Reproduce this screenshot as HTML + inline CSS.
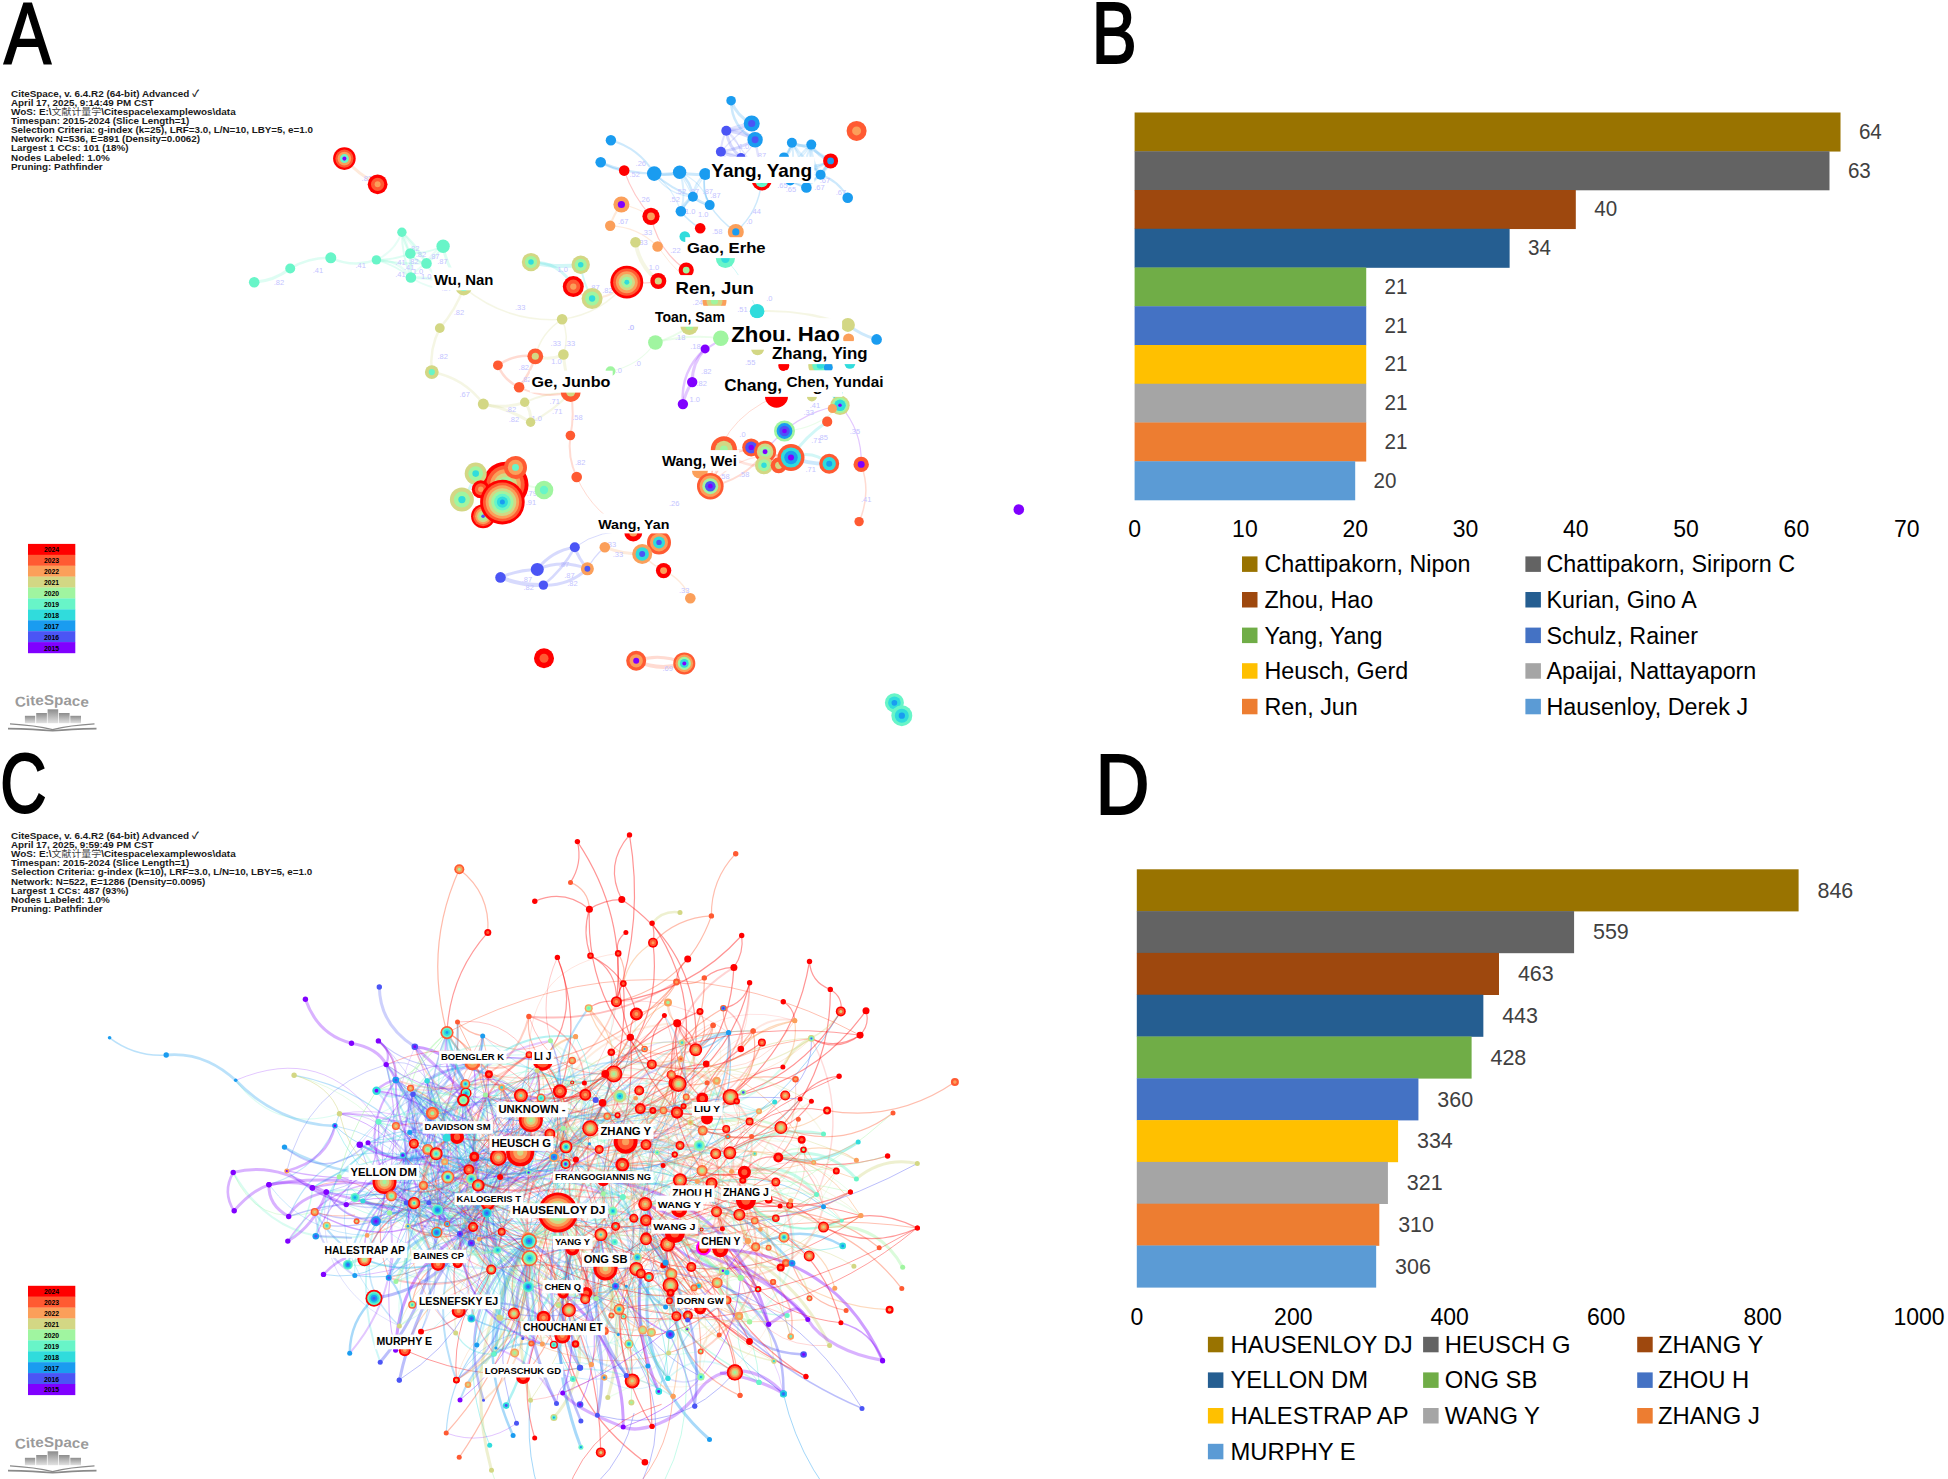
<!DOCTYPE html><html><head><meta charset="utf-8"><title>CiteSpace author networks</title><style>html,body{margin:0;padding:0;background:#fff;width:1948px;height:1479px;overflow:hidden}svg{display:block}</style></head><body><svg width="1948" height="1479" viewBox="0 0 1948 1479"><path d="M654.2,173.6 Q667.1,176.6 679.6,172.2" stroke="#1a9cf0" stroke-opacity="0.16" stroke-width="2.5" fill="none"/><path d="M654.2,173.6 Q667.7,195.0 692.9,196.8" stroke="#1a9cf0" stroke-opacity="0.16" stroke-width="1.2" fill="none"/><path d="M654.2,173.6 Q673.2,188.4 680.9,211.3" stroke="#1a9cf0" stroke-opacity="0.16" stroke-width="1.2" fill="none"/><path d="M679.6,172.2 Q686.7,184.3 692.9,196.8" stroke="#1a9cf0" stroke-opacity="0.16" stroke-width="1.2" fill="none"/><path d="M679.6,172.2 Q702.5,181.5 709.7,205.1" stroke="#1a9cf0" stroke-opacity="0.16" stroke-width="1.2" fill="none"/><path d="M679.6,172.2 Q686.9,191.5 680.9,211.3" stroke="#1a9cf0" stroke-opacity="0.16" stroke-width="2" fill="none"/><path d="M705.2,174.0 Q694.0,182.7 692.9,196.8" stroke="#1a9cf0" stroke-opacity="0.16" stroke-width="2" fill="none"/><path d="M705.2,174.0 Q701.9,190.4 709.7,205.1" stroke="#1a9cf0" stroke-opacity="0.16" stroke-width="1.2" fill="none"/><path d="M705.2,174.0 Q694.3,193.5 680.9,211.3" stroke="#1a9cf0" stroke-opacity="0.16" stroke-width="1.2" fill="none"/><path d="M692.9,196.8 Q699.5,204.7 709.7,205.1" stroke="#1a9cf0" stroke-opacity="0.16" stroke-width="1.2" fill="none"/><path d="M692.9,196.8 Q682.9,200.7 680.9,211.3" stroke="#1a9cf0" stroke-opacity="0.16" stroke-width="1.2" fill="none"/><path d="M784.0,157.4 Q792.0,152.3 791.9,142.8" stroke="#1a9cf0" stroke-opacity="0.16" stroke-width="2.5" fill="none"/><path d="M784.0,157.4 Q797.4,176.4 820.6,174.8" stroke="#1a9cf0" stroke-opacity="0.16" stroke-width="1.2" fill="none"/><path d="M784.0,157.4 Q774.8,170.8 761.7,180.5" stroke="#1a9cf0" stroke-opacity="0.16" stroke-width="1.2" fill="none"/><path d="M791.9,142.8 Q813.1,147.9 830.6,160.9" stroke="#1a9cf0" stroke-opacity="0.16" stroke-width="2.5" fill="none"/><path d="M791.9,142.8 Q804.4,160.5 820.6,174.8" stroke="#1a9cf0" stroke-opacity="0.16" stroke-width="2.5" fill="none"/><path d="M791.9,142.8 Q804.2,163.4 806.4,187.4" stroke="#1a9cf0" stroke-opacity="0.16" stroke-width="2" fill="none"/><path d="M791.9,142.8 Q795.2,161.8 790.2,180.5" stroke="#1a9cf0" stroke-opacity="0.16" stroke-width="2" fill="none"/><path d="M791.9,142.8 Q784.1,167.5 761.7,180.5" stroke="#1a9cf0" stroke-opacity="0.16" stroke-width="2" fill="none"/><path d="M811.3,144.6 Q811.4,161.1 820.6,174.8" stroke="#1a9cf0" stroke-opacity="0.16" stroke-width="2" fill="none"/><path d="M811.3,144.6 Q801.5,165.2 806.4,187.4" stroke="#1a9cf0" stroke-opacity="0.16" stroke-width="2" fill="none"/><path d="M811.3,144.6 Q793.4,158.2 790.2,180.5" stroke="#1a9cf0" stroke-opacity="0.16" stroke-width="2" fill="none"/><path d="M811.3,144.6 Q793.4,172.0 761.7,180.5" stroke="#1a9cf0" stroke-opacity="0.16" stroke-width="1.2" fill="none"/><path d="M830.6,160.9 Q827.7,169.4 820.6,174.8" stroke="#1a9cf0" stroke-opacity="0.16" stroke-width="2" fill="none"/><path d="M830.6,160.9 Q820.8,176.3 806.4,187.4" stroke="#1a9cf0" stroke-opacity="0.16" stroke-width="2.5" fill="none"/><path d="M830.6,160.9 Q810.8,171.6 790.2,180.5" stroke="#1a9cf0" stroke-opacity="0.16" stroke-width="2.5" fill="none"/><path d="M820.6,174.8 Q789.6,161.9 761.7,180.5" stroke="#1a9cf0" stroke-opacity="0.16" stroke-width="1.2" fill="none"/><path d="M806.4,187.4 Q798.4,183.8 790.2,180.5" stroke="#1a9cf0" stroke-opacity="0.16" stroke-width="2" fill="none"/><path d="M790.2,180.5 Q776.0,173.2 761.7,180.5" stroke="#1a9cf0" stroke-opacity="0.16" stroke-width="2.5" fill="none"/><path d="M726.3,130.7 Q721.3,140.6 720.9,151.7" stroke="#4b55f5" stroke-opacity="0.16" stroke-width="2" fill="none"/><path d="M726.3,130.7 Q740.4,140.3 741.0,157.4" stroke="#4b55f5" stroke-opacity="0.16" stroke-width="1.2" fill="none"/><path d="M726.3,130.7 Q738.2,124.2 751.7,123.5" stroke="#4b55f5" stroke-opacity="0.16" stroke-width="2" fill="none"/><path d="M726.3,130.7 Q743.1,127.4 755.1,139.7" stroke="#4b55f5" stroke-opacity="0.16" stroke-width="2.5" fill="none"/><path d="M726.3,130.7 Q746.8,153.6 761.7,180.5" stroke="#4b55f5" stroke-opacity="0.16" stroke-width="1.2" fill="none"/><path d="M720.9,151.7 Q731.5,152.7 741.0,157.4" stroke="#4b55f5" stroke-opacity="0.16" stroke-width="2" fill="none"/><path d="M720.9,151.7 Q735.0,136.2 751.7,123.5" stroke="#4b55f5" stroke-opacity="0.16" stroke-width="1.2" fill="none"/><path d="M720.9,151.7 Q736.1,173.5 761.7,180.5" stroke="#4b55f5" stroke-opacity="0.16" stroke-width="2" fill="none"/><path d="M741.0,157.4 Q750.5,150.5 755.1,139.7" stroke="#4b55f5" stroke-opacity="0.16" stroke-width="1.2" fill="none"/><path d="M741.0,157.4 Q747.4,172.5 761.7,180.5" stroke="#4b55f5" stroke-opacity="0.16" stroke-width="1.2" fill="none"/><path d="M751.7,123.5 Q754.6,131.3 755.1,139.7" stroke="#4b55f5" stroke-opacity="0.16" stroke-width="1.2" fill="none"/><path d="M755.1,139.7 Q759.5,159.9 761.7,180.5" stroke="#4b55f5" stroke-opacity="0.16" stroke-width="2.5" fill="none"/><path d="M401.9,232.2 Q414.4,247.6 426.5,263.4" stroke="#68f5c8" stroke-opacity="0.16" stroke-width="2.5" fill="none"/><path d="M401.9,232.2 Q412.5,253.6 410.9,277.5" stroke="#68f5c8" stroke-opacity="0.16" stroke-width="2" fill="none"/><path d="M401.9,232.2 Q395.0,251.5 376.4,259.9" stroke="#68f5c8" stroke-opacity="0.16" stroke-width="2" fill="none"/><path d="M410.3,253.5 Q415.8,262.7 426.5,263.4" stroke="#68f5c8" stroke-opacity="0.16" stroke-width="2" fill="none"/><path d="M410.3,253.5 Q410.7,265.5 410.9,277.5" stroke="#68f5c8" stroke-opacity="0.16" stroke-width="2.5" fill="none"/><path d="M443.1,246.3 Q431.9,252.0 426.5,263.4" stroke="#68f5c8" stroke-opacity="0.16" stroke-width="2" fill="none"/><path d="M426.5,263.4 Q417.0,268.5 410.9,277.5" stroke="#68f5c8" stroke-opacity="0.16" stroke-width="2" fill="none"/><path d="M426.5,263.4 Q438.2,286.1 463.7,287.4" stroke="#68f5c8" stroke-opacity="0.16" stroke-width="2.5" fill="none"/><path d="M410.9,277.5 Q398.4,259.5 376.4,259.9" stroke="#68f5c8" stroke-opacity="0.16" stroke-width="2.5" fill="none"/><path d="M410.9,277.5 Q435.2,293.6 463.7,287.4" stroke="#68f5c8" stroke-opacity="0.16" stroke-width="2" fill="none"/><path d="M751.2,447.4 Q757.7,451.0 765.1,451.7" stroke="#ff5a32" stroke-opacity="0.16" stroke-width="2" fill="none"/><path d="M751.2,447.4 Q757.6,456.4 764.0,465.3" stroke="#ff5a32" stroke-opacity="0.16" stroke-width="2.5" fill="none"/><path d="M751.2,447.4 Q770.2,455.9 791.0,457.5" stroke="#ff5a32" stroke-opacity="0.16" stroke-width="2.5" fill="none"/><path d="M751.2,447.4 Q720.9,456.4 710.3,486.2" stroke="#ff5a32" stroke-opacity="0.16" stroke-width="1.2" fill="none"/><path d="M764.0,465.3 Q779.1,466.9 791.0,457.5" stroke="#ff5a32" stroke-opacity="0.16" stroke-width="2" fill="none"/><path d="M764.0,465.3 Q739.9,467.4 723.9,449.3" stroke="#ff5a32" stroke-opacity="0.16" stroke-width="2.5" fill="none"/><path d="M778.7,465.3 Q786.2,463.5 791.0,457.5" stroke="#ff5a32" stroke-opacity="0.16" stroke-width="2.5" fill="none"/><path d="M791.0,457.5 Q757.7,451.3 723.9,449.3" stroke="#ff5a32" stroke-opacity="0.16" stroke-width="2.5" fill="none"/><path d="M791.0,457.5 Q742.1,447.8 710.3,486.2" stroke="#ff5a32" stroke-opacity="0.16" stroke-width="1.2" fill="none"/><path d="M723.9,449.3 Q718.4,468.2 710.3,486.2" stroke="#ff5a32" stroke-opacity="0.16" stroke-width="2.5" fill="none"/><path d="M344.4,158.6 Q358.4,174.8 377.6,184.3" stroke="#fb9f5a" stroke-opacity="0.22" stroke-width="3" fill="none"/><path d="M254.2,282.3 Q274.3,280.8 290.2,268.5" stroke="#68f5c8" stroke-opacity="0.22" stroke-width="3" fill="none"/><path d="M290.2,268.5 Q308.9,257.1 330.8,257.8" stroke="#68f5c8" stroke-opacity="0.22" stroke-width="2.5" fill="none"/><path d="M330.8,257.8 Q353.2,268.0 376.4,259.9" stroke="#68f5c8" stroke-opacity="0.22" stroke-width="2.5" fill="none"/><path d="M376.4,259.9 Q394.0,260.1 410.3,253.5" stroke="#68f5c8" stroke-opacity="0.22" stroke-width="2" fill="none"/><path d="M376.4,259.9 Q401.3,264.2 426.5,263.4" stroke="#68f5c8" stroke-opacity="0.22" stroke-width="2" fill="none"/><path d="M376.4,259.9 Q395.4,265.2 410.9,277.5" stroke="#68f5c8" stroke-opacity="0.22" stroke-width="2" fill="none"/><path d="M401.9,232.2 Q404.0,243.7 410.3,253.5" stroke="#68f5c8" stroke-opacity="0.22" stroke-width="2" fill="none"/><path d="M401.9,232.2 Q417.3,245.3 426.5,263.4" stroke="#68f5c8" stroke-opacity="0.22" stroke-width="2" fill="none"/><path d="M410.3,253.5 Q427.4,253.2 443.1,246.3" stroke="#68f5c8" stroke-opacity="0.22" stroke-width="2" fill="none"/><path d="M426.5,263.4 Q436.5,256.5 443.1,246.3" stroke="#68f5c8" stroke-opacity="0.22" stroke-width="2" fill="none"/><path d="M410.9,277.5 Q438.3,277.2 463.7,287.4" stroke="#68f5c8" stroke-opacity="0.22" stroke-width="3" fill="none"/><path d="M443.1,246.3 Q447.2,269.9 463.7,287.4" stroke="#68f5c8" stroke-opacity="0.22" stroke-width="3" fill="none"/><path d="M410.3,253.5 Q416.4,261.7 426.5,263.4" stroke="#68f5c8" stroke-opacity="0.22" stroke-width="2" fill="none"/><path d="M401.9,232.2 Q401.9,255.8 410.9,277.5" stroke="#68f5c8" stroke-opacity="0.22" stroke-width="2" fill="none"/><path d="M463.7,287.4 Q455.8,310.1 439.8,328.1" stroke="#d3d784" stroke-opacity="0.22" stroke-width="2.5" fill="none"/><path d="M463.7,287.4 Q506.5,323.0 562.1,319.3" stroke="#d3d784" stroke-opacity="0.22" stroke-width="1.5" fill="none"/><path d="M439.8,328.1 Q429.2,348.9 431.8,372.1" stroke="#d3d784" stroke-opacity="0.22" stroke-width="2.5" fill="none"/><path d="M431.8,372.1 Q463.9,377.8 483.3,404.1" stroke="#d3d784" stroke-opacity="0.22" stroke-width="2.5" fill="none"/><path d="M483.3,404.1 Q504.3,409.4 524.7,402.3" stroke="#d3d784" stroke-opacity="0.22" stroke-width="3" fill="none"/><path d="M483.3,404.1 Q508.8,408.5 530.6,422.3" stroke="#d3d784" stroke-opacity="0.22" stroke-width="3" fill="none"/><path d="M524.7,402.3 Q531.7,411.1 530.6,422.3" stroke="#d3d784" stroke-opacity="0.22" stroke-width="3" fill="none"/><path d="M530.6,422.3 Q553.7,411.2 570.7,392.0" stroke="#d3d784" stroke-opacity="0.22" stroke-width="2" fill="none"/><path d="M524.7,402.3 Q546.7,392.5 570.7,392.0" stroke="#d3d784" stroke-opacity="0.22" stroke-width="2" fill="none"/><path d="M562.1,319.3 Q541.3,332.4 535.3,356.3" stroke="#d3d784" stroke-opacity="0.22" stroke-width="1.5" fill="none"/><path d="M562.1,319.3 Q569.8,336.6 563.4,354.5" stroke="#d3d784" stroke-opacity="0.22" stroke-width="1.5" fill="none"/><path d="M535.3,356.3 Q549.7,361.0 563.4,354.5" stroke="#d3d784" stroke-opacity="0.22" stroke-width="3" fill="none"/><path d="M563.4,354.5 Q565.2,373.6 570.7,392.0" stroke="#d3d784" stroke-opacity="0.22" stroke-width="3" fill="none"/><path d="M535.3,356.3 Q514.8,353.3 497.9,365.3" stroke="#ff5a32" stroke-opacity="0.22" stroke-width="2.5" fill="none"/><path d="M497.9,365.3 Q504.1,380.5 519.1,387.2" stroke="#ff5a32" stroke-opacity="0.22" stroke-width="2.5" fill="none"/><path d="M535.3,356.3 Q530.3,373.4 519.1,387.2" stroke="#ff5a32" stroke-opacity="0.22" stroke-width="2.5" fill="none"/><path d="M519.1,387.2 Q543.9,399.9 570.7,392.0" stroke="#ff5a32" stroke-opacity="0.22" stroke-width="2" fill="none"/><path d="M570.7,392.0 Q574.9,413.8 570.4,435.5" stroke="#ff5a32" stroke-opacity="0.22" stroke-width="2" fill="none"/><path d="M570.4,435.5 Q567.3,457.2 576.7,477.0" stroke="#ff5a32" stroke-opacity="0.22" stroke-width="2" fill="none"/><path d="M562.1,319.3 Q601.9,313.7 626.8,282.2" stroke="#d3d784" stroke-opacity="0.22" stroke-width="1.5" fill="none"/><path d="M531.0,262.1 Q555.6,268.4 580.7,264.8" stroke="#30dcdc" stroke-opacity="0.22" stroke-width="4" fill="none"/><path d="M531.0,262.1 Q559.5,261.7 573.3,286.6" stroke="#30dcdc" stroke-opacity="0.22" stroke-width="3" fill="none"/><path d="M580.7,264.8 Q583.0,282.8 592.1,298.5" stroke="#30dcdc" stroke-opacity="0.22" stroke-width="2" fill="none"/><path d="M573.3,286.6 Q580.3,296.3 592.1,298.5" stroke="#fb9f5a" stroke-opacity="0.22" stroke-width="2" fill="none"/><path d="M592.1,298.5 Q612.7,297.3 626.8,282.2" stroke="#fb9f5a" stroke-opacity="0.22" stroke-width="2" fill="none"/><path d="M626.8,282.2 Q642.7,284.8 658.3,281.0" stroke="#ff0000" stroke-opacity="0.22" stroke-width="1.2" fill="none"/><path d="M610.5,371.2 Q638.7,365.8 655.4,342.5" stroke="#a0f5a0" stroke-opacity="0.22" stroke-width="1.2" fill="none"/><path d="M655.4,342.5 Q687.7,333.9 720.8,338.3" stroke="#a0f5a0" stroke-opacity="0.22" stroke-width="2" fill="none"/><path d="M655.4,342.5 Q674.0,337.6 689.4,326.0" stroke="#a0f5a0" stroke-opacity="0.22" stroke-width="2" fill="none"/><path d="M705.1,348.9 Q692.0,362.9 692.2,382.1" stroke="#8000ff" stroke-opacity="0.22" stroke-width="3" fill="none"/><path d="M692.2,382.1 Q685.3,392.2 682.9,404.1" stroke="#8000ff" stroke-opacity="0.22" stroke-width="3" fill="none"/><path d="M705.1,348.9 Q680.2,370.9 682.9,404.1" stroke="#8000ff" stroke-opacity="0.22" stroke-width="2.5" fill="none"/><path d="M705.1,348.9 Q714.0,345.2 720.8,338.3" stroke="#8000ff" stroke-opacity="0.22" stroke-width="2" fill="none"/><path d="M610.9,140.3 Q639.2,148.3 654.2,173.6" stroke="#1a9cf0" stroke-opacity="0.22" stroke-width="2" fill="none"/><path d="M600.7,162.3 Q626.3,173.3 654.2,173.6" stroke="#1a9cf0" stroke-opacity="0.22" stroke-width="2.5" fill="none"/><path d="M654.2,173.6 Q667.0,175.4 679.6,172.2" stroke="#1a9cf0" stroke-opacity="0.22" stroke-width="3" fill="none"/><path d="M679.6,172.2 Q692.2,175.7 705.2,174.0" stroke="#1a9cf0" stroke-opacity="0.22" stroke-width="3" fill="none"/><path d="M654.2,173.6 Q671.2,189.1 692.9,196.8" stroke="#1a9cf0" stroke-opacity="0.22" stroke-width="2" fill="none"/><path d="M679.6,172.2 Q691.2,181.8 692.9,196.8" stroke="#1a9cf0" stroke-opacity="0.22" stroke-width="2.5" fill="none"/><path d="M692.9,196.8 Q700.5,202.6 709.7,205.1" stroke="#1a9cf0" stroke-opacity="0.22" stroke-width="2.5" fill="none"/><path d="M692.9,196.8 Q685.4,202.9 680.9,211.3" stroke="#1a9cf0" stroke-opacity="0.22" stroke-width="2.5" fill="none"/><path d="M705.2,174.0 Q701.2,190.5 709.7,205.1" stroke="#1a9cf0" stroke-opacity="0.22" stroke-width="2" fill="none"/><path d="M680.9,211.3 Q688.8,221.7 700.2,228.3" stroke="#1a9cf0" stroke-opacity="0.22" stroke-width="1.5" fill="none"/><path d="M709.7,205.1 Q720.1,221.1 735.8,231.9" stroke="#1a9cf0" stroke-opacity="0.22" stroke-width="1.5" fill="none"/><path d="M761.7,180.5 Q759.0,211.4 735.8,231.9" stroke="#1a9cf0" stroke-opacity="0.22" stroke-width="1.5" fill="none"/><path d="M731.1,100.7 Q736.8,116.2 751.7,123.5" stroke="#1a9cf0" stroke-opacity="0.22" stroke-width="3" fill="none"/><path d="M731.1,100.7 Q731.4,127.4 755.1,139.7" stroke="#1a9cf0" stroke-opacity="0.22" stroke-width="2.5" fill="none"/><path d="M726.3,130.7 Q728.3,147.0 741.0,157.4" stroke="#4b55f5" stroke-opacity="0.22" stroke-width="3" fill="none"/><path d="M720.9,151.7 Q739.2,149.1 755.1,139.7" stroke="#4b55f5" stroke-opacity="0.22" stroke-width="3" fill="none"/><path d="M726.3,130.7 Q741.6,132.3 755.1,139.7" stroke="#4b55f5" stroke-opacity="0.22" stroke-width="3" fill="none"/><path d="M726.3,130.7 Q739.7,129.6 751.7,123.5" stroke="#4b55f5" stroke-opacity="0.22" stroke-width="3" fill="none"/><path d="M741.0,157.4 Q749.0,171.0 761.7,180.5" stroke="#4b55f5" stroke-opacity="0.22" stroke-width="2.5" fill="none"/><path d="M720.9,151.7 Q730.4,156.6 741.0,157.4" stroke="#4b55f5" stroke-opacity="0.22" stroke-width="3" fill="none"/><path d="M784.0,157.4 Q789.4,150.9 791.9,142.8" stroke="#1a9cf0" stroke-opacity="0.22" stroke-width="2" fill="none"/><path d="M791.9,142.8 Q801.2,147.6 811.3,144.6" stroke="#1a9cf0" stroke-opacity="0.22" stroke-width="3" fill="none"/><path d="M811.3,144.6 Q817.7,156.6 830.6,160.9" stroke="#1a9cf0" stroke-opacity="0.22" stroke-width="3" fill="none"/><path d="M784.0,157.4 Q806.2,173.1 830.6,160.9" stroke="#1a9cf0" stroke-opacity="0.22" stroke-width="2.5" fill="none"/><path d="M830.6,160.9 Q824.2,166.9 820.6,174.8" stroke="#1a9cf0" stroke-opacity="0.22" stroke-width="2" fill="none"/><path d="M820.6,174.8 Q812.2,179.7 806.4,187.4" stroke="#1a9cf0" stroke-opacity="0.22" stroke-width="2" fill="none"/><path d="M790.2,180.5 Q797.6,185.6 806.4,187.4" stroke="#1a9cf0" stroke-opacity="0.22" stroke-width="2" fill="none"/><path d="M820.6,174.8 Q838.7,180.8 847.7,197.7" stroke="#1a9cf0" stroke-opacity="0.22" stroke-width="2" fill="none"/><path d="M811.3,144.6 Q806.9,162.5 820.6,174.8" stroke="#1a9cf0" stroke-opacity="0.22" stroke-width="2" fill="none"/><path d="M600.7,162.3 Q611.6,168.8 624.2,170.6" stroke="#1a9cf0" stroke-opacity="0.22" stroke-width="2" fill="none"/><path d="M624.2,170.6 Q633.0,196.1 651.0,216.3" stroke="#ff0000" stroke-opacity="0.22" stroke-width="1.2" fill="none"/><path d="M621.4,204.5 Q613.7,214.0 610.2,225.8" stroke="#fb9f5a" stroke-opacity="0.22" stroke-width="2" fill="none"/><path d="M610.2,225.8 Q638.0,226.7 657.6,246.5" stroke="#fb9f5a" stroke-opacity="0.22" stroke-width="1.2" fill="none"/><path d="M621.4,204.5 Q637.4,207.4 651.0,216.3" stroke="#fb9f5a" stroke-opacity="0.22" stroke-width="1.2" fill="none"/><path d="M651.0,216.3 Q657.8,250.2 686.2,270.1" stroke="#ff0000" stroke-opacity="0.22" stroke-width="1.2" fill="none"/><path d="M635.5,242.2 Q639.1,266.2 658.3,281.0" stroke="#d3d784" stroke-opacity="0.22" stroke-width="4" fill="none"/><path d="M657.6,246.5 Q680.6,279.4 714.5,301.0" stroke="#fb9f5a" stroke-opacity="0.22" stroke-width="1" fill="none"/><path d="M725.4,258.6 Q746.5,281.7 757.1,311.2" stroke="#30dcdc" stroke-opacity="0.22" stroke-width="1" fill="none"/><path d="M757.1,311.2 Q803.9,309.0 847.9,324.9" stroke="#d3d784" stroke-opacity="0.22" stroke-width="2" fill="none"/><path d="M847.9,324.9 Q860.8,335.0 876.6,339.4" stroke="#1a9cf0" stroke-opacity="0.22" stroke-width="3" fill="none"/><path d="M784.5,431.0 Q817.4,429.2 840.0,405.3" stroke="#a0f5a0" stroke-opacity="0.22" stroke-width="1.2" fill="none"/><path d="M840.0,405.3 Q862.4,430.6 861.2,464.4" stroke="#8000ff" stroke-opacity="0.22" stroke-width="1.2" fill="none"/><path d="M791.0,457.5 Q809.5,464.4 829.2,463.7" stroke="#1a9cf0" stroke-opacity="0.22" stroke-width="4" fill="none"/><path d="M791.0,457.5 Q812.0,449.1 829.2,463.7" stroke="#30dcdc" stroke-opacity="0.22" stroke-width="3" fill="none"/><path d="M827.2,421.7 Q805.5,436.0 791.0,457.5" stroke="#30dcdc" stroke-opacity="0.22" stroke-width="3" fill="none"/><path d="M840.0,405.3 Q793.3,413.5 765.1,451.7" stroke="#8000ff" stroke-opacity="0.22" stroke-width="1.2" fill="none"/><path d="M861.2,464.4 Q871.6,493.4 859.1,521.6" stroke="#ff5a32" stroke-opacity="0.22" stroke-width="1.5" fill="none"/><path d="M776.5,396.2 Q716.4,421.3 710.3,486.2" stroke="#ff5a32" stroke-opacity="0.22" stroke-width="1" fill="none"/><path d="M723.9,449.3 Q709.7,465.0 710.3,486.2" stroke="#ff5a32" stroke-opacity="0.22" stroke-width="1.5" fill="none"/><path d="M710.3,486.2 Q744.6,479.9 765.1,451.7" stroke="#ff5a32" stroke-opacity="0.22" stroke-width="2" fill="none"/><path d="M576.7,477.0 Q593.9,516.0 633.3,532.4" stroke="#ff5a32" stroke-opacity="0.22" stroke-width="1" fill="none"/><path d="M690.3,598.2 Q682.5,579.1 663.6,570.6" stroke="#fb9f5a" stroke-opacity="0.22" stroke-width="1.5" fill="none"/><path d="M659.0,542.4 Q649.4,546.5 642.2,554.0" stroke="#fb9f5a" stroke-opacity="0.22" stroke-width="2" fill="none"/><path d="M604.8,547.2 Q622.8,554.3 642.2,554.0" stroke="#fb9f5a" stroke-opacity="0.22" stroke-width="3" fill="none"/><path d="M642.2,554.0 Q651.2,564.4 663.6,570.6" stroke="#fb9f5a" stroke-opacity="0.22" stroke-width="1.5" fill="none"/><path d="M574.8,547.3 Q551.6,550.8 537.3,569.4" stroke="#4b55f5" stroke-opacity="0.22" stroke-width="3" fill="none"/><path d="M537.3,569.4 Q518.1,569.7 500.5,577.4" stroke="#4b55f5" stroke-opacity="0.22" stroke-width="3" fill="none"/><path d="M500.5,577.4 Q521.2,585.5 543.4,585.1" stroke="#4b55f5" stroke-opacity="0.22" stroke-width="4" fill="none"/><path d="M537.3,569.4 Q562.2,559.1 587.4,568.8" stroke="#4b55f5" stroke-opacity="0.22" stroke-width="3" fill="none"/><path d="M543.4,585.1 Q568.7,585.8 587.4,568.8" stroke="#4b55f5" stroke-opacity="0.22" stroke-width="3" fill="none"/><path d="M574.8,547.3 Q578.9,559.3 587.4,568.8" stroke="#4b55f5" stroke-opacity="0.22" stroke-width="3" fill="none"/><path d="M543.4,585.1 Q562.9,569.3 574.8,547.3" stroke="#4b55f5" stroke-opacity="0.22" stroke-width="2.5" fill="none"/><path d="M587.4,568.8 Q593.9,556.3 604.8,547.2" stroke="#4b55f5" stroke-opacity="0.22" stroke-width="1.2" fill="none"/><path d="M574.8,547.3 Q601.1,528.1 633.3,532.4" stroke="#4b55f5" stroke-opacity="0.22" stroke-width="1" fill="none"/><path d="M461.9,499.6 Q471.4,488.0 475.7,473.6" stroke="#30dcdc" stroke-opacity="0.22" stroke-width="3" fill="none"/><path d="M544.0,490.0 Q525.3,483.5 505.5,484.7" stroke="#a0f5a0" stroke-opacity="0.22" stroke-width="2" fill="none"/><path d="M636.2,660.8 Q659.7,671.7 684.3,663.4" stroke="#ff5a32" stroke-opacity="0.22" stroke-width="4" fill="none"/><path d="M636.2,660.8 Q660.8,652.5 684.3,663.4" stroke="#ff5a32" stroke-opacity="0.22" stroke-width="3" fill="none"/><path d="M894.4,702.8 Q898.1,709.2 901.8,715.7" stroke="#68f5c8" stroke-opacity="0.22" stroke-width="2" fill="none"/><text x="366.8" y="181.1" font-family="Liberation Sans" font-size="7.5" fill="#c4c4ff" text-anchor="middle">.82</text><text x="278.9" y="284.8" font-family="Liberation Sans" font-size="7.5" fill="#c4c4ff" text-anchor="middle">.82</text><text x="317.9" y="272.5" font-family="Liberation Sans" font-size="7.5" fill="#c4c4ff" text-anchor="middle">.41</text><text x="360.6" y="267.9" font-family="Liberation Sans" font-size="7.5" fill="#c4c4ff" text-anchor="middle">.41</text><text x="414.2" y="250.9" font-family="Liberation Sans" font-size="7.5" fill="#c4c4ff" text-anchor="middle">.82</text><text x="421.0" y="256.6" font-family="Liberation Sans" font-size="7.5" fill="#c4c4ff" text-anchor="middle">.82</text><text x="434.3" y="258.7" font-family="Liberation Sans" font-size="7.5" fill="#c4c4ff" text-anchor="middle">.87</text><text x="442.5" y="263.8" font-family="Liberation Sans" font-size="7.5" fill="#c4c4ff" text-anchor="middle">.87</text><text x="400.4" y="264.8" font-family="Liberation Sans" font-size="7.5" fill="#c4c4ff" text-anchor="middle">.41</text><text x="413.4" y="263.8" font-family="Liberation Sans" font-size="7.5" fill="#c4c4ff" text-anchor="middle">.82</text><text x="409.1" y="270.0" font-family="Liberation Sans" font-size="7.5" fill="#c4c4ff" text-anchor="middle">.41</text><text x="417.9" y="274.1" font-family="Liberation Sans" font-size="7.5" fill="#c4c4ff" text-anchor="middle">1.0</text><text x="400.4" y="277.2" font-family="Liberation Sans" font-size="7.5" fill="#c4c4ff" text-anchor="middle">.41</text><text x="426.1" y="279.2" font-family="Liberation Sans" font-size="7.5" fill="#c4c4ff" text-anchor="middle">1.0</text><text x="446.6" y="290.5" font-family="Liberation Sans" font-size="7.5" fill="#c4c4ff" text-anchor="middle">.87</text><text x="562.6" y="271.8" font-family="Liberation Sans" font-size="7.5" fill="#c4c4ff" text-anchor="middle">1.0</text><text x="594.5" y="289.5" font-family="Liberation Sans" font-size="7.5" fill="#c4c4ff" text-anchor="middle">.87</text><text x="607.4" y="293.4" font-family="Liberation Sans" font-size="7.5" fill="#c4c4ff" text-anchor="middle">.82</text><text x="520.1" y="310.0" font-family="Liberation Sans" font-size="7.5" fill="#c4c4ff" text-anchor="middle">.33</text><text x="459.0" y="315.1" font-family="Liberation Sans" font-size="7.5" fill="#c4c4ff" text-anchor="middle">.82</text><text x="442.7" y="358.8" font-family="Liberation Sans" font-size="7.5" fill="#c4c4ff" text-anchor="middle">.82</text><text x="555.8" y="346.2" font-family="Liberation Sans" font-size="7.5" fill="#c4c4ff" text-anchor="middle">.33</text><text x="570.0" y="345.6" font-family="Liberation Sans" font-size="7.5" fill="#c4c4ff" text-anchor="middle">.33</text><text x="556.5" y="364.1" font-family="Liberation Sans" font-size="7.5" fill="#c4c4ff" text-anchor="middle">1.0</text><text x="523.8" y="369.6" font-family="Liberation Sans" font-size="7.5" fill="#c4c4ff" text-anchor="middle">.82</text><text x="526.3" y="382.0" font-family="Liberation Sans" font-size="7.5" fill="#c4c4ff" text-anchor="middle">.82</text><text x="464.7" y="396.7" font-family="Liberation Sans" font-size="7.5" fill="#c4c4ff" text-anchor="middle">.67</text><text x="510.9" y="411.5" font-family="Liberation Sans" font-size="7.5" fill="#c4c4ff" text-anchor="middle">.82</text><text x="554.6" y="403.5" font-family="Liberation Sans" font-size="7.5" fill="#c4c4ff" text-anchor="middle">.71</text><text x="557.1" y="414.0" font-family="Liberation Sans" font-size="7.5" fill="#c4c4ff" text-anchor="middle">.71</text><text x="514.0" y="421.8" font-family="Liberation Sans" font-size="7.5" fill="#c4c4ff" text-anchor="middle">.82</text><text x="536.7" y="421.4" font-family="Liberation Sans" font-size="7.5" fill="#c4c4ff" text-anchor="middle">1.0</text><text x="577.4" y="420.2" font-family="Liberation Sans" font-size="7.5" fill="#c4c4ff" text-anchor="middle">.58</text><text x="631.0" y="329.6" font-family="Liberation Sans" font-size="7.5" fill="#c4c4ff" text-anchor="middle">.0</text><text x="618.7" y="373.3" font-family="Liberation Sans" font-size="7.5" fill="#c4c4ff" text-anchor="middle">.0</text><text x="640.8" y="166.0" font-family="Liberation Sans" font-size="7.5" fill="#c4c4ff" text-anchor="middle">.26</text><text x="634.7" y="176.5" font-family="Liberation Sans" font-size="7.5" fill="#c4c4ff" text-anchor="middle">.52</text><text x="644.7" y="202.2" font-family="Liberation Sans" font-size="7.5" fill="#c4c4ff" text-anchor="middle">.26</text><text x="623.1" y="223.8" font-family="Liberation Sans" font-size="7.5" fill="#c4c4ff" text-anchor="middle">.67</text><text x="647.0" y="234.6" font-family="Liberation Sans" font-size="7.5" fill="#c4c4ff" text-anchor="middle">.33</text><text x="642.4" y="244.6" font-family="Liberation Sans" font-size="7.5" fill="#c4c4ff" text-anchor="middle">.33</text><text x="675.5" y="253.1" font-family="Liberation Sans" font-size="7.5" fill="#c4c4ff" text-anchor="middle">.22</text><text x="653.9" y="270.3" font-family="Liberation Sans" font-size="7.5" fill="#c4c4ff" text-anchor="middle">1.0</text><text x="680.9" y="193.8" font-family="Liberation Sans" font-size="7.5" fill="#c4c4ff" text-anchor="middle">.52</text><text x="694.0" y="193.8" font-family="Liberation Sans" font-size="7.5" fill="#c4c4ff" text-anchor="middle">.87</text><text x="707.8" y="193.8" font-family="Liberation Sans" font-size="7.5" fill="#c4c4ff" text-anchor="middle">.87</text><text x="674.7" y="201.5" font-family="Liberation Sans" font-size="7.5" fill="#c4c4ff" text-anchor="middle">.52</text><text x="715.5" y="198.4" font-family="Liberation Sans" font-size="7.5" fill="#c4c4ff" text-anchor="middle">.87</text><text x="690.1" y="213.8" font-family="Liberation Sans" font-size="7.5" fill="#c4c4ff" text-anchor="middle">1.0</text><text x="703.2" y="216.9" font-family="Liberation Sans" font-size="7.5" fill="#c4c4ff" text-anchor="middle">1.0</text><text x="717.1" y="233.8" font-family="Liberation Sans" font-size="7.5" fill="#c4c4ff" text-anchor="middle">.58</text><text x="755.6" y="213.8" font-family="Liberation Sans" font-size="7.5" fill="#c4c4ff" text-anchor="middle">.44</text><text x="749.4" y="223.8" font-family="Liberation Sans" font-size="7.5" fill="#c4c4ff" text-anchor="middle">.0</text><text x="782.5" y="187.6" font-family="Liberation Sans" font-size="7.5" fill="#c4c4ff" text-anchor="middle">.65</text><text x="791.0" y="191.5" font-family="Liberation Sans" font-size="7.5" fill="#c4c4ff" text-anchor="middle">.65</text><text x="824.9" y="183.0" font-family="Liberation Sans" font-size="7.5" fill="#c4c4ff" text-anchor="middle">.67</text><text x="819.5" y="189.9" font-family="Liberation Sans" font-size="7.5" fill="#c4c4ff" text-anchor="middle">.67</text><text x="841.0" y="194.5" font-family="Liberation Sans" font-size="7.5" fill="#c4c4ff" text-anchor="middle">.67</text><text x="744.0" y="149.1" font-family="Liberation Sans" font-size="7.5" fill="#c4c4ff" text-anchor="middle">1.0</text><text x="761.0" y="158.3" font-family="Liberation Sans" font-size="7.5" fill="#c4c4ff" text-anchor="middle">.87</text><text x="697.8" y="304.8" font-family="Liberation Sans" font-size="7.5" fill="#c4c4ff" text-anchor="middle">.24</text><text x="742.5" y="311.8" font-family="Liberation Sans" font-size="7.5" fill="#c4c4ff" text-anchor="middle">.51</text><text x="769.4" y="301.0" font-family="Liberation Sans" font-size="7.5" fill="#c4c4ff" text-anchor="middle">.0</text><text x="630.8" y="329.5" font-family="Liberation Sans" font-size="7.5" fill="#c4c4ff" text-anchor="middle">.0</text><text x="680.1" y="340.3" font-family="Liberation Sans" font-size="7.5" fill="#c4c4ff" text-anchor="middle">.18</text><text x="695.5" y="348.7" font-family="Liberation Sans" font-size="7.5" fill="#c4c4ff" text-anchor="middle">.18</text><text x="637.7" y="365.7" font-family="Liberation Sans" font-size="7.5" fill="#c4c4ff" text-anchor="middle">.0</text><text x="706.3" y="374.1" font-family="Liberation Sans" font-size="7.5" fill="#c4c4ff" text-anchor="middle">.82</text><text x="701.7" y="385.7" font-family="Liberation Sans" font-size="7.5" fill="#c4c4ff" text-anchor="middle">.82</text><text x="694.7" y="401.9" font-family="Liberation Sans" font-size="7.5" fill="#c4c4ff" text-anchor="middle">1.0</text><text x="750.2" y="364.9" font-family="Liberation Sans" font-size="7.5" fill="#c4c4ff" text-anchor="middle">.55</text><text x="814.9" y="408.0" font-family="Liberation Sans" font-size="7.5" fill="#c4c4ff" text-anchor="middle">.41</text><text x="808.7" y="415.0" font-family="Liberation Sans" font-size="7.5" fill="#c4c4ff" text-anchor="middle">.33</text><text x="742.5" y="436.5" font-family="Liberation Sans" font-size="7.5" fill="#c4c4ff" text-anchor="middle">.0</text><text x="854.9" y="434.2" font-family="Liberation Sans" font-size="7.5" fill="#c4c4ff" text-anchor="middle">.35</text><text x="822.6" y="439.6" font-family="Liberation Sans" font-size="7.5" fill="#c4c4ff" text-anchor="middle">.85</text><text x="816.4" y="442.7" font-family="Liberation Sans" font-size="7.5" fill="#c4c4ff" text-anchor="middle">.71</text><text x="866.2" y="501.7" font-family="Liberation Sans" font-size="7.5" fill="#c4c4ff" text-anchor="middle">.41</text><text x="724.5" y="478.9" font-family="Liberation Sans" font-size="7.5" fill="#c4c4ff" text-anchor="middle">.58</text><text x="744.2" y="477.0" font-family="Liberation Sans" font-size="7.5" fill="#c4c4ff" text-anchor="middle">.58</text><text x="810.7" y="472.1" font-family="Liberation Sans" font-size="7.5" fill="#c4c4ff" text-anchor="middle">.71</text><text x="580.2" y="465.3" font-family="Liberation Sans" font-size="7.5" fill="#c4c4ff" text-anchor="middle">.82</text><text x="674.1" y="506.0" font-family="Liberation Sans" font-size="7.5" fill="#c4c4ff" text-anchor="middle">.26</text><text x="617.9" y="557.2" font-family="Liberation Sans" font-size="7.5" fill="#c4c4ff" text-anchor="middle">.33</text><text x="611.0" y="547.2" font-family="Liberation Sans" font-size="7.5" fill="#c4c4ff" text-anchor="middle">.33</text><text x="564.0" y="566.5" font-family="Liberation Sans" font-size="7.5" fill="#c4c4ff" text-anchor="middle">.87</text><text x="527.0" y="581.9" font-family="Liberation Sans" font-size="7.5" fill="#c4c4ff" text-anchor="middle">.87</text><text x="528.6" y="590.0" font-family="Liberation Sans" font-size="7.5" fill="#c4c4ff" text-anchor="middle">.82</text><text x="569.4" y="577.7" font-family="Liberation Sans" font-size="7.5" fill="#c4c4ff" text-anchor="middle">.87</text><text x="572.5" y="586.0" font-family="Liberation Sans" font-size="7.5" fill="#c4c4ff" text-anchor="middle">.82</text><text x="684.1" y="592.7" font-family="Liberation Sans" font-size="7.5" fill="#c4c4ff" text-anchor="middle">.33</text><text x="530.9" y="504.9" font-family="Liberation Sans" font-size="7.5" fill="#c4c4ff" text-anchor="middle">.91</text><text x="531.6" y="496.4" font-family="Liberation Sans" font-size="7.5" fill="#c4c4ff" text-anchor="middle">.79</text><text x="667.6" y="670.8" font-family="Liberation Sans" font-size="7.5" fill="#c4c4ff" text-anchor="middle">.69</text><circle cx="344.4" cy="158.6" r="11.30" fill="#ff0000"/><circle cx="344.4" cy="158.6" r="9.04" fill="#ff5a32"/><circle cx="344.4" cy="158.6" r="6.78" fill="#fb9f5a"/><circle cx="344.4" cy="158.6" r="4.52" fill="#68f5c8"/><circle cx="344.4" cy="158.6" r="2.03" fill="#8000ff"/><circle cx="377.6" cy="184.3" r="9.90" fill="#ff0000"/><circle cx="377.6" cy="184.3" r="6.60" fill="#ff5a32"/><circle cx="377.6" cy="184.3" r="2.97" fill="#fb9f5a"/><circle cx="254.2" cy="282.3" r="5.30" fill="#68f5c8"/><circle cx="290.2" cy="268.5" r="5.00" fill="#68f5c8"/><circle cx="330.8" cy="257.8" r="5.50" fill="#68f5c8"/><circle cx="376.4" cy="259.9" r="4.70" fill="#68f5c8"/><circle cx="401.9" cy="232.2" r="4.70" fill="#68f5c8"/><circle cx="410.3" cy="253.5" r="5.30" fill="#68f5c8"/><circle cx="443.1" cy="246.3" r="6.70" fill="#68f5c8"/><circle cx="426.5" cy="263.4" r="5.30" fill="#68f5c8"/><circle cx="410.9" cy="277.5" r="5.30" fill="#68f5c8"/><circle cx="463.7" cy="287.4" r="8.00" fill="#d3d784"/><circle cx="463.7" cy="287.4" r="3.60" fill="#68f5c8"/><circle cx="531.0" cy="262.1" r="9.20" fill="#d3d784"/><circle cx="531.0" cy="262.1" r="6.13" fill="#a0f5a0"/><circle cx="531.0" cy="262.1" r="2.76" fill="#30dcdc"/><circle cx="580.7" cy="264.8" r="9.20" fill="#d3d784"/><circle cx="580.7" cy="264.8" r="6.13" fill="#a0f5a0"/><circle cx="580.7" cy="264.8" r="2.76" fill="#30dcdc"/><circle cx="592.1" cy="298.5" r="10.50" fill="#d3d784"/><circle cx="592.1" cy="298.5" r="7.00" fill="#a0f5a0"/><circle cx="592.1" cy="298.5" r="3.15" fill="#30dcdc"/><circle cx="573.3" cy="286.6" r="10.50" fill="#ff0000"/><circle cx="573.3" cy="286.6" r="7.00" fill="#ff5a32"/><circle cx="573.3" cy="286.6" r="3.15" fill="#fb9f5a"/><circle cx="626.8" cy="282.2" r="16.40" fill="#ff0000"/><circle cx="626.8" cy="282.2" r="13.67" fill="#ff5a32"/><circle cx="626.8" cy="282.2" r="10.93" fill="#fb9f5a"/><circle cx="626.8" cy="282.2" r="8.20" fill="#d3d784"/><circle cx="626.8" cy="282.2" r="5.47" fill="#a0f5a0"/><circle cx="626.8" cy="282.2" r="2.46" fill="#30dcdc"/><circle cx="658.3" cy="281.0" r="8.00" fill="#ff0000"/><circle cx="658.3" cy="281.0" r="3.60" fill="#d3d784"/><circle cx="439.8" cy="328.1" r="4.90" fill="#d3d784"/><circle cx="562.1" cy="319.3" r="5.30" fill="#d3d784"/><circle cx="431.8" cy="372.1" r="6.90" fill="#d3d784"/><circle cx="431.8" cy="372.1" r="3.11" fill="#68f5c8"/><circle cx="563.4" cy="354.5" r="5.30" fill="#d3d784"/><circle cx="535.3" cy="356.3" r="7.90" fill="#ff5a32"/><circle cx="535.3" cy="356.3" r="3.56" fill="#d3d784"/><circle cx="497.9" cy="365.3" r="4.90" fill="#ff5a32"/><circle cx="519.1" cy="387.2" r="5.30" fill="#ff5a32"/><circle cx="570.4" cy="435.5" r="4.80" fill="#ff5a32"/><circle cx="576.7" cy="477.0" r="5.30" fill="#ff5a32"/><circle cx="570.7" cy="392.0" r="10.00" fill="#ff5a32"/><circle cx="570.7" cy="392.0" r="4.50" fill="#d3d784"/><circle cx="483.3" cy="404.1" r="5.50" fill="#d3d784"/><circle cx="524.7" cy="402.3" r="4.70" fill="#d3d784"/><circle cx="530.6" cy="422.3" r="4.70" fill="#d3d784"/><circle cx="610.5" cy="371.2" r="5.00" fill="#a0f5a0"/><circle cx="655.4" cy="342.5" r="7.30" fill="#a0f5a0"/><circle cx="720.8" cy="338.3" r="7.80" fill="#a0f5a0"/><circle cx="705.1" cy="348.9" r="4.50" fill="#8000ff"/><circle cx="692.2" cy="382.1" r="5.20" fill="#8000ff"/><circle cx="682.9" cy="404.1" r="5.20" fill="#8000ff"/><circle cx="610.9" cy="140.3" r="5.20" fill="#1a9cf0"/><circle cx="600.7" cy="162.3" r="5.30" fill="#1a9cf0"/><circle cx="624.2" cy="170.6" r="5.30" fill="#ff0000"/><circle cx="621.4" cy="204.5" r="8.00" fill="#fb9f5a"/><circle cx="621.4" cy="204.5" r="3.60" fill="#8000ff"/><circle cx="610.2" cy="225.8" r="5.20" fill="#fb9f5a"/><circle cx="651.0" cy="216.3" r="8.60" fill="#ff0000"/><circle cx="651.0" cy="216.3" r="3.87" fill="#fb9f5a"/><circle cx="731.1" cy="100.7" r="4.80" fill="#1a9cf0"/><circle cx="751.7" cy="123.5" r="8.00" fill="#1a9cf0"/><circle cx="751.7" cy="123.5" r="3.60" fill="#4b55f5"/><circle cx="755.1" cy="139.7" r="7.70" fill="#1a9cf0"/><circle cx="755.1" cy="139.7" r="3.47" fill="#4b55f5"/><circle cx="726.3" cy="130.7" r="5.00" fill="#4b55f5"/><circle cx="720.9" cy="151.7" r="5.00" fill="#4b55f5"/><circle cx="741.0" cy="157.4" r="4.50" fill="#4b55f5"/><circle cx="856.6" cy="130.9" r="10.00" fill="#ff5a32"/><circle cx="856.6" cy="130.9" r="4.50" fill="#fb9f5a"/><circle cx="654.2" cy="173.6" r="7.30" fill="#1a9cf0"/><circle cx="679.6" cy="172.2" r="6.70" fill="#1a9cf0"/><circle cx="705.2" cy="174.0" r="6.00" fill="#1a9cf0"/><circle cx="761.7" cy="180.5" r="10.00" fill="#ff0000"/><circle cx="761.7" cy="180.5" r="6.67" fill="#68f5c8"/><circle cx="761.7" cy="180.5" r="3.00" fill="#30dcdc"/><circle cx="791.9" cy="142.8" r="5.00" fill="#1a9cf0"/><circle cx="811.3" cy="144.6" r="5.00" fill="#1a9cf0"/><circle cx="784.0" cy="157.4" r="5.00" fill="#1a9cf0"/><circle cx="820.6" cy="174.8" r="5.00" fill="#1a9cf0"/><circle cx="806.4" cy="187.4" r="5.30" fill="#1a9cf0"/><circle cx="847.7" cy="197.7" r="5.30" fill="#1a9cf0"/><circle cx="790.2" cy="180.5" r="5.00" fill="#1a9cf0"/><circle cx="830.6" cy="160.9" r="7.50" fill="#ff0000"/><circle cx="830.6" cy="160.9" r="3.38" fill="#1a9cf0"/><circle cx="692.9" cy="196.8" r="5.00" fill="#1a9cf0"/><circle cx="709.7" cy="205.1" r="5.00" fill="#1a9cf0"/><circle cx="680.9" cy="211.3" r="5.30" fill="#1a9cf0"/><circle cx="700.2" cy="228.3" r="5.30" fill="#ff0000"/><circle cx="735.8" cy="231.9" r="8.00" fill="#fb9f5a"/><circle cx="735.8" cy="231.9" r="3.60" fill="#1a9cf0"/><circle cx="684.8" cy="236.6" r="5.30" fill="#30dcdc"/><circle cx="635.5" cy="242.2" r="5.30" fill="#d3d784"/><circle cx="657.6" cy="246.5" r="5.30" fill="#fb9f5a"/><circle cx="725.4" cy="258.6" r="9.50" fill="#68f5c8"/><circle cx="725.4" cy="258.6" r="4.28" fill="#30dcdc"/><circle cx="686.2" cy="270.1" r="7.60" fill="#ff0000"/><circle cx="686.2" cy="270.1" r="3.42" fill="#a0f5a0"/><circle cx="714.5" cy="301.0" r="12.00" fill="#fb9f5a"/><circle cx="714.5" cy="301.0" r="8.00" fill="#d3d784"/><circle cx="714.5" cy="301.0" r="3.60" fill="#a0f5a0"/><circle cx="757.1" cy="311.2" r="7.30" fill="#30dcdc"/><circle cx="689.4" cy="326.0" r="9.00" fill="#d3d784"/><circle cx="689.4" cy="326.0" r="4.05" fill="#a0f5a0"/><circle cx="847.9" cy="324.9" r="7.00" fill="#d3d784"/><circle cx="876.6" cy="339.4" r="5.30" fill="#1a9cf0"/><circle cx="848.6" cy="339.0" r="5.50" fill="#fb9f5a"/><circle cx="757.6" cy="348.7" r="6.50" fill="#d3d784"/><circle cx="783.8" cy="365.5" r="5.50" fill="#ff0000"/><circle cx="820.3" cy="365.2" r="12.00" fill="#d3d784"/><circle cx="820.3" cy="365.2" r="8.00" fill="#68f5c8"/><circle cx="820.3" cy="365.2" r="3.60" fill="#30dcdc"/><circle cx="828.3" cy="367.5" r="4.50" fill="#1a9cf0"/><circle cx="849.9" cy="363.3" r="5.50" fill="#30dcdc"/><circle cx="776.5" cy="396.2" r="11.50" fill="#ff0000"/><circle cx="811.9" cy="396.5" r="5.00" fill="#d3d784"/><circle cx="836.5" cy="392.5" r="6.00" fill="#30dcdc"/><circle cx="840.0" cy="405.3" r="9.70" fill="#d3d784"/><circle cx="840.0" cy="405.3" r="7.76" fill="#a0f5a0"/><circle cx="840.0" cy="405.3" r="5.82" fill="#30dcdc"/><circle cx="840.0" cy="405.3" r="3.88" fill="#30dcdc"/><circle cx="840.0" cy="405.3" r="1.75" fill="#8000ff"/><circle cx="832.4" cy="408.5" r="4.60" fill="#fb9f5a"/><circle cx="827.2" cy="421.7" r="5.10" fill="#ff5a32"/><circle cx="784.5" cy="431.0" r="10.50" fill="#a0f5a0"/><circle cx="784.5" cy="431.0" r="7.88" fill="#1a9cf0"/><circle cx="784.5" cy="431.0" r="5.25" fill="#4b55f5"/><circle cx="784.5" cy="431.0" r="2.36" fill="#8000ff"/><circle cx="723.9" cy="449.3" r="13.00" fill="#ff5a32"/><circle cx="723.9" cy="449.3" r="8.67" fill="#d3d784"/><circle cx="723.9" cy="449.3" r="3.90" fill="#a0f5a0"/><circle cx="751.2" cy="447.4" r="9.00" fill="#ff5a32"/><circle cx="751.2" cy="447.4" r="6.00" fill="#4b55f5"/><circle cx="751.2" cy="447.4" r="2.70" fill="#8000ff"/><circle cx="765.1" cy="451.7" r="11.00" fill="#ff5a32"/><circle cx="765.1" cy="451.7" r="8.25" fill="#d3d784"/><circle cx="765.1" cy="451.7" r="5.50" fill="#a0f5a0"/><circle cx="765.1" cy="451.7" r="2.48" fill="#8000ff"/><circle cx="764.0" cy="465.3" r="9.00" fill="#d3d784"/><circle cx="764.0" cy="465.3" r="6.00" fill="#a0f5a0"/><circle cx="764.0" cy="465.3" r="2.70" fill="#30dcdc"/><circle cx="778.7" cy="465.3" r="8.00" fill="#ff5a32"/><circle cx="778.7" cy="465.3" r="3.60" fill="#d3d784"/><circle cx="791.0" cy="457.5" r="13.50" fill="#ff5a32"/><circle cx="791.0" cy="457.5" r="10.12" fill="#30dcdc"/><circle cx="791.0" cy="457.5" r="6.75" fill="#1a9cf0"/><circle cx="791.0" cy="457.5" r="3.04" fill="#8000ff"/><circle cx="829.2" cy="463.7" r="10.00" fill="#ff5a32"/><circle cx="829.2" cy="463.7" r="6.67" fill="#30dcdc"/><circle cx="829.2" cy="463.7" r="3.00" fill="#1a9cf0"/><circle cx="861.2" cy="464.4" r="7.70" fill="#ff5a32"/><circle cx="861.2" cy="464.4" r="3.47" fill="#8000ff"/><circle cx="859.1" cy="521.6" r="4.70" fill="#ff5a32"/><circle cx="699.9" cy="470.5" r="8.00" fill="#fb9f5a"/><circle cx="710.3" cy="486.2" r="13.30" fill="#ff5a32"/><circle cx="710.3" cy="486.2" r="10.64" fill="#fb9f5a"/><circle cx="710.3" cy="486.2" r="7.98" fill="#a0f5a0"/><circle cx="710.3" cy="486.2" r="5.32" fill="#4b55f5"/><circle cx="710.3" cy="486.2" r="2.39" fill="#8000ff"/><circle cx="505.5" cy="484.7" r="23.00" fill="#ff0000"/><circle cx="505.5" cy="484.7" r="19.17" fill="#ff5a32"/><circle cx="505.5" cy="484.7" r="15.33" fill="#fb9f5a"/><circle cx="505.5" cy="484.7" r="11.50" fill="#d3d784"/><circle cx="505.5" cy="484.7" r="7.67" fill="#a0f5a0"/><circle cx="505.5" cy="484.7" r="3.45" fill="#68f5c8"/><circle cx="475.7" cy="473.6" r="11.00" fill="#d3d784"/><circle cx="475.7" cy="473.6" r="7.33" fill="#a0f5a0"/><circle cx="475.7" cy="473.6" r="3.30" fill="#30dcdc"/><circle cx="515.5" cy="467.4" r="11.50" fill="#ff5a32"/><circle cx="515.5" cy="467.4" r="7.67" fill="#fb9f5a"/><circle cx="515.5" cy="467.4" r="3.45" fill="#68f5c8"/><circle cx="480.8" cy="489.3" r="9.00" fill="#ff0000"/><circle cx="480.8" cy="489.3" r="6.00" fill="#ff5a32"/><circle cx="480.8" cy="489.3" r="2.70" fill="#fb9f5a"/><circle cx="461.9" cy="499.6" r="12.00" fill="#d3d784"/><circle cx="461.9" cy="499.6" r="8.00" fill="#a0f5a0"/><circle cx="461.9" cy="499.6" r="3.60" fill="#30dcdc"/><circle cx="483.1" cy="516.2" r="12.00" fill="#ff0000"/><circle cx="483.1" cy="516.2" r="10.00" fill="#ff5a32"/><circle cx="483.1" cy="516.2" r="8.00" fill="#fb9f5a"/><circle cx="483.1" cy="516.2" r="6.00" fill="#d3d784"/><circle cx="483.1" cy="516.2" r="4.00" fill="#a0f5a0"/><circle cx="483.1" cy="516.2" r="1.80" fill="#4b55f5"/><circle cx="502.4" cy="502.1" r="22.30" fill="#ff0000"/><circle cx="502.4" cy="502.1" r="19.51" fill="#ff5a32"/><circle cx="502.4" cy="502.1" r="16.73" fill="#fb9f5a"/><circle cx="502.4" cy="502.1" r="13.94" fill="#d3d784"/><circle cx="502.4" cy="502.1" r="11.15" fill="#a0f5a0"/><circle cx="502.4" cy="502.1" r="8.36" fill="#68f5c8"/><circle cx="502.4" cy="502.1" r="5.58" fill="#30dcdc"/><circle cx="502.4" cy="502.1" r="2.51" fill="#1a9cf0"/><circle cx="544.0" cy="490.0" r="9.30" fill="#a0f5a0"/><circle cx="544.0" cy="490.0" r="4.19" fill="#68f5c8"/><circle cx="633.3" cy="532.4" r="9.00" fill="#ff0000"/><circle cx="633.3" cy="532.4" r="4.05" fill="#fb9f5a"/><circle cx="659.0" cy="542.4" r="12.00" fill="#ff5a32"/><circle cx="659.0" cy="542.4" r="9.00" fill="#fb9f5a"/><circle cx="659.0" cy="542.4" r="6.00" fill="#30dcdc"/><circle cx="659.0" cy="542.4" r="2.70" fill="#4b55f5"/><circle cx="642.2" cy="554.0" r="10.00" fill="#fb9f5a"/><circle cx="642.2" cy="554.0" r="6.67" fill="#30dcdc"/><circle cx="642.2" cy="554.0" r="3.00" fill="#4b55f5"/><circle cx="604.8" cy="547.2" r="5.30" fill="#fb9f5a"/><circle cx="663.6" cy="570.6" r="7.70" fill="#ff0000"/><circle cx="663.6" cy="570.6" r="3.47" fill="#fb9f5a"/><circle cx="690.3" cy="598.2" r="5.30" fill="#fb9f5a"/><circle cx="574.8" cy="547.3" r="5.00" fill="#4b55f5"/><circle cx="537.3" cy="569.4" r="6.50" fill="#4b55f5"/><circle cx="500.5" cy="577.4" r="5.30" fill="#4b55f5"/><circle cx="543.4" cy="585.1" r="4.70" fill="#4b55f5"/><circle cx="587.4" cy="568.8" r="6.50" fill="#fb9f5a"/><circle cx="587.4" cy="568.8" r="2.93" fill="#4b55f5"/><circle cx="544.0" cy="658.2" r="10.00" fill="#ff0000"/><circle cx="544.0" cy="658.2" r="4.50" fill="#ff5a32"/><circle cx="636.2" cy="660.8" r="10.00" fill="#ff5a32"/><circle cx="636.2" cy="660.8" r="6.67" fill="#fb9f5a"/><circle cx="636.2" cy="660.8" r="3.00" fill="#8000ff"/><circle cx="684.3" cy="663.4" r="11.00" fill="#ff5a32"/><circle cx="684.3" cy="663.4" r="8.80" fill="#fb9f5a"/><circle cx="684.3" cy="663.4" r="6.60" fill="#a0f5a0"/><circle cx="684.3" cy="663.4" r="4.40" fill="#30dcdc"/><circle cx="684.3" cy="663.4" r="1.98" fill="#8000ff"/><circle cx="1018.8" cy="509.6" r="5.30" fill="#8000ff"/><circle cx="894.4" cy="702.8" r="9.50" fill="#68f5c8"/><circle cx="894.4" cy="702.8" r="6.33" fill="#30dcdc"/><circle cx="894.4" cy="702.8" r="2.85" fill="#1a9cf0"/><circle cx="901.8" cy="715.7" r="10.50" fill="#68f5c8"/><circle cx="901.8" cy="715.7" r="7.00" fill="#30dcdc"/><circle cx="901.8" cy="715.7" r="3.15" fill="#1a9cf0"/><rect x="432.4" y="267.5" width="63.3" height="22.8" fill="#fff"/><text x="434.0" y="284.7" font-family="Liberation Sans" font-size="15.5" font-weight="bold" fill="#000" textLength="59.4" lengthAdjust="spacingAndGlyphs">Wu, Nan</text><rect x="709.9" y="156.8" width="104.4" height="26.2" fill="#fff"/><text x="711.3" y="176.6" font-family="Liberation Sans" font-size="17.8" font-weight="bold" fill="#000" textLength="100.7" lengthAdjust="spacingAndGlyphs">Yang, Yang</text><rect x="685.3" y="237.2" width="82.7" height="20.9" fill="#fff"/><text x="686.9" y="253.0" font-family="Liberation Sans" font-size="14.2" font-weight="bold" fill="#000" textLength="78.7" lengthAdjust="spacingAndGlyphs">Gao, Erhe</text><rect x="674.0" y="275.1" width="82.2" height="24.9" fill="#fff"/><text x="675.5" y="293.9" font-family="Liberation Sans" font-size="17.0" font-weight="bold" fill="#000" textLength="78.4" lengthAdjust="spacingAndGlyphs">Ren, Jun</text><rect x="653.3" y="305.8" width="74.0" height="20.9" fill="#fff"/><text x="654.9" y="321.6" font-family="Liberation Sans" font-size="14.2" font-weight="bold" fill="#000" textLength="70.0" lengthAdjust="spacingAndGlyphs">Toan, Sam</text><rect x="730.1" y="318.2" width="112.0" height="31.5" fill="#fff"/><text x="731.3" y="342.0" font-family="Liberation Sans" font-size="21.4" font-weight="bold" fill="#000" textLength="108.5" lengthAdjust="spacingAndGlyphs">Zhou, Hao</text><rect x="770.4" y="341.1" width="99.5" height="23.0" fill="#fff"/><text x="772.0" y="358.5" font-family="Liberation Sans" font-size="15.7" font-weight="bold" fill="#000" textLength="95.6" lengthAdjust="spacingAndGlyphs">Zhang, Ying</text><rect x="529.9" y="370.7" width="82.8" height="21.9" fill="#fff"/><text x="531.5" y="387.3" font-family="Liberation Sans" font-size="14.9" font-weight="bold" fill="#000" textLength="78.9" lengthAdjust="spacingAndGlyphs">Ge, Junbo</text><rect x="722.7" y="371.8" width="119.8" height="25.1" fill="#fff"/><text x="724.2" y="390.8" font-family="Liberation Sans" font-size="17.1" font-weight="bold" fill="#000">Chang, Ying</text><rect x="784.8" y="370.3" width="101.0" height="21.7" fill="#fff"/><text x="786.4" y="386.7" font-family="Liberation Sans" font-size="14.8" font-weight="bold" fill="#000" textLength="97.1" lengthAdjust="spacingAndGlyphs">Chen, Yundai</text><rect x="660.2" y="450.1" width="78.9" height="20.7" fill="#fff"/><text x="661.9" y="465.7" font-family="Liberation Sans" font-size="14.1" font-weight="bold" fill="#000" textLength="74.9" lengthAdjust="spacingAndGlyphs">Wang, Wei</text><rect x="596.5" y="513.6" width="75.2" height="19.8" fill="#fff"/><text x="598.2" y="528.6" font-family="Liberation Sans" font-size="13.5" font-weight="bold" fill="#000" textLength="71.2" lengthAdjust="spacingAndGlyphs">Wang, Yan</text><path d="M459.3,869.3 Q490.4,893.2 487.8,932.4" stroke="#ff5a32" stroke-opacity="0.40" stroke-width="1.2" fill="none"/><path d="M459.3,869.3 Q423.6,948.7 447.0,1032.6" stroke="#ff5a32" stroke-opacity="0.42" stroke-width="1.2" fill="none"/><path d="M487.8,932.4 Q449.7,975.3 447.0,1032.6" stroke="#ff0000" stroke-opacity="0.40" stroke-width="1.2" fill="none"/><path d="M534.8,901.2 Q564.6,888.6 589.4,909.3" stroke="#ff0000" stroke-opacity="0.40" stroke-width="1.2" fill="none"/><path d="M577.4,841.6 Q582.7,863.5 570.5,882.4" stroke="#ff0000" stroke-opacity="0.40" stroke-width="1.2" fill="none"/><path d="M577.4,841.6 Q626.4,914.5 616.4,1001.7" stroke="#ff0000" stroke-opacity="0.42" stroke-width="1.2" fill="none"/><path d="M629.5,834.9 Q603.8,864.7 621.8,899.6" stroke="#ff0000" stroke-opacity="0.40" stroke-width="1.2" fill="none"/><path d="M629.5,834.9 Q644.1,920.0 616.4,1001.7" stroke="#ff0000" stroke-opacity="0.42" stroke-width="1.2" fill="none"/><path d="M570.5,882.4 Q588.6,889.8 589.4,909.3" stroke="#ff5a32" stroke-opacity="0.40" stroke-width="1.2" fill="none"/><path d="M621.8,899.6 Q604.1,899.5 589.4,909.3" stroke="#ff0000" stroke-opacity="0.40" stroke-width="1.2" fill="none"/><path d="M621.8,899.6 Q701.0,953.8 695.7,1049.7" stroke="#ff0000" stroke-opacity="0.42" stroke-width="1.2" fill="none"/><path d="M589.4,909.3 Q582.1,932.7 590.5,955.8" stroke="#ff0000" stroke-opacity="0.40" stroke-width="1.2" fill="none"/><path d="M589.4,909.3 Q585.7,1000.9 651.8,1064.4" stroke="#ff0000" stroke-opacity="0.42" stroke-width="1.2" fill="none"/><path d="M557.4,957.4 Q581.4,1013.5 542.8,1060.8" stroke="#ff0000" stroke-opacity="0.40" stroke-width="1.2" fill="none"/><path d="M557.4,957.4 Q583.1,1023.8 559.9,1091.2" stroke="#ff0000" stroke-opacity="0.42" stroke-width="1.2" fill="none"/><path d="M590.5,955.8 Q617.9,970.6 616.4,1001.7" stroke="#ff0000" stroke-opacity="0.40" stroke-width="1.2" fill="none"/><path d="M590.5,955.8 Q627.2,974.0 636.4,1014.0" stroke="#ff0000" stroke-opacity="0.42" stroke-width="1.2" fill="none"/><path d="M618.2,953.4 Q626.8,967.5 623.3,983.6" stroke="#ff5a32" stroke-opacity="0.40" stroke-width="1.2" fill="none"/><path d="M618.2,953.4 Q614.4,1045.3 677.2,1112.4" stroke="#ff0000" stroke-opacity="0.42" stroke-width="1.2" fill="none"/><path d="M652.1,923.2 Q655.2,932.8 653.0,942.7" stroke="#ff0000" stroke-opacity="0.40" stroke-width="1.2" fill="none"/><path d="M652.1,923.2 Q703.0,997.4 678.5,1083.9" stroke="#ff0000" stroke-opacity="0.42" stroke-width="1.2" fill="none"/><path d="M625.9,932.4 Q614.8,940.3 618.2,953.4" stroke="#ff0000" stroke-opacity="0.40" stroke-width="1.2" fill="none"/><path d="M653.0,942.7 Q629.1,956.6 623.3,983.6" stroke="#fb9f5a" stroke-opacity="0.40" stroke-width="1.2" fill="none"/><path d="M653.0,942.7 Q664.3,1038.8 585.3,1094.7" stroke="#ff0000" stroke-opacity="0.42" stroke-width="1.2" fill="none"/><path d="M680.0,912.4 Q662.9,909.6 652.1,923.2" stroke="#d3d784" stroke-opacity="0.38" stroke-width="2.5" fill="none"/><path d="M687.7,959.1 Q676.6,967.9 676.5,982.0" stroke="#ff0000" stroke-opacity="0.40" stroke-width="1.2" fill="none"/><path d="M623.3,983.6 Q617.5,991.7 616.4,1001.7" stroke="#ff0000" stroke-opacity="0.40" stroke-width="1.2" fill="none"/><path d="M623.3,983.6 Q629.6,1061.2 590.2,1128.3" stroke="#ff0000" stroke-opacity="0.42" stroke-width="1.2" fill="none"/><path d="M676.5,982.0 Q664.2,1007.7 636.4,1014.0" stroke="#ff5a32" stroke-opacity="0.40" stroke-width="1.2" fill="none"/><path d="M676.5,982.0 Q623.6,1045.1 542.8,1060.8" stroke="#ff5a32" stroke-opacity="0.42" stroke-width="1.2" fill="none"/><path d="M676.5,982.0 Q585.6,1089.1 615.6,1226.4" stroke="#ff5a32" stroke-opacity="0.40" stroke-width="1.0" fill="none"/><path d="M616.4,1001.7 Q601.3,999.4 588.7,1008.2" stroke="#ff0000" stroke-opacity="0.40" stroke-width="1.2" fill="none"/><path d="M636.4,1014.0 Q628.9,1024.6 630.6,1037.4" stroke="#ff0000" stroke-opacity="0.40" stroke-width="1.2" fill="none"/><path d="M668.0,1002.5 Q666.2,1015.7 677.2,1023.3" stroke="#fb9f5a" stroke-opacity="0.40" stroke-width="1.2" fill="none"/><path d="M668.0,1002.5 Q625.3,1026.4 613.8,1073.9" stroke="#fb9f5a" stroke-opacity="0.42" stroke-width="1.2" fill="none"/><path d="M664.4,1015.6 Q646.5,1037.0 651.8,1064.4" stroke="#ff0000" stroke-opacity="0.40" stroke-width="1.2" fill="none"/><path d="M664.4,1015.6 Q610.5,1084.3 530.9,1120.1" stroke="#ff0000" stroke-opacity="0.42" stroke-width="1.2" fill="none"/><path d="M677.2,1023.3 Q682.4,1039.4 695.7,1049.7" stroke="#ff0000" stroke-opacity="0.40" stroke-width="1.2" fill="none"/><path d="M677.2,1023.3 Q669.0,1067.8 702.3,1098.5" stroke="#ff0000" stroke-opacity="0.42" stroke-width="1.2" fill="none"/><path d="M588.7,1008.2 Q616.9,1035.1 613.8,1073.9" stroke="#fb9f5a" stroke-opacity="0.40" stroke-width="1.2" fill="none"/><path d="M588.7,1008.2 Q603.6,1055.0 651.8,1064.4" stroke="#fb9f5a" stroke-opacity="0.42" stroke-width="1.2" fill="none"/><path d="M528.9,1016.4 Q525.7,1041.8 542.8,1060.8" stroke="#ff5a32" stroke-opacity="0.40" stroke-width="1.2" fill="none"/><path d="M457.5,1022.0 Q467.7,1033.3 482.7,1035.9" stroke="#ff5a32" stroke-opacity="0.40" stroke-width="1.2" fill="none"/><path d="M457.5,1022.0 Q461.3,1090.1 427.7,1149.4" stroke="#ff5a32" stroke-opacity="0.42" stroke-width="1.2" fill="none"/><path d="M457.5,1022.0 Q511.6,1121.1 472.9,1227.1" stroke="#ff5a32" stroke-opacity="0.40" stroke-width="1.0" fill="none"/><path d="M447.0,1032.6 Q466.3,1041.9 472.4,1062.4" stroke="#ff5a32" stroke-opacity="0.40" stroke-width="1.2" fill="none"/><path d="M482.7,1035.9 Q483.4,1051.4 472.4,1062.4" stroke="#1a9cf0" stroke-opacity="0.38" stroke-width="3.0" fill="none"/><path d="M630.2,1037.2 Q618.6,1042.0 611.3,1052.3" stroke="#ff0000" stroke-opacity="0.40" stroke-width="1.2" fill="none"/><path d="M575.6,1036.8 Q554.2,1042.0 542.8,1060.8" stroke="#fb9f5a" stroke-opacity="0.40" stroke-width="1.2" fill="none"/><path d="M735.7,853.7 Q710.9,879.9 711.4,915.9" stroke="#ff5a32" stroke-opacity="0.40" stroke-width="1.2" fill="none"/><path d="M711.4,915.9 Q676.9,917.7 653.0,942.7" stroke="#ff5a32" stroke-opacity="0.40" stroke-width="1.2" fill="none"/><path d="M711.4,915.9 Q687.3,984.7 616.4,1001.7" stroke="#ff5a32" stroke-opacity="0.42" stroke-width="1.2" fill="none"/><path d="M741.7,935.5 Q744.1,953.0 733.9,967.4" stroke="#ff0000" stroke-opacity="0.40" stroke-width="1.2" fill="none"/><path d="M741.7,935.5 Q691.2,991.7 616.4,1001.7" stroke="#ff0000" stroke-opacity="0.42" stroke-width="1.2" fill="none"/><path d="M733.9,967.4 Q717.4,967.9 704.3,977.9" stroke="#ff0000" stroke-opacity="0.40" stroke-width="1.2" fill="none"/><path d="M733.9,967.4 Q729.0,1065.8 640.3,1108.6" stroke="#ff0000" stroke-opacity="0.42" stroke-width="1.2" fill="none"/><path d="M704.3,977.9 Q691.4,986.7 676.5,982.0" stroke="#ff5a32" stroke-opacity="0.40" stroke-width="1.2" fill="none"/><path d="M704.3,977.9 Q705.5,1053.7 639.2,1090.5" stroke="#ff5a32" stroke-opacity="0.42" stroke-width="1.2" fill="none"/><path d="M749.6,982.8 Q744.5,1003.7 723.4,1008.2" stroke="#ff0000" stroke-opacity="0.40" stroke-width="1.2" fill="none"/><path d="M749.6,982.8 Q727.5,1074.0 640.3,1108.6" stroke="#ff0000" stroke-opacity="0.42" stroke-width="1.2" fill="none"/><path d="M809.5,961.4 Q810.8,982.2 830.3,989.4" stroke="#ff0000" stroke-opacity="0.40" stroke-width="1.2" fill="none"/><path d="M809.5,961.4 Q796.0,1044.4 730.5,1097.0" stroke="#ff0000" stroke-opacity="0.42" stroke-width="1.2" fill="none"/><path d="M830.3,989.4 Q843.2,996.8 840.8,1011.4" stroke="#ff0000" stroke-opacity="0.40" stroke-width="1.2" fill="none"/><path d="M830.3,989.4 Q831.2,1067.6 780.9,1127.5" stroke="#ff0000" stroke-opacity="0.42" stroke-width="1.2" fill="none"/><path d="M783.3,1001.7 Q794.0,1008.1 794.7,1020.5" stroke="#ff0000" stroke-opacity="0.40" stroke-width="1.2" fill="none"/><path d="M723.4,1008.2 Q722.7,1021.1 728.5,1032.6" stroke="#ff5a32" stroke-opacity="0.40" stroke-width="1.2" fill="none"/><path d="M723.4,1008.2 Q662.5,1042.4 640.3,1108.6" stroke="#ff5a32" stroke-opacity="0.42" stroke-width="1.2" fill="none"/><path d="M700.0,1011.4 Q711.0,1032.0 695.7,1049.7" stroke="#ff5a32" stroke-opacity="0.40" stroke-width="1.2" fill="none"/><path d="M700.0,1011.4 Q632.4,1039.0 585.3,1094.7" stroke="#ff0000" stroke-opacity="0.42" stroke-width="1.2" fill="none"/><path d="M840.8,1011.4 Q829.7,1028.9 811.2,1038.0" stroke="#d3d784" stroke-opacity="0.38" stroke-width="1.5" fill="none"/><path d="M840.8,1011.4 Q801.9,1075.2 730.5,1097.0" stroke="#ff0000" stroke-opacity="0.42" stroke-width="1.2" fill="none"/><path d="M866.0,1010.7 Q870.2,1024.8 859.9,1035.2" stroke="#ff0000" stroke-opacity="0.40" stroke-width="1.2" fill="none"/><path d="M866.0,1010.7 Q815.7,1081.2 730.5,1097.0" stroke="#ff0000" stroke-opacity="0.42" stroke-width="1.2" fill="none"/><path d="M794.7,1020.5 Q798.4,1046.2 782.9,1067.0" stroke="#fb9f5a" stroke-opacity="0.40" stroke-width="1.2" fill="none"/><path d="M794.7,1020.5 Q716.1,1041.2 676.9,1112.4" stroke="#fb9f5a" stroke-opacity="0.42" stroke-width="1.2" fill="none"/><path d="M713.1,1025.3 Q712.2,1043.1 695.7,1049.7" stroke="#ff5a32" stroke-opacity="0.40" stroke-width="1.2" fill="none"/><path d="M753.1,1031.0 Q744.4,1038.2 740.8,1049.0" stroke="#ff5a32" stroke-opacity="0.40" stroke-width="1.2" fill="none"/><path d="M753.1,1031.0 Q761.3,1070.7 730.5,1097.0" stroke="#ff5a32" stroke-opacity="0.42" stroke-width="1.2" fill="none"/><path d="M728.8,1032.7 Q709.0,1035.0 695.7,1049.7" stroke="#1a9cf0" stroke-opacity="0.38" stroke-width="2.5" fill="none"/><path d="M728.8,1032.7 Q739.6,1118.1 680.0,1180.2" stroke="#1a9cf0" stroke-opacity="0.42" stroke-width="1.2" fill="none"/><path d="M859.9,1035.2 Q836.5,1050.0 811.4,1038.5" stroke="#ff0000" stroke-opacity="0.40" stroke-width="1.2" fill="none"/><path d="M811.2,1038.0 Q791.8,1047.3 782.9,1067.0" stroke="#d3d784" stroke-opacity="0.38" stroke-width="2.5" fill="none"/><path d="M811.2,1038.0 Q725.5,1041.6 677.2,1112.4" stroke="#d3d784" stroke-opacity="0.42" stroke-width="1.2" fill="none"/><path d="M376.5,1090.7 Q426.3,1097.2 457.0,1137.0" stroke="#8000ff" stroke-opacity="0.38" stroke-width="1.5" fill="none"/><path d="M378.5,1121.7 Q386.7,1125.9 395.9,1126.0" stroke="#68f5c8" stroke-opacity="0.38" stroke-width="1.5" fill="none"/><path d="M359.8,1144.8 Q395.9,1166.9 436.2,1153.7" stroke="#8000ff" stroke-opacity="0.38" stroke-width="1.5" fill="none"/><path d="M368.0,1142.8 Q398.5,1170.7 436.2,1153.7" stroke="#8000ff" stroke-opacity="0.38" stroke-width="3.0" fill="none"/><path d="M368.0,1142.8 Q441.4,1251.4 572.4,1248.5" stroke="#68f5c8" stroke-opacity="0.40" stroke-width="1.0" fill="none"/><path d="M354.9,1197.5 Q383.4,1210.6 413.9,1203.3" stroke="#68f5c8" stroke-opacity="0.38" stroke-width="2.5" fill="none"/><path d="M414.8,1046.8 Q451.2,1050.4 465.3,1084.2" stroke="#8000ff" stroke-opacity="0.38" stroke-width="3.0" fill="none"/><path d="M414.8,1046.8 Q452.5,1106.6 447.8,1177.1" stroke="#4b55f5" stroke-opacity="0.42" stroke-width="1.2" fill="none"/><path d="M395.7,1080.1 Q418.4,1091.8 432.4,1113.2" stroke="#8000ff" stroke-opacity="0.38" stroke-width="1.0" fill="none"/><path d="M427.1,1081.0 Q440.3,1125.4 474.3,1156.8" stroke="#30dcdc" stroke-opacity="0.38" stroke-width="2.5" fill="none"/><path d="M410.6,1088.1 Q445.1,1101.0 446.7,1137.8" stroke="#ff5a32" stroke-opacity="0.40" stroke-width="1.2" fill="none"/><path d="M413.2,1094.0 Q419.8,1106.6 432.4,1113.2" stroke="#4b55f5" stroke-opacity="0.38" stroke-width="1.0" fill="none"/><path d="M465.3,1084.2 Q513.2,1101.9 520.2,1152.5" stroke="#1a9cf0" stroke-opacity="0.34" stroke-width="1.0" fill="none"/><path d="M466.0,1093.2 Q491.0,1124.5 530.9,1120.1" stroke="#4b55f5" stroke-opacity="0.34" stroke-width="1.0" fill="none"/><path d="M463.3,1100.1 Q470.8,1120.4 457.0,1137.0" stroke="#4b55f5" stroke-opacity="0.34" stroke-width="1.0" fill="none"/><path d="M472.4,1062.4 Q532.0,1090.4 566.0,1146.8" stroke="#d3d784" stroke-opacity="0.38" stroke-width="1.0" fill="none"/><path d="M529.1,1054.7 Q569.2,1099.2 554.0,1157.1" stroke="#ff0000" stroke-opacity="0.34" stroke-width="1.0" fill="none"/><path d="M529.1,1054.7 Q568.8,1099.3 554.0,1157.1" stroke="#ff0000" stroke-opacity="0.42" stroke-width="1.2" fill="none"/><path d="M542.8,1060.8 Q523.0,1072.6 520.9,1095.5" stroke="#4b55f5" stroke-opacity="0.34" stroke-width="1.0" fill="none"/><path d="M488.9,1074.2 Q508.0,1135.5 565.6,1164.0" stroke="#68f5c8" stroke-opacity="0.34" stroke-width="1.0" fill="none"/><path d="M488.9,1074.2 Q482.7,1122.1 520.2,1152.5" stroke="#8000ff" stroke-opacity="0.40" stroke-width="1.0" fill="none"/><path d="M550.5,1040.8 Q593.1,1088.7 566.0,1146.8" stroke="#a0f5a0" stroke-opacity="0.38" stroke-width="1.0" fill="none"/><path d="M575.6,1036.6 Q553.1,1040.4 542.8,1060.8" stroke="#fb9f5a" stroke-opacity="0.40" stroke-width="1.2" fill="none"/><path d="M630.6,1037.4 Q639.9,1040.5 644.6,1049.0" stroke="#ff0000" stroke-opacity="0.40" stroke-width="1.2" fill="none"/><path d="M630.6,1037.4 Q636.3,1112.5 603.3,1180.2" stroke="#ff0000" stroke-opacity="0.42" stroke-width="1.2" fill="none"/><path d="M644.6,1049.0 Q591.9,1071.2 590.2,1128.3" stroke="#ff5a32" stroke-opacity="0.40" stroke-width="1.2" fill="none"/><path d="M644.6,1049.0 Q603.7,1057.2 585.3,1094.7" stroke="#ff5a32" stroke-opacity="0.42" stroke-width="1.2" fill="none"/><path d="M611.3,1052.3 Q615.9,1112.6 566.0,1146.8" stroke="#ff5a32" stroke-opacity="0.40" stroke-width="1.2" fill="none"/><path d="M572.2,1060.5 Q553.0,1111.2 565.6,1164.0" stroke="#68f5c8" stroke-opacity="0.34" stroke-width="1.0" fill="none"/><path d="M572.2,1060.5 Q458.4,1089.2 428.8,1202.8" stroke="#ff5a32" stroke-opacity="0.40" stroke-width="1.0" fill="none"/><path d="M651.8,1064.4 Q609.6,1085.4 590.2,1128.3" stroke="#ff0000" stroke-opacity="0.40" stroke-width="1.2" fill="none"/><path d="M537.1,1070.4 Q544.2,1096.5 530.9,1120.1" stroke="#4b55f5" stroke-opacity="0.34" stroke-width="1.0" fill="none"/><path d="M613.8,1073.9 Q563.0,1100.5 554.0,1157.1" stroke="#1a9cf0" stroke-opacity="0.34" stroke-width="1.0" fill="none"/><path d="M613.8,1073.9 Q543.7,1141.7 527.8,1238.0" stroke="#1a9cf0" stroke-opacity="0.40" stroke-width="1.0" fill="none"/><path d="M605.3,1073.9 Q565.5,1099.5 566.0,1146.8" stroke="#ff5a32" stroke-opacity="0.34" stroke-width="1.0" fill="none"/><path d="M671.1,1074.7 Q661.3,1137.2 599.2,1149.4" stroke="#ff0000" stroke-opacity="0.40" stroke-width="1.2" fill="none"/><path d="M676.5,1083.1 Q607.4,1107.2 603.3,1180.2" stroke="#ff0000" stroke-opacity="0.40" stroke-width="1.2" fill="none"/><path d="M572.2,1082.4 Q573.8,1106.5 563.3,1128.3" stroke="#30dcdc" stroke-opacity="0.34" stroke-width="1.0" fill="none"/><path d="M584.4,1083.1 Q596.1,1104.6 590.2,1128.3" stroke="#a0f5a0" stroke-opacity="0.34" stroke-width="1.0" fill="none"/><path d="M559.9,1091.2 Q556.0,1119.8 566.0,1146.8" stroke="#fb9f5a" stroke-opacity="0.34" stroke-width="1.0" fill="none"/><path d="M585.3,1094.7 Q554.1,1123.3 565.6,1164.0" stroke="#4b55f5" stroke-opacity="0.34" stroke-width="1.0" fill="none"/><path d="M595.6,1100.1 Q584.2,1112.5 590.2,1128.3" stroke="#30dcdc" stroke-opacity="0.34" stroke-width="1.0" fill="none"/><path d="M602.6,1102.9 Q593.4,1125.6 599.2,1149.4" stroke="#68f5c8" stroke-opacity="0.34" stroke-width="1.0" fill="none"/><path d="M619.8,1096.2 Q614.7,1121.2 590.2,1128.3" stroke="#ff0000" stroke-opacity="0.34" stroke-width="1.0" fill="none"/><path d="M639.2,1090.5 Q615.1,1134.9 566.0,1146.8" stroke="#ff5a32" stroke-opacity="0.34" stroke-width="1.0" fill="none"/><path d="M635.7,1098.2 Q614.1,1145.5 565.6,1164.0" stroke="#68f5c8" stroke-opacity="0.34" stroke-width="1.0" fill="none"/><path d="M640.3,1108.6 Q621.5,1120.1 625.6,1141.7" stroke="#d3d784" stroke-opacity="0.34" stroke-width="1.0" fill="none"/><path d="M652.9,1110.4 Q624.4,1130.2 622.3,1164.8" stroke="#68f5c8" stroke-opacity="0.34" stroke-width="1.0" fill="none"/><path d="M663.4,1110.4 Q652.2,1105.3 640.3,1108.6" stroke="#1a9cf0" stroke-opacity="0.34" stroke-width="1.0" fill="none"/><path d="M677.2,1112.4 Q656.9,1136.8 625.6,1141.7" stroke="#fb9f5a" stroke-opacity="0.34" stroke-width="1.0" fill="none"/><path d="M607.2,1116.3 Q593.7,1141.2 566.0,1146.8" stroke="#68f5c8" stroke-opacity="0.34" stroke-width="1.0" fill="none"/><path d="M617.6,1115.2 Q582.1,1115.1 566.0,1146.8" stroke="#ff0000" stroke-opacity="0.34" stroke-width="1.0" fill="none"/><path d="M590.2,1128.3 Q577.0,1141.1 575.9,1159.4" stroke="#30dcdc" stroke-opacity="0.34" stroke-width="1.0" fill="none"/><path d="M625.6,1141.7 Q626.8,1153.7 622.3,1164.8" stroke="#a0f5a0" stroke-opacity="0.34" stroke-width="1.0" fill="none"/><path d="M646.0,1144.7 Q621.8,1139.4 599.2,1149.4" stroke="#1a9cf0" stroke-opacity="0.34" stroke-width="1.0" fill="none"/><path d="M657.2,1152.5 Q644.3,1138.7 625.6,1141.7" stroke="#4b55f5" stroke-opacity="0.34" stroke-width="1.0" fill="none"/><path d="M674.5,1154.5 Q645.7,1145.7 622.3,1164.8" stroke="#1a9cf0" stroke-opacity="0.34" stroke-width="1.0" fill="none"/><path d="M663.1,1165.5 Q618.7,1174.4 575.9,1159.4" stroke="#68f5c8" stroke-opacity="0.34" stroke-width="1.0" fill="none"/><path d="M622.3,1164.8 Q608.2,1166.9 603.3,1180.2" stroke="#ff5a32" stroke-opacity="0.34" stroke-width="1.0" fill="none"/><path d="M599.2,1149.4 Q585.8,1150.2 575.9,1159.4" stroke="#68f5c8" stroke-opacity="0.34" stroke-width="1.0" fill="none"/><path d="M589.5,1143.7 Q580.1,1149.3 575.9,1159.4" stroke="#30dcdc" stroke-opacity="0.34" stroke-width="1.0" fill="none"/><path d="M566.0,1146.8 Q556.5,1147.8 554.0,1157.1" stroke="#30dcdc" stroke-opacity="0.34" stroke-width="1.0" fill="none"/><path d="M554.0,1157.1 Q557.5,1164.5 565.6,1164.0" stroke="#1a9cf0" stroke-opacity="0.34" stroke-width="1.0" fill="none"/><path d="M575.9,1159.4 Q572.3,1165.1 565.6,1164.0" stroke="#68f5c8" stroke-opacity="0.34" stroke-width="1.0" fill="none"/><path d="M563.3,1128.3 Q559.5,1138.3 566.0,1146.8" stroke="#fb9f5a" stroke-opacity="0.34" stroke-width="1.0" fill="none"/><path d="M549.9,1134.0 Q559.3,1144.2 554.0,1157.1" stroke="#30dcdc" stroke-opacity="0.34" stroke-width="1.0" fill="none"/><path d="M520.9,1095.5 Q553.0,1123.4 565.6,1164.0" stroke="#1a9cf0" stroke-opacity="0.34" stroke-width="1.0" fill="none"/><path d="M541.0,1098.1 Q560.8,1118.7 566.0,1146.8" stroke="#a0f5a0" stroke-opacity="0.34" stroke-width="1.0" fill="none"/><path d="M530.9,1120.1 Q516.2,1133.2 520.2,1152.5" stroke="#8000ff" stroke-opacity="0.34" stroke-width="1.0" fill="none"/><path d="M520.2,1152.5 Q519.8,1164.4 528.6,1172.5" stroke="#68f5c8" stroke-opacity="0.34" stroke-width="1.0" fill="none"/><path d="M498.3,1157.5 Q507.6,1147.9 520.2,1152.5" stroke="#4b55f5" stroke-opacity="0.34" stroke-width="1.0" fill="none"/><path d="M474.3,1156.8 Q486.5,1149.1 498.3,1157.5" stroke="#ff0000" stroke-opacity="0.34" stroke-width="1.0" fill="none"/><path d="M501.7,1087.5 Q506.7,1112.4 530.9,1120.1" stroke="#1a9cf0" stroke-opacity="0.34" stroke-width="1.0" fill="none"/><path d="M485.5,1095.0 Q504.9,1153.5 565.6,1164.0" stroke="#30dcdc" stroke-opacity="0.34" stroke-width="1.0" fill="none"/><path d="M465.5,1083.9 Q488.5,1119.6 530.9,1120.1" stroke="#68f5c8" stroke-opacity="0.34" stroke-width="1.0" fill="none"/><path d="M432.4,1113.2 Q480.6,1112.6 498.3,1157.5" stroke="#4b55f5" stroke-opacity="0.34" stroke-width="1.0" fill="none"/><path d="M457.0,1137.0 Q514.6,1137.1 565.6,1164.0" stroke="#68f5c8" stroke-opacity="0.34" stroke-width="1.0" fill="none"/><path d="M410.5,1088.2 Q446.3,1100.6 457.0,1137.0" stroke="#d3d784" stroke-opacity="0.38" stroke-width="1.5" fill="none"/><path d="M395.9,1080.1 Q418.5,1117.0 457.0,1137.0" stroke="#4b55f5" stroke-opacity="0.38" stroke-width="3.0" fill="none"/><path d="M412.8,1094.4 Q424.6,1126.4 457.0,1137.0" stroke="#4b55f5" stroke-opacity="0.38" stroke-width="1.5" fill="none"/><path d="M427.0,1080.8 Q429.4,1115.6 457.0,1137.0" stroke="#30dcdc" stroke-opacity="0.38" stroke-width="1.0" fill="none"/><path d="M427.0,1080.8 Q444.8,1114.9 427.7,1149.4" stroke="#1a9cf0" stroke-opacity="0.40" stroke-width="1.0" fill="none"/><path d="M395.9,1126.0 Q455.9,1113.1 498.3,1157.5" stroke="#ff5a32" stroke-opacity="0.40" stroke-width="1.2" fill="none"/><path d="M395.9,1126.0 Q441.7,1155.6 437.5,1210.0" stroke="#ff0000" stroke-opacity="0.40" stroke-width="1.0" fill="none"/><path d="M409.7,1132.4 Q413.8,1137.3 413.9,1143.7" stroke="#4b55f5" stroke-opacity="0.34" stroke-width="1.0" fill="none"/><path d="M446.7,1137.8 Q451.7,1135.7 457.0,1137.0" stroke="#30dcdc" stroke-opacity="0.34" stroke-width="1.0" fill="none"/><path d="M413.9,1143.7 Q458.3,1137.0 498.3,1157.5" stroke="#30dcdc" stroke-opacity="0.34" stroke-width="1.0" fill="none"/><path d="M427.7,1149.4 Q461.5,1166.5 498.3,1157.5" stroke="#ff0000" stroke-opacity="0.34" stroke-width="1.0" fill="none"/><path d="M436.2,1153.7 Q448.4,1170.1 468.9,1169.7" stroke="#ff0000" stroke-opacity="0.34" stroke-width="1.0" fill="none"/><path d="M402.8,1155.2 Q420.9,1175.2 447.8,1177.1" stroke="#68f5c8" stroke-opacity="0.34" stroke-width="1.0" fill="none"/><path d="M444.7,1161.7 Q472.9,1176.9 498.3,1157.5" stroke="#1a9cf0" stroke-opacity="0.34" stroke-width="1.0" fill="none"/><path d="M468.9,1169.7 Q478.5,1174.6 478.0,1185.4" stroke="#68f5c8" stroke-opacity="0.34" stroke-width="1.0" fill="none"/><path d="M447.8,1177.1 Q464.0,1177.2 478.0,1185.4" stroke="#ff5a32" stroke-opacity="0.34" stroke-width="1.0" fill="none"/><path d="M500.1,1177.1 Q536.0,1186.1 565.6,1164.0" stroke="#68f5c8" stroke-opacity="0.34" stroke-width="1.0" fill="none"/><path d="M528.6,1172.5 Q545.6,1161.9 565.6,1164.0" stroke="#ff5a32" stroke-opacity="0.34" stroke-width="1.0" fill="none"/><path d="M471.3,1179.1 Q504.8,1182.5 520.2,1152.5" stroke="#4b55f5" stroke-opacity="0.34" stroke-width="1.0" fill="none"/><path d="M478.6,1185.3 Q524.4,1192.8 554.0,1157.1" stroke="#ff0000" stroke-opacity="0.34" stroke-width="1.0" fill="none"/><path d="M423.6,1185.6 Q449.9,1188.0 468.9,1169.7" stroke="#1a9cf0" stroke-opacity="0.34" stroke-width="1.0" fill="none"/><path d="M384.5,1182.0 Q395.9,1197.4 414.1,1203.1" stroke="#ff0000" stroke-opacity="0.40" stroke-width="1.2" fill="none"/><path d="M391.4,1195.9 Q401.2,1204.0 413.9,1203.3" stroke="#68f5c8" stroke-opacity="0.38" stroke-width="3.0" fill="none"/><path d="M391.4,1195.9 Q424.7,1201.0 436.7,1232.4" stroke="#8000ff" stroke-opacity="0.40" stroke-width="1.0" fill="none"/><path d="M413.9,1203.3 Q450.9,1181.2 487.8,1203.3" stroke="#1a9cf0" stroke-opacity="0.34" stroke-width="1.0" fill="none"/><path d="M406.2,1202.8 Q424.0,1197.1 437.5,1210.0" stroke="#1a9cf0" stroke-opacity="0.34" stroke-width="1.0" fill="none"/><path d="M428.8,1202.8 Q458.2,1217.0 487.8,1203.3" stroke="#1a9cf0" stroke-opacity="0.34" stroke-width="1.0" fill="none"/><path d="M437.5,1210.0 Q452.2,1188.6 478.0,1185.4" stroke="#8000ff" stroke-opacity="0.34" stroke-width="1.0" fill="none"/><path d="M487.8,1203.3 Q510.5,1165.3 554.0,1157.1" stroke="#a0f5a0" stroke-opacity="0.34" stroke-width="1.0" fill="none"/><path d="M487.0,1213.0 Q484.8,1172.4 520.2,1152.5" stroke="#4b55f5" stroke-opacity="0.34" stroke-width="1.0" fill="none"/><path d="M389.7,1213.0 Q404.9,1215.5 414.1,1203.1" stroke="#a0f5a0" stroke-opacity="0.38" stroke-width="1.0" fill="none"/><path d="M557.9,1212.5 Q574.9,1190.3 565.6,1164.0" stroke="#68f5c8" stroke-opacity="0.34" stroke-width="1.0" fill="none"/><path d="M612.9,1211.0 Q617.7,1192.6 603.3,1180.2" stroke="#30dcdc" stroke-opacity="0.34" stroke-width="1.0" fill="none"/><path d="M603.3,1193.7 Q598.1,1169.7 575.9,1159.4" stroke="#d3d784" stroke-opacity="0.34" stroke-width="1.0" fill="none"/><path d="M622.9,1197.1 Q613.5,1193.0 603.3,1193.7" stroke="#30dcdc" stroke-opacity="0.34" stroke-width="1.0" fill="none"/><path d="M645.2,1204.0 Q628.0,1185.5 603.3,1180.2" stroke="#1a9cf0" stroke-opacity="0.34" stroke-width="1.0" fill="none"/><path d="M633.8,1218.2 Q625.0,1209.8 612.9,1211.0" stroke="#ff0000" stroke-opacity="0.34" stroke-width="1.0" fill="none"/><path d="M646.0,1220.2 Q649.4,1211.9 645.2,1204.0" stroke="#4b55f5" stroke-opacity="0.34" stroke-width="1.0" fill="none"/><path d="M615.6,1226.4 Q597.5,1206.5 603.3,1180.2" stroke="#ff0000" stroke-opacity="0.34" stroke-width="1.0" fill="none"/><path d="M601.0,1234.1 Q576.3,1229.5 557.9,1212.5" stroke="#1a9cf0" stroke-opacity="0.34" stroke-width="1.0" fill="none"/><path d="M646.0,1237.2 Q611.0,1218.9 603.3,1180.2" stroke="#d3d784" stroke-opacity="0.34" stroke-width="1.0" fill="none"/><path d="M527.8,1238.0 Q538.9,1220.6 557.9,1212.5" stroke="#ff0000" stroke-opacity="0.34" stroke-width="1.0" fill="none"/><path d="M472.9,1227.1 Q477.7,1218.0 486.8,1213.1" stroke="#1a9cf0" stroke-opacity="0.34" stroke-width="1.0" fill="none"/><path d="M501.7,1231.8 Q487.1,1221.3 487.8,1203.3" stroke="#30dcdc" stroke-opacity="0.34" stroke-width="1.0" fill="none"/><path d="M446.7,1224.1 Q450.2,1194.5 478.6,1185.3" stroke="#ff5a32" stroke-opacity="0.34" stroke-width="1.0" fill="none"/><path d="M437.0,1232.2 Q438.7,1195.6 471.3,1179.1" stroke="#ff0000" stroke-opacity="0.34" stroke-width="1.0" fill="none"/><path d="M459.8,1233.8 Q466.4,1211.8 487.8,1203.3" stroke="#4b55f5" stroke-opacity="0.34" stroke-width="1.0" fill="none"/><path d="M408.2,1226.4 Q431.5,1191.8 471.3,1179.1" stroke="#1a9cf0" stroke-opacity="0.34" stroke-width="1.0" fill="none"/><path d="M408.2,1226.4 Q406.7,1213.8 413.9,1203.3" stroke="#8000ff" stroke-opacity="0.40" stroke-width="1.0" fill="none"/><path d="M603.3,1180.2 Q587.8,1164.4 565.6,1164.0" stroke="#30dcdc" stroke-opacity="0.34" stroke-width="1.0" fill="none"/><path d="M478.0,1185.4 Q494.8,1163.5 520.2,1152.5" stroke="#ff0000" stroke-opacity="0.34" stroke-width="1.0" fill="none"/><path d="M677.4,1023.1 Q693.4,1031.7 695.7,1049.7" stroke="#ff0000" stroke-opacity="0.40" stroke-width="1.2" fill="none"/><path d="M677.4,1023.1 Q654.8,1111.7 711.6,1183.3" stroke="#ff0000" stroke-opacity="0.42" stroke-width="1.2" fill="none"/><path d="M713.1,1025.4 Q708.7,1040.6 695.7,1049.7" stroke="#ff5a32" stroke-opacity="0.40" stroke-width="1.2" fill="none"/><path d="M713.1,1025.4 Q644.8,1065.5 646.0,1144.7" stroke="#ff5a32" stroke-opacity="0.42" stroke-width="1.2" fill="none"/><path d="M728.5,1032.6 Q714.4,1045.5 695.7,1049.7" stroke="#1a9cf0" stroke-opacity="0.38" stroke-width="1.5" fill="none"/><path d="M728.5,1032.6 Q730.0,1078.7 707.0,1118.6" stroke="#1a9cf0" stroke-opacity="0.42" stroke-width="1.2" fill="none"/><path d="M728.5,1032.6 Q628.6,1132.7 640.9,1273.6" stroke="#1a9cf0" stroke-opacity="0.40" stroke-width="1.0" fill="none"/><path d="M753.2,1031.1 Q749.5,1041.8 740.8,1049.0" stroke="#ff5a32" stroke-opacity="0.40" stroke-width="1.2" fill="none"/><path d="M753.2,1031.1 Q676.3,1029.1 613.8,1073.9" stroke="#ff5a32" stroke-opacity="0.42" stroke-width="1.2" fill="none"/><path d="M794.8,1020.8 Q762.3,1024.4 740.8,1049.0" stroke="#fb9f5a" stroke-opacity="0.40" stroke-width="1.2" fill="none"/><path d="M682.0,1042.6 Q684.6,1061.4 671.1,1074.7" stroke="#d3d784" stroke-opacity="0.38" stroke-width="1.0" fill="none"/><path d="M682.0,1042.6 Q609.3,1037.8 559.9,1091.2" stroke="#d3d784" stroke-opacity="0.42" stroke-width="1.2" fill="none"/><path d="M695.7,1049.7 Q692.1,1069.9 676.5,1083.1" stroke="#d3d784" stroke-opacity="0.38" stroke-width="2.5" fill="none"/><path d="M740.8,1049.0 Q712.6,1066.8 702.3,1098.5" stroke="#ff0000" stroke-opacity="0.40" stroke-width="1.2" fill="none"/><path d="M761.9,1042.6 Q730.5,1123.8 646.0,1144.7" stroke="#fb9f5a" stroke-opacity="0.40" stroke-width="1.2" fill="none"/><path d="M761.9,1042.6 Q712.0,1079.5 651.8,1064.4" stroke="#ff0000" stroke-opacity="0.42" stroke-width="1.2" fill="none"/><path d="M811.4,1038.5 Q812.5,1073.5 785.2,1095.5" stroke="#4b55f5" stroke-opacity="0.38" stroke-width="1.0" fill="none"/><path d="M811.4,1038.5 Q737.5,1087.9 651.8,1064.4" stroke="#d3d784" stroke-opacity="0.42" stroke-width="1.2" fill="none"/><path d="M860.2,1035.1 Q836.9,1053.0 811.4,1038.5" stroke="#ff0000" stroke-opacity="0.40" stroke-width="1.2" fill="none"/><path d="M680.8,1059.0 Q673.7,1114.1 625.6,1141.7" stroke="#fb9f5a" stroke-opacity="0.40" stroke-width="1.2" fill="none"/><path d="M706.2,1063.9 Q659.5,1066.0 640.3,1108.6" stroke="#ff0000" stroke-opacity="0.40" stroke-width="1.2" fill="none"/><path d="M782.9,1067.0 Q749.6,1069.6 730.5,1097.0" stroke="#ff0000" stroke-opacity="0.40" stroke-width="1.2" fill="none"/><path d="M839.1,1076.2 Q814.3,1078.6 800.1,1099.0" stroke="#ff0000" stroke-opacity="0.40" stroke-width="1.2" fill="none"/><path d="M839.1,1076.2 Q716.9,1127.3 646.0,1239.2" stroke="#ff0000" stroke-opacity="0.40" stroke-width="1.0" fill="none"/><path d="M795.5,1079.3 Q728.4,1067.4 677.2,1112.4" stroke="#ff5a32" stroke-opacity="0.40" stroke-width="1.2" fill="none"/><path d="M954.9,1082.1 Q896.7,1122.1 827.1,1110.6" stroke="#ff5a32" stroke-opacity="0.40" stroke-width="1.2" fill="none"/><path d="M678.5,1083.9 Q672.6,1097.9 676.9,1112.4" stroke="#ff0000" stroke-opacity="0.40" stroke-width="1.2" fill="none"/><path d="M678.5,1083.9 Q553.2,1055.3 474.3,1156.8" stroke="#ff0000" stroke-opacity="0.40" stroke-width="1.0" fill="none"/><path d="M671.5,1074.7 Q663.6,1118.5 625.6,1141.7" stroke="#d3d784" stroke-opacity="0.38" stroke-width="2.5" fill="none"/><path d="M716.7,1080.8 Q706.4,1098.3 707.0,1118.6" stroke="#fb9f5a" stroke-opacity="0.40" stroke-width="1.2" fill="none"/><path d="M707.0,1082.7 Q692.9,1086.9 678.5,1083.9" stroke="#ff5a32" stroke-opacity="0.40" stroke-width="1.2" fill="none"/><path d="M686.2,1097.0 Q668.3,1136.1 625.6,1141.7" stroke="#1a9cf0" stroke-opacity="0.34" stroke-width="1.0" fill="none"/><path d="M702.3,1098.5 Q652.7,1100.2 625.6,1141.7" stroke="#ff5a32" stroke-opacity="0.40" stroke-width="1.2" fill="none"/><path d="M730.5,1097.0 Q708.2,1120.4 676.9,1112.4" stroke="#ff0000" stroke-opacity="0.40" stroke-width="1.2" fill="none"/><path d="M736.7,1101.2 Q670.6,1117.1 622.3,1164.8" stroke="#ff5a32" stroke-opacity="0.40" stroke-width="1.2" fill="none"/><path d="M743.3,1092.4 Q706.1,1088.8 677.2,1112.4" stroke="#a0f5a0" stroke-opacity="0.38" stroke-width="2.5" fill="none"/><path d="M785.2,1095.5 Q749.9,1127.1 702.7,1130.6" stroke="#d3d784" stroke-opacity="0.38" stroke-width="1.0" fill="none"/><path d="M800.1,1099.0 Q765.2,1137.7 715.7,1153.7" stroke="#ff0000" stroke-opacity="0.40" stroke-width="1.2" fill="none"/><path d="M811.4,1101.3 Q800.5,1119.5 780.9,1127.5" stroke="#ff0000" stroke-opacity="0.40" stroke-width="1.2" fill="none"/><path d="M774.7,1102.1 Q743.8,1122.5 707.0,1118.6" stroke="#30dcdc" stroke-opacity="0.38" stroke-width="1.5" fill="none"/><path d="M827.1,1110.6 Q791.7,1139.9 749.6,1121.6" stroke="#fb9f5a" stroke-opacity="0.40" stroke-width="1.2" fill="none"/><path d="M893.0,1112.9 Q841.0,1151.6 780.9,1127.5" stroke="#ff5a32" stroke-opacity="0.40" stroke-width="1.2" fill="none"/><path d="M676.9,1112.4 Q604.6,1102.2 565.6,1164.0" stroke="#ff0000" stroke-opacity="0.34" stroke-width="1.0" fill="none"/><path d="M683.6,1106.2 Q678.7,1107.7 676.9,1112.4" stroke="#fb9f5a" stroke-opacity="0.34" stroke-width="1.0" fill="none"/><path d="M707.0,1118.6 Q679.2,1168.3 622.3,1164.8" stroke="#68f5c8" stroke-opacity="0.34" stroke-width="1.0" fill="none"/><path d="M759.0,1111.2 Q756.6,1118.5 749.6,1121.6" stroke="#fb9f5a" stroke-opacity="0.40" stroke-width="1.2" fill="none"/><path d="M749.6,1121.6 Q728.9,1140.4 702.7,1130.6" stroke="#ff0000" stroke-opacity="0.40" stroke-width="1.2" fill="none"/><path d="M798.3,1119.3 Q794.1,1141.4 778.3,1157.5" stroke="#ff5a32" stroke-opacity="0.40" stroke-width="1.2" fill="none"/><path d="M780.9,1127.5 Q741.0,1109.0 702.7,1130.6" stroke="#a0f5a0" stroke-opacity="0.38" stroke-width="2.5" fill="none"/><path d="M780.9,1127.5 Q734.3,1149.8 690.5,1122.4" stroke="#ff0000" stroke-opacity="0.40" stroke-width="1.0" fill="none"/><path d="M690.5,1122.4 Q660.9,1141.6 625.6,1141.7" stroke="#ff0000" stroke-opacity="0.34" stroke-width="1.0" fill="none"/><path d="M702.7,1130.6 Q703.0,1138.5 699.3,1145.5" stroke="#fb9f5a" stroke-opacity="0.34" stroke-width="1.0" fill="none"/><path d="M726.2,1129.0 Q697.3,1133.3 676.9,1112.4" stroke="#ff0000" stroke-opacity="0.40" stroke-width="1.2" fill="none"/><path d="M727.8,1136.6 Q680.5,1171.1 622.3,1164.8" stroke="#ff5a32" stroke-opacity="0.40" stroke-width="1.2" fill="none"/><path d="M751.6,1136.6 Q739.7,1139.9 727.8,1136.6" stroke="#ff5a32" stroke-opacity="0.40" stroke-width="1.2" fill="none"/><path d="M823.5,1134.0 Q772.9,1124.9 729.8,1152.8" stroke="#68f5c8" stroke-opacity="0.38" stroke-width="3.0" fill="none"/><path d="M858.2,1142.1 Q821.7,1167.7 778.3,1157.5" stroke="#30dcdc" stroke-opacity="0.38" stroke-width="3.0" fill="none"/><path d="M801.7,1139.7 Q762.5,1128.6 729.8,1152.8" stroke="#ff0000" stroke-opacity="0.40" stroke-width="1.2" fill="none"/><path d="M803.5,1149.7 Q788.5,1146.0 778.3,1157.5" stroke="#a0f5a0" stroke-opacity="0.38" stroke-width="1.5" fill="none"/><path d="M680.0,1145.5 Q663.3,1133.6 646.0,1144.7" stroke="#fb9f5a" stroke-opacity="0.34" stroke-width="1.0" fill="none"/><path d="M699.3,1145.5 Q689.6,1149.0 680.0,1145.5" stroke="#4b55f5" stroke-opacity="0.34" stroke-width="1.0" fill="none"/><path d="M674.9,1154.5 Q651.6,1174.9 622.3,1164.8" stroke="#4b55f5" stroke-opacity="0.34" stroke-width="1.0" fill="none"/><path d="M715.7,1153.7 Q703.1,1174.1 680.0,1180.2" stroke="#68f5c8" stroke-opacity="0.34" stroke-width="1.0" fill="none"/><path d="M729.8,1152.8 Q714.5,1183.9 680.0,1180.2" stroke="#ff0000" stroke-opacity="0.40" stroke-width="1.2" fill="none"/><path d="M754.7,1153.7 Q735.2,1160.6 715.7,1153.7" stroke="#30dcdc" stroke-opacity="0.38" stroke-width="1.5" fill="none"/><path d="M778.3,1157.5 Q756.6,1153.9 744.4,1172.2" stroke="#ff0000" stroke-opacity="0.40" stroke-width="1.2" fill="none"/><path d="M813.7,1162.5 Q804.2,1159.6 803.5,1149.7" stroke="#fb9f5a" stroke-opacity="0.40" stroke-width="1.2" fill="none"/><path d="M813.7,1162.5 Q779.7,1091.6 706.2,1063.9" stroke="#fb9f5a" stroke-opacity="0.40" stroke-width="1.0" fill="none"/><path d="M856.4,1160.2 Q832.3,1143.1 803.5,1149.7" stroke="#fb9f5a" stroke-opacity="0.40" stroke-width="1.2" fill="none"/><path d="M887.6,1156.0 Q833.2,1172.6 778.3,1157.5" stroke="#ff0000" stroke-opacity="0.40" stroke-width="1.2" fill="none"/><path d="M917.3,1163.5 Q883.2,1156.6 856.4,1178.9" stroke="#d3d784" stroke-opacity="0.38" stroke-width="3.0" fill="none"/><path d="M836.3,1170.9 Q808.9,1157.2 778.3,1157.5" stroke="#ff5a32" stroke-opacity="0.40" stroke-width="1.2" fill="none"/><path d="M856.4,1178.9 Q824.3,1142.8 778.3,1157.5" stroke="#68f5c8" stroke-opacity="0.38" stroke-width="3.0" fill="none"/><path d="M702.0,1170.6 Q654.3,1192.7 603.3,1180.2" stroke="#30dcdc" stroke-opacity="0.34" stroke-width="1.0" fill="none"/><path d="M744.4,1172.2 Q722.9,1179.4 702.0,1170.6" stroke="#ff0000" stroke-opacity="0.40" stroke-width="1.2" fill="none"/><path d="M731.6,1171.4 Q723.4,1180.4 711.6,1183.3" stroke="#fb9f5a" stroke-opacity="0.40" stroke-width="1.2" fill="none"/><path d="M742.8,1180.2 Q719.7,1168.4 697.3,1181.4" stroke="#ff5a32" stroke-opacity="0.40" stroke-width="1.2" fill="none"/><path d="M680.0,1180.2 Q655.1,1157.8 622.3,1164.8" stroke="#1a9cf0" stroke-opacity="0.34" stroke-width="1.0" fill="none"/><path d="M711.6,1183.3 Q695.0,1189.7 680.0,1180.2" stroke="#fb9f5a" stroke-opacity="0.34" stroke-width="1.0" fill="none"/><path d="M697.3,1181.4 Q689.0,1175.5 680.0,1180.2" stroke="#a0f5a0" stroke-opacity="0.34" stroke-width="1.0" fill="none"/><path d="M775.8,1182.0 Q743.9,1191.9 711.6,1183.3" stroke="#fb9f5a" stroke-opacity="0.40" stroke-width="1.2" fill="none"/><path d="M775.8,1182.0 Q671.9,1152.6 601.0,1234.1" stroke="#ff0000" stroke-opacity="0.40" stroke-width="1.0" fill="none"/><path d="M850.4,1191.9 Q799.2,1224.2 739.3,1214.8" stroke="#ff0000" stroke-opacity="0.40" stroke-width="1.2" fill="none"/><path d="M816.6,1194.5 Q788.1,1158.8 744.4,1172.2" stroke="#68f5c8" stroke-opacity="0.38" stroke-width="3.0" fill="none"/><path d="M816.6,1194.5 Q736.9,1244.4 646.0,1220.2" stroke="#68f5c8" stroke-opacity="0.40" stroke-width="1.0" fill="none"/><path d="M745.9,1200.2 Q693.6,1149.3 622.3,1164.8" stroke="#ff5a32" stroke-opacity="0.40" stroke-width="1.2" fill="none"/><path d="M768.6,1199.4 Q751.7,1202.8 739.3,1214.8" stroke="#ff0000" stroke-opacity="0.40" stroke-width="1.2" fill="none"/><path d="M780.1,1205.9 Q725.4,1211.1 680.0,1180.2" stroke="#ff0000" stroke-opacity="0.40" stroke-width="1.2" fill="none"/><path d="M789.7,1205.3 Q769.4,1188.8 745.9,1200.2" stroke="#ff0000" stroke-opacity="0.40" stroke-width="1.2" fill="none"/><path d="M823.5,1206.8 Q773.2,1168.3 711.6,1183.3" stroke="#1a9cf0" stroke-opacity="0.38" stroke-width="1.0" fill="none"/><path d="M861.0,1215.6 Q811.0,1229.4 768.6,1199.4" stroke="#fb9f5a" stroke-opacity="0.40" stroke-width="1.2" fill="none"/><path d="M716.5,1211.7 Q708.6,1198.4 711.6,1183.3" stroke="#ff5a32" stroke-opacity="0.34" stroke-width="1.0" fill="none"/><path d="M739.3,1214.8 Q710.5,1198.0 679.2,1209.4" stroke="#ff0000" stroke-opacity="0.40" stroke-width="1.2" fill="none"/><path d="M754.7,1220.7 Q747.8,1215.6 739.3,1214.8" stroke="#ff5a32" stroke-opacity="0.40" stroke-width="1.2" fill="none"/><path d="M775.8,1218.2 Q758.0,1212.0 739.3,1214.8" stroke="#d3d784" stroke-opacity="0.38" stroke-width="2.5" fill="none"/><path d="M841.7,1220.7 Q786.7,1243.6 745.9,1200.2" stroke="#68f5c8" stroke-opacity="0.38" stroke-width="1.0" fill="none"/><path d="M841.7,1220.7 Q759.4,1142.6 646.0,1144.7" stroke="#68f5c8" stroke-opacity="0.40" stroke-width="1.0" fill="none"/><path d="M823.5,1227.1 Q800.6,1204.3 768.6,1199.4" stroke="#ff0000" stroke-opacity="0.40" stroke-width="1.2" fill="none"/><path d="M917.2,1227.9 Q870.6,1203.7 823.5,1227.1" stroke="#ff0000" stroke-opacity="0.40" stroke-width="1.2" fill="none"/><path d="M722.4,1228.7 Q699.4,1239.2 674.8,1233.1" stroke="#ff0000" stroke-opacity="0.40" stroke-width="1.2" fill="none"/><path d="M701.6,1229.5 Q685.5,1224.9 679.2,1209.4" stroke="#ff0000" stroke-opacity="0.34" stroke-width="1.0" fill="none"/><path d="M760.4,1229.5 Q706.2,1201.5 645.2,1204.0" stroke="#fb9f5a" stroke-opacity="0.40" stroke-width="1.2" fill="none"/><path d="M784.0,1237.2 Q742.2,1245.6 716.5,1211.7" stroke="#ff5a32" stroke-opacity="0.40" stroke-width="1.2" fill="none"/><path d="M679.2,1209.4 Q664.0,1195.3 645.2,1204.0" stroke="#ff0000" stroke-opacity="0.34" stroke-width="1.0" fill="none"/><path d="M790.7,1200.8 Q754.6,1176.3 711.6,1183.3" stroke="#fb9f5a" stroke-opacity="0.40" stroke-width="1.2" fill="none"/><path d="M747.8,1241.0 Q713.5,1216.5 674.8,1233.1" stroke="#fb9f5a" stroke-opacity="0.40" stroke-width="1.2" fill="none"/><path d="M755.7,1246.9 Q725.7,1240.9 716.5,1211.7" stroke="#d3d784" stroke-opacity="0.38" stroke-width="1.5" fill="none"/><path d="M768.6,1247.7 Q769.9,1217.9 745.9,1200.2" stroke="#d3d784" stroke-opacity="0.38" stroke-width="2.5" fill="none"/><path d="M842.7,1245.9 Q798.9,1221.3 755.7,1246.9" stroke="#1a9cf0" stroke-opacity="0.38" stroke-width="2.5" fill="none"/><path d="M879.2,1247.7 Q816.9,1198.8 739.3,1214.8" stroke="#ff5a32" stroke-opacity="0.40" stroke-width="1.2" fill="none"/><path d="M809.2,1255.9 Q791.4,1253.6 784.0,1237.2" stroke="#d3d784" stroke-opacity="0.38" stroke-width="1.0" fill="none"/><path d="M853.9,1266.3 Q808.7,1237.1 755.7,1246.9" stroke="#d3d784" stroke-opacity="0.38" stroke-width="1.0" fill="none"/><path d="M902.7,1267.3 Q876.8,1220.3 823.5,1227.1" stroke="#a0f5a0" stroke-opacity="0.38" stroke-width="3.0" fill="none"/><path d="M785.9,1263.0 Q775.2,1246.7 755.7,1246.9" stroke="#fb9f5a" stroke-opacity="0.40" stroke-width="1.2" fill="none"/><path d="M792.1,1263.3 Q717.2,1177.4 603.3,1180.2" stroke="#1a9cf0" stroke-opacity="0.38" stroke-width="2.5" fill="none"/><path d="M780.7,1267.5 Q742.1,1255.2 739.3,1214.8" stroke="#ff5a32" stroke-opacity="0.40" stroke-width="1.2" fill="none"/><path d="M722.7,1270.4 Q666.5,1257.5 645.2,1204.0" stroke="#8000ff" stroke-opacity="0.38" stroke-width="2.5" fill="none"/><path d="M740.8,1277.7 Q733.7,1269.5 722.9,1270.8" stroke="#68f5c8" stroke-opacity="0.38" stroke-width="1.0" fill="none"/><path d="M740.8,1277.7 Q734.3,1155.2 651.8,1064.4" stroke="#68f5c8" stroke-opacity="0.40" stroke-width="1.0" fill="none"/><path d="M773.1,1281.9 Q713.0,1262.7 679.2,1209.4" stroke="#d3d784" stroke-opacity="0.38" stroke-width="1.0" fill="none"/><path d="M758.4,1289.3 Q730.0,1278.2 720.3,1249.3" stroke="#ff0000" stroke-opacity="0.40" stroke-width="1.2" fill="none"/><path d="M834.8,1288.3 Q825.1,1247.1 784.0,1237.2" stroke="#fb9f5a" stroke-opacity="0.40" stroke-width="1.2" fill="none"/><path d="M901.8,1288.6 Q870.6,1247.7 823.5,1227.1" stroke="#ff5a32" stroke-opacity="0.40" stroke-width="1.2" fill="none"/><path d="M809.5,1298.3 Q800.3,1254.1 755.7,1246.9" stroke="#d3d784" stroke-opacity="0.38" stroke-width="1.5" fill="none"/><path d="M727.4,1300.2 Q699.8,1294.0 691.3,1267.0" stroke="#ff0000" stroke-opacity="0.40" stroke-width="1.2" fill="none"/><path d="M727.4,1300.2 Q644.8,1369.0 558.5,1305.0" stroke="#ff0000" stroke-opacity="0.40" stroke-width="1.0" fill="none"/><path d="M846.1,1310.5 Q805.0,1303.0 792.1,1263.3" stroke="#ff5a32" stroke-opacity="0.40" stroke-width="1.2" fill="none"/><path d="M889.6,1309.7 Q809.5,1306.4 755.7,1246.9" stroke="#fb9f5a" stroke-opacity="0.40" stroke-width="1.2" fill="none"/><path d="M739.0,1316.1 Q683.4,1300.0 667.6,1244.3" stroke="#fb9f5a" stroke-opacity="0.40" stroke-width="1.2" fill="none"/><path d="M739.0,1316.1 Q637.7,1392.3 522.8,1338.6" stroke="#fb9f5a" stroke-opacity="0.40" stroke-width="1.0" fill="none"/><path d="M749.7,1321.8 Q724.4,1267.2 674.8,1233.1" stroke="#a0f5a0" stroke-opacity="0.38" stroke-width="3.0" fill="none"/><path d="M787.2,1315.4 Q744.3,1315.9 717.2,1282.7" stroke="#68f5c8" stroke-opacity="0.38" stroke-width="1.5" fill="none"/><path d="M807.8,1319.5 Q752.4,1259.2 674.8,1233.1" stroke="#8000ff" stroke-opacity="0.38" stroke-width="2.5" fill="none"/><path d="M768.6,1324.3 Q734.4,1196.7 603.3,1180.2" stroke="#8000ff" stroke-opacity="0.38" stroke-width="3.0" fill="none"/><path d="M840.9,1322.8 Q815.9,1225.6 716.5,1211.7" stroke="#ff0000" stroke-opacity="0.40" stroke-width="1.2" fill="none"/><path d="M840.9,1322.8 Q739.3,1311.4 716.5,1211.7" stroke="#ff0000" stroke-opacity="0.40" stroke-width="1.0" fill="none"/><path d="M790.7,1336.6 Q761.1,1222.9 645.2,1204.0" stroke="#fb9f5a" stroke-opacity="0.40" stroke-width="1.2" fill="none"/><path d="M749.5,1341.4 Q715.4,1271.8 646.0,1237.2" stroke="#ff0000" stroke-opacity="0.40" stroke-width="1.2" fill="none"/><path d="M829.6,1345.6 Q782.2,1248.1 674.8,1233.1" stroke="#d3d784" stroke-opacity="0.38" stroke-width="3.0" fill="none"/><path d="M803.6,1354.5 Q746.7,1353.2 726.4,1300.1" stroke="#4b55f5" stroke-opacity="0.38" stroke-width="2.5" fill="none"/><path d="M882.6,1360.3 Q835.3,1255.2 720.3,1249.3" stroke="#8000ff" stroke-opacity="0.38" stroke-width="3.0" fill="none"/><path d="M774.0,1361.0 Q698.4,1346.1 671.4,1273.9" stroke="#d3d784" stroke-opacity="0.38" stroke-width="1.5" fill="none"/><path d="M774.0,1361.0 Q764.7,1265.8 674.8,1233.1" stroke="#d3d784" stroke-opacity="0.40" stroke-width="1.0" fill="none"/><path d="M806.0,1376.8 Q748.7,1342.0 717.2,1282.7" stroke="#ff0000" stroke-opacity="0.40" stroke-width="1.2" fill="none"/><path d="M734.9,1372.3 Q660.0,1330.0 667.6,1244.3" stroke="#ff0000" stroke-opacity="0.40" stroke-width="1.2" fill="none"/><path d="M759.1,1382.3 Q754.5,1307.4 691.3,1267.0" stroke="#68f5c8" stroke-opacity="0.38" stroke-width="1.0" fill="none"/><path d="M783.5,1393.7 Q691.7,1325.2 646.0,1220.2" stroke="#1a9cf0" stroke-opacity="0.38" stroke-width="1.0" fill="none"/><path d="M740.1,1395.2 Q731.6,1287.0 646.0,1220.2" stroke="#ff5a32" stroke-opacity="0.40" stroke-width="1.2" fill="none"/><path d="M862.0,1408.4 Q739.6,1356.2 667.6,1244.3" stroke="#4b55f5" stroke-opacity="0.38" stroke-width="1.5" fill="none"/><path d="M882.6,1361.0 Q871.7,1331.0 840.9,1322.8" stroke="#8000ff" stroke-opacity="0.38" stroke-width="1.5" fill="none"/><path d="M346.3,1204.6 Q366.9,1190.1 391.4,1195.9" stroke="#8000ff" stroke-opacity="0.38" stroke-width="1.0" fill="none"/><path d="M362.8,1201.1 Q368.0,1185.1 384.5,1182.0" stroke="#30dcdc" stroke-opacity="0.38" stroke-width="1.0" fill="none"/><path d="M423.3,1185.4 Q450.6,1201.8 478.0,1185.4" stroke="#1a9cf0" stroke-opacity="0.34" stroke-width="1.0" fill="none"/><path d="M414.1,1203.1 Q450.3,1208.5 478.6,1185.3" stroke="#1a9cf0" stroke-opacity="0.34" stroke-width="1.0" fill="none"/><path d="M486.8,1213.1 Q522.2,1190.1 557.9,1212.5" stroke="#68f5c8" stroke-opacity="0.34" stroke-width="1.0" fill="none"/><path d="M375.9,1221.3 Q400.6,1224.2 413.9,1203.3" stroke="#1a9cf0" stroke-opacity="0.38" stroke-width="1.5" fill="none"/><path d="M356.6,1221.3 Q389.3,1224.8 414.1,1203.1" stroke="#d3d784" stroke-opacity="0.38" stroke-width="1.5" fill="none"/><path d="M389.7,1213.1 Q404.7,1214.9 414.1,1203.1" stroke="#a0f5a0" stroke-opacity="0.38" stroke-width="1.0" fill="none"/><path d="M407.9,1226.2 Q421.4,1234.3 437.0,1232.2" stroke="#4b55f5" stroke-opacity="0.34" stroke-width="1.0" fill="none"/><path d="M447.2,1223.9 Q464.2,1207.1 487.8,1203.3" stroke="#8000ff" stroke-opacity="0.34" stroke-width="1.0" fill="none"/><path d="M436.7,1232.4 Q430.9,1221.0 437.5,1210.0" stroke="#8000ff" stroke-opacity="0.34" stroke-width="1.0" fill="none"/><path d="M473.1,1227.0 Q475.6,1212.2 487.8,1203.3" stroke="#30dcdc" stroke-opacity="0.34" stroke-width="1.0" fill="none"/><path d="M460.0,1233.9 Q481.4,1244.4 501.7,1231.8" stroke="#1a9cf0" stroke-opacity="0.34" stroke-width="1.0" fill="none"/><path d="M367.1,1235.4 Q397.2,1229.1 413.9,1203.3" stroke="#fb9f5a" stroke-opacity="0.40" stroke-width="1.2" fill="none"/><path d="M479.2,1239.3 Q491.5,1238.6 501.7,1231.8" stroke="#ff5a32" stroke-opacity="0.34" stroke-width="1.0" fill="none"/><path d="M471.4,1243.1 Q468.6,1218.7 487.8,1203.3" stroke="#68f5c8" stroke-opacity="0.34" stroke-width="1.0" fill="none"/><path d="M497.2,1250.1 Q509.8,1237.3 527.8,1238.0" stroke="#a0f5a0" stroke-opacity="0.34" stroke-width="1.0" fill="none"/><path d="M364.5,1259.3 Q377.6,1220.9 414.1,1203.1" stroke="#ff0000" stroke-opacity="0.40" stroke-width="1.2" fill="none"/><path d="M347.9,1264.7 Q355.5,1259.7 364.5,1259.3" stroke="#68f5c8" stroke-opacity="0.38" stroke-width="3.0" fill="none"/><path d="M354.8,1275.5 Q428.1,1285.8 473.1,1227.0" stroke="#1a9cf0" stroke-opacity="0.38" stroke-width="1.0" fill="none"/><path d="M388.7,1277.8 Q401.6,1243.4 436.7,1232.4" stroke="#1a9cf0" stroke-opacity="0.38" stroke-width="3.0" fill="none"/><path d="M395.9,1281.6 Q420.8,1217.8 487.8,1203.3" stroke="#a0f5a0" stroke-opacity="0.38" stroke-width="3.0" fill="none"/><path d="M438.0,1263.9 Q481.8,1249.2 487.8,1203.3" stroke="#ff0000" stroke-opacity="0.40" stroke-width="1.2" fill="none"/><path d="M457.7,1263.2 Q471.3,1247.7 472.9,1227.1" stroke="#1a9cf0" stroke-opacity="0.34" stroke-width="1.0" fill="none"/><path d="M491.4,1269.8 Q501.5,1244.6 527.8,1238.0" stroke="#68f5c8" stroke-opacity="0.34" stroke-width="1.0" fill="none"/><path d="M374.0,1298.3 Q441.8,1288.2 472.9,1227.1" stroke="#4b55f5" stroke-opacity="0.38" stroke-width="3.0" fill="none"/><path d="M412.2,1304.7 Q415.0,1277.9 438.0,1263.9" stroke="#ff5a32" stroke-opacity="0.40" stroke-width="1.2" fill="none"/><path d="M458.7,1310.9 Q441.4,1248.5 487.8,1203.3" stroke="#ff0000" stroke-opacity="0.40" stroke-width="1.2" fill="none"/><path d="M471.4,1318.6 Q480.8,1265.5 529.0,1241.1" stroke="#30dcdc" stroke-opacity="0.38" stroke-width="3.0" fill="none"/><path d="M399.4,1326.0 Q413.8,1280.9 457.7,1263.2" stroke="#d3d784" stroke-opacity="0.38" stroke-width="1.0" fill="none"/><path d="M455.7,1332.9 Q448.7,1277.3 497.7,1250.0" stroke="#d3d784" stroke-opacity="0.38" stroke-width="1.0" fill="none"/><path d="M421.0,1331.7 Q475.0,1322.0 491.2,1269.6" stroke="#ff0000" stroke-opacity="0.40" stroke-width="1.2" fill="none"/><path d="M404.8,1350.2 Q427.4,1287.8 491.2,1269.6" stroke="#fb9f5a" stroke-opacity="0.40" stroke-width="1.2" fill="none"/><path d="M404.8,1350.2 Q489.4,1388.3 579.8,1367.8" stroke="#ff0000" stroke-opacity="0.40" stroke-width="1.0" fill="none"/><path d="M395.6,1350.2 Q398.6,1266.1 473.1,1227.0" stroke="#8000ff" stroke-opacity="0.38" stroke-width="3.0" fill="none"/><path d="M349.7,1353.3 Q349.9,1320.5 374.0,1298.3" stroke="#1a9cf0" stroke-opacity="0.38" stroke-width="2.5" fill="none"/><path d="M380.2,1362.2 Q427.9,1305.6 437.0,1232.2" stroke="#4b55f5" stroke-opacity="0.38" stroke-width="3.0" fill="none"/><path d="M399.4,1380.2 Q417.6,1294.6 473.1,1227.0" stroke="#4b55f5" stroke-opacity="0.38" stroke-width="3.0" fill="none"/><path d="M476.8,1345.1 Q488.2,1284.8 527.8,1238.0" stroke="#1a9cf0" stroke-opacity="0.38" stroke-width="1.5" fill="none"/><path d="M494.2,1354.0 Q573.5,1304.6 557.9,1212.5" stroke="#30dcdc" stroke-opacity="0.38" stroke-width="2.5" fill="none"/><path d="M456.4,1380.2 Q552.1,1323.6 557.9,1212.5" stroke="#fb9f5a" stroke-opacity="0.40" stroke-width="1.2" fill="none"/><path d="M456.4,1380.2 Q451.4,1317.9 491.2,1269.6" stroke="#ff0000" stroke-opacity="0.40" stroke-width="1.0" fill="none"/><path d="M468.0,1384.8 Q523.4,1321.8 527.8,1238.0" stroke="#d3d784" stroke-opacity="0.38" stroke-width="2.5" fill="none"/><path d="M460.0,1400.0 Q528.9,1345.9 529.6,1258.2" stroke="#8000ff" stroke-opacity="0.38" stroke-width="1.0" fill="none"/><path d="M498.8,1317.0 Q504.6,1275.4 529.0,1241.1" stroke="#d3d784" stroke-opacity="0.38" stroke-width="3.0" fill="none"/><path d="M529.0,1241.1 Q550.5,1233.9 557.9,1212.5" stroke="#ff5a32" stroke-opacity="0.34" stroke-width="1.0" fill="none"/><path d="M529.6,1258.2 Q529.4,1226.5 557.9,1212.5" stroke="#30dcdc" stroke-opacity="0.34" stroke-width="1.0" fill="none"/><path d="M497.7,1250.0 Q510.5,1238.3 527.8,1238.0" stroke="#30dcdc" stroke-opacity="0.34" stroke-width="1.0" fill="none"/><path d="M491.2,1269.6 Q518.4,1264.1 527.8,1238.0" stroke="#8000ff" stroke-opacity="0.34" stroke-width="1.0" fill="none"/><path d="M528.2,1286.7 Q543.1,1262.2 527.8,1238.0" stroke="#4b55f5" stroke-opacity="0.34" stroke-width="1.0" fill="none"/><path d="M600.9,1234.6 Q599.4,1219.0 612.9,1211.0" stroke="#30dcdc" stroke-opacity="0.34" stroke-width="1.0" fill="none"/><path d="M614.8,1241.9 Q609.9,1234.4 601.0,1234.1" stroke="#fb9f5a" stroke-opacity="0.34" stroke-width="1.0" fill="none"/><path d="M572.4,1248.5 Q575.2,1226.5 557.9,1212.5" stroke="#a0f5a0" stroke-opacity="0.34" stroke-width="1.0" fill="none"/><path d="M605.5,1268.5 Q574.2,1246.9 557.9,1212.5" stroke="#a0f5a0" stroke-opacity="0.34" stroke-width="1.0" fill="none"/><path d="M646.0,1239.2 Q650.4,1221.5 645.2,1204.0" stroke="#1a9cf0" stroke-opacity="0.34" stroke-width="1.0" fill="none"/><path d="M667.6,1244.3 Q646.7,1236.5 633.8,1218.2" stroke="#ff0000" stroke-opacity="0.34" stroke-width="1.0" fill="none"/><path d="M674.8,1233.1 Q661.4,1240.7 646.0,1239.2" stroke="#68f5c8" stroke-opacity="0.34" stroke-width="1.0" fill="none"/><path d="M637.4,1257.3 Q601.4,1227.1 603.3,1180.2" stroke="#ff5a32" stroke-opacity="0.34" stroke-width="1.0" fill="none"/><path d="M636.3,1269.0 Q646.6,1255.9 646.0,1239.2" stroke="#d3d784" stroke-opacity="0.34" stroke-width="1.0" fill="none"/><path d="M640.9,1273.6 Q586.2,1261.0 557.9,1212.5" stroke="#d3d784" stroke-opacity="0.34" stroke-width="1.0" fill="none"/><path d="M648.9,1277.0 Q661.2,1256.1 646.0,1237.2" stroke="#ff0000" stroke-opacity="0.34" stroke-width="1.0" fill="none"/><path d="M663.3,1265.4 Q628.2,1247.4 612.9,1211.0" stroke="#ff0000" stroke-opacity="0.34" stroke-width="1.0" fill="none"/><path d="M665.6,1262.8 Q647.6,1245.3 646.0,1220.2" stroke="#4b55f5" stroke-opacity="0.34" stroke-width="1.0" fill="none"/><path d="M671.4,1273.9 Q667.3,1250.3 646.0,1239.2" stroke="#ff5a32" stroke-opacity="0.40" stroke-width="1.2" fill="none"/><path d="M670.5,1285.4 Q670.7,1255.7 646.0,1239.2" stroke="#ff0000" stroke-opacity="0.40" stroke-width="1.2" fill="none"/><path d="M670.5,1292.7 Q674.6,1250.9 646.0,1220.2" stroke="#ff0000" stroke-opacity="0.40" stroke-width="1.2" fill="none"/><path d="M669.4,1300.8 Q662.6,1285.9 648.9,1277.0" stroke="#ff0000" stroke-opacity="0.40" stroke-width="1.2" fill="none"/><path d="M691.3,1267.0 Q682.9,1224.8 645.2,1204.0" stroke="#ff0000" stroke-opacity="0.40" stroke-width="1.2" fill="none"/><path d="M720.3,1249.3 Q701.7,1229.5 674.8,1233.1" stroke="#ff0000" stroke-opacity="0.40" stroke-width="1.2" fill="none"/><path d="M748.0,1241.1 Q740.9,1217.1 716.5,1211.7" stroke="#fb9f5a" stroke-opacity="0.40" stroke-width="1.2" fill="none"/><path d="M755.7,1246.9 Q741.8,1233.8 739.3,1214.8" stroke="#d3d784" stroke-opacity="0.38" stroke-width="3.0" fill="none"/><path d="M722.9,1270.8 Q695.5,1203.3 622.9,1197.1" stroke="#d3d784" stroke-opacity="0.38" stroke-width="2.5" fill="none"/><path d="M722.9,1270.8 Q726.7,1183.8 676.9,1112.4" stroke="#d3d784" stroke-opacity="0.40" stroke-width="1.0" fill="none"/><path d="M726.9,1272.4 Q694.9,1260.6 674.8,1233.1" stroke="#30dcdc" stroke-opacity="0.38" stroke-width="2.5" fill="none"/><path d="M717.2,1282.7 Q683.8,1253.5 679.2,1209.4" stroke="#ff5a32" stroke-opacity="0.40" stroke-width="1.2" fill="none"/><path d="M698.7,1285.8 Q683.7,1237.2 645.2,1204.0" stroke="#1a9cf0" stroke-opacity="0.38" stroke-width="1.0" fill="none"/><path d="M694.1,1287.8 Q685.1,1248.2 646.0,1237.2" stroke="#ff5a32" stroke-opacity="0.40" stroke-width="1.2" fill="none"/><path d="M740.7,1278.0 Q701.9,1264.1 674.8,1233.1" stroke="#a0f5a0" stroke-opacity="0.38" stroke-width="2.5" fill="none"/><path d="M773.1,1281.9 Q740.0,1276.5 720.3,1249.3" stroke="#fb9f5a" stroke-opacity="0.40" stroke-width="1.2" fill="none"/><path d="M758.0,1289.3 Q722.4,1221.8 646.0,1220.2" stroke="#ff0000" stroke-opacity="0.40" stroke-width="1.2" fill="none"/><path d="M726.4,1300.1 Q719.7,1292.5 717.2,1282.7" stroke="#d3d784" stroke-opacity="0.38" stroke-width="2.5" fill="none"/><path d="M700.2,1308.5 Q675.5,1299.8 671.4,1273.9" stroke="#ff5a32" stroke-opacity="0.40" stroke-width="1.2" fill="none"/><path d="M676.4,1316.2 Q665.8,1302.3 670.5,1285.4" stroke="#ff0000" stroke-opacity="0.40" stroke-width="1.2" fill="none"/><path d="M687.9,1315.5 Q674.8,1303.0 670.5,1285.4" stroke="#d3d784" stroke-opacity="0.38" stroke-width="1.0" fill="none"/><path d="M687.9,1315.5 Q541.4,1308.0 471.3,1179.1" stroke="#ff0000" stroke-opacity="0.40" stroke-width="1.0" fill="none"/><path d="M687.6,1320.1 Q658.5,1287.2 667.6,1244.3" stroke="#4b55f5" stroke-opacity="0.38" stroke-width="2.5" fill="none"/><path d="M687.2,1329.3 Q650.4,1293.0 667.6,1244.3" stroke="#a0f5a0" stroke-opacity="0.38" stroke-width="1.0" fill="none"/><path d="M739.2,1316.2 Q705.3,1301.3 691.3,1267.0" stroke="#fb9f5a" stroke-opacity="0.40" stroke-width="1.2" fill="none"/><path d="M749.5,1321.9 Q723.5,1310.4 717.2,1282.7" stroke="#a0f5a0" stroke-opacity="0.38" stroke-width="2.5" fill="none"/><path d="M768.8,1324.3 Q732.7,1237.7 645.2,1204.0" stroke="#8000ff" stroke-opacity="0.38" stroke-width="2.5" fill="none"/><path d="M719.2,1335.0 Q722.6,1272.9 674.8,1233.1" stroke="#ff5a32" stroke-opacity="0.40" stroke-width="1.2" fill="none"/><path d="M749.5,1341.7 Q691.0,1307.7 667.6,1244.3" stroke="#ff0000" stroke-opacity="0.40" stroke-width="1.2" fill="none"/><path d="M749.5,1341.7 Q692.7,1291.6 619.1,1309.3" stroke="#ff0000" stroke-opacity="0.40" stroke-width="1.0" fill="none"/><path d="M700.7,1351.4 Q701.7,1274.0 646.0,1220.2" stroke="#ff5a32" stroke-opacity="0.40" stroke-width="1.2" fill="none"/><path d="M773.9,1361.2 Q684.3,1313.9 646.0,1220.2" stroke="#d3d784" stroke-opacity="0.38" stroke-width="1.0" fill="none"/><path d="M734.9,1372.5 Q728.8,1309.6 670.5,1285.4" stroke="#ff0000" stroke-opacity="0.40" stroke-width="1.2" fill="none"/><path d="M701.0,1376.8 Q601.0,1323.6 612.9,1211.0" stroke="#4b55f5" stroke-opacity="0.38" stroke-width="1.0" fill="none"/><path d="M759.1,1382.5 Q660.2,1329.7 600.9,1234.6" stroke="#68f5c8" stroke-opacity="0.38" stroke-width="1.5" fill="none"/><path d="M740.0,1395.6 Q670.0,1362.8 670.5,1285.4" stroke="#ff5a32" stroke-opacity="0.40" stroke-width="1.2" fill="none"/><path d="M709.5,1439.5 Q635.5,1374.6 648.9,1277.0" stroke="#1a9cf0" stroke-opacity="0.38" stroke-width="3.0" fill="none"/><path d="M694.8,1406.0 Q671.4,1307.4 600.9,1234.6" stroke="#4b55f5" stroke-opacity="0.38" stroke-width="1.5" fill="none"/><path d="M673.0,1396.3 Q696.6,1286.2 612.9,1211.0" stroke="#fb9f5a" stroke-opacity="0.40" stroke-width="1.2" fill="none"/><path d="M659.1,1391.4 Q603.2,1319.5 646.0,1239.2" stroke="#30dcdc" stroke-opacity="0.38" stroke-width="1.5" fill="none"/><path d="M659.1,1391.4 Q698.1,1253.3 599.2,1149.4" stroke="#30dcdc" stroke-opacity="0.40" stroke-width="1.0" fill="none"/><path d="M667.9,1378.3 Q666.1,1319.6 636.3,1269.0" stroke="#30dcdc" stroke-opacity="0.38" stroke-width="1.0" fill="none"/><path d="M647.9,1366.0 Q604.1,1307.6 600.9,1234.6" stroke="#1a9cf0" stroke-opacity="0.38" stroke-width="1.0" fill="none"/><path d="M668.7,1352.9 Q670.2,1304.1 636.3,1269.0" stroke="#d3d784" stroke-opacity="0.38" stroke-width="1.0" fill="none"/><path d="M670.2,1334.4 Q606.1,1304.6 601.0,1234.1" stroke="#8000ff" stroke-opacity="0.38" stroke-width="1.5" fill="none"/><path d="M665.6,1307.0 Q643.5,1293.7 636.3,1269.0" stroke="#1a9cf0" stroke-opacity="0.38" stroke-width="2.5" fill="none"/><path d="M651.4,1332.4 Q600.0,1264.9 603.3,1180.2" stroke="#fb9f5a" stroke-opacity="0.40" stroke-width="1.2" fill="none"/><path d="M642.8,1330.1 Q626.3,1325.0 619.1,1309.3" stroke="#fb9f5a" stroke-opacity="0.40" stroke-width="1.2" fill="none"/><path d="M628.9,1344.0 Q652.0,1279.6 601.0,1234.1" stroke="#fb9f5a" stroke-opacity="0.40" stroke-width="1.2" fill="none"/><path d="M619.1,1309.3 Q633.3,1267.2 615.6,1226.4" stroke="#ff5a32" stroke-opacity="0.40" stroke-width="1.2" fill="none"/><path d="M611.4,1315.5 Q615.2,1248.1 557.9,1212.5" stroke="#d3d784" stroke-opacity="0.38" stroke-width="3.0" fill="none"/><path d="M623.5,1316.6 Q561.6,1282.9 557.9,1212.5" stroke="#ff5a32" stroke-opacity="0.40" stroke-width="1.2" fill="none"/><path d="M615.5,1286.2 Q608.3,1278.6 605.5,1268.5" stroke="#d3d784" stroke-opacity="0.34" stroke-width="1.0" fill="none"/><path d="M626.3,1286.2 Q626.3,1258.6 646.0,1239.2" stroke="#fb9f5a" stroke-opacity="0.34" stroke-width="1.0" fill="none"/><path d="M586.3,1293.1 Q557.6,1257.9 557.9,1212.5" stroke="#1a9cf0" stroke-opacity="0.34" stroke-width="1.0" fill="none"/><path d="M585.2,1299.3 Q594.8,1269.9 572.4,1248.5" stroke="#ff5a32" stroke-opacity="0.34" stroke-width="1.0" fill="none"/><path d="M596.3,1298.5 Q590.1,1298.0 586.3,1293.1" stroke="#a0f5a0" stroke-opacity="0.38" stroke-width="1.0" fill="none"/><path d="M563.2,1293.1 Q575.0,1272.3 572.4,1248.5" stroke="#68f5c8" stroke-opacity="0.34" stroke-width="1.0" fill="none"/><path d="M568.9,1310.1 Q557.5,1278.6 572.4,1248.5" stroke="#a0f5a0" stroke-opacity="0.38" stroke-width="3.0" fill="none"/><path d="M558.5,1305.0 Q583.4,1281.2 572.4,1248.5" stroke="#d3d784" stroke-opacity="0.38" stroke-width="1.0" fill="none"/><path d="M543.6,1317.8 Q519.5,1260.9 557.9,1212.5" stroke="#fb9f5a" stroke-opacity="0.40" stroke-width="1.2" fill="none"/><path d="M513.9,1313.6 Q506.3,1250.2 557.9,1212.5" stroke="#a0f5a0" stroke-opacity="0.38" stroke-width="3.0" fill="none"/><path d="M500.0,1318.1 Q557.8,1281.1 557.9,1212.5" stroke="#d3d784" stroke-opacity="0.38" stroke-width="1.0" fill="none"/><path d="M562.4,1335.5 Q576.1,1273.4 557.9,1212.5" stroke="#ff0000" stroke-opacity="0.40" stroke-width="1.2" fill="none"/><path d="M604.8,1330.9 Q622.6,1281.7 601.0,1234.1" stroke="#fb9f5a" stroke-opacity="0.40" stroke-width="1.2" fill="none"/><path d="M618.3,1334.4 Q590.0,1305.7 605.5,1268.5" stroke="#1a9cf0" stroke-opacity="0.38" stroke-width="3.0" fill="none"/><path d="M522.8,1338.6 Q507.6,1296.8 529.6,1258.2" stroke="#4b55f5" stroke-opacity="0.38" stroke-width="3.0" fill="none"/><path d="M531.3,1343.5 Q494.6,1291.9 527.8,1238.0" stroke="#ff5a32" stroke-opacity="0.40" stroke-width="1.2" fill="none"/><path d="M542.4,1344.0 Q514.0,1295.4 529.0,1241.1" stroke="#fb9f5a" stroke-opacity="0.40" stroke-width="1.2" fill="none"/><path d="M553.9,1344.7 Q521.5,1277.6 557.9,1212.5" stroke="#ff0000" stroke-opacity="0.40" stroke-width="1.2" fill="none"/><path d="M575.5,1344.0 Q604.4,1295.3 572.4,1248.5" stroke="#ff0000" stroke-opacity="0.40" stroke-width="1.2" fill="none"/><path d="M514.7,1352.9 Q549.7,1300.6 529.0,1241.1" stroke="#a0f5a0" stroke-opacity="0.38" stroke-width="1.0" fill="none"/><path d="M495.9,1348.1 Q496.2,1289.6 529.0,1241.1" stroke="#1a9cf0" stroke-opacity="0.38" stroke-width="3.0" fill="none"/><path d="M493.9,1354.0 Q535.7,1303.3 527.8,1238.0" stroke="#68f5c8" stroke-opacity="0.38" stroke-width="1.5" fill="none"/><path d="M523.1,1377.1 Q585.4,1304.3 557.9,1212.5" stroke="#ff5a32" stroke-opacity="0.40" stroke-width="1.2" fill="none"/><path d="M572.9,1379.1 Q532.6,1314.0 572.4,1248.5" stroke="#30dcdc" stroke-opacity="0.38" stroke-width="1.0" fill="none"/><path d="M579.8,1367.8 Q560.6,1309.1 572.4,1248.5" stroke="#1a9cf0" stroke-opacity="0.38" stroke-width="1.5" fill="none"/><path d="M591.4,1364.5 Q615.6,1279.5 557.9,1212.5" stroke="#fb9f5a" stroke-opacity="0.40" stroke-width="1.2" fill="none"/><path d="M604.4,1377.5 Q620.5,1305.0 572.4,1248.5" stroke="#d3d784" stroke-opacity="0.38" stroke-width="1.0" fill="none"/><path d="M626.3,1376.0 Q570.5,1303.3 557.9,1212.5" stroke="#4b55f5" stroke-opacity="0.38" stroke-width="1.5" fill="none"/><path d="M632.2,1380.9 Q633.3,1279.8 557.9,1212.5" stroke="#ff0000" stroke-opacity="0.40" stroke-width="1.2" fill="none"/><path d="M632.2,1380.9 Q595.5,1290.3 674.8,1233.1" stroke="#ff0000" stroke-opacity="0.40" stroke-width="1.0" fill="none"/><path d="M607.8,1397.6 Q627.3,1332.7 605.5,1268.5" stroke="#d3d784" stroke-opacity="0.38" stroke-width="3.0" fill="none"/><path d="M631.4,1402.5 Q636.4,1312.3 572.4,1248.5" stroke="#a0f5a0" stroke-opacity="0.38" stroke-width="1.0" fill="none"/><path d="M562.7,1392.9 Q576.5,1352.3 568.9,1310.1" stroke="#8000ff" stroke-opacity="0.38" stroke-width="1.5" fill="none"/><path d="M562.7,1392.9 Q678.1,1344.8 747.8,1241.0" stroke="#8000ff" stroke-opacity="0.40" stroke-width="1.0" fill="none"/><path d="M530.5,1400.2 Q502.3,1300.2 557.9,1212.5" stroke="#d3d784" stroke-opacity="0.38" stroke-width="3.0" fill="none"/><path d="M530.5,1400.2 Q612.1,1282.4 566.0,1146.8" stroke="#d3d784" stroke-opacity="0.40" stroke-width="1.0" fill="none"/><path d="M506.2,1405.6 Q542.7,1335.8 529.6,1258.2" stroke="#30dcdc" stroke-opacity="0.38" stroke-width="2.5" fill="none"/><path d="M483.5,1400.2 Q451.7,1305.0 529.0,1241.1" stroke="#4b55f5" stroke-opacity="0.38" stroke-width="2.5" fill="none"/><path d="M556.5,1403.6 Q517.7,1326.6 529.0,1241.1" stroke="#4b55f5" stroke-opacity="0.38" stroke-width="3.0" fill="none"/><path d="M580.1,1404.5 Q605.2,1350.0 586.3,1293.1" stroke="#8000ff" stroke-opacity="0.38" stroke-width="1.0" fill="none"/><path d="M553.9,1417.6 Q596.0,1368.7 568.9,1310.1" stroke="#d3d784" stroke-opacity="0.38" stroke-width="3.0" fill="none"/><path d="M597.4,1415.3 Q620.2,1305.8 529.0,1241.1" stroke="#4b55f5" stroke-opacity="0.38" stroke-width="3.0" fill="none"/><path d="M597.4,1415.3 Q679.4,1436.2 734.9,1372.3" stroke="#4b55f5" stroke-opacity="0.40" stroke-width="1.0" fill="none"/><path d="M516.5,1423.3 Q483.4,1337.6 529.6,1258.2" stroke="#4b55f5" stroke-opacity="0.38" stroke-width="1.0" fill="none"/><path d="M580.9,1421.0 Q537.3,1320.3 557.9,1212.5" stroke="#4b55f5" stroke-opacity="0.38" stroke-width="2.5" fill="none"/><path d="M623.2,1427.1 Q624.4,1346.2 563.2,1293.1" stroke="#8000ff" stroke-opacity="0.38" stroke-width="3.0" fill="none"/><path d="M623.2,1427.1 Q729.8,1390.3 740.7,1278.0" stroke="#8000ff" stroke-opacity="0.40" stroke-width="1.0" fill="none"/><path d="M652.2,1426.4 Q618.3,1372.8 619.1,1309.3" stroke="#ff0000" stroke-opacity="0.40" stroke-width="1.2" fill="none"/><path d="M513.1,1435.6 Q465.7,1332.7 527.8,1238.0" stroke="#1a9cf0" stroke-opacity="0.38" stroke-width="2.5" fill="none"/><path d="M534.7,1437.9 Q510.4,1357.9 563.2,1293.1" stroke="#ff0000" stroke-opacity="0.40" stroke-width="1.2" fill="none"/><path d="M489.7,1445.2 Q442.5,1329.4 527.8,1238.0" stroke="#30dcdc" stroke-opacity="0.38" stroke-width="1.0" fill="none"/><path d="M580.9,1447.2 Q543.2,1349.3 572.4,1248.5" stroke="#1a9cf0" stroke-opacity="0.38" stroke-width="3.0" fill="none"/><path d="M600.8,1452.4 Q599.6,1333.2 527.8,1238.0" stroke="#ff0000" stroke-opacity="0.40" stroke-width="1.2" fill="none"/><path d="M399.1,1380.0 Q491.6,1322.0 487.0,1213.0" stroke="#4b55f5" stroke-opacity="0.38" stroke-width="1.0" fill="none"/><path d="M456.4,1380.0 Q494.8,1355.1 513.9,1313.6" stroke="#fb9f5a" stroke-opacity="0.40" stroke-width="1.2" fill="none"/><path d="M446.2,1433.0 Q514.3,1358.2 529.6,1258.2" stroke="#ff5a32" stroke-opacity="0.40" stroke-width="1.2" fill="none"/><path d="M459.2,1457.3 Q528.1,1358.5 527.8,1238.0" stroke="#ff5a32" stroke-opacity="0.40" stroke-width="1.2" fill="none"/><path d="M491.5,1470.3 Q451.6,1322.6 557.9,1212.5" stroke="#d3d784" stroke-opacity="0.38" stroke-width="3.0" fill="none"/><path d="M644.9,1462.2 Q534.6,1380.5 572.4,1248.5" stroke="#ff0000" stroke-opacity="0.40" stroke-width="1.2" fill="none"/><path d="M651.9,1426.2 Q650.5,1323.8 601.0,1234.1" stroke="#ff0000" stroke-opacity="0.40" stroke-width="1.2" fill="none"/><path d="M700.9,1377.0 Q669.3,1330.3 671.4,1273.9" stroke="#1a9cf0" stroke-opacity="0.38" stroke-width="3.0" fill="none"/><path d="M758.8,1382.2 Q732.6,1354.0 739.0,1316.1" stroke="#68f5c8" stroke-opacity="0.38" stroke-width="1.0" fill="none"/><path d="M783.4,1393.9 Q785.7,1317.2 717.2,1282.7" stroke="#4b55f5" stroke-opacity="0.38" stroke-width="2.5" fill="none"/><path d="M805.9,1376.3 Q706.2,1329.5 646.0,1237.2" stroke="#ff0000" stroke-opacity="0.40" stroke-width="1.2" fill="none"/><path d="M694.7,1406.2 Q706.7,1311.2 646.0,1237.2" stroke="#4b55f5" stroke-opacity="0.38" stroke-width="2.5" fill="none"/><path d="M673.2,1396.3 Q589.2,1320.9 557.9,1212.5" stroke="#fb9f5a" stroke-opacity="0.40" stroke-width="1.2" fill="none"/><path d="M668.0,1378.5 Q630.8,1332.2 640.9,1273.6" stroke="#30dcdc" stroke-opacity="0.38" stroke-width="2.5" fill="none"/><path d="M658.7,1391.4 Q633.6,1335.0 640.9,1273.6" stroke="#8000ff" stroke-opacity="0.38" stroke-width="3.0" fill="none"/><path d="M626.4,1375.4 Q578.5,1311.4 600.9,1234.6" stroke="#4b55f5" stroke-opacity="0.38" stroke-width="3.0" fill="none"/><path d="M604.2,1377.6 Q586.0,1322.8 605.5,1268.5" stroke="#1a9cf0" stroke-opacity="0.38" stroke-width="1.0" fill="none"/><path d="M591.3,1364.6 Q540.3,1296.1 557.9,1212.5" stroke="#fb9f5a" stroke-opacity="0.40" stroke-width="1.2" fill="none"/><path d="M580.2,1367.7 Q559.3,1333.2 563.2,1293.1" stroke="#4b55f5" stroke-opacity="0.38" stroke-width="3.0" fill="none"/><path d="M850.4,1191.9 Q778.6,1225.7 711.6,1183.3" stroke="#ff0000" stroke-opacity="0.40" stroke-width="1.2" fill="none"/><path d="M860.6,1215.7 Q844.6,1229.6 823.5,1227.1" stroke="#fb9f5a" stroke-opacity="0.40" stroke-width="1.2" fill="none"/><path d="M860.6,1215.7 Q815.7,1141.6 729.8,1152.8" stroke="#fb9f5a" stroke-opacity="0.40" stroke-width="1.0" fill="none"/><path d="M842.0,1220.6 Q786.8,1243.9 745.9,1200.2" stroke="#68f5c8" stroke-opacity="0.38" stroke-width="2.5" fill="none"/><path d="M917.5,1228.0 Q870.3,1249.7 823.5,1227.1" stroke="#ff0000" stroke-opacity="0.40" stroke-width="1.2" fill="none"/><path d="M485.5,1095.0 Q452.4,1104.1 427.1,1081.0" stroke="#4b55f5" stroke-opacity="0.28" stroke-width="0.8" fill="none"/><path d="M566.0,1146.8 Q586.4,1122.2 617.6,1115.2" stroke="#1a9cf0" stroke-opacity="0.24" stroke-width="2.0" fill="none"/><path d="M702.0,1170.6 Q722.6,1214.3 768.6,1199.4" stroke="#d3d784" stroke-opacity="0.20" stroke-width="1.2" fill="none"/><path d="M663.1,1165.5 Q628.1,1187.1 615.6,1226.4" stroke="#d3d784" stroke-opacity="0.17" stroke-width="1.5" fill="none"/><path d="M413.9,1143.7 Q497.5,1144.1 537.1,1070.4" stroke="#30dcdc" stroke-opacity="0.24" stroke-width="1.2" fill="none"/><path d="M427.7,1149.4 Q392.8,1148.0 384.5,1182.0" stroke="#4b55f5" stroke-opacity="0.26" stroke-width="1.0" fill="none"/><path d="M613.8,1073.9 Q594.8,1112.1 625.6,1141.7" stroke="#30dcdc" stroke-opacity="0.23" stroke-width="1.2" fill="none"/><path d="M537.1,1070.4 Q483.7,1122.6 409.7,1132.4" stroke="#4b55f5" stroke-opacity="0.32" stroke-width="1.0" fill="none"/><path d="M760.4,1229.5 Q745.1,1160.3 674.5,1154.5" stroke="#ff0000" stroke-opacity="0.25" stroke-width="1.5" fill="none"/><path d="M409.7,1132.4 Q465.4,1078.0 530.9,1120.1" stroke="#68f5c8" stroke-opacity="0.25" stroke-width="1.0" fill="none"/><path d="M803.5,1149.7 Q772.8,1198.7 716.5,1211.7" stroke="#fb9f5a" stroke-opacity="0.25" stroke-width="1.5" fill="none"/><path d="M465.5,1083.9 Q436.8,1104.1 446.7,1137.8" stroke="#4b55f5" stroke-opacity="0.33" stroke-width="2.0" fill="none"/><path d="M527.8,1238.0 Q518.2,1208.7 487.8,1203.3" stroke="#30dcdc" stroke-opacity="0.33" stroke-width="1.5" fill="none"/><path d="M233.2,1172.5 Q256.7,1227.9 314.7,1211.9" stroke="#a0f5a0" stroke-opacity="0.34" stroke-width="1.0" fill="none"/><path d="M726.2,1129.0 Q762.7,1124.2 778.3,1157.5" stroke="#a0f5a0" stroke-opacity="0.15" stroke-width="2.0" fill="none"/><path d="M326.3,1192.0 Q313.0,1286.2 399.4,1326.0" stroke="#4b55f5" stroke-opacity="0.21" stroke-width="0.8" fill="none"/><path d="M755.7,1246.9 Q712.5,1159.9 785.2,1095.5" stroke="#ff0000" stroke-opacity="0.22" stroke-width="1.2" fill="none"/><path d="M626.3,1286.2 Q560.3,1244.1 528.6,1172.5" stroke="#ff5a32" stroke-opacity="0.28" stroke-width="1.2" fill="none"/><path d="M657.2,1152.5 Q677.0,1180.9 711.6,1183.3" stroke="#ff0000" stroke-opacity="0.23" stroke-width="2.0" fill="none"/><path d="M678.5,1083.9 Q697.2,1120.4 674.5,1154.5" stroke="#a0f5a0" stroke-opacity="0.21" stroke-width="0.8" fill="none"/><path d="M687.2,1329.3 Q684.9,1244.7 600.9,1234.6" stroke="#30dcdc" stroke-opacity="0.20" stroke-width="2.0" fill="none"/><path d="M478.0,1185.4 Q479.5,1233.8 527.8,1238.0" stroke="#1a9cf0" stroke-opacity="0.29" stroke-width="1.0" fill="none"/><path d="M860.6,1215.7 Q811.0,1171.3 744.4,1172.2" stroke="#d3d784" stroke-opacity="0.25" stroke-width="1.0" fill="none"/><path d="M465.3,1084.2 Q522.6,1089.7 572.2,1060.5" stroke="#ff0000" stroke-opacity="0.31" stroke-width="0.8" fill="none"/><path d="M701.0,1376.8 Q684.9,1386.2 668.0,1378.5" stroke="#4b55f5" stroke-opacity="0.18" stroke-width="1.5" fill="none"/><path d="M378.5,1121.7 Q423.5,1189.4 498.3,1157.5" stroke="#4b55f5" stroke-opacity="0.23" stroke-width="2.0" fill="none"/><path d="M287.8,1241.1 Q336.9,1167.4 423.6,1185.6" stroke="#8000ff" stroke-opacity="0.27" stroke-width="1.5" fill="none"/><path d="M671.4,1273.9 Q626.7,1242.3 572.4,1248.5" stroke="#ff0000" stroke-opacity="0.26" stroke-width="1.0" fill="none"/><path d="M542.4,1344.0 Q495.1,1297.7 501.7,1231.8" stroke="#68f5c8" stroke-opacity="0.20" stroke-width="1.2" fill="none"/><path d="M605.3,1073.9 Q577.5,1050.7 542.8,1060.8" stroke="#30dcdc" stroke-opacity="0.24" stroke-width="0.8" fill="none"/><path d="M457.7,1263.2 Q483.3,1224.4 527.8,1238.0" stroke="#68f5c8" stroke-opacity="0.33" stroke-width="0.8" fill="none"/><path d="M730.5,1097.0 Q707.1,1069.2 671.1,1074.7" stroke="#ff5a32" stroke-opacity="0.16" stroke-width="2.0" fill="none"/><path d="M362.8,1201.1 Q389.8,1174.1 368.0,1142.8" stroke="#8000ff" stroke-opacity="0.22" stroke-width="1.0" fill="none"/><path d="M482.7,1035.9 Q515.0,1060.2 550.5,1040.8" stroke="#ff0000" stroke-opacity="0.29" stroke-width="0.8" fill="none"/><path d="M501.7,1087.5 Q558.7,1102.9 575.9,1159.4" stroke="#8000ff" stroke-opacity="0.21" stroke-width="0.8" fill="none"/><path d="M676.5,1083.1 Q613.7,1135.5 541.0,1098.1" stroke="#ff5a32" stroke-opacity="0.25" stroke-width="1.0" fill="none"/><path d="M409.7,1132.4 Q451.7,1131.4 468.9,1169.7" stroke="#8000ff" stroke-opacity="0.36" stroke-width="1.0" fill="none"/><path d="M670.5,1292.7 Q648.2,1204.8 557.9,1212.5" stroke="#a0f5a0" stroke-opacity="0.17" stroke-width="1.0" fill="none"/><path d="M459.8,1233.8 Q393.8,1178.4 412.8,1094.4" stroke="#30dcdc" stroke-opacity="0.24" stroke-width="1.0" fill="none"/><path d="M618.3,1334.4 Q633.6,1312.2 626.3,1286.2" stroke="#ff5a32" stroke-opacity="0.26" stroke-width="1.2" fill="none"/><path d="M375.9,1221.3 Q443.0,1166.3 427.1,1081.0" stroke="#8000ff" stroke-opacity="0.35" stroke-width="1.0" fill="none"/><path d="M513.9,1313.6 Q422.9,1282.0 423.6,1185.6" stroke="#1a9cf0" stroke-opacity="0.21" stroke-width="1.0" fill="none"/><path d="M497.7,1250.0 Q481.8,1229.0 487.8,1203.3" stroke="#ff0000" stroke-opacity="0.34" stroke-width="1.5" fill="none"/><path d="M326.3,1192.0 Q398.2,1191.0 446.7,1137.8" stroke="#a0f5a0" stroke-opacity="0.32" stroke-width="0.8" fill="none"/><path d="M751.6,1136.6 Q754.9,1225.8 667.6,1244.3" stroke="#ff5a32" stroke-opacity="0.22" stroke-width="2.0" fill="none"/><path d="M671.4,1273.9 Q643.7,1360.8 553.9,1344.7" stroke="#30dcdc" stroke-opacity="0.14" stroke-width="1.2" fill="none"/><path d="M488.9,1074.2 Q425.5,1144.8 472.9,1227.1" stroke="#30dcdc" stroke-opacity="0.31" stroke-width="1.0" fill="none"/><path d="M520.2,1152.5 Q532.7,1138.7 530.9,1120.1" stroke="#30dcdc" stroke-opacity="0.32" stroke-width="1.5" fill="none"/><path d="M487.8,1203.3 Q558.0,1206.6 589.5,1143.7" stroke="#1a9cf0" stroke-opacity="0.25" stroke-width="0.8" fill="none"/><path d="M472.9,1227.1 Q487.2,1149.6 566.0,1146.8" stroke="#1a9cf0" stroke-opacity="0.31" stroke-width="1.5" fill="none"/><path d="M339.5,1113.7 Q385.3,1112.8 402.8,1155.2" stroke="#8000ff" stroke-opacity="0.24" stroke-width="0.8" fill="none"/><path d="M485.5,1095.0 Q436.7,1143.3 368.0,1142.8" stroke="#4b55f5" stroke-opacity="0.28" stroke-width="1.0" fill="none"/><path d="M669.4,1300.8 Q672.8,1323.7 651.4,1332.4" stroke="#a0f5a0" stroke-opacity="0.17" stroke-width="1.2" fill="none"/><path d="M528.6,1172.5 Q489.8,1195.5 479.2,1239.3" stroke="#68f5c8" stroke-opacity="0.33" stroke-width="1.0" fill="none"/><path d="M542.8,1060.8 Q481.3,1050.0 427.0,1080.8" stroke="#4b55f5" stroke-opacity="0.24" stroke-width="2.0" fill="none"/><path d="M747.8,1241.0 Q667.9,1209.3 605.5,1268.5" stroke="#1a9cf0" stroke-opacity="0.24" stroke-width="2.0" fill="none"/><path d="M391.4,1195.9 Q472.3,1181.7 529.0,1241.1" stroke="#68f5c8" stroke-opacity="0.25" stroke-width="1.2" fill="none"/><path d="M683.6,1106.2 Q704.2,1103.3 707.0,1082.7" stroke="#fb9f5a" stroke-opacity="0.16" stroke-width="1.5" fill="none"/><path d="M485.5,1095.0 Q485.3,1144.9 436.2,1153.7" stroke="#1a9cf0" stroke-opacity="0.21" stroke-width="2.0" fill="none"/><path d="M465.3,1084.2 Q412.9,1158.7 473.1,1227.0" stroke="#8000ff" stroke-opacity="0.23" stroke-width="1.0" fill="none"/><path d="M640.3,1108.6 Q608.1,1184.6 674.8,1233.1" stroke="#d3d784" stroke-opacity="0.20" stroke-width="2.0" fill="none"/><path d="M446.7,1137.8 Q388.5,1160.2 375.9,1221.3" stroke="#30dcdc" stroke-opacity="0.28" stroke-width="1.0" fill="none"/><path d="M749.5,1321.9 Q821.7,1263.0 775.8,1182.0" stroke="#68f5c8" stroke-opacity="0.19" stroke-width="2.0" fill="none"/><path d="M314.7,1211.9 Q357.7,1282.1 438.0,1263.9" stroke="#1a9cf0" stroke-opacity="0.31" stroke-width="2.0" fill="none"/><path d="M457.5,1022.0 Q456.6,1102.4 378.5,1121.7" stroke="#1a9cf0" stroke-opacity="0.30" stroke-width="0.8" fill="none"/><path d="M486.8,1213.1 Q466.0,1213.9 459.8,1233.8" stroke="#ff5a32" stroke-opacity="0.35" stroke-width="0.8" fill="none"/><path d="M375.9,1221.3 Q397.1,1221.9 406.2,1202.8" stroke="#4b55f5" stroke-opacity="0.24" stroke-width="0.8" fill="none"/><path d="M389.7,1213.1 Q417.8,1213.0 423.3,1185.4" stroke="#1a9cf0" stroke-opacity="0.32" stroke-width="1.2" fill="none"/><path d="M474.3,1156.8 Q551.4,1172.7 572.4,1248.5" stroke="#8000ff" stroke-opacity="0.32" stroke-width="1.0" fill="none"/><path d="M491.4,1269.8 Q471.3,1253.1 472.9,1227.1" stroke="#ff0000" stroke-opacity="0.32" stroke-width="1.0" fill="none"/><path d="M421.0,1331.7 Q460.1,1252.0 391.4,1195.9" stroke="#4b55f5" stroke-opacity="0.22" stroke-width="1.2" fill="none"/><path d="M468.9,1169.7 Q370.4,1168.8 347.9,1264.7" stroke="#1a9cf0" stroke-opacity="0.32" stroke-width="2.0" fill="none"/><path d="M427.7,1149.4 Q492.4,1128.4 554.0,1157.1" stroke="#68f5c8" stroke-opacity="0.32" stroke-width="1.5" fill="none"/><path d="M437.0,1232.2 Q426.9,1157.6 466.0,1093.2" stroke="#ff5a32" stroke-opacity="0.34" stroke-width="1.0" fill="none"/><path d="M749.6,1121.6 Q691.5,1101.5 657.2,1152.5" stroke="#ff0000" stroke-opacity="0.19" stroke-width="0.8" fill="none"/><path d="M378.5,1121.7 Q454.3,1113.0 478.6,1185.3" stroke="#4b55f5" stroke-opacity="0.33" stroke-width="1.0" fill="none"/><path d="M530.9,1120.1 Q565.0,1120.0 589.5,1143.7" stroke="#68f5c8" stroke-opacity="0.30" stroke-width="1.0" fill="none"/><path d="M542.4,1344.0 Q528.4,1268.4 459.8,1233.8" stroke="#a0f5a0" stroke-opacity="0.25" stroke-width="1.0" fill="none"/><path d="M625.6,1141.7 Q661.4,1163.9 699.3,1145.5" stroke="#68f5c8" stroke-opacity="0.23" stroke-width="1.0" fill="none"/><path d="M529.6,1258.2 Q531.1,1213.7 487.8,1203.3" stroke="#68f5c8" stroke-opacity="0.32" stroke-width="1.0" fill="none"/><path d="M811.4,1101.3 Q725.8,1155.7 768.6,1247.7" stroke="#d3d784" stroke-opacity="0.23" stroke-width="1.5" fill="none"/><path d="M501.7,1087.5 Q520.1,1137.1 565.6,1164.0" stroke="#ff5a32" stroke-opacity="0.30" stroke-width="1.2" fill="none"/><path d="M541.0,1098.1 Q588.7,1122.0 640.3,1108.6" stroke="#d3d784" stroke-opacity="0.29" stroke-width="0.8" fill="none"/><path d="M676.5,982.0 Q608.5,1024.2 528.9,1016.4" stroke="#ff0000" stroke-opacity="0.25" stroke-width="2.0" fill="none"/><path d="M457.0,1137.0 Q519.8,1178.2 497.7,1250.0" stroke="#ff5a32" stroke-opacity="0.25" stroke-width="1.2" fill="none"/><path d="M427.7,1149.4 Q435.0,1117.9 412.8,1094.4" stroke="#1a9cf0" stroke-opacity="0.27" stroke-width="1.0" fill="none"/><path d="M699.3,1145.5 Q624.2,1146.6 605.3,1073.9" stroke="#ff0000" stroke-opacity="0.21" stroke-width="2.0" fill="none"/><path d="M572.4,1248.5 Q535.7,1216.0 486.8,1213.1" stroke="#68f5c8" stroke-opacity="0.20" stroke-width="1.5" fill="none"/><path d="M646.0,1220.2 Q623.1,1182.5 646.0,1144.7" stroke="#ff0000" stroke-opacity="0.21" stroke-width="0.8" fill="none"/><path d="M568.9,1310.1 Q592.2,1285.3 626.3,1286.2" stroke="#a0f5a0" stroke-opacity="0.22" stroke-width="1.5" fill="none"/><path d="M541.0,1098.1 Q594.7,1124.8 652.9,1110.4" stroke="#fb9f5a" stroke-opacity="0.23" stroke-width="1.0" fill="none"/><path d="M680.0,1180.2 Q680.3,1157.6 699.3,1145.5" stroke="#ff0000" stroke-opacity="0.19" stroke-width="2.0" fill="none"/><path d="M412.8,1094.4 Q487.5,1130.3 486.8,1213.1" stroke="#30dcdc" stroke-opacity="0.30" stroke-width="1.5" fill="none"/><path d="M529.1,1054.7 Q503.0,1017.0 457.5,1022.0" stroke="#ff0000" stroke-opacity="0.23" stroke-width="1.0" fill="none"/><path d="M473.1,1227.0 Q510.4,1198.5 520.2,1152.5" stroke="#ff5a32" stroke-opacity="0.26" stroke-width="1.0" fill="none"/><path d="M457.5,1022.0 Q463.3,1095.7 395.9,1126.0" stroke="#1a9cf0" stroke-opacity="0.25" stroke-width="2.0" fill="none"/><path d="M528.6,1172.5 Q540.5,1146.8 530.9,1120.1" stroke="#68f5c8" stroke-opacity="0.32" stroke-width="0.8" fill="none"/><path d="M542.4,1344.0 Q461.6,1318.6 460.0,1233.9" stroke="#8000ff" stroke-opacity="0.35" stroke-width="2.0" fill="none"/><path d="M472.9,1227.1 Q459.9,1191.7 474.3,1156.8" stroke="#ff0000" stroke-opacity="0.28" stroke-width="1.2" fill="none"/><path d="M437.5,1210.0 Q445.0,1183.5 468.9,1169.7" stroke="#ff5a32" stroke-opacity="0.32" stroke-width="0.8" fill="none"/><path d="M557.9,1212.5 Q580.1,1190.4 575.9,1159.4" stroke="#68f5c8" stroke-opacity="0.30" stroke-width="1.5" fill="none"/><path d="M559.9,1091.2 Q516.2,1149.1 444.7,1161.7" stroke="#1a9cf0" stroke-opacity="0.36" stroke-width="1.2" fill="none"/><path d="M362.8,1201.1 Q426.9,1238.7 478.6,1185.3" stroke="#1a9cf0" stroke-opacity="0.27" stroke-width="2.0" fill="none"/><path d="M520.2,1152.5 Q461.2,1153.5 428.8,1202.8" stroke="#ff5a32" stroke-opacity="0.22" stroke-width="1.0" fill="none"/><path d="M378.4,1040.9 Q419.6,1077.1 472.4,1062.4" stroke="#4b55f5" stroke-opacity="0.31" stroke-width="1.2" fill="none"/><path d="M479.2,1239.3 Q501.7,1166.2 463.3,1100.1" stroke="#8000ff" stroke-opacity="0.20" stroke-width="1.0" fill="none"/><path d="M485.5,1095.0 Q559.5,1052.9 617.6,1115.2" stroke="#a0f5a0" stroke-opacity="0.36" stroke-width="1.0" fill="none"/><path d="M520.2,1152.5 Q536.8,1105.6 585.3,1094.7" stroke="#ff0000" stroke-opacity="0.29" stroke-width="2.0" fill="none"/><path d="M617.6,1115.2 Q626.3,1215.4 529.0,1241.1" stroke="#4b55f5" stroke-opacity="0.28" stroke-width="1.0" fill="none"/><path d="M579.8,1367.8 Q631.8,1341.9 615.5,1286.2" stroke="#68f5c8" stroke-opacity="0.21" stroke-width="1.0" fill="none"/><path d="M491.2,1269.6 Q487.1,1299.8 458.7,1310.9" stroke="#a0f5a0" stroke-opacity="0.29" stroke-width="1.0" fill="none"/><path d="M676.5,1083.1 Q717.2,1136.0 774.7,1102.1" stroke="#ff5a32" stroke-opacity="0.14" stroke-width="1.5" fill="none"/><path d="M402.8,1155.2 Q467.0,1111.8 482.7,1035.9" stroke="#ff5a32" stroke-opacity="0.29" stroke-width="1.0" fill="none"/><path d="M680.0,1145.5 Q636.0,1119.8 613.8,1073.9" stroke="#30dcdc" stroke-opacity="0.23" stroke-width="1.2" fill="none"/><path d="M602.6,1102.9 Q570.8,1093.6 572.2,1060.5" stroke="#1a9cf0" stroke-opacity="0.22" stroke-width="1.5" fill="none"/><path d="M471.4,1243.1 Q453.1,1186.7 402.8,1155.2" stroke="#1a9cf0" stroke-opacity="0.34" stroke-width="1.0" fill="none"/><path d="M562.4,1335.5 Q532.1,1274.3 471.4,1243.1" stroke="#4b55f5" stroke-opacity="0.36" stroke-width="1.0" fill="none"/><path d="M549.9,1134.0 Q557.0,1189.8 527.8,1238.0" stroke="#30dcdc" stroke-opacity="0.24" stroke-width="1.0" fill="none"/><path d="M568.9,1310.1 Q601.8,1357.6 597.4,1415.3" stroke="#4b55f5" stroke-opacity="0.29" stroke-width="0.8" fill="none"/><path d="M487.0,1213.0 Q453.7,1152.2 465.5,1083.9" stroke="#8000ff" stroke-opacity="0.36" stroke-width="1.2" fill="none"/><path d="M436.7,1232.4 Q458.3,1224.1 471.4,1243.1" stroke="#4b55f5" stroke-opacity="0.20" stroke-width="1.5" fill="none"/><path d="M455.7,1332.9 Q468.2,1355.9 494.2,1354.0" stroke="#30dcdc" stroke-opacity="0.31" stroke-width="1.2" fill="none"/><path d="M409.7,1132.4 Q462.6,1134.7 478.0,1185.4" stroke="#1a9cf0" stroke-opacity="0.23" stroke-width="1.0" fill="none"/><path d="M413.9,1203.3 Q341.8,1220.8 286.8,1171.0" stroke="#4b55f5" stroke-opacity="0.28" stroke-width="1.2" fill="none"/><path d="M632.2,1380.9 Q610.2,1295.0 529.6,1258.2" stroke="#30dcdc" stroke-opacity="0.26" stroke-width="1.0" fill="none"/><path d="M603.3,1180.2 Q592.6,1089.9 501.7,1087.5" stroke="#68f5c8" stroke-opacity="0.21" stroke-width="1.2" fill="none"/><path d="M436.7,1232.4 Q453.6,1221.4 472.9,1227.1" stroke="#4b55f5" stroke-opacity="0.34" stroke-width="1.0" fill="none"/><path d="M388.7,1277.8 Q466.7,1263.7 478.6,1185.3" stroke="#ff5a32" stroke-opacity="0.32" stroke-width="1.0" fill="none"/><path d="M402.8,1155.2 Q435.9,1214.7 501.7,1231.8" stroke="#1a9cf0" stroke-opacity="0.21" stroke-width="1.0" fill="none"/><path d="M457.0,1137.0 Q449.1,1169.5 478.6,1185.3" stroke="#8000ff" stroke-opacity="0.21" stroke-width="1.5" fill="none"/><path d="M460.0,1400.0 Q484.3,1334.0 553.9,1344.7" stroke="#1a9cf0" stroke-opacity="0.30" stroke-width="2.0" fill="none"/><path d="M680.0,1145.5 Q708.6,1119.0 716.7,1080.8" stroke="#30dcdc" stroke-opacity="0.21" stroke-width="2.0" fill="none"/><path d="M488.9,1074.2 Q541.6,1095.5 566.0,1146.8" stroke="#4b55f5" stroke-opacity="0.25" stroke-width="0.8" fill="none"/><path d="M380.2,1362.2 Q354.0,1292.5 375.9,1221.3" stroke="#30dcdc" stroke-opacity="0.23" stroke-width="2.0" fill="none"/><path d="M527.8,1238.0 Q524.9,1279.9 558.5,1305.0" stroke="#30dcdc" stroke-opacity="0.25" stroke-width="1.0" fill="none"/><path d="M457.0,1137.0 Q453.8,1182.2 487.0,1213.0" stroke="#ff5a32" stroke-opacity="0.34" stroke-width="1.2" fill="none"/><path d="M386.2,1064.6 Q398.0,1123.6 444.7,1161.7" stroke="#30dcdc" stroke-opacity="0.33" stroke-width="2.0" fill="none"/><path d="M478.6,1185.3 Q529.2,1134.9 599.2,1149.4" stroke="#8000ff" stroke-opacity="0.22" stroke-width="1.2" fill="none"/><path d="M760.4,1229.5 Q682.5,1289.8 600.9,1234.6" stroke="#68f5c8" stroke-opacity="0.26" stroke-width="1.0" fill="none"/><path d="M354.8,1275.5 Q352.7,1219.5 406.2,1202.8" stroke="#30dcdc" stroke-opacity="0.24" stroke-width="1.2" fill="none"/><path d="M706.2,1063.9 Q633.2,1103.0 603.3,1180.2" stroke="#a0f5a0" stroke-opacity="0.16" stroke-width="1.0" fill="none"/><path d="M468.9,1169.7 Q512.5,1144.9 520.9,1095.5" stroke="#8000ff" stroke-opacity="0.28" stroke-width="1.0" fill="none"/><path d="M527.8,1238.0 Q561.7,1197.1 612.9,1211.0" stroke="#d3d784" stroke-opacity="0.36" stroke-width="0.8" fill="none"/><path d="M722.4,1228.7 Q786.1,1164.4 860.6,1215.7" stroke="#a0f5a0" stroke-opacity="0.20" stroke-width="1.5" fill="none"/><path d="M487.0,1213.0 Q462.9,1203.0 447.2,1223.9" stroke="#ff0000" stroke-opacity="0.34" stroke-width="1.5" fill="none"/><path d="M646.0,1144.7 Q662.9,1142.2 674.9,1154.5" stroke="#1a9cf0" stroke-opacity="0.24" stroke-width="1.5" fill="none"/><path d="M468.9,1169.7 Q520.9,1123.7 529.1,1054.7" stroke="#30dcdc" stroke-opacity="0.24" stroke-width="1.5" fill="none"/><path d="M423.3,1185.4 Q451.4,1169.7 446.7,1137.8" stroke="#68f5c8" stroke-opacity="0.31" stroke-width="1.5" fill="none"/><path d="M497.2,1250.1 Q433.4,1260.7 389.7,1213.0" stroke="#68f5c8" stroke-opacity="0.29" stroke-width="1.0" fill="none"/><path d="M676.9,1112.4 Q670.1,1160.0 622.3,1164.8" stroke="#fb9f5a" stroke-opacity="0.19" stroke-width="0.8" fill="none"/><path d="M498.8,1317.0 Q510.3,1239.4 437.5,1210.0" stroke="#30dcdc" stroke-opacity="0.32" stroke-width="1.5" fill="none"/><path d="M444.7,1161.7 Q444.7,1243.4 364.5,1259.3" stroke="#8000ff" stroke-opacity="0.27" stroke-width="2.0" fill="none"/><path d="M437.5,1210.0 Q414.7,1182.4 436.2,1153.7" stroke="#ff5a32" stroke-opacity="0.23" stroke-width="2.0" fill="none"/><path d="M700.7,1351.4 Q616.7,1367.7 558.5,1305.0" stroke="#68f5c8" stroke-opacity="0.22" stroke-width="1.0" fill="none"/><path d="M686.2,1097.0 Q706.5,1057.1 677.2,1023.3" stroke="#ff0000" stroke-opacity="0.18" stroke-width="2.0" fill="none"/><path d="M566.0,1146.8 Q556.3,1225.1 491.4,1269.8" stroke="#4b55f5" stroke-opacity="0.26" stroke-width="1.0" fill="none"/><path d="M565.6,1164.0 Q565.5,1121.9 607.2,1116.3" stroke="#fb9f5a" stroke-opacity="0.30" stroke-width="1.0" fill="none"/><path d="M698.7,1285.8 Q662.3,1253.5 626.3,1286.2" stroke="#30dcdc" stroke-opacity="0.16" stroke-width="0.8" fill="none"/><path d="M501.7,1087.5 Q415.8,1069.0 368.0,1142.8" stroke="#68f5c8" stroke-opacity="0.24" stroke-width="1.0" fill="none"/><path d="M478.0,1185.4 Q457.2,1205.0 428.8,1202.8" stroke="#30dcdc" stroke-opacity="0.23" stroke-width="1.5" fill="none"/><path d="M590.2,1128.3 Q638.1,1145.0 676.9,1112.4" stroke="#1a9cf0" stroke-opacity="0.15" stroke-width="1.2" fill="none"/><path d="M622.3,1164.8 Q565.0,1150.2 559.9,1091.2" stroke="#ff0000" stroke-opacity="0.30" stroke-width="1.5" fill="none"/><path d="M733.9,967.4 Q673.3,1003.9 671.5,1074.7" stroke="#ff0000" stroke-opacity="0.17" stroke-width="2.0" fill="none"/><path d="M541.0,1098.1 Q536.0,1141.5 575.9,1159.4" stroke="#a0f5a0" stroke-opacity="0.23" stroke-width="1.2" fill="none"/><path d="M566.0,1146.8 Q512.9,1185.3 447.8,1177.1" stroke="#8000ff" stroke-opacity="0.30" stroke-width="1.5" fill="none"/><path d="M446.7,1224.1 Q463.5,1253.5 497.2,1250.1" stroke="#30dcdc" stroke-opacity="0.27" stroke-width="2.0" fill="none"/><path d="M754.7,1153.7 Q676.5,1125.6 682.0,1042.6" stroke="#30dcdc" stroke-opacity="0.25" stroke-width="0.8" fill="none"/><path d="M530.9,1120.1 Q518.7,1110.7 520.9,1095.5" stroke="#68f5c8" stroke-opacity="0.29" stroke-width="0.8" fill="none"/><path d="M447.0,1032.6 Q409.9,1119.7 478.0,1185.4" stroke="#68f5c8" stroke-opacity="0.24" stroke-width="1.2" fill="none"/><path d="M410.6,1088.1 Q439.3,1101.8 465.5,1083.9" stroke="#68f5c8" stroke-opacity="0.31" stroke-width="1.2" fill="none"/><path d="M727.8,1136.6 Q802.3,1135.4 823.5,1206.8" stroke="#ff0000" stroke-opacity="0.22" stroke-width="1.2" fill="none"/><path d="M623.5,1316.6 Q633.4,1302.2 626.3,1286.2" stroke="#68f5c8" stroke-opacity="0.16" stroke-width="1.0" fill="none"/><path d="M414.1,1203.1 Q420.5,1176.3 402.8,1155.2" stroke="#8000ff" stroke-opacity="0.28" stroke-width="0.8" fill="none"/><path d="M423.6,1185.6 Q440.5,1206.1 436.7,1232.4" stroke="#30dcdc" stroke-opacity="0.28" stroke-width="1.0" fill="none"/><path d="M286.8,1171.0 Q305.5,1088.8 386.2,1064.6" stroke="#4b55f5" stroke-opacity="0.27" stroke-width="1.0" fill="none"/><path d="M447.2,1223.9 Q460.5,1290.4 528.2,1286.7" stroke="#a0f5a0" stroke-opacity="0.27" stroke-width="0.8" fill="none"/><path d="M409.7,1132.4 Q459.9,1167.3 473.1,1227.0" stroke="#30dcdc" stroke-opacity="0.32" stroke-width="1.5" fill="none"/><path d="M585.2,1299.3 Q594.2,1219.3 528.6,1172.5" stroke="#4b55f5" stroke-opacity="0.20" stroke-width="1.0" fill="none"/><path d="M479.2,1239.3 Q492.3,1228.9 487.0,1213.0" stroke="#68f5c8" stroke-opacity="0.22" stroke-width="2.0" fill="none"/><path d="M437.0,1232.2 Q387.3,1235.3 354.9,1197.5" stroke="#68f5c8" stroke-opacity="0.21" stroke-width="0.8" fill="none"/><path d="M646.0,1144.7 Q711.9,1161.5 722.4,1228.7" stroke="#ff0000" stroke-opacity="0.18" stroke-width="1.0" fill="none"/><path d="M487.8,1203.3 Q536.2,1175.6 530.9,1120.1" stroke="#ff0000" stroke-opacity="0.36" stroke-width="2.0" fill="none"/><path d="M529.0,1241.1 Q574.8,1172.4 559.9,1091.2" stroke="#ff0000" stroke-opacity="0.27" stroke-width="1.0" fill="none"/><path d="M456.4,1380.0 Q524.7,1330.1 497.7,1250.0" stroke="#4b55f5" stroke-opacity="0.32" stroke-width="2.0" fill="none"/><path d="M447.2,1223.9 Q429.7,1193.5 444.7,1161.7" stroke="#68f5c8" stroke-opacity="0.33" stroke-width="1.5" fill="none"/><path d="M589.5,1143.7 Q495.9,1135.8 473.1,1227.0" stroke="#30dcdc" stroke-opacity="0.32" stroke-width="0.8" fill="none"/><path d="M388.7,1277.8 Q362.7,1203.5 413.9,1143.7" stroke="#ff0000" stroke-opacity="0.32" stroke-width="1.0" fill="none"/><path d="M607.2,1116.3 Q560.7,1184.6 478.0,1185.4" stroke="#d3d784" stroke-opacity="0.30" stroke-width="1.0" fill="none"/><path d="M423.3,1185.4 Q483.6,1191.1 497.7,1250.0" stroke="#ff0000" stroke-opacity="0.22" stroke-width="2.0" fill="none"/><path d="M478.6,1185.3 Q497.8,1119.8 559.9,1091.2" stroke="#ff0000" stroke-opacity="0.22" stroke-width="0.8" fill="none"/><path d="M602.6,1102.9 Q596.7,1090.1 584.4,1083.1" stroke="#1a9cf0" stroke-opacity="0.27" stroke-width="1.0" fill="none"/><path d="M527.8,1238.0 Q517.5,1191.3 471.3,1179.1" stroke="#ff0000" stroke-opacity="0.30" stroke-width="2.0" fill="none"/><path d="M501.7,1087.5 Q577.3,1056.4 640.3,1108.6" stroke="#30dcdc" stroke-opacity="0.24" stroke-width="1.2" fill="none"/><path d="M677.2,1023.3 Q600.5,1026.1 559.9,1091.2" stroke="#fb9f5a" stroke-opacity="0.19" stroke-width="2.0" fill="none"/><path d="M652.9,1110.4 Q682.1,1115.9 680.0,1145.5" stroke="#a0f5a0" stroke-opacity="0.16" stroke-width="0.8" fill="none"/><path d="M563.3,1128.3 Q625.6,1098.0 690.5,1122.4" stroke="#ff5a32" stroke-opacity="0.19" stroke-width="2.0" fill="none"/><path d="M465.5,1083.9 Q508.3,1105.9 520.2,1152.5" stroke="#68f5c8" stroke-opacity="0.33" stroke-width="0.8" fill="none"/><path d="M437.0,1232.2 Q450.8,1197.3 487.8,1203.3" stroke="#30dcdc" stroke-opacity="0.28" stroke-width="0.8" fill="none"/><path d="M648.9,1277.0 Q584.3,1299.1 529.6,1258.2" stroke="#68f5c8" stroke-opacity="0.26" stroke-width="0.8" fill="none"/><path d="M384.5,1182.0 Q387.9,1212.6 367.1,1235.4" stroke="#4b55f5" stroke-opacity="0.27" stroke-width="1.2" fill="none"/><path d="M520.9,1095.5 Q491.1,1137.4 528.6,1172.5" stroke="#4b55f5" stroke-opacity="0.30" stroke-width="1.2" fill="none"/><path d="M500.1,1177.1 Q561.7,1234.7 646.0,1237.2" stroke="#ff5a32" stroke-opacity="0.26" stroke-width="0.8" fill="none"/><path d="M619.1,1309.3 Q594.4,1219.1 501.7,1231.8" stroke="#68f5c8" stroke-opacity="0.36" stroke-width="0.8" fill="none"/><path d="M497.7,1250.0 Q484.6,1228.4 460.0,1233.9" stroke="#68f5c8" stroke-opacity="0.23" stroke-width="1.0" fill="none"/><path d="M663.1,1165.5 Q695.0,1155.5 690.5,1122.4" stroke="#ff5a32" stroke-opacity="0.16" stroke-width="1.5" fill="none"/><path d="M406.2,1202.8 Q442.1,1242.7 486.8,1213.1" stroke="#ff0000" stroke-opacity="0.24" stroke-width="1.5" fill="none"/><path d="M463.3,1100.1 Q481.9,1148.9 528.6,1172.5" stroke="#ff5a32" stroke-opacity="0.32" stroke-width="1.5" fill="none"/><path d="M686.2,1097.0 Q685.9,1158.2 645.2,1204.0" stroke="#a0f5a0" stroke-opacity="0.16" stroke-width="1.5" fill="none"/><path d="M633.8,1218.2 Q573.6,1189.3 527.8,1238.0" stroke="#4b55f5" stroke-opacity="0.26" stroke-width="1.2" fill="none"/><path d="M646.0,1220.2 Q633.3,1175.4 674.9,1154.5" stroke="#68f5c8" stroke-opacity="0.19" stroke-width="0.8" fill="none"/><path d="M742.8,1180.2 Q690.2,1233.7 615.6,1226.4" stroke="#ff0000" stroke-opacity="0.16" stroke-width="1.0" fill="none"/><path d="M575.9,1159.4 Q566.6,1236.0 636.3,1269.0" stroke="#ff5a32" stroke-opacity="0.24" stroke-width="1.0" fill="none"/><path d="M726.2,1129.0 Q690.1,1157.1 646.0,1144.7" stroke="#a0f5a0" stroke-opacity="0.16" stroke-width="1.2" fill="none"/><path d="M500.1,1177.1 Q418.7,1124.6 354.9,1197.5" stroke="#1a9cf0" stroke-opacity="0.28" stroke-width="2.0" fill="none"/><path d="M602.6,1102.9 Q682.5,1074.9 759.0,1111.2" stroke="#30dcdc" stroke-opacity="0.19" stroke-width="1.0" fill="none"/><path d="M233.2,1172.5 Q278.3,1250.5 367.1,1235.4" stroke="#68f5c8" stroke-opacity="0.25" stroke-width="2.0" fill="none"/><path d="M413.2,1094.0 Q394.3,1098.9 376.5,1090.7" stroke="#4b55f5" stroke-opacity="0.24" stroke-width="1.2" fill="none"/><path d="M679.2,1209.4 Q619.1,1231.0 557.9,1212.5" stroke="#68f5c8" stroke-opacity="0.18" stroke-width="1.0" fill="none"/><path d="M542.4,1344.0 Q522.7,1262.9 601.0,1234.1" stroke="#ff5a32" stroke-opacity="0.29" stroke-width="1.5" fill="none"/><path d="M630.2,1037.2 Q582.5,1127.8 485.5,1095.0" stroke="#ff0000" stroke-opacity="0.35" stroke-width="1.0" fill="none"/><path d="M642.8,1330.1 Q596.2,1326.2 563.2,1293.1" stroke="#a0f5a0" stroke-opacity="0.15" stroke-width="1.0" fill="none"/><path d="M671.5,1074.7 Q619.4,1045.9 585.3,1094.7" stroke="#d3d784" stroke-opacity="0.14" stroke-width="1.0" fill="none"/><path d="M842.0,1220.6 Q802.9,1168.2 745.9,1200.2" stroke="#fb9f5a" stroke-opacity="0.17" stroke-width="1.2" fill="none"/><path d="M487.8,1203.3 Q519.7,1209.9 529.0,1241.1" stroke="#a0f5a0" stroke-opacity="0.24" stroke-width="1.0" fill="none"/><path d="M399.4,1326.0 Q344.0,1273.8 389.7,1213.0" stroke="#1a9cf0" stroke-opacity="0.24" stroke-width="1.5" fill="none"/><path d="M447.2,1223.9 Q510.2,1274.7 493.9,1354.0" stroke="#68f5c8" stroke-opacity="0.29" stroke-width="0.8" fill="none"/><path d="M491.4,1269.8 Q554.9,1222.6 633.8,1218.2" stroke="#68f5c8" stroke-opacity="0.30" stroke-width="1.5" fill="none"/><path d="M677.2,1112.4 Q656.9,1074.3 613.8,1073.9" stroke="#fb9f5a" stroke-opacity="0.24" stroke-width="2.0" fill="none"/><path d="M558.5,1305.0 Q568.2,1326.2 553.9,1344.7" stroke="#ff5a32" stroke-opacity="0.25" stroke-width="1.0" fill="none"/><path d="M391.4,1195.9 Q409.1,1127.3 465.3,1084.2" stroke="#8000ff" stroke-opacity="0.28" stroke-width="1.2" fill="none"/><path d="M520.2,1152.5 Q514.9,1168.7 500.1,1177.1" stroke="#68f5c8" stroke-opacity="0.27" stroke-width="1.5" fill="none"/><path d="M468.9,1169.7 Q507.1,1078.9 602.6,1102.9" stroke="#ff5a32" stroke-opacity="0.31" stroke-width="1.0" fill="none"/><path d="M488.9,1074.2 Q483.9,1111.2 457.0,1137.0" stroke="#8000ff" stroke-opacity="0.22" stroke-width="1.0" fill="none"/><path d="M702.0,1170.6 Q683.9,1186.1 679.2,1209.4" stroke="#a0f5a0" stroke-opacity="0.22" stroke-width="1.0" fill="none"/><path d="M427.1,1081.0 Q405.6,1132.6 423.6,1185.6" stroke="#4b55f5" stroke-opacity="0.29" stroke-width="1.0" fill="none"/><path d="M730.5,1097.0 Q668.2,1147.8 590.2,1128.3" stroke="#ff0000" stroke-opacity="0.22" stroke-width="1.2" fill="none"/><path d="M740.8,1277.7 Q698.0,1222.6 637.4,1257.3" stroke="#ff5a32" stroke-opacity="0.25" stroke-width="1.0" fill="none"/><path d="M616.4,1001.7 Q678.3,996.0 728.5,1032.6" stroke="#ff0000" stroke-opacity="0.15" stroke-width="1.0" fill="none"/><path d="M622.3,1164.8 Q606.3,1143.2 607.2,1116.3" stroke="#30dcdc" stroke-opacity="0.17" stroke-width="1.2" fill="none"/><path d="M501.7,1087.5 Q503.5,1138.9 471.3,1179.1" stroke="#1a9cf0" stroke-opacity="0.23" stroke-width="1.2" fill="none"/><path d="M395.9,1080.1 Q440.0,1148.8 389.7,1213.1" stroke="#1a9cf0" stroke-opacity="0.29" stroke-width="1.2" fill="none"/><path d="M686.2,1097.0 Q626.4,1076.4 636.4,1014.0" stroke="#68f5c8" stroke-opacity="0.17" stroke-width="1.2" fill="none"/><path d="M616.4,1001.7 Q612.9,1047.3 584.4,1083.1" stroke="#ff0000" stroke-opacity="0.15" stroke-width="1.0" fill="none"/><path d="M527.8,1238.0 Q586.8,1260.1 633.8,1218.2" stroke="#fb9f5a" stroke-opacity="0.33" stroke-width="2.0" fill="none"/><path d="M414.1,1203.1 Q507.3,1195.5 528.2,1286.7" stroke="#1a9cf0" stroke-opacity="0.25" stroke-width="1.2" fill="none"/><path d="M640.3,1108.6 Q597.5,1182.1 637.4,1257.3" stroke="#1a9cf0" stroke-opacity="0.19" stroke-width="1.0" fill="none"/><path d="M584.4,1083.1 Q639.3,1139.6 633.8,1218.2" stroke="#ff0000" stroke-opacity="0.25" stroke-width="1.0" fill="none"/><path d="M754.7,1153.7 Q723.9,1184.9 722.4,1228.7" stroke="#68f5c8" stroke-opacity="0.14" stroke-width="0.8" fill="none"/><path d="M446.7,1224.1 Q369.3,1187.4 288.7,1216.5" stroke="#4b55f5" stroke-opacity="0.35" stroke-width="1.5" fill="none"/><path d="M730.5,1097.0 Q748.1,1160.2 813.7,1162.5" stroke="#ff5a32" stroke-opacity="0.24" stroke-width="0.8" fill="none"/><path d="M780.9,1127.5 Q724.1,1152.8 676.9,1112.4" stroke="#a0f5a0" stroke-opacity="0.18" stroke-width="1.0" fill="none"/><path d="M616.4,1001.7 Q585.0,1094.8 488.9,1074.2" stroke="#ff5a32" stroke-opacity="0.26" stroke-width="1.5" fill="none"/><path d="M701.6,1229.5 Q689.7,1242.6 674.8,1233.1" stroke="#d3d784" stroke-opacity="0.18" stroke-width="1.0" fill="none"/><path d="M683.6,1106.2 Q604.4,1081.5 530.9,1120.1" stroke="#a0f5a0" stroke-opacity="0.23" stroke-width="2.0" fill="none"/><path d="M588.7,1008.2 Q626.9,1068.4 695.7,1049.7" stroke="#ff5a32" stroke-opacity="0.22" stroke-width="1.5" fill="none"/><path d="M811.4,1038.5 Q851.7,1115.2 816.6,1194.5" stroke="#ff0000" stroke-opacity="0.14" stroke-width="1.5" fill="none"/><path d="M636.3,1269.0 Q586.8,1224.8 575.9,1159.4" stroke="#30dcdc" stroke-opacity="0.25" stroke-width="0.8" fill="none"/><path d="M541.0,1098.1 Q477.6,1162.1 497.7,1250.0" stroke="#1a9cf0" stroke-opacity="0.22" stroke-width="1.0" fill="none"/><path d="M640.3,1108.6 Q604.6,1079.1 559.9,1091.2" stroke="#fb9f5a" stroke-opacity="0.17" stroke-width="1.5" fill="none"/><path d="M513.9,1313.6 Q450.5,1356.6 446.2,1433.0" stroke="#1a9cf0" stroke-opacity="0.32" stroke-width="1.2" fill="none"/><path d="M663.4,1110.4 Q607.8,1137.2 622.9,1197.1" stroke="#30dcdc" stroke-opacity="0.17" stroke-width="1.5" fill="none"/><path d="M346.3,1204.6 Q423.8,1192.4 457.7,1263.2" stroke="#ff0000" stroke-opacity="0.26" stroke-width="1.0" fill="none"/><path d="M463.3,1100.1 Q433.3,1110.2 410.5,1088.2" stroke="#1a9cf0" stroke-opacity="0.32" stroke-width="1.0" fill="none"/><path d="M468.9,1169.7 Q469.5,1228.7 527.8,1238.0" stroke="#30dcdc" stroke-opacity="0.32" stroke-width="1.0" fill="none"/><path d="M651.8,1064.4 Q640.1,1087.7 652.9,1110.4" stroke="#68f5c8" stroke-opacity="0.22" stroke-width="2.0" fill="none"/><path d="M468.9,1169.7 Q482.0,1110.8 541.0,1098.1" stroke="#ff5a32" stroke-opacity="0.25" stroke-width="2.0" fill="none"/><path d="M669.4,1300.8 Q667.8,1227.9 603.3,1193.7" stroke="#68f5c8" stroke-opacity="0.20" stroke-width="2.0" fill="none"/><path d="M557.9,1212.5 Q525.4,1296.3 579.8,1367.8" stroke="#ff5a32" stroke-opacity="0.21" stroke-width="1.0" fill="none"/><path d="M572.2,1082.4 Q541.1,1111.9 566.0,1146.8" stroke="#fb9f5a" stroke-opacity="0.28" stroke-width="2.0" fill="none"/><path d="M680.8,1059.0 Q610.3,1088.3 550.5,1040.8" stroke="#a0f5a0" stroke-opacity="0.18" stroke-width="2.0" fill="none"/><path d="M529.0,1241.1 Q565.1,1211.0 565.6,1164.0" stroke="#1a9cf0" stroke-opacity="0.24" stroke-width="0.8" fill="none"/><path d="M447.8,1177.1 Q412.8,1139.5 410.5,1088.2" stroke="#4b55f5" stroke-opacity="0.25" stroke-width="1.0" fill="none"/><path d="M619.8,1096.2 Q589.8,1141.3 603.3,1193.7" stroke="#a0f5a0" stroke-opacity="0.16" stroke-width="1.5" fill="none"/><path d="M409.7,1132.4 Q455.1,1159.9 437.5,1210.0" stroke="#1a9cf0" stroke-opacity="0.28" stroke-width="1.5" fill="none"/><path d="M749.6,1121.6 Q719.3,1159.6 745.9,1200.2" stroke="#ff0000" stroke-opacity="0.14" stroke-width="1.2" fill="none"/><path d="M486.8,1213.1 Q499.9,1197.5 500.1,1177.1" stroke="#ff0000" stroke-opacity="0.20" stroke-width="1.2" fill="none"/><path d="M406.2,1202.8 Q416.1,1137.1 466.0,1093.2" stroke="#1a9cf0" stroke-opacity="0.31" stroke-width="2.0" fill="none"/><path d="M487.8,1203.3 Q417.4,1239.4 346.3,1204.6" stroke="#68f5c8" stroke-opacity="0.34" stroke-width="1.0" fill="none"/><path d="M409.7,1132.4 Q469.4,1092.5 541.0,1098.1" stroke="#4b55f5" stroke-opacity="0.30" stroke-width="2.0" fill="none"/><path d="M572.2,1060.5 Q570.5,1103.4 530.9,1120.1" stroke="#68f5c8" stroke-opacity="0.36" stroke-width="0.8" fill="none"/><path d="M520.2,1152.5 Q470.8,1192.4 497.2,1250.1" stroke="#ff5a32" stroke-opacity="0.32" stroke-width="1.0" fill="none"/><path d="M437.0,1232.2 Q415.8,1213.0 423.3,1185.4" stroke="#68f5c8" stroke-opacity="0.28" stroke-width="1.0" fill="none"/><path d="M486.8,1213.1 Q460.1,1202.9 447.8,1177.1" stroke="#1a9cf0" stroke-opacity="0.24" stroke-width="1.0" fill="none"/><path d="M528.2,1286.7 Q538.1,1232.8 487.0,1213.0" stroke="#4b55f5" stroke-opacity="0.27" stroke-width="1.0" fill="none"/><path d="M339.5,1113.7 Q384.0,1125.9 410.5,1088.2" stroke="#68f5c8" stroke-opacity="0.24" stroke-width="1.0" fill="none"/><path d="M614.8,1241.9 Q538.1,1290.3 473.1,1227.0" stroke="#1a9cf0" stroke-opacity="0.23" stroke-width="1.2" fill="none"/><path d="M414.8,1046.8 Q425.3,1085.9 463.3,1100.1" stroke="#ff5a32" stroke-opacity="0.24" stroke-width="1.5" fill="none"/><path d="M657.2,1152.5 Q736.8,1118.7 728.5,1032.6" stroke="#ff0000" stroke-opacity="0.17" stroke-width="2.0" fill="none"/><path d="M487.0,1213.0 Q421.8,1167.1 410.5,1088.2" stroke="#1a9cf0" stroke-opacity="0.24" stroke-width="2.0" fill="none"/><path d="M556.5,1403.6 Q537.9,1363.1 495.9,1348.1" stroke="#8000ff" stroke-opacity="0.20" stroke-width="2.0" fill="none"/><path d="M633.8,1218.2 Q592.0,1269.3 528.2,1286.7" stroke="#a0f5a0" stroke-opacity="0.27" stroke-width="1.0" fill="none"/><path d="M698.7,1285.8 Q676.4,1283.6 663.3,1265.4" stroke="#a0f5a0" stroke-opacity="0.17" stroke-width="2.0" fill="none"/><path d="M601.0,1234.1 Q617.2,1214.8 603.3,1193.7" stroke="#30dcdc" stroke-opacity="0.19" stroke-width="1.2" fill="none"/><path d="M423.6,1185.6 Q450.3,1229.7 497.7,1250.0" stroke="#1a9cf0" stroke-opacity="0.29" stroke-width="1.5" fill="none"/><path d="M563.3,1128.3 Q468.3,1169.1 491.4,1269.8" stroke="#1a9cf0" stroke-opacity="0.32" stroke-width="2.0" fill="none"/><path d="M625.6,1141.7 Q678.2,1181.6 646.0,1239.2" stroke="#30dcdc" stroke-opacity="0.17" stroke-width="1.2" fill="none"/><path d="M554.0,1157.1 Q529.5,1095.7 472.4,1062.4" stroke="#4b55f5" stroke-opacity="0.26" stroke-width="1.0" fill="none"/><path d="M590.2,1128.3 Q554.4,1196.0 478.6,1185.3" stroke="#a0f5a0" stroke-opacity="0.31" stroke-width="1.5" fill="none"/><path d="M630.6,1037.4 Q706.1,1082.7 702.0,1170.6" stroke="#fb9f5a" stroke-opacity="0.24" stroke-width="1.0" fill="none"/><path d="M775.8,1182.0 Q735.5,1151.6 736.7,1101.2" stroke="#ff5a32" stroke-opacity="0.15" stroke-width="1.0" fill="none"/><path d="M674.9,1154.5 Q675.3,1232.9 605.5,1268.5" stroke="#ff5a32" stroke-opacity="0.26" stroke-width="0.8" fill="none"/><path d="M563.2,1293.1 Q659.8,1321.0 701.6,1229.5" stroke="#30dcdc" stroke-opacity="0.22" stroke-width="1.2" fill="none"/><path d="M528.6,1172.5 Q532.3,1113.8 488.9,1074.2" stroke="#4b55f5" stroke-opacity="0.31" stroke-width="1.5" fill="none"/><path d="M386.2,1064.6 Q429.0,1103.6 402.8,1155.2" stroke="#4b55f5" stroke-opacity="0.20" stroke-width="1.2" fill="none"/><path d="M729.8,1152.8 Q682.2,1179.2 674.8,1233.1" stroke="#ff0000" stroke-opacity="0.20" stroke-width="1.0" fill="none"/><path d="M668.7,1352.9 Q687.6,1319.6 670.5,1285.4" stroke="#68f5c8" stroke-opacity="0.25" stroke-width="1.2" fill="none"/><path d="M432.4,1113.2 Q422.0,1170.9 446.7,1224.1" stroke="#8000ff" stroke-opacity="0.22" stroke-width="1.5" fill="none"/><path d="M389.7,1213.0 Q431.4,1200.9 459.8,1233.8" stroke="#4b55f5" stroke-opacity="0.29" stroke-width="2.0" fill="none"/><path d="M780.7,1267.5 Q696.4,1260.9 651.4,1332.4" stroke="#fb9f5a" stroke-opacity="0.23" stroke-width="1.5" fill="none"/><path d="M436.2,1153.7 Q478.9,1180.2 528.6,1172.5" stroke="#ff0000" stroke-opacity="0.28" stroke-width="1.5" fill="none"/><path d="M458.7,1310.9 Q519.0,1287.5 562.4,1335.5" stroke="#4b55f5" stroke-opacity="0.34" stroke-width="2.0" fill="none"/><path d="M438.0,1263.9 Q381.5,1190.5 432.4,1113.2" stroke="#30dcdc" stroke-opacity="0.30" stroke-width="1.5" fill="none"/><path d="M644.6,1049.0 Q670.4,1034.0 695.7,1049.7" stroke="#4b55f5" stroke-opacity="0.15" stroke-width="1.2" fill="none"/><path d="M601.0,1234.1 Q672.1,1218.8 722.9,1270.8" stroke="#ff0000" stroke-opacity="0.18" stroke-width="0.8" fill="none"/><path d="M446.7,1137.8 Q469.8,1074.4 537.1,1070.4" stroke="#68f5c8" stroke-opacity="0.32" stroke-width="1.0" fill="none"/><path d="M669.4,1300.8 Q617.5,1230.4 657.2,1152.5" stroke="#fb9f5a" stroke-opacity="0.15" stroke-width="0.8" fill="none"/><path d="M460.0,1233.9 Q492.6,1256.9 527.8,1238.0" stroke="#ff5a32" stroke-opacity="0.31" stroke-width="1.2" fill="none"/><path d="M478.0,1185.4 Q473.7,1202.0 486.8,1213.1" stroke="#30dcdc" stroke-opacity="0.20" stroke-width="0.8" fill="none"/><path d="M473.1,1227.0 Q466.4,1184.4 423.3,1185.4" stroke="#8000ff" stroke-opacity="0.27" stroke-width="1.2" fill="none"/><path d="M457.0,1137.0 Q425.4,1120.5 410.6,1088.1" stroke="#a0f5a0" stroke-opacity="0.31" stroke-width="1.0" fill="none"/><path d="M622.3,1164.8 Q612.5,1223.0 667.6,1244.3" stroke="#30dcdc" stroke-opacity="0.18" stroke-width="1.0" fill="none"/><path d="M497.7,1250.0 Q558.5,1321.6 636.3,1269.0" stroke="#ff0000" stroke-opacity="0.33" stroke-width="0.8" fill="none"/><path d="M413.2,1094.0 Q402.9,1172.5 326.2,1192.1" stroke="#4b55f5" stroke-opacity="0.34" stroke-width="0.8" fill="none"/><path d="M412.2,1304.7 Q457.4,1300.0 491.2,1269.6" stroke="#ff0000" stroke-opacity="0.24" stroke-width="1.0" fill="none"/><path d="M413.2,1094.0 Q466.2,1156.2 436.7,1232.4" stroke="#1a9cf0" stroke-opacity="0.27" stroke-width="2.0" fill="none"/><path d="M572.4,1248.5 Q660.7,1233.0 680.0,1145.5" stroke="#30dcdc" stroke-opacity="0.21" stroke-width="2.0" fill="none"/><path d="M566.0,1146.8 Q596.3,1134.8 602.6,1102.9" stroke="#ff0000" stroke-opacity="0.33" stroke-width="1.5" fill="none"/><path d="M367.1,1235.4 Q414.0,1307.5 491.2,1269.6" stroke="#1a9cf0" stroke-opacity="0.21" stroke-width="1.0" fill="none"/><path d="M617.6,1115.2 Q638.7,1069.1 682.0,1042.6" stroke="#ff5a32" stroke-opacity="0.18" stroke-width="0.8" fill="none"/><path d="M646.0,1144.7 Q582.0,1162.4 530.9,1120.1" stroke="#d3d784" stroke-opacity="0.22" stroke-width="1.2" fill="none"/><path d="M596.3,1298.5 Q536.9,1309.0 491.2,1269.6" stroke="#a0f5a0" stroke-opacity="0.24" stroke-width="1.5" fill="none"/><path d="M775.8,1182.0 Q723.2,1148.3 663.1,1165.5" stroke="#d3d784" stroke-opacity="0.15" stroke-width="1.5" fill="none"/><path d="M702.0,1170.6 Q688.5,1240.5 727.4,1300.2" stroke="#d3d784" stroke-opacity="0.23" stroke-width="1.2" fill="none"/><path d="M474.3,1156.8 Q419.4,1133.6 384.5,1182.0" stroke="#30dcdc" stroke-opacity="0.26" stroke-width="1.0" fill="none"/><path d="M612.9,1211.0 Q614.2,1170.3 646.0,1144.7" stroke="#fb9f5a" stroke-opacity="0.21" stroke-width="1.5" fill="none"/><path d="M716.5,1211.7 Q699.6,1144.5 640.3,1108.6" stroke="#fb9f5a" stroke-opacity="0.22" stroke-width="1.0" fill="none"/><path d="M498.3,1157.5 Q427.1,1172.8 359.8,1144.8" stroke="#30dcdc" stroke-opacity="0.30" stroke-width="2.0" fill="none"/><path d="M479.2,1239.3 Q491.1,1252.2 491.4,1269.8" stroke="#4b55f5" stroke-opacity="0.29" stroke-width="0.8" fill="none"/><path d="M407.9,1226.2 Q432.1,1242.5 460.0,1233.9" stroke="#ff0000" stroke-opacity="0.29" stroke-width="1.5" fill="none"/><path d="M590.2,1128.3 Q518.6,1125.9 478.6,1185.3" stroke="#68f5c8" stroke-opacity="0.31" stroke-width="1.0" fill="none"/><path d="M541.0,1098.1 Q620.6,1144.2 601.0,1234.1" stroke="#fb9f5a" stroke-opacity="0.35" stroke-width="1.0" fill="none"/><path d="M646.0,1144.7 Q609.6,1170.2 565.6,1164.0" stroke="#1a9cf0" stroke-opacity="0.25" stroke-width="1.0" fill="none"/><path d="M603.3,1193.7 Q550.8,1112.0 457.0,1137.0" stroke="#1a9cf0" stroke-opacity="0.30" stroke-width="1.5" fill="none"/><path d="M632.2,1380.9 Q626.0,1353.1 642.8,1330.1" stroke="#30dcdc" stroke-opacity="0.22" stroke-width="1.0" fill="none"/><path d="M639.2,1090.5 Q602.5,1165.7 646.0,1237.2" stroke="#a0f5a0" stroke-opacity="0.21" stroke-width="1.5" fill="none"/><path d="M326.3,1192.0 Q343.5,1219.5 375.9,1221.3" stroke="#8000ff" stroke-opacity="0.26" stroke-width="2.0" fill="none"/><path d="M663.4,1110.4 Q702.0,1121.0 736.7,1101.2" stroke="#ff0000" stroke-opacity="0.25" stroke-width="1.5" fill="none"/><path d="M520.2,1152.5 Q495.0,1172.2 487.8,1203.3" stroke="#8000ff" stroke-opacity="0.21" stroke-width="1.0" fill="none"/><path d="M493.9,1354.0 Q525.3,1281.8 486.8,1213.1" stroke="#a0f5a0" stroke-opacity="0.27" stroke-width="1.0" fill="none"/><path d="M530.9,1120.1 Q558.3,1162.2 557.9,1212.5" stroke="#a0f5a0" stroke-opacity="0.36" stroke-width="0.8" fill="none"/><path d="M663.4,1110.4 Q630.0,1187.1 665.6,1262.8" stroke="#4b55f5" stroke-opacity="0.18" stroke-width="1.5" fill="none"/><path d="M760.4,1229.5 Q771.1,1294.5 719.2,1335.0" stroke="#ff5a32" stroke-opacity="0.16" stroke-width="1.0" fill="none"/><path d="M500.0,1318.1 Q557.4,1323.6 572.9,1379.1" stroke="#ff0000" stroke-opacity="0.32" stroke-width="1.0" fill="none"/><path d="M679.2,1209.4 Q632.9,1158.8 639.2,1090.5" stroke="#30dcdc" stroke-opacity="0.17" stroke-width="1.0" fill="none"/><path d="M473.1,1227.0 Q424.3,1170.8 354.9,1197.5" stroke="#1a9cf0" stroke-opacity="0.30" stroke-width="1.2" fill="none"/><path d="M542.8,1060.8 Q469.1,1097.0 471.3,1179.1" stroke="#68f5c8" stroke-opacity="0.27" stroke-width="1.2" fill="none"/><path d="M414.1,1203.1 Q434.3,1207.7 447.2,1223.9" stroke="#4b55f5" stroke-opacity="0.26" stroke-width="1.5" fill="none"/><path d="M575.9,1159.4 Q517.0,1134.8 478.0,1185.4" stroke="#8000ff" stroke-opacity="0.31" stroke-width="0.8" fill="none"/><path d="M785.9,1263.0 Q748.8,1201.3 680.0,1180.2" stroke="#68f5c8" stroke-opacity="0.21" stroke-width="1.2" fill="none"/><path d="M432.4,1113.2 Q439.9,1088.3 465.5,1083.9" stroke="#4b55f5" stroke-opacity="0.28" stroke-width="1.0" fill="none"/><path d="M528.9,1016.4 Q515.7,1067.5 465.5,1083.9" stroke="#ff5a32" stroke-opacity="0.29" stroke-width="2.0" fill="none"/><path d="M646.0,1239.2 Q561.8,1219.6 491.2,1269.6" stroke="#a0f5a0" stroke-opacity="0.23" stroke-width="0.8" fill="none"/><path d="M668.0,1378.5 Q627.9,1330.8 636.3,1269.0" stroke="#ff5a32" stroke-opacity="0.19" stroke-width="1.0" fill="none"/><path d="M460.0,1233.9 Q428.2,1306.3 456.4,1380.2" stroke="#1a9cf0" stroke-opacity="0.30" stroke-width="2.0" fill="none"/><path d="M716.7,1080.8 Q771.5,1076.4 811.4,1038.5" stroke="#fb9f5a" stroke-opacity="0.23" stroke-width="1.0" fill="none"/><path d="M468.9,1169.7 Q539.3,1193.5 599.2,1149.4" stroke="#8000ff" stroke-opacity="0.36" stroke-width="1.5" fill="none"/><path d="M674.5,1154.5 Q605.0,1194.9 636.3,1269.0" stroke="#4b55f5" stroke-opacity="0.16" stroke-width="2.0" fill="none"/><path d="M754.7,1220.7 Q663.1,1206.7 615.5,1286.2" stroke="#d3d784" stroke-opacity="0.22" stroke-width="1.2" fill="none"/><path d="M485.5,1095.0 Q478.3,1172.7 406.2,1202.8" stroke="#1a9cf0" stroke-opacity="0.21" stroke-width="1.0" fill="none"/><path d="M471.4,1243.1 Q522.5,1226.0 528.6,1172.5" stroke="#30dcdc" stroke-opacity="0.26" stroke-width="0.8" fill="none"/><path d="M663.3,1265.4 Q609.3,1301.9 591.4,1364.5" stroke="#ff0000" stroke-opacity="0.18" stroke-width="1.0" fill="none"/><path d="M591.3,1364.6 Q623.6,1405.1 667.9,1378.3" stroke="#1a9cf0" stroke-opacity="0.14" stroke-width="1.2" fill="none"/><path d="M476.8,1345.1 Q509.4,1272.9 447.2,1223.9" stroke="#30dcdc" stroke-opacity="0.21" stroke-width="2.0" fill="none"/><path d="M312.3,1188.0 Q361.7,1167.3 389.7,1213.0" stroke="#ff0000" stroke-opacity="0.23" stroke-width="1.0" fill="none"/><path d="M646.0,1144.7 Q606.4,1160.8 566.0,1146.8" stroke="#d3d784" stroke-opacity="0.20" stroke-width="1.0" fill="none"/><path d="M823.5,1206.8 Q806.6,1270.7 740.8,1277.7" stroke="#ff5a32" stroke-opacity="0.20" stroke-width="2.0" fill="none"/><path d="M455.7,1332.9 Q404.5,1282.4 446.7,1224.1" stroke="#4b55f5" stroke-opacity="0.26" stroke-width="1.5" fill="none"/><path d="M501.7,1087.5 Q533.3,1124.3 528.6,1172.5" stroke="#4b55f5" stroke-opacity="0.31" stroke-width="1.0" fill="none"/><path d="M633.8,1218.2 Q588.0,1160.5 640.3,1108.6" stroke="#68f5c8" stroke-opacity="0.17" stroke-width="1.2" fill="none"/><path d="M575.9,1159.4 Q539.4,1116.8 542.8,1060.8" stroke="#fb9f5a" stroke-opacity="0.35" stroke-width="1.0" fill="none"/><path d="M813.7,1162.5 Q738.3,1154.6 722.4,1228.7" stroke="#ff0000" stroke-opacity="0.17" stroke-width="1.0" fill="none"/><path d="M549.9,1134.0 Q593.4,1087.4 652.9,1110.4" stroke="#30dcdc" stroke-opacity="0.21" stroke-width="0.8" fill="none"/><path d="M364.5,1259.3 Q422.8,1283.3 471.4,1243.1" stroke="#30dcdc" stroke-opacity="0.34" stroke-width="0.8" fill="none"/><path d="M501.7,1087.5 Q461.8,1129.7 478.6,1185.3" stroke="#30dcdc" stroke-opacity="0.35" stroke-width="2.0" fill="none"/><path d="M428.8,1202.8 Q456.4,1204.9 473.1,1227.0" stroke="#4b55f5" stroke-opacity="0.27" stroke-width="1.5" fill="none"/><path d="M591.4,1364.5 Q554.7,1356.7 523.1,1377.1" stroke="#30dcdc" stroke-opacity="0.23" stroke-width="1.0" fill="none"/><path d="M485.5,1095.0 Q519.3,1099.4 537.1,1070.4" stroke="#30dcdc" stroke-opacity="0.36" stroke-width="1.0" fill="none"/><path d="M471.4,1243.1 Q517.5,1293.1 585.2,1299.3" stroke="#8000ff" stroke-opacity="0.31" stroke-width="1.2" fill="none"/><path d="M614.8,1241.9 Q634.4,1204.9 622.3,1164.8" stroke="#d3d784" stroke-opacity="0.22" stroke-width="1.0" fill="none"/><path d="M558.5,1305.0 Q542.7,1236.5 473.1,1227.0" stroke="#68f5c8" stroke-opacity="0.21" stroke-width="1.5" fill="none"/><path d="M471.3,1179.1 Q452.5,1211.1 471.4,1243.1" stroke="#30dcdc" stroke-opacity="0.24" stroke-width="1.2" fill="none"/><path d="M615.6,1226.4 Q686.4,1187.7 663.4,1110.4" stroke="#ff0000" stroke-opacity="0.18" stroke-width="0.8" fill="none"/><path d="M529.1,1054.7 Q556.3,1063.0 559.9,1091.2" stroke="#30dcdc" stroke-opacity="0.32" stroke-width="2.0" fill="none"/><path d="M486.8,1213.1 Q469.1,1289.7 399.4,1326.0" stroke="#68f5c8" stroke-opacity="0.25" stroke-width="1.0" fill="none"/><path d="M528.9,1016.4 Q586.6,1034.3 585.3,1094.7" stroke="#ff0000" stroke-opacity="0.26" stroke-width="1.5" fill="none"/><path d="M607.2,1116.3 Q631.7,1192.7 605.5,1268.5" stroke="#4b55f5" stroke-opacity="0.15" stroke-width="1.0" fill="none"/><path d="M468.0,1384.8 Q521.2,1335.6 491.2,1269.6" stroke="#68f5c8" stroke-opacity="0.25" stroke-width="1.0" fill="none"/><path d="M479.2,1239.3 Q385.6,1234.9 359.8,1144.8" stroke="#4b55f5" stroke-opacity="0.33" stroke-width="1.0" fill="none"/><path d="M520.9,1095.5 Q494.3,1074.9 466.0,1093.2" stroke="#1a9cf0" stroke-opacity="0.35" stroke-width="1.2" fill="none"/><path d="M595.6,1100.1 Q631.0,1078.8 630.6,1037.4" stroke="#1a9cf0" stroke-opacity="0.22" stroke-width="1.2" fill="none"/><path d="M432.4,1113.2 Q454.5,1185.0 528.6,1172.5" stroke="#1a9cf0" stroke-opacity="0.32" stroke-width="1.2" fill="none"/><path d="M716.5,1211.7 Q737.7,1136.0 706.2,1063.9" stroke="#ff5a32" stroke-opacity="0.20" stroke-width="1.2" fill="none"/><path d="M529.6,1258.2 Q588.9,1246.9 622.9,1197.1" stroke="#ff0000" stroke-opacity="0.34" stroke-width="1.5" fill="none"/><path d="M527.8,1238.0 Q596.9,1204.7 590.2,1128.3" stroke="#fb9f5a" stroke-opacity="0.36" stroke-width="0.8" fill="none"/><path d="M413.9,1143.7 Q442.3,1187.2 408.2,1226.4" stroke="#68f5c8" stroke-opacity="0.31" stroke-width="1.2" fill="none"/><path d="M559.9,1091.2 Q516.5,1124.8 500.1,1177.1" stroke="#30dcdc" stroke-opacity="0.20" stroke-width="1.5" fill="none"/><path d="M687.9,1315.5 Q656.3,1308.5 648.9,1277.0" stroke="#30dcdc" stroke-opacity="0.22" stroke-width="0.8" fill="none"/><path d="M678.5,1083.9 Q667.3,1115.0 680.0,1145.5" stroke="#ff5a32" stroke-opacity="0.19" stroke-width="1.2" fill="none"/><path d="M491.2,1269.6 Q441.6,1294.0 388.7,1277.8" stroke="#ff0000" stroke-opacity="0.21" stroke-width="2.0" fill="none"/><path d="M497.7,1250.0 Q469.4,1192.1 520.2,1152.5" stroke="#4b55f5" stroke-opacity="0.33" stroke-width="1.0" fill="none"/><path d="M389.7,1213.0 Q352.0,1224.9 314.7,1211.9" stroke="#4b55f5" stroke-opacity="0.30" stroke-width="1.2" fill="none"/><path d="M563.3,1128.3 Q574.0,1151.3 599.2,1149.4" stroke="#ff5a32" stroke-opacity="0.22" stroke-width="1.0" fill="none"/><path d="M639.2,1090.5 Q661.5,1102.6 686.2,1097.0" stroke="#d3d784" stroke-opacity="0.18" stroke-width="1.0" fill="none"/><path d="M522.8,1338.6 Q602.2,1340.8 636.3,1269.0" stroke="#d3d784" stroke-opacity="0.27" stroke-width="1.0" fill="none"/><path d="M645.2,1204.0 Q631.4,1136.7 563.3,1128.3" stroke="#a0f5a0" stroke-opacity="0.21" stroke-width="2.0" fill="none"/><path d="M625.6,1141.7 Q594.6,1088.0 630.2,1037.2" stroke="#fb9f5a" stroke-opacity="0.18" stroke-width="1.2" fill="none"/><path d="M436.2,1153.7 Q504.0,1112.4 482.7,1035.9" stroke="#ff5a32" stroke-opacity="0.34" stroke-width="1.0" fill="none"/><path d="M674.8,1233.1 Q731.1,1190.8 784.0,1237.2" stroke="#ff5a32" stroke-opacity="0.17" stroke-width="1.0" fill="none"/><path d="M542.4,1344.0 Q555.5,1262.9 637.4,1257.3" stroke="#a0f5a0" stroke-opacity="0.21" stroke-width="1.5" fill="none"/><path d="M599.2,1149.4 Q562.5,1215.5 487.0,1213.0" stroke="#a0f5a0" stroke-opacity="0.33" stroke-width="0.8" fill="none"/><path d="M413.9,1143.7 Q446.8,1187.5 408.2,1226.4" stroke="#1a9cf0" stroke-opacity="0.25" stroke-width="1.5" fill="none"/><path d="M753.2,1031.1 Q771.4,1015.8 794.7,1020.5" stroke="#ff5a32" stroke-opacity="0.15" stroke-width="2.0" fill="none"/><path d="M617.6,1115.2 Q547.7,1104.3 528.6,1172.5" stroke="#1a9cf0" stroke-opacity="0.33" stroke-width="1.5" fill="none"/><path d="M789.7,1205.3 Q811.8,1175.4 801.7,1139.7" stroke="#ff5a32" stroke-opacity="0.24" stroke-width="1.0" fill="none"/><path d="M585.3,1094.7 Q510.5,1102.6 500.1,1177.1" stroke="#ff0000" stroke-opacity="0.30" stroke-width="1.0" fill="none"/><path d="M596.3,1298.5 Q573.9,1217.4 500.1,1177.1" stroke="#4b55f5" stroke-opacity="0.22" stroke-width="0.8" fill="none"/><path d="M698.7,1285.8 Q674.8,1334.7 623.5,1316.6" stroke="#fb9f5a" stroke-opacity="0.18" stroke-width="1.5" fill="none"/><path d="M663.3,1265.4 Q693.1,1281.9 687.9,1315.5" stroke="#68f5c8" stroke-opacity="0.14" stroke-width="1.0" fill="none"/><path d="M468.9,1169.7 Q430.1,1172.1 406.2,1202.8" stroke="#4b55f5" stroke-opacity="0.24" stroke-width="2.0" fill="none"/><path d="M554.0,1157.1 Q494.3,1225.8 406.2,1202.8" stroke="#8000ff" stroke-opacity="0.24" stroke-width="2.0" fill="none"/><path d="M478.6,1185.3 Q457.6,1165.7 457.0,1137.0" stroke="#30dcdc" stroke-opacity="0.35" stroke-width="1.0" fill="none"/><path d="M528.6,1172.5 Q468.5,1161.0 463.3,1100.1" stroke="#1a9cf0" stroke-opacity="0.33" stroke-width="1.0" fill="none"/><path d="M667.6,1244.3 Q673.8,1261.5 691.3,1267.0" stroke="#a0f5a0" stroke-opacity="0.16" stroke-width="0.8" fill="none"/><path d="M670.5,1292.7 Q626.6,1279.8 585.2,1299.3" stroke="#30dcdc" stroke-opacity="0.23" stroke-width="2.0" fill="none"/><path d="M823.5,1134.0 Q741.1,1134.2 676.5,1083.1" stroke="#ff0000" stroke-opacity="0.16" stroke-width="1.0" fill="none"/><path d="M437.5,1210.0 Q444.6,1257.8 491.4,1269.8" stroke="#ff0000" stroke-opacity="0.21" stroke-width="1.2" fill="none"/><path d="M459.8,1233.8 Q502.4,1249.4 528.2,1286.7" stroke="#a0f5a0" stroke-opacity="0.27" stroke-width="1.5" fill="none"/><path d="M427.1,1081.0 Q413.2,1056.5 386.2,1064.6" stroke="#4b55f5" stroke-opacity="0.33" stroke-width="0.8" fill="none"/><path d="M530.5,1400.2 Q591.7,1393.2 628.9,1344.0" stroke="#ff0000" stroke-opacity="0.23" stroke-width="0.8" fill="none"/><path d="M615.5,1286.2 Q663.7,1228.0 622.3,1164.8" stroke="#fb9f5a" stroke-opacity="0.16" stroke-width="2.0" fill="none"/><path d="M652.9,1110.4 Q654.1,1065.8 695.7,1049.7" stroke="#d3d784" stroke-opacity="0.17" stroke-width="1.0" fill="none"/><path d="M727.8,1136.6 Q650.3,1174.9 602.6,1102.9" stroke="#30dcdc" stroke-opacity="0.18" stroke-width="2.0" fill="none"/><path d="M602.6,1102.9 Q563.7,1178.0 486.8,1213.1" stroke="#d3d784" stroke-opacity="0.34" stroke-width="0.8" fill="none"/><path d="M412.8,1094.4 Q443.3,1055.9 488.9,1074.2" stroke="#4b55f5" stroke-opacity="0.29" stroke-width="2.0" fill="none"/><path d="M549.9,1134.0 Q476.8,1170.8 497.2,1250.1" stroke="#8000ff" stroke-opacity="0.34" stroke-width="0.8" fill="none"/><path d="M565.6,1164.0 Q577.5,1145.5 599.2,1149.4" stroke="#ff5a32" stroke-opacity="0.27" stroke-width="0.8" fill="none"/><path d="M697.3,1181.4 Q633.2,1179.2 600.9,1234.6" stroke="#68f5c8" stroke-opacity="0.15" stroke-width="1.2" fill="none"/><path d="M413.9,1203.3 Q439.2,1199.6 447.2,1223.9" stroke="#68f5c8" stroke-opacity="0.24" stroke-width="1.0" fill="none"/><path d="M626.3,1286.2 Q642.5,1305.2 642.8,1330.1" stroke="#a0f5a0" stroke-opacity="0.16" stroke-width="0.8" fill="none"/><path d="M782.9,1067.0 Q720.7,1136.3 635.7,1098.2" stroke="#68f5c8" stroke-opacity="0.26" stroke-width="2.0" fill="none"/><path d="M486.8,1213.1 Q533.4,1200.7 554.0,1157.1" stroke="#30dcdc" stroke-opacity="0.31" stroke-width="1.5" fill="none"/><path d="M478.0,1185.4 Q440.9,1176.3 413.9,1203.3" stroke="#68f5c8" stroke-opacity="0.34" stroke-width="2.0" fill="none"/><path d="M523.1,1377.1 Q563.2,1280.4 473.1,1227.0" stroke="#8000ff" stroke-opacity="0.22" stroke-width="2.0" fill="none"/><path d="M473.1,1227.0 Q482.6,1163.1 530.9,1120.1" stroke="#1a9cf0" stroke-opacity="0.30" stroke-width="1.5" fill="none"/><path d="M816.6,1194.5 Q764.9,1155.5 702.0,1170.6" stroke="#ff0000" stroke-opacity="0.20" stroke-width="2.0" fill="none"/><path d="M566.0,1146.8 Q627.5,1080.9 702.7,1130.6" stroke="#30dcdc" stroke-opacity="0.19" stroke-width="1.2" fill="none"/><path d="M603.3,1193.7 Q600.0,1170.8 622.3,1164.8" stroke="#ff5a32" stroke-opacity="0.20" stroke-width="1.0" fill="none"/><path d="M423.6,1185.6 Q428.6,1113.7 488.9,1074.2" stroke="#a0f5a0" stroke-opacity="0.20" stroke-width="1.0" fill="none"/><path d="M542.8,1060.8 Q581.8,1105.1 554.0,1157.1" stroke="#ff0000" stroke-opacity="0.34" stroke-width="1.5" fill="none"/><path d="M676.5,1083.1 Q655.9,1171.3 565.6,1164.0" stroke="#fb9f5a" stroke-opacity="0.25" stroke-width="1.2" fill="none"/><path d="M529.1,1054.7 Q456.3,1101.6 478.6,1185.3" stroke="#ff0000" stroke-opacity="0.30" stroke-width="2.0" fill="none"/><path d="M775.8,1182.0 Q739.2,1235.1 674.8,1233.1" stroke="#fb9f5a" stroke-opacity="0.21" stroke-width="1.0" fill="none"/><path d="M754.7,1220.7 Q739.9,1180.7 697.3,1181.4" stroke="#ff5a32" stroke-opacity="0.22" stroke-width="1.2" fill="none"/><path d="M731.6,1171.4 Q740.2,1115.1 686.2,1097.0" stroke="#ff5a32" stroke-opacity="0.16" stroke-width="2.0" fill="none"/><path d="M427.0,1080.8 Q431.4,1153.4 389.7,1213.0" stroke="#8000ff" stroke-opacity="0.31" stroke-width="0.8" fill="none"/><path d="M384.5,1182.0 Q447.4,1168.0 473.1,1227.0" stroke="#1a9cf0" stroke-opacity="0.25" stroke-width="1.0" fill="none"/><path d="M585.2,1299.3 Q572.2,1236.4 603.3,1180.2" stroke="#ff0000" stroke-opacity="0.33" stroke-width="0.8" fill="none"/><path d="M491.2,1269.6 Q465.1,1220.4 500.1,1177.1" stroke="#ff0000" stroke-opacity="0.31" stroke-width="0.8" fill="none"/><path d="M465.3,1084.2 Q436.2,1133.7 471.3,1179.1" stroke="#1a9cf0" stroke-opacity="0.21" stroke-width="1.2" fill="none"/><path d="M605.3,1073.9 Q613.8,1089.3 602.6,1102.9" stroke="#ff0000" stroke-opacity="0.17" stroke-width="1.0" fill="none"/><path d="M389.7,1213.0 Q389.0,1242.6 364.5,1259.3" stroke="#1a9cf0" stroke-opacity="0.34" stroke-width="0.8" fill="none"/><path d="M559.9,1091.2 Q612.6,1159.6 690.5,1122.4" stroke="#ff0000" stroke-opacity="0.16" stroke-width="1.5" fill="none"/><path d="M739.2,1316.2 Q693.6,1330.0 700.9,1377.0" stroke="#fb9f5a" stroke-opacity="0.23" stroke-width="2.0" fill="none"/><path d="M444.7,1161.7 Q372.9,1146.6 312.3,1188.0" stroke="#30dcdc" stroke-opacity="0.33" stroke-width="1.5" fill="none"/><path d="M334.9,1125.8 Q423.1,1143.5 436.7,1232.4" stroke="#1a9cf0" stroke-opacity="0.25" stroke-width="1.0" fill="none"/><path d="M463.3,1100.1 Q451.1,1114.4 432.4,1113.2" stroke="#ff5a32" stroke-opacity="0.24" stroke-width="1.5" fill="none"/><path d="M466.0,1093.2 Q490.0,1160.9 437.5,1210.0" stroke="#1a9cf0" stroke-opacity="0.24" stroke-width="1.0" fill="none"/><path d="M557.9,1212.5 Q533.6,1158.4 474.3,1156.8" stroke="#1a9cf0" stroke-opacity="0.29" stroke-width="1.0" fill="none"/><path d="M729.8,1152.8 Q635.4,1149.7 614.8,1241.9" stroke="#68f5c8" stroke-opacity="0.24" stroke-width="1.2" fill="none"/><path d="M554.0,1157.1 Q612.6,1103.0 680.0,1145.5" stroke="#ff5a32" stroke-opacity="0.15" stroke-width="1.2" fill="none"/><path d="M665.6,1307.0 Q653.1,1212.6 557.9,1212.5" stroke="#ff5a32" stroke-opacity="0.17" stroke-width="1.0" fill="none"/><path d="M500.1,1177.1 Q562.8,1114.9 646.0,1144.7" stroke="#ff5a32" stroke-opacity="0.30" stroke-width="0.8" fill="none"/><path d="M566.0,1146.8 Q516.4,1181.7 529.0,1241.1" stroke="#ff0000" stroke-opacity="0.24" stroke-width="2.0" fill="none"/><path d="M500.0,1318.1 Q541.5,1251.7 615.6,1226.4" stroke="#a0f5a0" stroke-opacity="0.21" stroke-width="1.0" fill="none"/><path d="M471.4,1318.6 Q418.9,1249.2 478.0,1185.4" stroke="#30dcdc" stroke-opacity="0.23" stroke-width="1.0" fill="none"/><path d="M633.8,1218.2 Q546.2,1231.2 513.9,1313.6" stroke="#30dcdc" stroke-opacity="0.29" stroke-width="1.5" fill="none"/><path d="M586.3,1293.1 Q642.7,1279.0 687.9,1315.5" stroke="#68f5c8" stroke-opacity="0.15" stroke-width="1.0" fill="none"/><path d="M446.7,1137.8 Q422.1,1201.6 356.6,1221.3" stroke="#a0f5a0" stroke-opacity="0.31" stroke-width="1.0" fill="none"/><path d="M410.5,1088.2 Q498.2,1139.7 460.0,1233.9" stroke="#1a9cf0" stroke-opacity="0.27" stroke-width="1.0" fill="none"/><path d="M657.2,1152.5 Q619.0,1185.1 575.9,1159.4" stroke="#ff5a32" stroke-opacity="0.15" stroke-width="1.0" fill="none"/><path d="M447.8,1177.1 Q510.8,1139.1 537.1,1070.4" stroke="#8000ff" stroke-opacity="0.27" stroke-width="1.5" fill="none"/><path d="M478.6,1185.3 Q498.5,1204.4 501.7,1231.8" stroke="#1a9cf0" stroke-opacity="0.35" stroke-width="1.5" fill="none"/><path d="M600.9,1234.6 Q627.9,1185.0 589.5,1143.7" stroke="#4b55f5" stroke-opacity="0.28" stroke-width="1.2" fill="none"/><path d="M739.3,1214.8 Q644.0,1207.1 617.6,1115.2" stroke="#68f5c8" stroke-opacity="0.24" stroke-width="0.8" fill="none"/><path d="M487.0,1213.0 Q558.5,1243.9 603.3,1180.2" stroke="#4b55f5" stroke-opacity="0.21" stroke-width="1.5" fill="none"/><path d="M663.1,1165.5 Q663.4,1233.3 605.5,1268.5" stroke="#ff0000" stroke-opacity="0.21" stroke-width="1.0" fill="none"/><path d="M407.9,1226.2 Q400.1,1181.4 436.2,1153.7" stroke="#a0f5a0" stroke-opacity="0.27" stroke-width="0.8" fill="none"/><path d="M412.8,1094.4 Q483.8,1112.4 478.0,1185.4" stroke="#30dcdc" stroke-opacity="0.34" stroke-width="1.5" fill="none"/><path d="M680.0,1180.2 Q716.0,1230.2 694.1,1287.8" stroke="#a0f5a0" stroke-opacity="0.22" stroke-width="1.0" fill="none"/><path d="M446.7,1224.1 Q546.7,1197.6 586.3,1293.1" stroke="#30dcdc" stroke-opacity="0.21" stroke-width="1.2" fill="none"/><path d="M530.9,1120.1 Q494.4,1200.4 406.2,1202.8" stroke="#4b55f5" stroke-opacity="0.34" stroke-width="2.0" fill="none"/><path d="M590.2,1128.3 Q514.6,1166.9 497.7,1250.0" stroke="#ff5a32" stroke-opacity="0.33" stroke-width="1.2" fill="none"/><path d="M288.7,1216.5 Q321.5,1140.8 402.8,1155.2" stroke="#1a9cf0" stroke-opacity="0.28" stroke-width="1.2" fill="none"/><path d="M549.9,1134.0 Q472.1,1145.1 427.0,1080.8" stroke="#ff5a32" stroke-opacity="0.22" stroke-width="2.0" fill="none"/><path d="M436.7,1232.4 Q451.2,1148.9 530.9,1120.1" stroke="#4b55f5" stroke-opacity="0.32" stroke-width="0.8" fill="none"/><path d="M607.8,1397.6 Q665.5,1373.8 687.9,1315.5" stroke="#a0f5a0" stroke-opacity="0.21" stroke-width="1.2" fill="none"/><path d="M657.2,1152.5 Q683.7,1149.3 702.7,1130.6" stroke="#4b55f5" stroke-opacity="0.20" stroke-width="1.0" fill="none"/><path d="M520.2,1152.5 Q506.0,1100.4 542.8,1060.8" stroke="#1a9cf0" stroke-opacity="0.23" stroke-width="1.0" fill="none"/><path d="M640.3,1108.6 Q605.9,1077.0 630.6,1037.4" stroke="#1a9cf0" stroke-opacity="0.20" stroke-width="0.8" fill="none"/><path d="M575.9,1159.4 Q497.9,1170.9 463.3,1100.1" stroke="#ff5a32" stroke-opacity="0.31" stroke-width="1.2" fill="none"/><path d="M612.9,1211.0 Q689.5,1194.9 707.0,1118.6" stroke="#fb9f5a" stroke-opacity="0.21" stroke-width="1.0" fill="none"/><path d="M720.3,1249.3 Q681.3,1180.5 603.3,1193.7" stroke="#1a9cf0" stroke-opacity="0.16" stroke-width="2.0" fill="none"/><path d="M633.8,1218.2 Q636.7,1308.5 553.9,1344.7" stroke="#ff0000" stroke-opacity="0.27" stroke-width="1.2" fill="none"/><path d="M427.1,1081.0 Q481.4,1107.4 541.0,1098.1" stroke="#8000ff" stroke-opacity="0.27" stroke-width="1.0" fill="none"/><path d="M680.0,1145.5 Q614.7,1126.4 554.0,1157.1" stroke="#68f5c8" stroke-opacity="0.18" stroke-width="1.5" fill="none"/><path d="M457.0,1137.0 Q419.5,1147.0 423.6,1185.6" stroke="#ff0000" stroke-opacity="0.28" stroke-width="2.0" fill="none"/><path d="M391.4,1195.9 Q446.1,1171.5 432.4,1113.2" stroke="#68f5c8" stroke-opacity="0.34" stroke-width="1.5" fill="none"/><path d="M613.8,1073.9 Q560.5,1055.3 520.9,1095.5" stroke="#a0f5a0" stroke-opacity="0.30" stroke-width="1.0" fill="none"/><path d="M500.0,1318.1 Q449.0,1283.7 472.9,1227.1" stroke="#4b55f5" stroke-opacity="0.32" stroke-width="1.0" fill="none"/><path d="M486.8,1213.1 Q452.1,1248.5 407.9,1226.2" stroke="#ff0000" stroke-opacity="0.21" stroke-width="1.0" fill="none"/><path d="M657.2,1152.5 Q729.6,1112.5 803.5,1149.7" stroke="#30dcdc" stroke-opacity="0.17" stroke-width="0.8" fill="none"/><path d="M354.9,1197.5 Q433.3,1228.5 500.1,1177.1" stroke="#30dcdc" stroke-opacity="0.29" stroke-width="1.2" fill="none"/><path d="M575.9,1159.4 Q555.2,1220.5 497.7,1250.0" stroke="#ff0000" stroke-opacity="0.25" stroke-width="1.0" fill="none"/><path d="M459.8,1233.8 Q483.1,1274.3 528.2,1286.7" stroke="#30dcdc" stroke-opacity="0.22" stroke-width="2.0" fill="none"/><path d="M722.9,1270.8 Q658.7,1256.8 619.1,1309.3" stroke="#30dcdc" stroke-opacity="0.25" stroke-width="1.0" fill="none"/><path d="M697.3,1181.4 Q688.3,1222.8 646.0,1220.2" stroke="#a0f5a0" stroke-opacity="0.20" stroke-width="1.0" fill="none"/><path d="M528.6,1172.5 Q467.5,1150.7 428.8,1202.8" stroke="#ff5a32" stroke-opacity="0.22" stroke-width="2.0" fill="none"/><path d="M446.7,1224.1 Q528.1,1268.1 493.9,1354.0" stroke="#30dcdc" stroke-opacity="0.32" stroke-width="0.8" fill="none"/><path d="M491.4,1269.8 Q561.7,1254.4 626.3,1286.2" stroke="#ff0000" stroke-opacity="0.24" stroke-width="1.5" fill="none"/><path d="M391.4,1195.9 Q386.8,1220.3 367.1,1235.4" stroke="#30dcdc" stroke-opacity="0.32" stroke-width="1.0" fill="none"/><path d="M622.3,1164.8 Q578.2,1225.6 596.3,1298.5" stroke="#68f5c8" stroke-opacity="0.20" stroke-width="0.8" fill="none"/><path d="M742.8,1180.2 Q665.5,1183.4 614.8,1241.9" stroke="#68f5c8" stroke-opacity="0.23" stroke-width="1.0" fill="none"/><path d="M528.6,1172.5 Q486.5,1145.0 447.8,1177.1" stroke="#68f5c8" stroke-opacity="0.26" stroke-width="1.0" fill="none"/><path d="M407.9,1226.2 Q464.0,1220.4 491.4,1269.8" stroke="#4b55f5" stroke-opacity="0.28" stroke-width="1.2" fill="none"/><path d="M697.3,1181.4 Q739.3,1205.0 720.3,1249.3" stroke="#68f5c8" stroke-opacity="0.16" stroke-width="1.5" fill="none"/><path d="M616.4,1001.7 Q593.8,1076.0 663.4,1110.4" stroke="#68f5c8" stroke-opacity="0.17" stroke-width="1.0" fill="none"/><path d="M444.7,1161.7 Q473.2,1181.4 498.3,1157.5" stroke="#a0f5a0" stroke-opacity="0.29" stroke-width="0.8" fill="none"/><path d="M663.1,1165.5 Q624.3,1244.9 676.4,1316.2" stroke="#4b55f5" stroke-opacity="0.23" stroke-width="1.0" fill="none"/><path d="M622.3,1164.8 Q647.4,1176.4 645.2,1204.0" stroke="#68f5c8" stroke-opacity="0.19" stroke-width="1.2" fill="none"/><path d="M671.4,1273.9 Q613.3,1244.5 603.3,1180.2" stroke="#ff5a32" stroke-opacity="0.17" stroke-width="1.0" fill="none"/><path d="M671.4,1273.9 Q678.5,1292.2 665.6,1307.0" stroke="#ff0000" stroke-opacity="0.15" stroke-width="0.8" fill="none"/><path d="M447.2,1223.9 Q519.1,1196.2 530.9,1120.1" stroke="#4b55f5" stroke-opacity="0.21" stroke-width="2.0" fill="none"/><path d="M557.9,1212.5 Q536.6,1182.3 500.1,1177.1" stroke="#8000ff" stroke-opacity="0.21" stroke-width="1.0" fill="none"/><path d="M465.5,1083.9 Q503.9,1143.9 486.8,1213.1" stroke="#a0f5a0" stroke-opacity="0.20" stroke-width="1.5" fill="none"/><path d="M625.6,1141.7 Q574.9,1213.2 487.8,1203.3" stroke="#a0f5a0" stroke-opacity="0.28" stroke-width="2.0" fill="none"/><path d="M488.9,1074.2 Q551.4,1095.5 613.8,1073.9" stroke="#fb9f5a" stroke-opacity="0.26" stroke-width="0.8" fill="none"/><path d="M558.5,1305.0 Q630.2,1323.2 658.7,1391.4" stroke="#4b55f5" stroke-opacity="0.18" stroke-width="1.0" fill="none"/><path d="M789.7,1205.3 Q768.7,1195.3 745.9,1200.2" stroke="#68f5c8" stroke-opacity="0.26" stroke-width="1.5" fill="none"/><path d="M378.4,1040.9 Q443.8,1099.8 423.3,1185.4" stroke="#4b55f5" stroke-opacity="0.29" stroke-width="0.8" fill="none"/><path d="M472.9,1227.1 Q422.0,1271.2 354.8,1275.5" stroke="#8000ff" stroke-opacity="0.24" stroke-width="1.0" fill="none"/><path d="M522.8,1338.6 Q535.4,1269.6 605.5,1268.5" stroke="#30dcdc" stroke-opacity="0.32" stroke-width="1.0" fill="none"/><path d="M625.6,1141.7 Q686.8,1190.6 663.3,1265.4" stroke="#d3d784" stroke-opacity="0.16" stroke-width="1.0" fill="none"/><path d="M399.4,1326.0 Q447.8,1291.0 436.7,1232.4" stroke="#a0f5a0" stroke-opacity="0.36" stroke-width="1.2" fill="none"/><path d="M591.3,1364.6 Q554.9,1321.7 498.8,1317.0" stroke="#68f5c8" stroke-opacity="0.22" stroke-width="2.0" fill="none"/><path d="M590.2,1128.3 Q636.9,1126.8 663.1,1165.5" stroke="#ff0000" stroke-opacity="0.25" stroke-width="1.0" fill="none"/><path d="M599.2,1149.4 Q554.3,1223.1 596.3,1298.5" stroke="#ff0000" stroke-opacity="0.35" stroke-width="2.0" fill="none"/><path d="M339.5,1113.7 Q378.4,1123.4 402.8,1155.2" stroke="#8000ff" stroke-opacity="0.30" stroke-width="1.0" fill="none"/><path d="M407.9,1226.2 Q444.7,1267.3 497.2,1250.1" stroke="#68f5c8" stroke-opacity="0.35" stroke-width="1.2" fill="none"/><path d="M572.4,1248.5 Q576.4,1272.6 563.2,1293.1" stroke="#1a9cf0" stroke-opacity="0.22" stroke-width="0.8" fill="none"/><path d="M645.2,1204.0 Q669.3,1134.3 602.6,1102.9" stroke="#ff5a32" stroke-opacity="0.19" stroke-width="0.8" fill="none"/><path d="M674.5,1154.5 Q644.2,1180.4 646.0,1220.2" stroke="#68f5c8" stroke-opacity="0.18" stroke-width="1.0" fill="none"/><path d="M528.2,1286.7 Q519.4,1239.5 473.1,1227.0" stroke="#30dcdc" stroke-opacity="0.35" stroke-width="1.2" fill="none"/><path d="M423.6,1185.6 Q361.2,1196.1 364.5,1259.3" stroke="#8000ff" stroke-opacity="0.30" stroke-width="1.5" fill="none"/><path d="M566.0,1146.8 Q485.7,1153.5 446.7,1224.1" stroke="#a0f5a0" stroke-opacity="0.20" stroke-width="1.2" fill="none"/><path d="M780.1,1205.9 Q752.7,1237.0 780.7,1267.5" stroke="#fb9f5a" stroke-opacity="0.23" stroke-width="0.8" fill="none"/><path d="M487.8,1203.3 Q476.5,1163.5 436.2,1153.7" stroke="#8000ff" stroke-opacity="0.30" stroke-width="2.0" fill="none"/><path d="M726.9,1272.4 Q710.2,1262.6 691.3,1267.0" stroke="#30dcdc" stroke-opacity="0.23" stroke-width="1.0" fill="none"/><path d="M414.8,1046.8 Q446.3,1122.6 428.8,1202.8" stroke="#8000ff" stroke-opacity="0.24" stroke-width="1.0" fill="none"/><path d="M633.8,1218.2 Q621.1,1151.2 677.2,1112.4" stroke="#fb9f5a" stroke-opacity="0.17" stroke-width="2.0" fill="none"/><path d="M446.7,1137.8 Q455.3,1157.2 447.8,1177.1" stroke="#ff5a32" stroke-opacity="0.35" stroke-width="0.8" fill="none"/><path d="M432.4,1113.2 Q521.3,1083.2 575.9,1159.4" stroke="#1a9cf0" stroke-opacity="0.34" stroke-width="1.0" fill="none"/><path d="M474.3,1156.8 Q483.1,1098.6 427.0,1080.8" stroke="#4b55f5" stroke-opacity="0.32" stroke-width="1.2" fill="none"/><path d="M622.9,1197.1 Q670.6,1192.5 680.0,1145.5" stroke="#fb9f5a" stroke-opacity="0.22" stroke-width="1.0" fill="none"/><path d="M674.8,1233.1 Q643.4,1161.0 566.0,1146.8" stroke="#1a9cf0" stroke-opacity="0.16" stroke-width="1.0" fill="none"/><path d="M486.8,1213.1 Q442.9,1285.9 493.9,1354.0" stroke="#8000ff" stroke-opacity="0.20" stroke-width="0.8" fill="none"/><path d="M619.8,1096.2 Q639.7,1175.8 701.6,1229.5" stroke="#68f5c8" stroke-opacity="0.25" stroke-width="0.8" fill="none"/><path d="M652.9,1110.4 Q694.8,1166.2 674.8,1233.1" stroke="#ff5a32" stroke-opacity="0.16" stroke-width="1.0" fill="none"/><path d="M702.3,1098.5 Q660.1,1132.4 619.8,1096.2" stroke="#a0f5a0" stroke-opacity="0.25" stroke-width="1.5" fill="none"/><path d="M727.4,1300.2 Q671.5,1314.8 636.3,1269.0" stroke="#68f5c8" stroke-opacity="0.19" stroke-width="1.0" fill="none"/><path d="M514.7,1352.9 Q526.1,1287.0 479.2,1239.3" stroke="#1a9cf0" stroke-opacity="0.35" stroke-width="1.0" fill="none"/><path d="M432.4,1113.2 Q449.0,1120.0 446.7,1137.8" stroke="#ff0000" stroke-opacity="0.21" stroke-width="1.0" fill="none"/><path d="M554.0,1157.1 Q493.1,1125.9 447.8,1177.1" stroke="#4b55f5" stroke-opacity="0.22" stroke-width="0.8" fill="none"/><path d="M676.9,1112.4 Q607.3,1087.2 549.9,1134.0" stroke="#ff0000" stroke-opacity="0.22" stroke-width="1.5" fill="none"/><path d="M646.0,1220.2 Q679.6,1271.6 740.8,1277.7" stroke="#ff5a32" stroke-opacity="0.25" stroke-width="0.8" fill="none"/><path d="M637.4,1257.3 Q595.7,1329.4 513.9,1313.6" stroke="#4b55f5" stroke-opacity="0.32" stroke-width="1.2" fill="none"/><path d="M749.6,982.8 Q747.7,1061.1 683.6,1106.2" stroke="#ff0000" stroke-opacity="0.24" stroke-width="1.5" fill="none"/><path d="M529.0,1241.1 Q479.9,1268.5 437.0,1232.2" stroke="#a0f5a0" stroke-opacity="0.28" stroke-width="1.0" fill="none"/><path d="M413.9,1203.3 Q496.5,1195.6 530.9,1120.1" stroke="#4b55f5" stroke-opacity="0.26" stroke-width="1.0" fill="none"/><path d="M543.6,1317.8 Q468.1,1272.7 478.0,1185.4" stroke="#4b55f5" stroke-opacity="0.24" stroke-width="1.2" fill="none"/><path d="M446.7,1137.8 Q394.7,1197.6 438.0,1263.9" stroke="#ff5a32" stroke-opacity="0.28" stroke-width="1.0" fill="none"/><path d="M384.5,1182.0 Q413.8,1194.8 407.9,1226.2" stroke="#8000ff" stroke-opacity="0.33" stroke-width="1.5" fill="none"/><path d="M585.3,1094.7 Q553.4,1116.5 520.9,1095.5" stroke="#ff0000" stroke-opacity="0.28" stroke-width="1.0" fill="none"/><path d="M284.5,1147.1 Q328.2,1182.4 368.0,1142.8" stroke="#4b55f5" stroke-opacity="0.30" stroke-width="1.5" fill="none"/><path d="M498.3,1157.5 Q501.0,1205.4 471.4,1243.1" stroke="#68f5c8" stroke-opacity="0.28" stroke-width="1.2" fill="none"/><path d="M619.8,1096.2 Q669.7,1029.3 753.1,1031.0" stroke="#30dcdc" stroke-opacity="0.25" stroke-width="1.2" fill="none"/><path d="M636.3,1269.0 Q644.8,1247.6 667.6,1244.3" stroke="#ff0000" stroke-opacity="0.24" stroke-width="1.2" fill="none"/><path d="M500.1,1177.1 Q499.8,1197.3 487.0,1213.0" stroke="#4b55f5" stroke-opacity="0.32" stroke-width="0.8" fill="none"/><path d="M486.8,1213.1 Q549.8,1162.3 622.9,1197.1" stroke="#30dcdc" stroke-opacity="0.35" stroke-width="1.2" fill="none"/><path d="M487.0,1213.0 Q585.7,1195.1 585.3,1094.7" stroke="#1a9cf0" stroke-opacity="0.34" stroke-width="1.0" fill="none"/><path d="M384.5,1182.0 Q434.0,1180.8 457.0,1137.0" stroke="#30dcdc" stroke-opacity="0.23" stroke-width="2.0" fill="none"/><path d="M530.9,1120.1 Q521.9,1098.8 501.7,1087.5" stroke="#68f5c8" stroke-opacity="0.26" stroke-width="1.0" fill="none"/><path d="M563.3,1128.3 Q520.3,1176.8 529.0,1241.1" stroke="#ff0000" stroke-opacity="0.27" stroke-width="1.0" fill="none"/><path d="M326.8,1225.7 Q406.1,1231.1 444.7,1161.7" stroke="#4b55f5" stroke-opacity="0.35" stroke-width="1.2" fill="none"/><path d="M686.2,1097.0 Q672.1,1168.8 603.3,1193.7" stroke="#68f5c8" stroke-opacity="0.20" stroke-width="2.0" fill="none"/><path d="M617.6,1115.2 Q550.6,1115.6 498.3,1157.5" stroke="#ff0000" stroke-opacity="0.20" stroke-width="1.2" fill="none"/><path d="M530.9,1120.1 Q561.6,1089.9 602.6,1102.9" stroke="#ff5a32" stroke-opacity="0.23" stroke-width="0.8" fill="none"/><path d="M677.2,1023.3 Q632.5,1032.3 613.8,1073.9" stroke="#ff5a32" stroke-opacity="0.18" stroke-width="1.0" fill="none"/><path d="M457.0,1137.0 Q520.3,1190.7 603.3,1193.7" stroke="#30dcdc" stroke-opacity="0.21" stroke-width="1.2" fill="none"/><path d="M472.4,1062.4 Q484.2,1103.7 457.0,1137.0" stroke="#8000ff" stroke-opacity="0.27" stroke-width="1.0" fill="none"/><path d="M326.3,1192.0 Q407.8,1206.1 474.3,1156.8" stroke="#1a9cf0" stroke-opacity="0.30" stroke-width="1.2" fill="none"/><path d="M601.0,1234.1 Q555.1,1208.0 575.9,1159.4" stroke="#ff0000" stroke-opacity="0.35" stroke-width="1.5" fill="none"/><path d="M414.1,1203.1 Q437.9,1229.0 473.1,1227.0" stroke="#a0f5a0" stroke-opacity="0.28" stroke-width="2.0" fill="none"/><path d="M487.8,1203.3 Q459.9,1186.2 437.5,1210.0" stroke="#68f5c8" stroke-opacity="0.33" stroke-width="1.0" fill="none"/><path d="M790.7,1336.6 Q797.2,1304.3 773.1,1281.9" stroke="#ff0000" stroke-opacity="0.23" stroke-width="1.5" fill="none"/><path d="M472.4,1062.4 Q502.5,1071.5 529.1,1054.7" stroke="#a0f5a0" stroke-opacity="0.31" stroke-width="1.0" fill="none"/><path d="M557.9,1212.5 Q563.4,1146.4 520.9,1095.5" stroke="#30dcdc" stroke-opacity="0.34" stroke-width="1.5" fill="none"/><path d="M612.9,1211.0 Q586.2,1266.4 528.2,1286.7" stroke="#fb9f5a" stroke-opacity="0.23" stroke-width="1.0" fill="none"/><path d="M528.6,1172.5 Q529.0,1117.1 572.2,1082.4" stroke="#1a9cf0" stroke-opacity="0.23" stroke-width="1.0" fill="none"/><path d="M414.1,1203.1 Q403.1,1229.2 375.9,1221.3" stroke="#1a9cf0" stroke-opacity="0.36" stroke-width="1.0" fill="none"/><path d="M395.9,1281.6 Q463.5,1247.0 528.2,1286.7" stroke="#1a9cf0" stroke-opacity="0.24" stroke-width="0.8" fill="none"/><path d="M850.4,1191.9 Q777.9,1237.7 711.6,1183.3" stroke="#68f5c8" stroke-opacity="0.23" stroke-width="1.0" fill="none"/><path d="M294.1,1075.2 Q364.1,1093.9 402.8,1155.2" stroke="#a0f5a0" stroke-opacity="0.26" stroke-width="1.0" fill="none"/><path d="M501.7,1231.8 Q590.4,1186.2 559.9,1091.2" stroke="#a0f5a0" stroke-opacity="0.25" stroke-width="1.0" fill="none"/><path d="M235.7,1080.3 Q275.9,1133.4 339.5,1113.7" stroke="#68f5c8" stroke-opacity="0.23" stroke-width="1.2" fill="none"/><path d="M633.8,1218.2 Q568.5,1143.8 478.6,1185.3" stroke="#30dcdc" stroke-opacity="0.24" stroke-width="1.5" fill="none"/><path d="M520.2,1152.5 Q465.2,1170.6 413.9,1143.7" stroke="#1a9cf0" stroke-opacity="0.20" stroke-width="1.5" fill="none"/><path d="M615.6,1226.4 Q581.5,1155.4 635.7,1098.2" stroke="#4b55f5" stroke-opacity="0.15" stroke-width="1.5" fill="none"/><path d="M408.2,1226.4 Q379.4,1180.2 326.3,1192.0" stroke="#30dcdc" stroke-opacity="0.25" stroke-width="1.2" fill="none"/><path d="M498.3,1157.5 Q516.9,1071.0 605.3,1073.9" stroke="#1a9cf0" stroke-opacity="0.29" stroke-width="1.5" fill="none"/><path d="M670.5,1285.4 Q677.4,1206.9 603.3,1180.2" stroke="#ff5a32" stroke-opacity="0.16" stroke-width="1.0" fill="none"/><path d="M731.6,1171.4 Q718.6,1217.2 755.7,1246.9" stroke="#68f5c8" stroke-opacity="0.14" stroke-width="1.0" fill="none"/><path d="M794.8,1020.8 Q732.4,1000.5 682.0,1042.6" stroke="#ff0000" stroke-opacity="0.14" stroke-width="0.8" fill="none"/><path d="M487.0,1213.0 Q445.1,1285.7 493.9,1354.0" stroke="#ff5a32" stroke-opacity="0.32" stroke-width="1.0" fill="none"/><path d="M378.4,1040.9 Q396.6,1056.3 395.7,1080.1" stroke="#ff0000" stroke-opacity="0.24" stroke-width="0.8" fill="none"/><path d="M269.0,1184.6 Q305.7,1233.9 367.1,1235.4" stroke="#1a9cf0" stroke-opacity="0.23" stroke-width="1.0" fill="none"/><path d="M500.1,1177.1 Q577.5,1209.6 586.3,1293.1" stroke="#ff0000" stroke-opacity="0.22" stroke-width="1.0" fill="none"/><path d="M663.1,1165.5 Q696.3,1163.2 702.7,1130.6" stroke="#68f5c8" stroke-opacity="0.24" stroke-width="1.5" fill="none"/><path d="M354.8,1275.5 Q319.4,1253.4 314.7,1211.9" stroke="#4b55f5" stroke-opacity="0.23" stroke-width="2.0" fill="none"/><path d="M663.1,1165.5 Q721.1,1215.9 694.1,1287.8" stroke="#68f5c8" stroke-opacity="0.16" stroke-width="1.0" fill="none"/><path d="M749.6,1121.6 Q717.8,1063.8 651.8,1064.4" stroke="#ff5a32" stroke-opacity="0.22" stroke-width="2.0" fill="none"/><path d="M614.8,1241.9 Q554.8,1225.3 497.7,1250.0" stroke="#a0f5a0" stroke-opacity="0.26" stroke-width="1.0" fill="none"/><path d="M699.3,1145.5 Q663.7,1166.9 622.3,1164.8" stroke="#ff5a32" stroke-opacity="0.18" stroke-width="0.8" fill="none"/><path d="M607.2,1116.3 Q554.8,1150.2 557.9,1212.5" stroke="#a0f5a0" stroke-opacity="0.32" stroke-width="1.2" fill="none"/><path d="M487.0,1213.0 Q479.9,1175.7 444.7,1161.7" stroke="#1a9cf0" stroke-opacity="0.21" stroke-width="1.2" fill="none"/><path d="M674.8,1233.1 Q713.4,1223.1 711.6,1183.3" stroke="#fb9f5a" stroke-opacity="0.15" stroke-width="1.2" fill="none"/><path d="M487.0,1213.0 Q550.7,1256.9 612.9,1211.0" stroke="#68f5c8" stroke-opacity="0.24" stroke-width="1.2" fill="none"/><path d="M412.8,1094.4 Q386.5,1170.7 447.2,1223.9" stroke="#8000ff" stroke-opacity="0.29" stroke-width="2.0" fill="none"/><path d="M633.8,1218.2 Q627.8,1251.1 648.9,1277.0" stroke="#a0f5a0" stroke-opacity="0.18" stroke-width="1.5" fill="none"/><path d="M520.2,1152.5 Q588.1,1177.7 572.4,1248.5" stroke="#a0f5a0" stroke-opacity="0.25" stroke-width="1.2" fill="none"/><path d="M408.2,1226.4 Q470.6,1205.8 527.8,1238.0" stroke="#4b55f5" stroke-opacity="0.32" stroke-width="1.2" fill="none"/><path d="M783.4,1393.9 Q769.2,1313.8 687.9,1315.5" stroke="#8000ff" stroke-opacity="0.22" stroke-width="0.8" fill="none"/><path d="M716.5,1211.7 Q686.5,1129.1 602.6,1102.9" stroke="#a0f5a0" stroke-opacity="0.23" stroke-width="1.0" fill="none"/><path d="M748.0,1241.1 Q704.3,1195.1 646.0,1220.2" stroke="#ff0000" stroke-opacity="0.14" stroke-width="2.0" fill="none"/><path d="M775.8,1218.2 Q725.7,1238.8 698.7,1285.8" stroke="#a0f5a0" stroke-opacity="0.24" stroke-width="0.8" fill="none"/><path d="M235.7,1080.3 Q324.0,1042.8 378.5,1121.7" stroke="#8000ff" stroke-opacity="0.22" stroke-width="1.0" fill="none"/><path d="M549.9,1134.0 Q511.5,1125.5 501.7,1087.5" stroke="#ff5a32" stroke-opacity="0.31" stroke-width="2.0" fill="none"/><path d="M550.5,1040.8 Q570.5,1087.5 549.9,1134.0" stroke="#30dcdc" stroke-opacity="0.21" stroke-width="2.0" fill="none"/><path d="M312.4,1187.7 Q310.6,1219.2 287.8,1241.1" stroke="#68f5c8" stroke-opacity="0.32" stroke-width="1.5" fill="none"/><path d="M646.0,1239.2 Q628.4,1167.7 676.9,1112.4" stroke="#fb9f5a" stroke-opacity="0.21" stroke-width="1.2" fill="none"/><path d="M731.6,1171.4 Q706.7,1106.6 639.2,1090.5" stroke="#1a9cf0" stroke-opacity="0.20" stroke-width="1.0" fill="none"/><path d="M472.4,1062.4 Q393.5,1111.0 406.2,1202.8" stroke="#4b55f5" stroke-opacity="0.25" stroke-width="2.0" fill="none"/><path d="M406.2,1202.8 Q432.9,1233.5 473.1,1227.0" stroke="#68f5c8" stroke-opacity="0.22" stroke-width="1.0" fill="none"/><path d="M486.8,1213.1 Q447.2,1217.2 423.3,1185.4" stroke="#ff5a32" stroke-opacity="0.31" stroke-width="1.0" fill="none"/><path d="M713.1,1025.4 Q732.7,1065.7 702.3,1098.5" stroke="#d3d784" stroke-opacity="0.15" stroke-width="1.0" fill="none"/><path d="M615.5,1286.2 Q610.2,1200.2 528.6,1172.5" stroke="#30dcdc" stroke-opacity="0.29" stroke-width="2.0" fill="none"/><path d="M446.2,1433.0 Q483.9,1446.8 516.5,1423.3" stroke="#8000ff" stroke-opacity="0.23" stroke-width="1.0" fill="none"/><path d="M602.6,1102.9 Q526.7,1123.2 478.6,1185.3" stroke="#4b55f5" stroke-opacity="0.26" stroke-width="0.8" fill="none"/><path d="M414.8,1046.8 Q380.8,1123.2 406.2,1202.8" stroke="#8000ff" stroke-opacity="0.20" stroke-width="0.8" fill="none"/><path d="M471.3,1179.1 Q451.2,1231.0 491.2,1269.6" stroke="#ff5a32" stroke-opacity="0.30" stroke-width="2.0" fill="none"/><path d="M787.2,1315.4 Q710.7,1280.9 642.8,1330.1" stroke="#ff0000" stroke-opacity="0.25" stroke-width="0.8" fill="none"/><path d="M683.6,1106.2 Q616.6,1102.7 566.0,1146.8" stroke="#30dcdc" stroke-opacity="0.15" stroke-width="2.0" fill="none"/><path d="M572.4,1248.5 Q603.1,1255.3 615.6,1226.4" stroke="#ff5a32" stroke-opacity="0.32" stroke-width="2.0" fill="none"/><path d="M457.0,1137.0 Q498.5,1148.6 530.9,1120.1" stroke="#ff0000" stroke-opacity="0.30" stroke-width="1.5" fill="none"/><path d="M528.6,1172.5 Q518.5,1112.0 572.2,1082.4" stroke="#30dcdc" stroke-opacity="0.32" stroke-width="2.0" fill="none"/><path d="M554.0,1157.1 Q576.7,1125.9 559.9,1091.2" stroke="#ff0000" stroke-opacity="0.33" stroke-width="1.0" fill="none"/><path d="M501.7,1087.5 Q585.2,1087.5 646.0,1144.7" stroke="#a0f5a0" stroke-opacity="0.22" stroke-width="2.0" fill="none"/><path d="M663.4,1110.4 Q617.3,1141.3 563.3,1128.3" stroke="#a0f5a0" stroke-opacity="0.14" stroke-width="0.8" fill="none"/><path d="M626.4,1375.4 Q689.0,1299.6 633.8,1218.2" stroke="#1a9cf0" stroke-opacity="0.24" stroke-width="0.8" fill="none"/><path d="M501.7,1087.5 Q440.0,1082.6 395.9,1126.0" stroke="#a0f5a0" stroke-opacity="0.34" stroke-width="1.5" fill="none"/><path d="M458.7,1310.9 Q547.5,1364.8 615.5,1286.2" stroke="#1a9cf0" stroke-opacity="0.34" stroke-width="1.5" fill="none"/><path d="M413.9,1143.7 Q424.3,1206.7 479.2,1239.3" stroke="#1a9cf0" stroke-opacity="0.29" stroke-width="1.0" fill="none"/><path d="M596.3,1298.5 Q653.7,1259.4 622.9,1197.1" stroke="#1a9cf0" stroke-opacity="0.24" stroke-width="2.0" fill="none"/><path d="M500.0,1318.1 Q475.3,1237.6 528.6,1172.5" stroke="#68f5c8" stroke-opacity="0.24" stroke-width="1.0" fill="none"/><path d="M622.3,1164.8 Q656.2,1132.8 702.7,1130.6" stroke="#68f5c8" stroke-opacity="0.16" stroke-width="1.5" fill="none"/><path d="M478.0,1185.4 Q478.4,1116.4 413.2,1094.0" stroke="#8000ff" stroke-opacity="0.32" stroke-width="2.0" fill="none"/><path d="M391.4,1195.9 Q393.1,1116.8 465.3,1084.2" stroke="#30dcdc" stroke-opacity="0.30" stroke-width="0.8" fill="none"/><path d="M670.5,1285.4 Q633.4,1252.3 645.2,1204.0" stroke="#1a9cf0" stroke-opacity="0.23" stroke-width="1.2" fill="none"/><path d="M395.6,1350.2 Q375.4,1273.1 413.9,1203.3" stroke="#8000ff" stroke-opacity="0.31" stroke-width="1.0" fill="none"/><path d="M412.2,1304.7 Q396.4,1253.6 414.1,1203.1" stroke="#4b55f5" stroke-opacity="0.30" stroke-width="0.8" fill="none"/><path d="M702.0,1170.6 Q646.5,1164.1 640.3,1108.6" stroke="#ff5a32" stroke-opacity="0.18" stroke-width="1.0" fill="none"/><path d="M739.0,1316.1 Q655.3,1353.5 586.3,1293.1" stroke="#a0f5a0" stroke-opacity="0.18" stroke-width="1.0" fill="none"/><path d="M501.7,1087.5 Q414.8,1131.9 446.7,1224.1" stroke="#8000ff" stroke-opacity="0.28" stroke-width="2.0" fill="none"/><path d="M698.7,1285.8 Q672.0,1273.4 667.6,1244.3" stroke="#30dcdc" stroke-opacity="0.23" stroke-width="1.0" fill="none"/><path d="M395.9,1281.6 Q413.9,1256.5 407.9,1226.2" stroke="#30dcdc" stroke-opacity="0.21" stroke-width="1.5" fill="none"/><path d="M466.0,1093.2 Q399.8,1160.9 460.0,1233.9" stroke="#30dcdc" stroke-opacity="0.26" stroke-width="1.5" fill="none"/><path d="M644.6,1049.0 Q599.1,1101.4 537.1,1070.4" stroke="#30dcdc" stroke-opacity="0.33" stroke-width="1.2" fill="none"/><path d="M529.1,1054.7 Q441.9,1051.9 395.9,1126.0" stroke="#30dcdc" stroke-opacity="0.23" stroke-width="1.0" fill="none"/><path d="M500.1,1177.1 Q570.5,1202.4 605.5,1268.5" stroke="#1a9cf0" stroke-opacity="0.27" stroke-width="2.0" fill="none"/><path d="M520.9,1095.5 Q583.2,1135.8 652.9,1110.4" stroke="#30dcdc" stroke-opacity="0.34" stroke-width="1.0" fill="none"/><path d="M408.2,1226.4 Q431.9,1188.8 402.8,1155.2" stroke="#1a9cf0" stroke-opacity="0.28" stroke-width="1.2" fill="none"/><path d="M687.6,1320.1 Q658.1,1284.8 619.1,1309.3" stroke="#68f5c8" stroke-opacity="0.16" stroke-width="2.0" fill="none"/><path d="M460.0,1233.9 Q520.6,1174.5 603.3,1193.7" stroke="#ff0000" stroke-opacity="0.26" stroke-width="1.5" fill="none"/><path d="M474.3,1156.8 Q501.8,1078.8 584.4,1083.1" stroke="#a0f5a0" stroke-opacity="0.27" stroke-width="0.8" fill="none"/><path d="M395.7,1080.1 Q462.3,1143.7 437.0,1232.2" stroke="#8000ff" stroke-opacity="0.29" stroke-width="0.8" fill="none"/><path d="M362.8,1201.1 Q417.2,1172.6 432.4,1113.2" stroke="#1a9cf0" stroke-opacity="0.27" stroke-width="1.5" fill="none"/><path d="M565.6,1164.0 Q498.7,1186.8 436.2,1153.7" stroke="#1a9cf0" stroke-opacity="0.31" stroke-width="1.0" fill="none"/><path d="M557.9,1212.5 Q513.7,1219.7 500.1,1177.1" stroke="#1a9cf0" stroke-opacity="0.24" stroke-width="1.0" fill="none"/><path d="M559.9,1091.2 Q489.2,1105.0 444.7,1161.7" stroke="#8000ff" stroke-opacity="0.31" stroke-width="1.0" fill="none"/><path d="M487.0,1213.0 Q444.1,1205.3 444.7,1161.7" stroke="#30dcdc" stroke-opacity="0.34" stroke-width="1.0" fill="none"/><path d="M498.3,1157.5 Q454.8,1211.2 491.4,1269.8" stroke="#ff5a32" stroke-opacity="0.29" stroke-width="0.8" fill="none"/><path d="M601.0,1234.1 Q587.2,1171.1 646.0,1144.7" stroke="#68f5c8" stroke-opacity="0.19" stroke-width="0.8" fill="none"/><path d="M457.0,1137.0 Q504.5,1140.2 520.9,1095.5" stroke="#30dcdc" stroke-opacity="0.21" stroke-width="0.8" fill="none"/><path d="M790.7,1336.6 Q768.6,1268.7 790.7,1200.8" stroke="#30dcdc" stroke-opacity="0.17" stroke-width="1.0" fill="none"/><path d="M491.4,1269.8 Q425.2,1265.7 375.9,1221.3" stroke="#30dcdc" stroke-opacity="0.30" stroke-width="0.8" fill="none"/><path d="M444.7,1161.7 Q443.4,1205.9 487.0,1213.0" stroke="#68f5c8" stroke-opacity="0.26" stroke-width="1.0" fill="none"/><path d="M444.7,1161.7 Q466.9,1189.1 500.1,1177.1" stroke="#68f5c8" stroke-opacity="0.31" stroke-width="1.2" fill="none"/><path d="M339.2,1176.7 Q394.2,1197.9 427.7,1149.4" stroke="#8000ff" stroke-opacity="0.23" stroke-width="1.0" fill="none"/><path d="M565.6,1164.0 Q489.4,1189.3 491.2,1269.6" stroke="#4b55f5" stroke-opacity="0.22" stroke-width="2.0" fill="none"/><path d="M749.6,982.8 Q752.1,1069.4 676.9,1112.4" stroke="#ff5a32" stroke-opacity="0.16" stroke-width="1.0" fill="none"/><path d="M694.1,1287.8 Q642.4,1312.0 605.5,1268.5" stroke="#1a9cf0" stroke-opacity="0.16" stroke-width="1.0" fill="none"/><path d="M557.9,1212.5 Q484.5,1169.2 406.2,1202.8" stroke="#68f5c8" stroke-opacity="0.21" stroke-width="1.0" fill="none"/><path d="M375.9,1221.3 Q406.3,1144.6 386.2,1064.6" stroke="#8000ff" stroke-opacity="0.27" stroke-width="1.2" fill="none"/><path d="M701.6,1229.5 Q664.2,1208.4 663.1,1165.5" stroke="#d3d784" stroke-opacity="0.15" stroke-width="1.0" fill="none"/><path d="M599.2,1149.4 Q597.2,1193.2 557.9,1212.5" stroke="#68f5c8" stroke-opacity="0.30" stroke-width="1.2" fill="none"/><path d="M395.7,1080.1 Q441.3,1158.5 375.9,1221.3" stroke="#4b55f5" stroke-opacity="0.21" stroke-width="1.0" fill="none"/><path d="M603.3,1193.7 Q621.3,1230.6 605.5,1268.5" stroke="#30dcdc" stroke-opacity="0.16" stroke-width="1.5" fill="none"/><path d="M457.0,1137.0 Q502.3,1163.0 487.0,1213.0" stroke="#1a9cf0" stroke-opacity="0.22" stroke-width="1.0" fill="none"/><path d="M674.5,1154.5 Q699.7,1201.6 667.6,1244.3" stroke="#fb9f5a" stroke-opacity="0.24" stroke-width="1.5" fill="none"/><path d="M559.9,1091.2 Q627.9,1103.5 680.8,1059.0" stroke="#30dcdc" stroke-opacity="0.16" stroke-width="1.0" fill="none"/><path d="M695.7,1049.7 Q672.5,1031.6 668.0,1002.5" stroke="#ff5a32" stroke-opacity="0.21" stroke-width="1.2" fill="none"/><path d="M604.8,1330.9 Q567.2,1264.8 491.4,1269.8" stroke="#30dcdc" stroke-opacity="0.24" stroke-width="1.0" fill="none"/><path d="M722.7,1270.4 Q700.5,1178.0 780.9,1127.5" stroke="#ff5a32" stroke-opacity="0.19" stroke-width="2.0" fill="none"/><path d="M444.7,1161.7 Q507.7,1187.3 549.9,1134.0" stroke="#1a9cf0" stroke-opacity="0.23" stroke-width="1.5" fill="none"/><path d="M702.3,1098.5 Q672.6,1134.4 702.0,1170.6" stroke="#d3d784" stroke-opacity="0.15" stroke-width="1.2" fill="none"/><path d="M339.5,1113.7 Q428.2,1112.3 478.6,1185.3" stroke="#8000ff" stroke-opacity="0.24" stroke-width="2.0" fill="none"/><path d="M644.6,1049.0 Q574.2,1065.8 549.9,1134.0" stroke="#1a9cf0" stroke-opacity="0.24" stroke-width="1.5" fill="none"/><path d="M690.5,1122.4 Q690.8,1100.1 676.5,1083.1" stroke="#fb9f5a" stroke-opacity="0.21" stroke-width="2.0" fill="none"/><path d="M612.9,1211.0 Q568.3,1160.2 585.3,1094.7" stroke="#1a9cf0" stroke-opacity="0.33" stroke-width="0.8" fill="none"/><path d="M726.4,1300.1 Q733.7,1231.7 702.0,1170.6" stroke="#ff0000" stroke-opacity="0.26" stroke-width="0.8" fill="none"/><path d="M702.7,1130.6 Q627.3,1175.0 549.9,1134.0" stroke="#fb9f5a" stroke-opacity="0.17" stroke-width="1.2" fill="none"/><path d="M438.0,1263.9 Q416.4,1250.3 407.9,1226.2" stroke="#1a9cf0" stroke-opacity="0.27" stroke-width="2.0" fill="none"/><path d="M402.8,1155.2 Q417.1,1160.1 427.7,1149.4" stroke="#1a9cf0" stroke-opacity="0.25" stroke-width="1.5" fill="none"/><path d="M471.3,1179.1 Q405.9,1142.7 354.9,1197.5" stroke="#8000ff" stroke-opacity="0.21" stroke-width="1.5" fill="none"/><path d="M727.8,1136.6 Q652.0,1177.7 665.6,1262.8" stroke="#30dcdc" stroke-opacity="0.23" stroke-width="0.8" fill="none"/><path d="M486.8,1213.1 Q487.7,1130.8 559.9,1091.2" stroke="#30dcdc" stroke-opacity="0.26" stroke-width="1.0" fill="none"/><path d="M386.2,1064.6 Q475.8,1024.8 541.0,1098.1" stroke="#ff0000" stroke-opacity="0.28" stroke-width="1.0" fill="none"/><path d="M670.5,1292.7 Q731.5,1235.7 715.7,1153.7" stroke="#ff0000" stroke-opacity="0.17" stroke-width="1.5" fill="none"/><path d="M568.9,1310.1 Q632.9,1323.1 663.3,1265.4" stroke="#ff5a32" stroke-opacity="0.14" stroke-width="1.0" fill="none"/><path d="M468.9,1169.7 Q431.2,1207.0 384.5,1182.0" stroke="#ff0000" stroke-opacity="0.31" stroke-width="1.2" fill="none"/><path d="M640.9,1273.6 Q665.0,1240.2 645.2,1204.0" stroke="#ff5a32" stroke-opacity="0.25" stroke-width="1.0" fill="none"/><path d="M549.9,1134.0 Q485.5,1208.1 402.8,1155.2" stroke="#1a9cf0" stroke-opacity="0.24" stroke-width="0.8" fill="none"/><path d="M395.7,1080.1 Q469.6,1105.4 529.1,1054.7" stroke="#ff5a32" stroke-opacity="0.25" stroke-width="2.0" fill="none"/><path d="M699.3,1145.5 Q640.5,1212.9 565.6,1164.0" stroke="#68f5c8" stroke-opacity="0.19" stroke-width="1.0" fill="none"/><path d="M780.7,1267.5 Q776.0,1239.5 754.7,1220.7" stroke="#ff5a32" stroke-opacity="0.25" stroke-width="1.5" fill="none"/><path d="M676.5,1083.1 Q688.8,1127.5 646.0,1144.7" stroke="#30dcdc" stroke-opacity="0.25" stroke-width="1.0" fill="none"/><path d="M596.3,1298.5 Q551.5,1297.3 529.6,1258.2" stroke="#a0f5a0" stroke-opacity="0.27" stroke-width="2.0" fill="none"/><path d="M611.4,1315.5 Q694.3,1303.9 755.7,1246.9" stroke="#fb9f5a" stroke-opacity="0.15" stroke-width="1.2" fill="none"/><path d="M421.0,1331.7 Q444.6,1275.4 408.2,1226.4" stroke="#1a9cf0" stroke-opacity="0.28" stroke-width="1.0" fill="none"/><path d="M700.7,1351.4 Q781.3,1293.2 745.9,1200.2" stroke="#ff5a32" stroke-opacity="0.25" stroke-width="2.0" fill="none"/><path d="M455.7,1332.9 Q409.9,1289.3 407.9,1226.2" stroke="#ff5a32" stroke-opacity="0.34" stroke-width="0.8" fill="none"/><path d="M354.9,1197.5 Q408.2,1185.8 436.7,1232.4" stroke="#68f5c8" stroke-opacity="0.29" stroke-width="1.2" fill="none"/><path d="M602.6,1102.9 Q541.9,1130.9 485.5,1095.0" stroke="#ff0000" stroke-opacity="0.33" stroke-width="1.2" fill="none"/><path d="M727.8,1136.6 Q719.2,1213.1 646.0,1237.2" stroke="#fb9f5a" stroke-opacity="0.16" stroke-width="1.0" fill="none"/><path d="M436.2,1153.7 Q417.9,1181.7 384.5,1182.0" stroke="#68f5c8" stroke-opacity="0.31" stroke-width="1.0" fill="none"/><path d="M701.6,1229.5 Q752.8,1139.0 671.1,1074.7" stroke="#68f5c8" stroke-opacity="0.23" stroke-width="1.2" fill="none"/><path d="M391.4,1195.9 Q407.9,1211.3 428.8,1202.8" stroke="#ff0000" stroke-opacity="0.29" stroke-width="0.8" fill="none"/><path d="M617.6,1115.2 Q591.5,1152.5 549.9,1134.0" stroke="#ff5a32" stroke-opacity="0.27" stroke-width="1.5" fill="none"/><path d="M591.3,1364.6 Q575.7,1313.2 605.5,1268.5" stroke="#1a9cf0" stroke-opacity="0.22" stroke-width="1.0" fill="none"/><path d="M364.5,1259.3 Q413.0,1218.0 402.8,1155.2" stroke="#8000ff" stroke-opacity="0.29" stroke-width="1.2" fill="none"/><path d="M575.9,1159.4 Q583.7,1103.0 639.2,1090.5" stroke="#ff5a32" stroke-opacity="0.17" stroke-width="2.0" fill="none"/><path d="M600.9,1234.6 Q603.7,1277.8 563.2,1293.1" stroke="#30dcdc" stroke-opacity="0.35" stroke-width="2.0" fill="none"/><path d="M607.2,1116.3 Q554.5,1173.1 478.0,1185.4" stroke="#1a9cf0" stroke-opacity="0.35" stroke-width="2.0" fill="none"/><path d="M619.1,1309.3 Q607.4,1344.3 626.3,1376.0" stroke="#1a9cf0" stroke-opacity="0.25" stroke-width="0.8" fill="none"/><path d="M410.5,1088.2 Q450.9,1098.0 472.4,1062.4" stroke="#ff5a32" stroke-opacity="0.28" stroke-width="1.0" fill="none"/><path d="M600.9,1234.6 Q581.7,1284.6 528.2,1286.7" stroke="#1a9cf0" stroke-opacity="0.36" stroke-width="1.2" fill="none"/><path d="M599.2,1149.4 Q665.4,1115.6 729.8,1152.8" stroke="#4b55f5" stroke-opacity="0.16" stroke-width="1.2" fill="none"/><path d="M530.9,1120.1 Q610.9,1149.8 600.9,1234.6" stroke="#fb9f5a" stroke-opacity="0.21" stroke-width="2.0" fill="none"/><path d="M550.5,1040.8 Q538.9,997.9 557.4,957.4" stroke="#ff0000" stroke-opacity="0.21" stroke-width="1.0" fill="none"/><path d="M294.1,1075.2 Q366.0,1088.4 413.9,1143.7" stroke="#1a9cf0" stroke-opacity="0.30" stroke-width="1.2" fill="none"/><path d="M436.7,1232.4 Q485.1,1164.7 465.5,1083.9" stroke="#30dcdc" stroke-opacity="0.21" stroke-width="1.2" fill="none"/><path d="M668.0,1378.5 Q643.5,1296.7 558.5,1305.0" stroke="#4b55f5" stroke-opacity="0.18" stroke-width="1.2" fill="none"/><path d="M362.8,1201.1 Q394.3,1161.7 444.7,1161.7" stroke="#8000ff" stroke-opacity="0.35" stroke-width="0.8" fill="none"/><path d="M585.2,1299.3 Q532.3,1290.7 497.2,1250.1" stroke="#1a9cf0" stroke-opacity="0.29" stroke-width="1.0" fill="none"/><path d="M346.3,1204.6 Q402.1,1185.5 446.7,1224.1" stroke="#8000ff" stroke-opacity="0.35" stroke-width="1.0" fill="none"/><path d="M474.3,1156.8 Q444.8,1191.4 473.1,1227.0" stroke="#ff5a32" stroke-opacity="0.35" stroke-width="1.5" fill="none"/><path d="M674.8,1233.1 Q624.4,1177.2 557.9,1212.5" stroke="#a0f5a0" stroke-opacity="0.18" stroke-width="0.8" fill="none"/><path d="M670.5,1292.7 Q654.3,1226.1 603.3,1180.2" stroke="#30dcdc" stroke-opacity="0.24" stroke-width="1.2" fill="none"/><path d="M554.0,1157.1 Q630.8,1169.0 674.8,1233.1" stroke="#ff0000" stroke-opacity="0.19" stroke-width="2.0" fill="none"/><path d="M668.0,1378.5 Q686.8,1307.2 758.4,1289.3" stroke="#1a9cf0" stroke-opacity="0.26" stroke-width="1.2" fill="none"/><path d="M446.7,1137.8 Q397.3,1197.7 438.0,1263.9" stroke="#ff5a32" stroke-opacity="0.28" stroke-width="2.0" fill="none"/><path d="M457.7,1263.2 Q406.4,1221.3 402.8,1155.2" stroke="#4b55f5" stroke-opacity="0.24" stroke-width="1.5" fill="none"/><path d="M622.3,1164.8 Q573.4,1227.4 497.2,1250.1" stroke="#1a9cf0" stroke-opacity="0.35" stroke-width="1.2" fill="none"/><path d="M640.9,1273.6 Q625.4,1255.5 605.5,1268.5" stroke="#68f5c8" stroke-opacity="0.22" stroke-width="1.5" fill="none"/><path d="M427.7,1149.4 Q438.1,1195.3 472.9,1227.1" stroke="#30dcdc" stroke-opacity="0.28" stroke-width="1.0" fill="none"/><path d="M460.0,1233.9 Q480.8,1304.2 542.4,1344.0" stroke="#8000ff" stroke-opacity="0.26" stroke-width="1.0" fill="none"/><path d="M500.0,1318.1 Q485.8,1271.8 438.0,1263.9" stroke="#1a9cf0" stroke-opacity="0.22" stroke-width="0.8" fill="none"/><path d="M700.9,1377.0 Q725.5,1287.3 646.0,1239.2" stroke="#d3d784" stroke-opacity="0.21" stroke-width="0.8" fill="none"/><path d="M389.7,1213.0 Q428.5,1146.9 376.5,1090.7" stroke="#1a9cf0" stroke-opacity="0.22" stroke-width="2.0" fill="none"/><path d="M572.4,1248.5 Q602.1,1295.3 575.5,1344.0" stroke="#a0f5a0" stroke-opacity="0.20" stroke-width="1.0" fill="none"/><path d="M715.7,1153.7 Q684.2,1230.8 601.0,1234.1" stroke="#ff0000" stroke-opacity="0.18" stroke-width="1.5" fill="none"/><path d="M716.5,1211.7 Q668.6,1272.9 600.9,1234.6" stroke="#30dcdc" stroke-opacity="0.22" stroke-width="2.0" fill="none"/><path d="M785.9,1263.0 Q698.5,1236.8 699.3,1145.5" stroke="#ff0000" stroke-opacity="0.16" stroke-width="1.2" fill="none"/><path d="M780.7,1267.5 Q774.3,1300.0 749.5,1321.9" stroke="#a0f5a0" stroke-opacity="0.15" stroke-width="0.8" fill="none"/><path d="M460.0,1233.9 Q458.6,1154.0 530.9,1120.1" stroke="#8000ff" stroke-opacity="0.32" stroke-width="0.8" fill="none"/><path d="M537.1,1070.4 Q533.6,1128.3 589.5,1143.7" stroke="#30dcdc" stroke-opacity="0.33" stroke-width="1.2" fill="none"/><path d="M680.0,1180.2 Q608.6,1150.6 572.2,1082.4" stroke="#68f5c8" stroke-opacity="0.26" stroke-width="1.0" fill="none"/><path d="M457.0,1137.0 Q484.1,1184.7 460.0,1233.9" stroke="#a0f5a0" stroke-opacity="0.33" stroke-width="1.5" fill="none"/><path d="M605.3,1073.9 Q638.8,1128.4 702.7,1130.6" stroke="#1a9cf0" stroke-opacity="0.26" stroke-width="1.0" fill="none"/><path d="M680.0,1180.2 Q635.3,1205.8 637.4,1257.3" stroke="#30dcdc" stroke-opacity="0.18" stroke-width="1.0" fill="none"/><path d="M674.9,1154.5 Q639.8,1188.6 646.0,1237.2" stroke="#68f5c8" stroke-opacity="0.24" stroke-width="0.8" fill="none"/><path d="M493.9,1354.0 Q521.6,1325.7 528.2,1286.7" stroke="#68f5c8" stroke-opacity="0.24" stroke-width="1.5" fill="none"/><path d="M565.6,1164.0 Q492.2,1167.9 459.8,1233.8" stroke="#1a9cf0" stroke-opacity="0.30" stroke-width="2.0" fill="none"/><path d="M447.2,1223.9 Q369.5,1199.5 334.9,1125.8" stroke="#30dcdc" stroke-opacity="0.34" stroke-width="1.0" fill="none"/><path d="M665.6,1262.8 Q663.7,1244.4 646.0,1239.2" stroke="#1a9cf0" stroke-opacity="0.17" stroke-width="1.0" fill="none"/><path d="M683.6,1106.2 Q642.1,1104.2 613.8,1073.9" stroke="#30dcdc" stroke-opacity="0.16" stroke-width="1.2" fill="none"/><path d="M487.0,1213.0 Q487.6,1247.0 457.7,1263.2" stroke="#1a9cf0" stroke-opacity="0.30" stroke-width="1.2" fill="none"/><path d="M500.1,1177.1 Q516.1,1185.6 528.6,1172.5" stroke="#8000ff" stroke-opacity="0.20" stroke-width="1.2" fill="none"/><path d="M437.5,1210.0 Q538.6,1216.6 543.6,1317.8" stroke="#8000ff" stroke-opacity="0.24" stroke-width="1.5" fill="none"/><path d="M428.8,1202.8 Q476.4,1189.4 501.7,1231.8" stroke="#68f5c8" stroke-opacity="0.32" stroke-width="1.0" fill="none"/><path d="M599.2,1149.4 Q593.1,1172.3 603.3,1193.7" stroke="#68f5c8" stroke-opacity="0.15" stroke-width="1.5" fill="none"/><path d="M787.2,1315.4 Q712.0,1259.9 744.4,1172.2" stroke="#68f5c8" stroke-opacity="0.15" stroke-width="1.2" fill="none"/><path d="M485.5,1095.0 Q498.8,1170.8 428.8,1202.8" stroke="#4b55f5" stroke-opacity="0.27" stroke-width="1.0" fill="none"/><path d="M520.2,1152.5 Q582.9,1146.1 584.4,1083.1" stroke="#d3d784" stroke-opacity="0.29" stroke-width="1.5" fill="none"/><path d="M500.0,1318.1 Q474.2,1274.4 501.7,1231.8" stroke="#1a9cf0" stroke-opacity="0.23" stroke-width="1.0" fill="none"/><path d="M537.1,1070.4 Q576.1,1099.3 566.0,1146.8" stroke="#d3d784" stroke-opacity="0.31" stroke-width="2.0" fill="none"/><path d="M438.0,1263.9 Q500.4,1287.7 514.7,1352.9" stroke="#68f5c8" stroke-opacity="0.28" stroke-width="2.0" fill="none"/><path d="M471.3,1179.1 Q514.7,1143.2 485.5,1095.0" stroke="#1a9cf0" stroke-opacity="0.25" stroke-width="0.8" fill="none"/><path d="M736.7,1101.2 Q745.5,1122.2 727.8,1136.6" stroke="#ff5a32" stroke-opacity="0.19" stroke-width="1.0" fill="none"/><path d="M528.6,1172.5 Q583.8,1166.6 607.2,1116.3" stroke="#d3d784" stroke-opacity="0.24" stroke-width="1.0" fill="none"/><path d="M478.0,1185.4 Q445.6,1147.1 463.3,1100.1" stroke="#30dcdc" stroke-opacity="0.35" stroke-width="1.5" fill="none"/><path d="M312.4,1187.7 Q379.6,1155.7 410.6,1088.1" stroke="#1a9cf0" stroke-opacity="0.21" stroke-width="1.5" fill="none"/><path d="M726.2,1129.0 Q701.9,1170.8 657.2,1152.5" stroke="#ff5a32" stroke-opacity="0.19" stroke-width="1.5" fill="none"/><path d="M427.1,1081.0 Q445.3,1095.5 465.5,1083.9" stroke="#4b55f5" stroke-opacity="0.25" stroke-width="0.8" fill="none"/><path d="M563.2,1293.1 Q524.7,1219.2 566.0,1146.8" stroke="#ff0000" stroke-opacity="0.30" stroke-width="1.2" fill="none"/><path d="M432.4,1113.2 Q412.4,1082.3 376.5,1090.7" stroke="#30dcdc" stroke-opacity="0.21" stroke-width="2.0" fill="none"/><path d="M701.6,1229.5 Q702.0,1300.3 768.6,1324.3" stroke="#d3d784" stroke-opacity="0.18" stroke-width="1.0" fill="none"/><path d="M376.5,1090.7 Q394.6,1104.4 410.5,1088.2" stroke="#30dcdc" stroke-opacity="0.27" stroke-width="1.5" fill="none"/><path d="M395.9,1080.1 Q393.9,1166.3 478.0,1185.4" stroke="#8000ff" stroke-opacity="0.33" stroke-width="2.0" fill="none"/><path d="M613.8,1073.9 Q549.0,1078.1 528.9,1016.4" stroke="#ff0000" stroke-opacity="0.25" stroke-width="1.0" fill="none"/><path d="M408.2,1226.4 Q401.8,1200.7 423.6,1185.6" stroke="#1a9cf0" stroke-opacity="0.34" stroke-width="1.5" fill="none"/><path d="M626.4,1375.4 Q541.3,1395.2 500.0,1318.1" stroke="#1a9cf0" stroke-opacity="0.21" stroke-width="1.0" fill="none"/><path d="M749.5,1321.9 Q665.7,1327.0 605.5,1268.5" stroke="#a0f5a0" stroke-opacity="0.14" stroke-width="1.5" fill="none"/><path d="M478.6,1185.3 Q472.4,1263.7 395.9,1281.6" stroke="#a0f5a0" stroke-opacity="0.24" stroke-width="2.0" fill="none"/><path d="M314.7,1211.9 Q407.5,1265.0 471.3,1179.1" stroke="#8000ff" stroke-opacity="0.36" stroke-width="1.5" fill="none"/><path d="M553.9,1344.7 Q598.3,1279.9 557.9,1212.5" stroke="#30dcdc" stroke-opacity="0.32" stroke-width="1.0" fill="none"/><path d="M565.6,1164.0 Q522.1,1117.8 529.1,1054.7" stroke="#ff5a32" stroke-opacity="0.33" stroke-width="1.0" fill="none"/><path d="M701.6,1229.5 Q665.3,1179.2 603.3,1180.2" stroke="#ff5a32" stroke-opacity="0.16" stroke-width="1.5" fill="none"/><path d="M625.6,1141.7 Q677.3,1132.9 697.3,1181.4" stroke="#4b55f5" stroke-opacity="0.24" stroke-width="0.8" fill="none"/><path d="M479.2,1239.3 Q527.0,1223.0 528.6,1172.5" stroke="#ff0000" stroke-opacity="0.34" stroke-width="1.5" fill="none"/><path d="M456.4,1380.2 Q466.4,1340.9 500.0,1318.1" stroke="#fb9f5a" stroke-opacity="0.22" stroke-width="1.0" fill="none"/><path d="M595.6,1100.1 Q620.1,1107.5 639.2,1090.5" stroke="#a0f5a0" stroke-opacity="0.18" stroke-width="1.5" fill="none"/><path d="M359.8,1144.8 Q402.3,1221.1 487.8,1203.3" stroke="#68f5c8" stroke-opacity="0.24" stroke-width="2.0" fill="none"/><path d="M478.6,1185.3 Q553.7,1221.7 558.5,1305.0" stroke="#ff5a32" stroke-opacity="0.20" stroke-width="1.2" fill="none"/><path d="M734.9,1372.3 Q698.9,1347.7 668.0,1378.5" stroke="#30dcdc" stroke-opacity="0.18" stroke-width="1.5" fill="none"/><path d="M829.6,1345.6 Q756.3,1349.5 740.8,1277.7" stroke="#ff0000" stroke-opacity="0.16" stroke-width="1.0" fill="none"/><path d="M657.2,1152.5 Q677.4,1069.9 753.1,1031.0" stroke="#fb9f5a" stroke-opacity="0.23" stroke-width="0.8" fill="none"/><path d="M520.2,1152.5 Q475.8,1196.1 413.9,1203.3" stroke="#a0f5a0" stroke-opacity="0.25" stroke-width="1.2" fill="none"/><path d="M529.0,1241.1 Q611.8,1224.7 670.5,1285.4" stroke="#68f5c8" stroke-opacity="0.21" stroke-width="0.8" fill="none"/><path d="M339.2,1176.7 Q379.1,1220.0 436.7,1232.4" stroke="#1a9cf0" stroke-opacity="0.24" stroke-width="0.8" fill="none"/><path d="M651.8,1064.4 Q625.4,1098.6 625.6,1141.7" stroke="#ff0000" stroke-opacity="0.15" stroke-width="1.2" fill="none"/><path d="M754.7,1220.7 Q744.7,1243.6 720.3,1249.3" stroke="#ff0000" stroke-opacity="0.22" stroke-width="1.0" fill="none"/><path d="M523.1,1377.1 Q602.3,1353.4 673.0,1396.3" stroke="#30dcdc" stroke-opacity="0.25" stroke-width="1.5" fill="none"/><path d="M676.9,1112.4 Q601.7,1074.5 530.9,1120.1" stroke="#a0f5a0" stroke-opacity="0.18" stroke-width="1.0" fill="none"/><path d="M596.3,1298.5 Q609.9,1216.9 566.0,1146.8" stroke="#ff0000" stroke-opacity="0.31" stroke-width="1.2" fill="none"/><path d="M785.9,1263.0 Q709.1,1218.9 702.7,1130.6" stroke="#68f5c8" stroke-opacity="0.24" stroke-width="0.8" fill="none"/><path d="M603.3,1193.7 Q554.5,1120.3 474.3,1156.8" stroke="#ff5a32" stroke-opacity="0.28" stroke-width="1.0" fill="none"/><path d="M436.7,1232.4 Q461.0,1262.5 497.7,1250.0" stroke="#a0f5a0" stroke-opacity="0.27" stroke-width="2.0" fill="none"/><path d="M447.0,1032.6 Q493.7,1113.7 585.3,1094.7" stroke="#ff0000" stroke-opacity="0.28" stroke-width="2.0" fill="none"/><path d="M384.5,1182.0 Q404.4,1185.4 414.1,1203.1" stroke="#4b55f5" stroke-opacity="0.29" stroke-width="2.0" fill="none"/><path d="M823.5,1227.1 Q780.7,1274.6 717.2,1282.7" stroke="#a0f5a0" stroke-opacity="0.18" stroke-width="1.2" fill="none"/><path d="M542.8,1060.8 Q569.6,1106.5 554.0,1157.1" stroke="#ff5a32" stroke-opacity="0.33" stroke-width="1.0" fill="none"/><path d="M749.6,1121.6 Q708.7,1068.6 644.6,1049.0" stroke="#fb9f5a" stroke-opacity="0.19" stroke-width="1.0" fill="none"/><path d="M471.3,1179.1 Q443.6,1137.7 466.0,1093.2" stroke="#68f5c8" stroke-opacity="0.23" stroke-width="1.2" fill="none"/><path d="M471.3,1179.1 Q519.9,1191.8 529.0,1241.1" stroke="#30dcdc" stroke-opacity="0.29" stroke-width="1.2" fill="none"/><path d="M668.7,1352.9 Q730.2,1336.1 726.9,1272.4" stroke="#ff0000" stroke-opacity="0.14" stroke-width="1.0" fill="none"/><path d="M466.0,1093.2 Q384.1,1136.8 408.2,1226.4" stroke="#68f5c8" stroke-opacity="0.30" stroke-width="1.5" fill="none"/><path d="M528.2,1286.7 Q537.4,1248.4 501.7,1231.8" stroke="#ff0000" stroke-opacity="0.33" stroke-width="1.0" fill="none"/><path d="M520.9,1095.5 Q472.8,1107.3 474.3,1156.8" stroke="#a0f5a0" stroke-opacity="0.22" stroke-width="1.5" fill="none"/><path d="M600.9,1234.6 Q583.6,1261.3 586.3,1293.1" stroke="#ff0000" stroke-opacity="0.27" stroke-width="2.0" fill="none"/><path d="M483.5,1400.2 Q513.0,1375.7 522.8,1338.6" stroke="#fb9f5a" stroke-opacity="0.30" stroke-width="2.0" fill="none"/><path d="M727.8,1136.6 Q706.4,1161.2 674.5,1154.5" stroke="#a0f5a0" stroke-opacity="0.24" stroke-width="1.5" fill="none"/><path d="M575.6,1036.6 Q548.0,1118.9 463.3,1100.1" stroke="#30dcdc" stroke-opacity="0.33" stroke-width="0.8" fill="none"/><path d="M809.5,1298.3 Q777.2,1249.9 722.9,1270.8" stroke="#30dcdc" stroke-opacity="0.18" stroke-width="1.0" fill="none"/><path d="M427.7,1149.4 Q347.5,1161.5 315.8,1236.2" stroke="#8000ff" stroke-opacity="0.29" stroke-width="1.2" fill="none"/><path d="M563.3,1128.3 Q497.5,1145.9 486.8,1213.1" stroke="#4b55f5" stroke-opacity="0.35" stroke-width="1.2" fill="none"/><path d="M459.8,1233.8 Q465.3,1210.8 487.8,1203.3" stroke="#68f5c8" stroke-opacity="0.33" stroke-width="1.0" fill="none"/><path d="M549.9,1134.0 Q566.7,1192.9 529.0,1241.1" stroke="#ff5a32" stroke-opacity="0.36" stroke-width="1.0" fill="none"/><path d="M663.3,1265.4 Q717.4,1295.8 755.7,1246.9" stroke="#ff0000" stroke-opacity="0.18" stroke-width="2.0" fill="none"/><path d="M491.4,1269.8 Q465.7,1167.7 563.3,1128.3" stroke="#a0f5a0" stroke-opacity="0.22" stroke-width="1.5" fill="none"/><path d="M842.0,1220.6 Q811.2,1228.9 789.7,1205.3" stroke="#ff5a32" stroke-opacity="0.15" stroke-width="1.5" fill="none"/><path d="M550.5,1040.8 Q501.2,1049.0 465.5,1083.9" stroke="#8000ff" stroke-opacity="0.20" stroke-width="2.0" fill="none"/><path d="M711.6,1183.3 Q654.2,1166.7 640.3,1108.6" stroke="#68f5c8" stroke-opacity="0.16" stroke-width="1.0" fill="none"/><path d="M612.9,1211.0 Q582.4,1218.7 572.4,1248.5" stroke="#30dcdc" stroke-opacity="0.24" stroke-width="1.0" fill="none"/><path d="M314.7,1211.9 Q384.2,1196.3 395.9,1126.0" stroke="#4b55f5" stroke-opacity="0.21" stroke-width="1.0" fill="none"/><path d="M588.7,1008.2 Q533.0,1079.6 575.9,1159.4" stroke="#1a9cf0" stroke-opacity="0.30" stroke-width="2.0" fill="none"/><path d="M528.2,1286.7 Q562.6,1306.5 575.5,1344.0" stroke="#4b55f5" stroke-opacity="0.29" stroke-width="2.0" fill="none"/><path d="M774.7,1102.1 Q728.9,1126.4 686.2,1097.0" stroke="#68f5c8" stroke-opacity="0.23" stroke-width="1.0" fill="none"/><path d="M408.2,1226.4 Q454.6,1215.3 468.9,1169.7" stroke="#ff5a32" stroke-opacity="0.28" stroke-width="1.5" fill="none"/><path d="M600.9,1234.6 Q512.1,1192.2 541.0,1098.1" stroke="#ff5a32" stroke-opacity="0.22" stroke-width="1.0" fill="none"/><path d="M789.7,1205.3 Q713.7,1182.6 676.9,1112.4" stroke="#fb9f5a" stroke-opacity="0.24" stroke-width="1.0" fill="none"/><path d="M701.6,1229.5 Q677.3,1179.8 702.7,1130.6" stroke="#ff5a32" stroke-opacity="0.24" stroke-width="1.0" fill="none"/><path d="M678.5,1083.9 Q610.4,1129.7 645.2,1204.0" stroke="#ff5a32" stroke-opacity="0.17" stroke-width="1.2" fill="none"/><path d="M687.6,1320.1 Q631.8,1325.7 586.3,1293.1" stroke="#68f5c8" stroke-opacity="0.20" stroke-width="1.0" fill="none"/><path d="M388.7,1277.8 Q408.0,1298.8 399.4,1326.0" stroke="#1a9cf0" stroke-opacity="0.33" stroke-width="2.0" fill="none"/><path d="M447.8,1177.1 Q456.0,1160.3 474.3,1156.8" stroke="#30dcdc" stroke-opacity="0.35" stroke-width="1.0" fill="none"/><path d="M823.5,1206.8 Q821.6,1163.2 778.3,1157.5" stroke="#ff5a32" stroke-opacity="0.20" stroke-width="0.8" fill="none"/><path d="M472.4,1062.4 Q503.2,1076.6 529.1,1054.7" stroke="#ff5a32" stroke-opacity="0.30" stroke-width="2.0" fill="none"/><path d="M437.0,1232.2 Q463.5,1211.7 471.3,1179.1" stroke="#68f5c8" stroke-opacity="0.25" stroke-width="0.8" fill="none"/><path d="M622.9,1197.1 Q642.6,1146.0 619.8,1096.2" stroke="#68f5c8" stroke-opacity="0.16" stroke-width="1.5" fill="none"/><path d="M699.3,1145.5 Q798.2,1163.0 792.1,1263.3" stroke="#ff0000" stroke-opacity="0.17" stroke-width="2.0" fill="none"/><path d="M668.0,1378.5 Q609.5,1315.2 646.0,1237.2" stroke="#1a9cf0" stroke-opacity="0.23" stroke-width="1.0" fill="none"/><path d="M497.2,1250.1 Q521.0,1304.9 476.8,1345.1" stroke="#30dcdc" stroke-opacity="0.21" stroke-width="1.0" fill="none"/><path d="M513.9,1313.6 Q426.5,1279.4 423.6,1185.6" stroke="#4b55f5" stroke-opacity="0.20" stroke-width="1.0" fill="none"/><path d="M530.9,1120.1 Q571.0,1048.1 651.8,1064.4" stroke="#1a9cf0" stroke-opacity="0.26" stroke-width="1.5" fill="none"/><path d="M487.8,1203.3 Q509.4,1223.3 497.2,1250.1" stroke="#ff5a32" stroke-opacity="0.25" stroke-width="1.5" fill="none"/><path d="M615.6,1226.4 Q548.2,1285.8 591.4,1364.5" stroke="#1a9cf0" stroke-opacity="0.21" stroke-width="1.2" fill="none"/><path d="M537.1,1070.4 Q472.5,1107.8 500.1,1177.1" stroke="#4b55f5" stroke-opacity="0.23" stroke-width="1.2" fill="none"/><path d="M745.9,1200.2 Q717.1,1152.7 663.1,1165.5" stroke="#ff5a32" stroke-opacity="0.20" stroke-width="0.8" fill="none"/><path d="M386.2,1064.6 Q440.3,1128.2 391.4,1195.9" stroke="#4b55f5" stroke-opacity="0.31" stroke-width="1.5" fill="none"/><path d="M601.0,1234.1 Q631.0,1261.0 667.6,1244.3" stroke="#1a9cf0" stroke-opacity="0.21" stroke-width="1.0" fill="none"/><path d="M575.6,1036.6 Q615.3,1105.9 554.0,1157.1" stroke="#30dcdc" stroke-opacity="0.34" stroke-width="1.0" fill="none"/><path d="M486.8,1213.1 Q502.1,1234.2 527.8,1238.0" stroke="#ff0000" stroke-opacity="0.34" stroke-width="1.0" fill="none"/><path d="M542.8,1060.8 Q556.3,1073.2 559.9,1091.2" stroke="#ff5a32" stroke-opacity="0.32" stroke-width="1.0" fill="none"/><path d="M586.3,1293.1 Q625.8,1295.2 637.4,1257.3" stroke="#ff5a32" stroke-opacity="0.23" stroke-width="1.0" fill="none"/><path d="M488.9,1074.2 Q539.1,1098.1 566.0,1146.8" stroke="#68f5c8" stroke-opacity="0.30" stroke-width="1.2" fill="none"/><path d="M406.2,1202.8 Q348.4,1145.9 395.9,1080.1" stroke="#8000ff" stroke-opacity="0.30" stroke-width="2.0" fill="none"/><path d="M759.0,1111.2 Q698.5,1101.6 682.0,1042.6" stroke="#30dcdc" stroke-opacity="0.23" stroke-width="1.2" fill="none"/><path d="M413.9,1143.7 Q391.1,1134.0 368.0,1142.8" stroke="#30dcdc" stroke-opacity="0.36" stroke-width="1.0" fill="none"/><path d="M529.0,1241.1 Q549.4,1332.3 642.8,1330.1" stroke="#ff5a32" stroke-opacity="0.29" stroke-width="0.8" fill="none"/><path d="M726.4,1300.1 Q739.8,1235.5 679.2,1209.4" stroke="#a0f5a0" stroke-opacity="0.22" stroke-width="1.5" fill="none"/><path d="M572.4,1248.5 Q588.8,1185.8 549.9,1134.0" stroke="#a0f5a0" stroke-opacity="0.25" stroke-width="1.5" fill="none"/><path d="M702.3,1098.5 Q712.7,1163.5 775.8,1182.0" stroke="#fb9f5a" stroke-opacity="0.16" stroke-width="1.0" fill="none"/><path d="M473.1,1227.0 Q420.0,1158.1 465.5,1083.9" stroke="#1a9cf0" stroke-opacity="0.28" stroke-width="1.5" fill="none"/><path d="M459.8,1233.8 Q478.7,1213.2 478.6,1185.3" stroke="#4b55f5" stroke-opacity="0.33" stroke-width="2.0" fill="none"/><path d="M537.1,1070.4 Q479.8,1051.9 427.0,1080.8" stroke="#30dcdc" stroke-opacity="0.32" stroke-width="1.5" fill="none"/><path d="M739.0,1316.1 Q681.1,1291.1 623.5,1316.6" stroke="#d3d784" stroke-opacity="0.21" stroke-width="0.8" fill="none"/><path d="M676.5,1083.1 Q770.1,1050.5 823.5,1134.0" stroke="#d3d784" stroke-opacity="0.17" stroke-width="1.2" fill="none"/><path d="M633.8,1218.2 Q680.8,1226.1 697.3,1181.4" stroke="#68f5c8" stroke-opacity="0.23" stroke-width="2.0" fill="none"/><path d="M794.7,1020.5 Q753.8,1087.3 680.8,1059.0" stroke="#ff5a32" stroke-opacity="0.20" stroke-width="1.0" fill="none"/><path d="M619.1,1309.3 Q621.3,1259.3 572.4,1248.5" stroke="#a0f5a0" stroke-opacity="0.35" stroke-width="1.5" fill="none"/><path d="M520.9,1095.5 Q524.1,1155.5 487.8,1203.3" stroke="#ff5a32" stroke-opacity="0.34" stroke-width="1.5" fill="none"/><path d="M557.9,1212.5 Q590.2,1258.3 568.9,1310.1" stroke="#a0f5a0" stroke-opacity="0.24" stroke-width="1.5" fill="none"/><path d="M754.7,1153.7 Q732.4,1174.9 702.0,1170.6" stroke="#d3d784" stroke-opacity="0.25" stroke-width="1.2" fill="none"/><path d="M378.5,1121.7 Q380.9,1164.0 354.9,1197.5" stroke="#8000ff" stroke-opacity="0.33" stroke-width="1.0" fill="none"/><path d="M412.8,1094.4 Q486.8,1109.6 528.6,1172.5" stroke="#a0f5a0" stroke-opacity="0.34" stroke-width="2.0" fill="none"/><path d="M487.0,1213.0 Q465.3,1231.5 436.7,1232.4" stroke="#30dcdc" stroke-opacity="0.29" stroke-width="1.0" fill="none"/><path d="M622.9,1197.1 Q557.0,1182.3 530.9,1120.1" stroke="#68f5c8" stroke-opacity="0.27" stroke-width="1.2" fill="none"/><path d="M694.1,1287.8 Q753.7,1263.9 745.9,1200.2" stroke="#d3d784" stroke-opacity="0.24" stroke-width="1.0" fill="none"/><path d="M676.5,1083.1 Q615.5,1048.7 559.9,1091.2" stroke="#ff0000" stroke-opacity="0.19" stroke-width="1.0" fill="none"/><path d="M447.2,1223.9 Q501.8,1277.1 572.4,1248.5" stroke="#ff5a32" stroke-opacity="0.20" stroke-width="1.0" fill="none"/><path d="M412.2,1304.7 Q387.8,1215.0 468.9,1169.7" stroke="#1a9cf0" stroke-opacity="0.35" stroke-width="1.5" fill="none"/><path d="M603.3,1193.7 Q618.9,1206.5 615.6,1226.4" stroke="#30dcdc" stroke-opacity="0.19" stroke-width="1.0" fill="none"/><path d="M586.3,1293.1 Q599.1,1281.9 615.5,1286.2" stroke="#d3d784" stroke-opacity="0.23" stroke-width="2.0" fill="none"/><path d="M368.0,1142.8 Q317.7,1222.6 374.0,1298.3" stroke="#1a9cf0" stroke-opacity="0.21" stroke-width="1.0" fill="none"/><path d="M542.8,1060.8 Q466.4,1048.2 395.9,1080.1" stroke="#8000ff" stroke-opacity="0.36" stroke-width="0.8" fill="none"/><path d="M378.5,1121.7 Q378.3,1170.3 413.9,1203.3" stroke="#4b55f5" stroke-opacity="0.21" stroke-width="1.0" fill="none"/><path d="M413.9,1203.3 Q436.2,1143.8 498.3,1157.5" stroke="#68f5c8" stroke-opacity="0.22" stroke-width="1.5" fill="none"/><path d="M566.0,1146.8 Q508.0,1133.7 478.6,1185.3" stroke="#30dcdc" stroke-opacity="0.35" stroke-width="1.0" fill="none"/><path d="M488.9,1074.2 Q452.4,1069.0 447.0,1032.6" stroke="#1a9cf0" stroke-opacity="0.35" stroke-width="1.5" fill="none"/><path d="M478.0,1185.4 Q519.4,1107.5 607.2,1116.3" stroke="#1a9cf0" stroke-opacity="0.21" stroke-width="2.0" fill="none"/><path d="M591.4,1364.5 Q630.0,1326.6 640.9,1273.6" stroke="#a0f5a0" stroke-opacity="0.19" stroke-width="0.8" fill="none"/><path d="M667.6,1244.3 Q631.0,1261.5 600.9,1234.6" stroke="#30dcdc" stroke-opacity="0.15" stroke-width="2.0" fill="none"/><path d="M472.4,1062.4 Q513.6,1121.1 471.3,1179.1" stroke="#ff5a32" stroke-opacity="0.21" stroke-width="2.0" fill="none"/><path d="M557.9,1212.5 Q498.2,1211.5 474.3,1156.8" stroke="#4b55f5" stroke-opacity="0.29" stroke-width="1.0" fill="none"/><path d="M386.2,1064.6 Q446.5,1110.9 520.9,1095.5" stroke="#68f5c8" stroke-opacity="0.33" stroke-width="1.5" fill="none"/><path d="M640.3,1108.6 Q726.8,1122.9 761.9,1042.6" stroke="#ff0000" stroke-opacity="0.18" stroke-width="1.5" fill="none"/><path d="M754.7,1153.7 Q809.7,1155.0 850.4,1191.9" stroke="#a0f5a0" stroke-opacity="0.23" stroke-width="1.0" fill="none"/><path d="M702.7,1130.6 Q624.6,1180.9 663.3,1265.4" stroke="#4b55f5" stroke-opacity="0.16" stroke-width="0.8" fill="none"/><path d="M447.8,1177.1 Q526.2,1144.2 542.8,1060.8" stroke="#8000ff" stroke-opacity="0.32" stroke-width="0.8" fill="none"/><path d="M529.6,1258.2 Q502.8,1223.1 460.0,1233.9" stroke="#1a9cf0" stroke-opacity="0.22" stroke-width="1.0" fill="none"/><path d="M541.0,1098.1 Q588.3,1136.1 635.7,1098.2" stroke="#a0f5a0" stroke-opacity="0.31" stroke-width="1.2" fill="none"/><path d="M612.9,1211.0 Q676.5,1177.7 683.6,1106.2" stroke="#1a9cf0" stroke-opacity="0.19" stroke-width="0.8" fill="none"/><path d="M527.8,1238.0 Q468.7,1247.5 428.8,1202.8" stroke="#8000ff" stroke-opacity="0.26" stroke-width="2.0" fill="none"/><path d="M736.7,1101.2 Q664.4,1100.9 630.2,1037.2" stroke="#30dcdc" stroke-opacity="0.19" stroke-width="1.0" fill="none"/><path d="M680.8,1059.0 Q609.8,1085.2 566.0,1146.8" stroke="#4b55f5" stroke-opacity="0.25" stroke-width="2.0" fill="none"/><path d="M590.2,1128.3 Q569.0,1123.9 549.9,1134.0" stroke="#a0f5a0" stroke-opacity="0.28" stroke-width="1.5" fill="none"/><path d="M491.4,1269.8 Q500.8,1225.2 478.6,1185.3" stroke="#30dcdc" stroke-opacity="0.23" stroke-width="1.0" fill="none"/><path d="M589.5,1143.7 Q583.3,1231.5 497.2,1250.1" stroke="#d3d784" stroke-opacity="0.29" stroke-width="1.0" fill="none"/><path d="M678.5,1083.9 Q602.5,1149.1 646.0,1239.2" stroke="#ff5a32" stroke-opacity="0.24" stroke-width="1.0" fill="none"/><path d="M520.9,1095.5 Q563.6,1078.3 602.6,1102.9" stroke="#ff0000" stroke-opacity="0.31" stroke-width="1.0" fill="none"/><path d="M584.4,1083.1 Q602.0,1087.8 613.8,1073.9" stroke="#a0f5a0" stroke-opacity="0.25" stroke-width="1.0" fill="none"/><path d="M670.5,1292.7 Q706.2,1303.4 726.9,1272.4" stroke="#ff5a32" stroke-opacity="0.20" stroke-width="1.2" fill="none"/><path d="M410.5,1088.2 Q365.8,1135.8 391.4,1195.9" stroke="#8000ff" stroke-opacity="0.30" stroke-width="1.0" fill="none"/><path d="M625.6,1141.7 Q586.5,1094.6 530.9,1120.1" stroke="#ff5a32" stroke-opacity="0.21" stroke-width="1.0" fill="none"/><path d="M677.2,1112.4 Q618.4,1183.5 665.6,1262.8" stroke="#d3d784" stroke-opacity="0.19" stroke-width="1.0" fill="none"/><path d="M326.2,1192.1 Q348.9,1230.1 389.7,1213.0" stroke="#4b55f5" stroke-opacity="0.23" stroke-width="1.2" fill="none"/><path d="M528.2,1286.7 Q470.8,1251.9 478.6,1185.3" stroke="#8000ff" stroke-opacity="0.30" stroke-width="0.8" fill="none"/><path d="M559.9,1091.2 Q629.5,1109.5 680.8,1059.0" stroke="#d3d784" stroke-opacity="0.16" stroke-width="1.0" fill="none"/><path d="M554.0,1157.1 Q594.9,1086.4 676.5,1083.1" stroke="#1a9cf0" stroke-opacity="0.18" stroke-width="1.0" fill="none"/><path d="M513.9,1313.6 Q460.3,1283.8 447.2,1223.9" stroke="#8000ff" stroke-opacity="0.29" stroke-width="1.0" fill="none"/><path d="M647.9,1366.0 Q605.1,1376.8 575.5,1344.0" stroke="#1a9cf0" stroke-opacity="0.19" stroke-width="2.0" fill="none"/><path d="M485.5,1095.0 Q455.0,1175.4 497.7,1250.0" stroke="#8000ff" stroke-opacity="0.22" stroke-width="1.0" fill="none"/><path d="M707.0,1082.7 Q729.8,1151.9 801.7,1139.7" stroke="#d3d784" stroke-opacity="0.20" stroke-width="1.0" fill="none"/><path d="M618.2,953.4 Q529.2,964.9 529.1,1054.7" stroke="#ff5a32" stroke-opacity="0.20" stroke-width="0.8" fill="none"/><path d="M731.6,1171.4 Q682.4,1171.9 645.2,1204.0" stroke="#30dcdc" stroke-opacity="0.18" stroke-width="1.0" fill="none"/><path d="M589.5,1143.7 Q546.1,1213.9 471.3,1179.1" stroke="#ff0000" stroke-opacity="0.34" stroke-width="2.0" fill="none"/><path d="M474.3,1156.8 Q541.4,1203.4 622.9,1197.1" stroke="#ff0000" stroke-opacity="0.22" stroke-width="1.5" fill="none"/><path d="M528.2,1286.7 Q582.5,1216.1 520.2,1152.5" stroke="#68f5c8" stroke-opacity="0.29" stroke-width="1.2" fill="none"/><path d="M646.0,1237.2 Q662.5,1165.2 607.2,1116.3" stroke="#ff0000" stroke-opacity="0.20" stroke-width="1.5" fill="none"/><path d="M702.0,1170.6 Q669.7,1167.0 646.0,1144.7" stroke="#1a9cf0" stroke-opacity="0.23" stroke-width="2.0" fill="none"/><path d="M635.7,1098.2 Q677.6,1170.4 615.6,1226.4" stroke="#ff0000" stroke-opacity="0.21" stroke-width="1.2" fill="none"/><path d="M447.2,1223.9 Q474.4,1214.0 478.6,1185.3" stroke="#8000ff" stroke-opacity="0.32" stroke-width="1.2" fill="none"/><path d="M698.7,1285.8 Q657.0,1261.3 615.5,1286.2" stroke="#ff0000" stroke-opacity="0.25" stroke-width="1.0" fill="none"/><path d="M520.9,1095.5 Q497.3,1069.9 465.5,1083.9" stroke="#8000ff" stroke-opacity="0.36" stroke-width="1.0" fill="none"/><path d="M694.1,1287.8 Q758.4,1266.7 745.9,1200.2" stroke="#ff0000" stroke-opacity="0.17" stroke-width="1.0" fill="none"/><path d="M406.2,1202.8 Q433.9,1177.6 471.3,1179.1" stroke="#ff5a32" stroke-opacity="0.28" stroke-width="1.0" fill="none"/><path d="M646.0,1144.7 Q555.9,1154.5 529.0,1241.1" stroke="#1a9cf0" stroke-opacity="0.33" stroke-width="0.8" fill="none"/><path d="M617.6,1115.2 Q645.4,1154.5 622.9,1197.1" stroke="#ff0000" stroke-opacity="0.26" stroke-width="1.0" fill="none"/><path d="M323.5,1274.4 Q385.3,1284.7 407.9,1226.2" stroke="#1a9cf0" stroke-opacity="0.33" stroke-width="1.0" fill="none"/><path d="M568.9,1310.1 Q562.2,1238.8 603.3,1180.2" stroke="#ff5a32" stroke-opacity="0.25" stroke-width="1.0" fill="none"/><path d="M478.0,1185.4 Q519.8,1259.1 600.9,1234.6" stroke="#ff0000" stroke-opacity="0.25" stroke-width="1.2" fill="none"/><path d="M466.0,1093.2 Q531.0,1161.8 497.2,1250.1" stroke="#4b55f5" stroke-opacity="0.29" stroke-width="1.5" fill="none"/><path d="M404.8,1350.2 Q471.3,1305.7 501.7,1231.8" stroke="#30dcdc" stroke-opacity="0.25" stroke-width="0.8" fill="none"/><path d="M459.8,1233.8 Q479.8,1231.8 487.0,1213.0" stroke="#ff0000" stroke-opacity="0.28" stroke-width="1.5" fill="none"/><path d="M645.2,1204.0 Q611.1,1266.4 642.8,1330.1" stroke="#4b55f5" stroke-opacity="0.19" stroke-width="1.2" fill="none"/><path d="M674.5,1154.5 Q699.2,1112.7 743.3,1092.4" stroke="#fb9f5a" stroke-opacity="0.25" stroke-width="1.0" fill="none"/><path d="M657.2,1152.5 Q618.8,1144.1 603.3,1180.2" stroke="#1a9cf0" stroke-opacity="0.24" stroke-width="1.2" fill="none"/><path d="M460.0,1233.9 Q472.3,1257.4 497.7,1250.0" stroke="#68f5c8" stroke-opacity="0.34" stroke-width="1.0" fill="none"/><path d="M497.2,1250.1 Q578.0,1241.4 611.4,1315.5" stroke="#4b55f5" stroke-opacity="0.20" stroke-width="0.8" fill="none"/><path d="M651.8,1064.4 Q586.7,1140.8 501.7,1087.5" stroke="#d3d784" stroke-opacity="0.25" stroke-width="1.0" fill="none"/><path d="M414.1,1203.1 Q381.5,1107.1 472.4,1062.4" stroke="#4b55f5" stroke-opacity="0.23" stroke-width="1.0" fill="none"/><path d="M664.4,1015.6 Q692.6,1057.0 683.6,1106.2" stroke="#1a9cf0" stroke-opacity="0.22" stroke-width="1.5" fill="none"/><path d="M626.3,1286.2 Q720.5,1245.8 699.3,1145.5" stroke="#ff5a32" stroke-opacity="0.23" stroke-width="1.0" fill="none"/><path d="M572.4,1248.5 Q479.9,1265.6 447.8,1177.1" stroke="#4b55f5" stroke-opacity="0.36" stroke-width="1.0" fill="none"/><path d="M637.4,1257.3 Q576.4,1206.5 590.2,1128.3" stroke="#ff0000" stroke-opacity="0.25" stroke-width="1.2" fill="none"/><path d="M566.0,1146.8 Q583.2,1140.4 599.2,1149.4" stroke="#a0f5a0" stroke-opacity="0.28" stroke-width="1.2" fill="none"/><path d="M520.9,1095.5 Q595.3,1137.2 676.9,1112.4" stroke="#1a9cf0" stroke-opacity="0.31" stroke-width="1.0" fill="none"/><path d="M472.9,1227.1 Q460.5,1207.6 437.5,1210.0" stroke="#1a9cf0" stroke-opacity="0.22" stroke-width="1.2" fill="none"/><path d="M487.0,1213.0 Q461.2,1185.2 423.3,1185.4" stroke="#68f5c8" stroke-opacity="0.36" stroke-width="2.0" fill="none"/><path d="M572.2,1082.4 Q647.0,1084.9 674.5,1154.5" stroke="#a0f5a0" stroke-opacity="0.18" stroke-width="2.0" fill="none"/><path d="M413.2,1094.0 Q412.1,1143.2 447.8,1177.1" stroke="#ff5a32" stroke-opacity="0.23" stroke-width="1.0" fill="none"/><path d="M801.7,1139.7 Q784.9,1206.3 716.5,1211.7" stroke="#ff5a32" stroke-opacity="0.16" stroke-width="1.0" fill="none"/><path d="M447.8,1177.1 Q480.9,1113.0 549.9,1134.0" stroke="#1a9cf0" stroke-opacity="0.34" stroke-width="1.2" fill="none"/><path d="M637.4,1257.3 Q576.0,1285.2 527.8,1238.0" stroke="#4b55f5" stroke-opacity="0.27" stroke-width="1.0" fill="none"/><path d="M406.2,1202.8 Q448.6,1209.2 479.2,1239.3" stroke="#1a9cf0" stroke-opacity="0.33" stroke-width="1.0" fill="none"/><path d="M622.3,1164.8 Q606.6,1196.1 633.8,1218.2" stroke="#1a9cf0" stroke-opacity="0.18" stroke-width="2.0" fill="none"/><path d="M463.3,1100.1 Q489.3,1136.4 530.9,1120.1" stroke="#ff5a32" stroke-opacity="0.22" stroke-width="1.5" fill="none"/><path d="M498.3,1157.5 Q476.3,1162.8 478.6,1185.3" stroke="#30dcdc" stroke-opacity="0.24" stroke-width="1.5" fill="none"/><path d="M485.5,1095.0 Q498.5,1125.2 530.9,1120.1" stroke="#1a9cf0" stroke-opacity="0.32" stroke-width="1.0" fill="none"/><path d="M530.9,1120.1 Q598.6,1077.1 678.5,1083.9" stroke="#30dcdc" stroke-opacity="0.23" stroke-width="1.0" fill="none"/><path d="M472.4,1062.4 Q483.9,1108.4 446.7,1137.8" stroke="#8000ff" stroke-opacity="0.27" stroke-width="1.0" fill="none"/><path d="M412.2,1304.7 Q395.8,1258.9 436.7,1232.4" stroke="#30dcdc" stroke-opacity="0.32" stroke-width="1.0" fill="none"/><path d="M446.7,1224.1 Q514.0,1152.0 603.3,1193.7" stroke="#8000ff" stroke-opacity="0.20" stroke-width="2.0" fill="none"/><path d="M790.7,1200.8 Q743.9,1266.4 663.3,1265.4" stroke="#d3d784" stroke-opacity="0.21" stroke-width="1.0" fill="none"/><path d="M413.2,1094.0 Q454.2,1024.2 529.1,1054.7" stroke="#68f5c8" stroke-opacity="0.29" stroke-width="1.5" fill="none"/><path d="M556.5,1403.6 Q556.9,1386.1 572.9,1379.1" stroke="#8000ff" stroke-opacity="0.32" stroke-width="1.0" fill="none"/><path d="M542.8,1060.8 Q484.7,1105.5 500.1,1177.1" stroke="#ff5a32" stroke-opacity="0.27" stroke-width="1.0" fill="none"/><path d="M559.9,1091.2 Q587.4,1095.3 605.3,1073.9" stroke="#d3d784" stroke-opacity="0.26" stroke-width="1.0" fill="none"/><path d="M768.6,1324.3 Q720.4,1413.4 626.3,1376.0" stroke="#fb9f5a" stroke-opacity="0.14" stroke-width="1.0" fill="none"/><path d="M528.2,1286.7 Q513.7,1269.8 491.4,1269.8" stroke="#30dcdc" stroke-opacity="0.23" stroke-width="1.2" fill="none"/><path d="M680.0,1145.5 Q660.5,1097.1 613.8,1073.9" stroke="#ff5a32" stroke-opacity="0.15" stroke-width="1.0" fill="none"/><path d="M478.6,1185.3 Q461.3,1225.3 497.2,1250.1" stroke="#ff5a32" stroke-opacity="0.25" stroke-width="1.0" fill="none"/><path d="M389.7,1213.1 Q428.3,1211.3 459.8,1233.8" stroke="#1a9cf0" stroke-opacity="0.28" stroke-width="2.0" fill="none"/><path d="M339.5,1113.7 Q323.7,1168.5 269.0,1184.6" stroke="#1a9cf0" stroke-opacity="0.25" stroke-width="1.2" fill="none"/><path d="M558.5,1305.0 Q497.8,1298.2 471.4,1243.1" stroke="#68f5c8" stroke-opacity="0.29" stroke-width="1.2" fill="none"/><path d="M501.7,1231.8 Q538.5,1198.6 520.2,1152.5" stroke="#1a9cf0" stroke-opacity="0.27" stroke-width="0.8" fill="none"/><path d="M744.4,1172.2 Q723.6,1249.2 648.9,1277.0" stroke="#ff5a32" stroke-opacity="0.19" stroke-width="1.5" fill="none"/><path d="M530.9,1120.1 Q581.6,1164.3 646.0,1144.7" stroke="#ff5a32" stroke-opacity="0.31" stroke-width="1.2" fill="none"/><path d="M603.3,1180.2 Q617.8,1096.6 537.1,1070.4" stroke="#30dcdc" stroke-opacity="0.31" stroke-width="1.0" fill="none"/><path d="M428.8,1202.8 Q450.5,1144.2 413.2,1094.0" stroke="#1a9cf0" stroke-opacity="0.21" stroke-width="1.2" fill="none"/><path d="M682.0,1042.6 Q733.7,1096.6 731.6,1171.4" stroke="#68f5c8" stroke-opacity="0.17" stroke-width="1.5" fill="none"/><path d="M473.1,1227.0 Q453.8,1189.5 413.9,1203.3" stroke="#4b55f5" stroke-opacity="0.24" stroke-width="1.0" fill="none"/><path d="M493.9,1354.0 Q537.2,1305.5 529.0,1241.1" stroke="#ff5a32" stroke-opacity="0.29" stroke-width="0.8" fill="none"/><path d="M670.5,1292.7 Q628.6,1330.6 586.3,1293.1" stroke="#30dcdc" stroke-opacity="0.15" stroke-width="1.2" fill="none"/><path d="M563.3,1128.3 Q638.0,1164.6 686.2,1097.0" stroke="#68f5c8" stroke-opacity="0.14" stroke-width="1.2" fill="none"/><path d="M646.0,1144.7 Q699.9,1116.7 680.8,1059.0" stroke="#4b55f5" stroke-opacity="0.16" stroke-width="2.0" fill="none"/><path d="M636.3,1269.0 Q634.4,1292.0 619.1,1309.3" stroke="#1a9cf0" stroke-opacity="0.20" stroke-width="1.2" fill="none"/><path d="M498.3,1157.5 Q526.4,1123.8 501.7,1087.5" stroke="#ff0000" stroke-opacity="0.28" stroke-width="1.2" fill="none"/><path d="M590.2,1128.3 Q614.2,1094.0 611.3,1052.3" stroke="#1a9cf0" stroke-opacity="0.24" stroke-width="2.0" fill="none"/><path d="M428.8,1202.8 Q491.7,1182.8 527.8,1238.0" stroke="#4b55f5" stroke-opacity="0.32" stroke-width="0.8" fill="none"/><path d="M315.8,1236.2 Q329.4,1154.1 409.7,1132.4" stroke="#30dcdc" stroke-opacity="0.29" stroke-width="2.0" fill="none"/><path d="M611.3,1052.3 Q674.1,1083.8 713.1,1025.3" stroke="#ff0000" stroke-opacity="0.16" stroke-width="1.2" fill="none"/><path d="M349.7,1353.3 Q401.8,1292.3 389.7,1213.0" stroke="#8000ff" stroke-opacity="0.22" stroke-width="2.0" fill="none"/><path d="M715.7,1153.7 Q646.1,1148.4 595.6,1100.1" stroke="#1a9cf0" stroke-opacity="0.23" stroke-width="1.5" fill="none"/><path d="M347.9,1264.7 Q448.0,1277.2 471.3,1179.1" stroke="#68f5c8" stroke-opacity="0.29" stroke-width="1.2" fill="none"/><path d="M566.0,1146.8 Q501.9,1191.9 491.2,1269.6" stroke="#a0f5a0" stroke-opacity="0.24" stroke-width="1.5" fill="none"/><path d="M444.7,1161.7 Q399.4,1138.0 410.6,1088.1" stroke="#4b55f5" stroke-opacity="0.29" stroke-width="0.8" fill="none"/><path d="M359.8,1144.8 Q399.2,1091.0 465.5,1083.9" stroke="#8000ff" stroke-opacity="0.20" stroke-width="0.8" fill="none"/><path d="M456.4,1380.2 Q500.0,1309.5 575.5,1344.0" stroke="#1a9cf0" stroke-opacity="0.27" stroke-width="1.0" fill="none"/><path d="M428.8,1202.8 Q457.9,1204.8 460.0,1233.9" stroke="#ff0000" stroke-opacity="0.22" stroke-width="1.0" fill="none"/><path d="M473.1,1227.0 Q517.5,1146.1 603.3,1180.2" stroke="#8000ff" stroke-opacity="0.28" stroke-width="1.0" fill="none"/><path d="M742.8,1180.2 Q800.6,1146.2 795.5,1079.3" stroke="#ff5a32" stroke-opacity="0.23" stroke-width="1.0" fill="none"/><path d="M615.6,1226.4 Q705.0,1239.7 729.8,1152.8" stroke="#a0f5a0" stroke-opacity="0.15" stroke-width="1.2" fill="none"/><path d="M565.6,1164.0 Q556.5,1212.7 600.9,1234.6" stroke="#1a9cf0" stroke-opacity="0.24" stroke-width="1.5" fill="none"/><path d="M447.2,1223.9 Q479.0,1146.2 413.2,1094.0" stroke="#68f5c8" stroke-opacity="0.22" stroke-width="2.0" fill="none"/><path d="M339.5,1113.7 Q398.0,1103.9 446.7,1137.8" stroke="#8000ff" stroke-opacity="0.26" stroke-width="0.8" fill="none"/><path d="M740.8,1049.0 Q747.1,1022.2 723.4,1008.2" stroke="#ff0000" stroke-opacity="0.23" stroke-width="1.5" fill="none"/><path d="M388.7,1277.8 Q448.5,1219.7 529.0,1241.1" stroke="#1a9cf0" stroke-opacity="0.33" stroke-width="1.2" fill="none"/><path d="M500.1,1177.1 Q483.8,1126.6 432.4,1113.2" stroke="#30dcdc" stroke-opacity="0.25" stroke-width="1.5" fill="none"/><path d="M720.3,1249.3 Q656.4,1224.3 622.3,1164.8" stroke="#ff5a32" stroke-opacity="0.15" stroke-width="1.0" fill="none"/><path d="M530.9,1120.1 Q543.4,1096.4 537.1,1070.4" stroke="#ff0000" stroke-opacity="0.32" stroke-width="2.0" fill="none"/><path d="M707.0,1118.6 Q647.7,1115.0 599.2,1149.4" stroke="#fb9f5a" stroke-opacity="0.20" stroke-width="1.2" fill="none"/><path d="M664.4,1015.6 Q700.2,1106.2 622.3,1164.8" stroke="#ff0000" stroke-opacity="0.21" stroke-width="1.0" fill="none"/><path d="M501.7,1231.8 Q581.6,1211.4 625.6,1141.7" stroke="#ff5a32" stroke-opacity="0.26" stroke-width="1.2" fill="none"/><path d="M500.1,1177.1 Q448.3,1105.0 368.0,1142.8" stroke="#1a9cf0" stroke-opacity="0.28" stroke-width="1.2" fill="none"/><path d="M623.5,1316.6 Q592.4,1258.6 603.3,1193.7" stroke="#30dcdc" stroke-opacity="0.25" stroke-width="0.8" fill="none"/><path d="M622.3,1164.8 Q650.6,1196.8 646.0,1239.2" stroke="#4b55f5" stroke-opacity="0.17" stroke-width="0.8" fill="none"/><path d="M413.9,1203.3 Q428.1,1282.3 500.0,1318.1" stroke="#4b55f5" stroke-opacity="0.25" stroke-width="1.2" fill="none"/><path d="M466.0,1093.2 Q453.3,1139.9 498.3,1157.5" stroke="#1a9cf0" stroke-opacity="0.20" stroke-width="2.0" fill="none"/><path d="M636.3,1269.0 Q699.1,1248.2 711.6,1183.3" stroke="#ff5a32" stroke-opacity="0.17" stroke-width="1.0" fill="none"/><path d="M482.7,1035.9 Q470.7,1134.6 565.6,1164.0" stroke="#4b55f5" stroke-opacity="0.33" stroke-width="1.2" fill="none"/><path d="M550.5,1040.8 Q580.9,1109.0 520.2,1152.5" stroke="#8000ff" stroke-opacity="0.24" stroke-width="1.2" fill="none"/><path d="M563.2,1293.1 Q526.7,1250.8 471.4,1243.1" stroke="#4b55f5" stroke-opacity="0.24" stroke-width="1.5" fill="none"/><path d="M482.7,1035.9 Q453.4,1082.3 457.0,1137.0" stroke="#ff0000" stroke-opacity="0.21" stroke-width="0.8" fill="none"/><path d="M438.0,1263.9 Q486.9,1272.1 513.9,1313.6" stroke="#1a9cf0" stroke-opacity="0.27" stroke-width="0.8" fill="none"/><path d="M748.0,1241.1 Q694.3,1197.3 727.8,1136.6" stroke="#ff5a32" stroke-opacity="0.16" stroke-width="1.0" fill="none"/><path d="M413.2,1094.0 Q458.1,1182.5 554.0,1157.1" stroke="#1a9cf0" stroke-opacity="0.32" stroke-width="1.5" fill="none"/><path d="M463.3,1100.1 Q432.6,1113.4 410.6,1088.1" stroke="#a0f5a0" stroke-opacity="0.21" stroke-width="1.0" fill="none"/><path d="M500.1,1177.1 Q564.2,1200.9 622.3,1164.8" stroke="#a0f5a0" stroke-opacity="0.20" stroke-width="1.0" fill="none"/><path d="M447.8,1177.1 Q393.9,1241.9 399.4,1326.0" stroke="#68f5c8" stroke-opacity="0.33" stroke-width="0.8" fill="none"/><path d="M378.5,1121.7 Q330.4,1162.6 326.8,1225.7" stroke="#1a9cf0" stroke-opacity="0.27" stroke-width="1.0" fill="none"/><path d="M785.2,1095.5 Q822.1,1171.6 760.4,1229.5" stroke="#a0f5a0" stroke-opacity="0.15" stroke-width="1.0" fill="none"/><path d="M836.3,1170.9 Q812.8,1232.2 747.8,1241.0" stroke="#a0f5a0" stroke-opacity="0.25" stroke-width="0.8" fill="none"/><path d="M715.7,1153.7 Q692.9,1160.3 680.0,1180.2" stroke="#ff0000" stroke-opacity="0.17" stroke-width="1.2" fill="none"/><path d="M575.6,1036.8 Q502.3,1029.0 466.0,1093.2" stroke="#30dcdc" stroke-opacity="0.36" stroke-width="2.0" fill="none"/><path d="M471.4,1318.6 Q489.1,1297.3 491.2,1269.6" stroke="#a0f5a0" stroke-opacity="0.33" stroke-width="1.5" fill="none"/><path d="M522.8,1338.6 Q569.8,1275.0 648.9,1277.0" stroke="#fb9f5a" stroke-opacity="0.31" stroke-width="0.8" fill="none"/><path d="M513.9,1313.6 Q457.2,1293.8 459.8,1233.8" stroke="#ff5a32" stroke-opacity="0.31" stroke-width="1.0" fill="none"/><path d="M465.5,1083.9 Q435.9,1139.3 478.6,1185.3" stroke="#4b55f5" stroke-opacity="0.21" stroke-width="1.0" fill="none"/><path d="M563.2,1293.1 Q507.5,1274.6 472.9,1227.1" stroke="#ff5a32" stroke-opacity="0.26" stroke-width="0.8" fill="none"/><path d="M566.0,1146.8 Q549.4,1221.7 472.9,1227.1" stroke="#1a9cf0" stroke-opacity="0.32" stroke-width="1.2" fill="none"/><path d="M617.6,1115.2 Q655.7,1120.4 686.2,1097.0" stroke="#30dcdc" stroke-opacity="0.24" stroke-width="1.2" fill="none"/><path d="M423.3,1185.4 Q498.3,1165.1 501.7,1087.5" stroke="#ff0000" stroke-opacity="0.30" stroke-width="0.8" fill="none"/><path d="M584.4,1083.1 Q525.3,1077.2 482.7,1035.9" stroke="#1a9cf0" stroke-opacity="0.26" stroke-width="0.8" fill="none"/><path d="M520.9,1095.5 Q489.5,1171.1 414.1,1203.1" stroke="#8000ff" stroke-opacity="0.28" stroke-width="0.8" fill="none"/><path d="M497.2,1250.1 Q495.9,1210.4 471.3,1179.1" stroke="#1a9cf0" stroke-opacity="0.26" stroke-width="1.5" fill="none"/><path d="M562.4,1335.5 Q598.9,1340.1 619.1,1309.3" stroke="#68f5c8" stroke-opacity="0.26" stroke-width="1.0" fill="none"/><path d="M673.0,1396.3 Q668.3,1462.9 617.4,1506.0" stroke="#ff5a32" stroke-opacity="0.40" stroke-width="1.0" fill="none"/><path d="M530.5,1400.2 Q522.1,1476.9 562.0,1542.8" stroke="#1a9cf0" stroke-opacity="0.40" stroke-width="1.0" fill="none"/><path d="M491.5,1470.3 Q503.2,1511.9 546.2,1516.2" stroke="#a0f5a0" stroke-opacity="0.40" stroke-width="1.0" fill="none"/><path d="M783.4,1393.9 Q802.4,1476.4 866.0,1532.3" stroke="#1a9cf0" stroke-opacity="0.40" stroke-width="1.0" fill="none"/><path d="M634.1,1413.1 Q614.6,1501.7 524.8,1515.1" stroke="#4b55f5" stroke-opacity="0.38" stroke-width="1.0" fill="none"/><path d="M638.1,1360.2 Q675.2,1428.8 634.2,1495.3" stroke="#4b55f5" stroke-opacity="0.38" stroke-width="1.0" fill="none"/><path d="M678.5,1327.8 Q707.2,1440.9 631.7,1529.8" stroke="#68f5c8" stroke-opacity="0.38" stroke-width="1.0" fill="none"/><path d="M661.6,1404.3 Q577.3,1429.5 560.9,1516.0" stroke="#ff0000" stroke-opacity="0.38" stroke-width="1.0" fill="none"/><path d="M529.0,1241.1 Q678.6,1127.6 841.7,1220.7" stroke="#68f5c8" stroke-opacity="0.38" stroke-width="1.0" fill="none"/><path d="M408.2,1226.4 Q610.7,1046.8 856.4,1160.2" stroke="#d3d784" stroke-opacity="0.38" stroke-width="1.0" fill="none"/><path d="M437.5,1210.0 Q634.7,1122.8 823.5,1227.1" stroke="#a0f5a0" stroke-opacity="0.38" stroke-width="1.0" fill="none"/><path d="M586.3,1293.1 Q740.2,1291.2 836.3,1170.9" stroke="#fb9f5a" stroke-opacity="0.38" stroke-width="1.0" fill="none"/><path d="M623.5,1316.6 Q789.1,1334.3 917.2,1227.9" stroke="#ff0000" stroke-opacity="0.38" stroke-width="1.0" fill="none"/><path d="M603.3,1180.2 Q704.8,1264.4 816.6,1194.5" stroke="#fb9f5a" stroke-opacity="0.38" stroke-width="1.0" fill="none"/><path d="M543.6,1317.8 Q712.6,1198.1 917.5,1228.0" stroke="#ff5a32" stroke-opacity="0.38" stroke-width="1.0" fill="none"/><path d="M395.9,1281.6 Q592.7,1080.3 856.4,1178.9" stroke="#fb9f5a" stroke-opacity="0.38" stroke-width="1.0" fill="none"/><path d="M488.9,1074.2 Q667.6,1215.6 887.6,1156.0" stroke="#a0f5a0" stroke-opacity="0.38" stroke-width="1.0" fill="none"/><path d="M605.5,1268.5 Q774.6,1263.5 862.0,1408.4" stroke="#4b55f5" stroke-opacity="0.38" stroke-width="1.0" fill="none"/><path d="M447.8,1177.1 Q686.0,1289.0 917.3,1163.5" stroke="#4b55f5" stroke-opacity="0.38" stroke-width="1.0" fill="none"/><path d="M760.4,1229.5 Q797.2,1259.5 842.7,1245.9" stroke="#30dcdc" stroke-opacity="0.38" stroke-width="1.0" fill="none"/><path d="M474.3,1156.8 Q621.6,1000.0 811.4,1101.3" stroke="#d3d784" stroke-opacity="0.38" stroke-width="1.0" fill="none"/><path d="M474.3,1156.8 Q714.3,1227.2 840.8,1011.4" stroke="#1a9cf0" stroke-opacity="0.38" stroke-width="1.0" fill="none"/><path d="M460.0,1233.9 Q596.5,1081.8 800.1,1099.0" stroke="#4b55f5" stroke-opacity="0.38" stroke-width="1.0" fill="none"/><path d="M557.9,1212.5 Q708.3,1324.1 861.0,1215.6" stroke="#ff0000" stroke-opacity="0.38" stroke-width="1.0" fill="none"/><path d="M729.8,1152.8 Q764.2,1098.8 827.1,1110.6" stroke="#ff0000" stroke-opacity="0.38" stroke-width="1.0" fill="none"/><path d="M491.2,1269.6 Q652.3,1145.2 850.4,1191.9" stroke="#a0f5a0" stroke-opacity="0.38" stroke-width="1.0" fill="none"/><path d="M674.5,1154.5 Q769.3,1191.8 858.2,1142.1" stroke="#fb9f5a" stroke-opacity="0.38" stroke-width="1.0" fill="none"/><path d="M528.6,1172.5 Q690.5,1141.6 809.2,1255.9" stroke="#1a9cf0" stroke-opacity="0.38" stroke-width="1.0" fill="none"/><path d="M437.0,1232.2 Q632.0,1363.8 823.5,1227.1" stroke="#d3d784" stroke-opacity="0.38" stroke-width="1.0" fill="none"/><path d="M423.3,1185.4 Q585.3,1339.1 807.8,1319.5" stroke="#fb9f5a" stroke-opacity="0.38" stroke-width="1.0" fill="none"/><path d="M498.3,1157.5 Q648.9,1006.6 860.2,1035.1" stroke="#ff0000" stroke-opacity="0.38" stroke-width="1.0" fill="none"/><path d="M447.0,1032.6 Q654.1,925.3 859.9,1035.2" stroke="#ff5a32" stroke-opacity="0.38" stroke-width="1.0" fill="none"/><path d="M487.8,1203.3 Q661.7,1270.8 803.5,1149.7" stroke="#ff0000" stroke-opacity="0.38" stroke-width="1.0" fill="none"/><path d="M413.9,1203.3 Q640.9,1276.8 800.1,1099.0" stroke="#30dcdc" stroke-opacity="0.38" stroke-width="1.0" fill="none"/><path d="M413.9,1203.3 Q680.6,1301.9 893.0,1112.9" stroke="#a0f5a0" stroke-opacity="0.38" stroke-width="1.0" fill="none"/><path d="M622.3,1164.8 Q684.7,1053.4 811.4,1038.5" stroke="#ff5a32" stroke-opacity="0.38" stroke-width="1.0" fill="none"/><path d="M605.5,1268.5 Q718.9,1173.8 860.6,1215.7" stroke="#ff0000" stroke-opacity="0.38" stroke-width="1.0" fill="none"/><path d="M402.8,1155.2 Q631.0,1397.0 917.2,1227.9" stroke="#ff0000" stroke-opacity="0.38" stroke-width="1.0" fill="none"/><path d="M447,1032.6 Q452,1060 465.3,1084.2" stroke="#30dcdc" stroke-opacity="0.4" stroke-width="2.5" fill="none"/><path d="M447,1032.6 Q445,1065 466,1093.2" stroke="#1a9cf0" stroke-opacity="0.35" stroke-width="2" fill="none"/><path d="M447,1032.6 Q440,1070 463.3,1100.1" stroke="#8000ff" stroke-opacity="0.3" stroke-width="2" fill="none"/><path d="M447,1032.6 Q455,1050 472.4,1062.4" stroke="#30dcdc" stroke-opacity="0.4" stroke-width="2" fill="none"/><path d="M447,1032.6 Q430,1090 446.7,1137.8" stroke="#68f5c8" stroke-opacity="0.35" stroke-width="1.5" fill="none"/><path d="M447,1032.6 Q420,1100 436.2,1153.7" stroke="#4b55f5" stroke-opacity="0.3" stroke-width="1.5" fill="none"/><path d="M447,1032.6 Q470,1100 471.3,1179.1" stroke="#30dcdc" stroke-opacity="0.3" stroke-width="1.5" fill="none"/><path d="M447,1032.6 Q415,1060 410.6,1088.1" stroke="#a0f5a0" stroke-opacity="0.4" stroke-width="1.2" fill="none"/><path d="M447,1032.6 Q470,1045 488.9,1074.2" stroke="#ff5a32" stroke-opacity="0.35" stroke-width="1.2" fill="none"/><path d="M447,1032.6 Q400,1070 395.9,1126" stroke="#a0f5a0" stroke-opacity="0.35" stroke-width="1.2" fill="none"/><path d="M783.4,1393.9 C760,1365 718,1362 698,1392 S640,1434 623,1427 S578,1410 562,1393" stroke="#8000ff" stroke-opacity="0.3" fill="none" stroke-width="3.2"/><path d="M882.6,1360.3 C850,1355 820,1340 807.8,1319.5 S790,1312 768.6,1324.3" stroke="#8000ff" stroke-opacity="0.3" fill="none" stroke-width="3.2"/><path d="M720,1373 C745,1376 770,1385 783.5,1393.7" stroke="#8000ff" stroke-opacity="0.3" fill="none" stroke-width="3.2"/><path d="M807.8,1319.5 C795,1300 770,1285 740,1270 S705,1255 690,1250" stroke="#8000ff" stroke-opacity="0.3" fill="none" stroke-width="3"/><path d="M109.6,1037.8 Q135,1057 166.2,1055" stroke="#1a9cf0" stroke-opacity="0.3" fill="none" stroke-width="1.5"/><path d="M166.2,1055 C200,1052 222,1068 235.7,1080.3 C262,1108 300,1126 334.9,1125.8" stroke="#1a9cf0" stroke-opacity="0.3" fill="none" stroke-width="2.8"/><path d="M334.9,1125.8 Q328,1160 287,1170.9" stroke="#8000ff" stroke-opacity="0.3" fill="none" stroke-width="2.6"/><path d="M334.9,1125.8 Q350,1140 372,1150" stroke="#1a9cf0" stroke-opacity="0.35" stroke-width="1" fill="none"/><path d="M294.1,1075.2 Q330,1085 339.5,1113.7 Q348,1150 368,1165" stroke="#d3d784" stroke-opacity="0.5" stroke-width="1" fill="none"/><path d="M284.4,1147.3 Q315,1165 352,1172" stroke="#1a9cf0" stroke-opacity="0.3" fill="none" stroke-width="2.5"/><path d="M233.3,1172.4 Q275,1162 312.3,1188.1 Q330,1198 346.3,1205.2" stroke="#8000ff" stroke-opacity="0.3" fill="none" stroke-width="3"/><path d="M233.3,1172.4 Q222,1192 234,1210.9" stroke="#8000ff" stroke-opacity="0.3" fill="none" stroke-width="2.6"/><path d="M234,1210.9 Q252,1190 269,1184.8 Q300,1178 326.3,1192.2" stroke="#8000ff" stroke-opacity="0.3" fill="none" stroke-width="2.8"/><path d="M269,1184.8 Q300,1178 352,1181" stroke="#8000ff" stroke-opacity="0.3" fill="none" stroke-width="3"/><path d="M269,1184.8 Q268,1205 288.6,1216.5" stroke="#8000ff" stroke-opacity="0.3" fill="none" stroke-width="3"/><path d="M288.6,1216.5 Q298,1198 326.3,1192.2" stroke="#8000ff" stroke-opacity="0.3" fill="none" stroke-width="2.8"/><path d="M287.9,1241.1 Q315,1225 326.3,1192.2" stroke="#8000ff" stroke-opacity="0.3" fill="none" stroke-width="2.8"/><path d="M326.3,1192.2 Q360,1200 395,1210" stroke="#8000ff" stroke-opacity="0.3" fill="none" stroke-width="2.5"/><path d="M312.3,1188.1 Q345,1180 380,1185" stroke="#8000ff" stroke-opacity="0.3" fill="none" stroke-width="2"/><path d="M287,1170.9 Q320,1178 352,1178" stroke="#8000ff" stroke-opacity="0.3" stroke-width="1.2" fill="none"/><path d="M315.7,1236.3 Q330,1236 352,1238" stroke="#4b55f5" stroke-opacity="0.28" fill="none" stroke-width="2.2"/><path d="M323.6,1274.6 Q335,1262 346,1258" stroke="#8000ff" stroke-opacity="0.3" fill="none" stroke-width="2.5"/><path d="M314.7,1211.7 Q330,1218 355,1215" stroke="#ff5a32" stroke-opacity="0.35" stroke-width="1" fill="none"/><path d="M305.4,999.3 Q318,1035 351.5,1043.2" stroke="#8000ff" stroke-opacity="0.3" fill="none" stroke-width="3"/><path d="M351.5,1043.2 Q378,1048 386.2,1064.6" stroke="#8000ff" stroke-opacity="0.3" fill="none" stroke-width="3.2"/><path d="M378.4,1040.9 Q392,1050 386.2,1064.6" stroke="#8000ff" stroke-opacity="0.3" fill="none" stroke-width="2.2"/><path d="M378.4,1040.9 Q398,1058 395.7,1080.1" stroke="#8000ff" stroke-opacity="0.3" fill="none" stroke-width="2.2"/><path d="M386.2,1064.6 Q392,1072 395.7,1080.1" stroke="#8000ff" stroke-opacity="0.3" fill="none" stroke-width="2"/><path d="M379.3,987 Q380,1025 414.8,1046.8" stroke="#4b55f5" stroke-opacity="0.28" fill="none" stroke-width="3"/><path d="M414.8,1046.8 Q440,1070 466,1093" stroke="#8000ff" stroke-opacity="0.3" fill="none" stroke-width="3"/><path d="M395.7,1080.1 Q385,1082 376.5,1090.7" stroke="#8000ff" stroke-opacity="0.3" fill="none" stroke-width="2.5"/><path d="M376.5,1090.7 Q420,1075 446.8,1032.6" stroke="#a0f5a0" stroke-opacity="0.5" stroke-width="1" fill="none"/><path d="M376.5,1090.7 Q350,1130 339.2,1176.7" stroke="#a0f5a0" stroke-opacity="0.45" stroke-width="1" fill="none"/><path d="M386.2,1064.6 Q420,1090 460,1090" stroke="#8000ff" stroke-opacity="0.3" stroke-width="1" fill="none"/><path d="M378.5,1121.7 Q400,1110 430,1115" stroke="#68f5c8" stroke-opacity="0.45" stroke-width="1" fill="none"/><path d="M378.5,1121.7 Q410,1150 447,1150" stroke="#30dcdc" stroke-opacity="0.4" stroke-width="1" fill="none"/><path d="M396,1080 Q430,1110 470,1120" stroke="#1a9cf0" stroke-opacity="0.35" stroke-width="1.2" fill="none"/><circle cx="459.3" cy="869.3" r="5.00" fill="#ff5a32"/><circle cx="459.3" cy="869.3" r="3.33" fill="#fb9f5a"/><circle cx="459.3" cy="869.3" r="1.50" fill="#a0f5a0"/><circle cx="487.8" cy="932.4" r="3.50" fill="#ff0000"/><circle cx="487.8" cy="932.4" r="1.57" fill="#ff5a32"/><circle cx="534.8" cy="901.2" r="2.70" fill="#ff0000"/><circle cx="577.4" cy="841.6" r="2.70" fill="#ff0000"/><circle cx="629.5" cy="834.9" r="2.70" fill="#ff0000"/><circle cx="570.5" cy="882.4" r="2.50" fill="#ff5a32"/><circle cx="621.8" cy="899.6" r="3.50" fill="#ff0000"/><circle cx="589.4" cy="909.3" r="3.50" fill="#ff0000"/><circle cx="557.4" cy="957.4" r="2.70" fill="#ff0000"/><circle cx="590.5" cy="955.8" r="3.30" fill="#ff0000"/><circle cx="590.5" cy="955.8" r="1.48" fill="#ff5a32"/><circle cx="618.2" cy="953.4" r="3.30" fill="#ff0000"/><circle cx="618.2" cy="953.4" r="1.48" fill="#ff5a32"/><circle cx="652.1" cy="923.2" r="2.70" fill="#ff0000"/><circle cx="625.9" cy="932.4" r="2.50" fill="#ff0000"/><circle cx="653.0" cy="942.7" r="5.00" fill="#ff0000"/><circle cx="653.0" cy="942.7" r="3.33" fill="#ff5a32"/><circle cx="653.0" cy="942.7" r="1.50" fill="#fb9f5a"/><circle cx="680.0" cy="912.4" r="2.50" fill="#d3d784"/><circle cx="687.7" cy="959.1" r="3.50" fill="#ff0000"/><circle cx="623.3" cy="983.6" r="3.40" fill="#ff0000"/><circle cx="623.3" cy="983.6" r="1.53" fill="#ff5a32"/><circle cx="676.5" cy="982.0" r="3.40" fill="#ff5a32"/><circle cx="676.5" cy="982.0" r="1.53" fill="#fb9f5a"/><circle cx="616.4" cy="1001.7" r="5.50" fill="#ff0000"/><circle cx="616.4" cy="1001.7" r="3.67" fill="#ff5a32"/><circle cx="616.4" cy="1001.7" r="1.65" fill="#fb9f5a"/><circle cx="636.4" cy="1014.0" r="6.50" fill="#ff0000"/><circle cx="636.4" cy="1014.0" r="4.33" fill="#ff5a32"/><circle cx="636.4" cy="1014.0" r="1.95" fill="#fb9f5a"/><circle cx="668.0" cy="1002.5" r="4.00" fill="#fb9f5a"/><circle cx="668.0" cy="1002.5" r="1.80" fill="#a0f5a0"/><circle cx="664.4" cy="1015.6" r="2.50" fill="#ff0000"/><circle cx="677.2" cy="1023.3" r="4.00" fill="#ff0000"/><circle cx="677.2" cy="1023.3" r="1.80" fill="#ff5a32"/><circle cx="588.7" cy="1008.2" r="4.00" fill="#fb9f5a"/><circle cx="588.7" cy="1008.2" r="2.67" fill="#a0f5a0"/><circle cx="588.7" cy="1008.2" r="1.20" fill="#68f5c8"/><circle cx="528.9" cy="1016.4" r="2.70" fill="#ff5a32"/><circle cx="457.5" cy="1022.0" r="2.50" fill="#ff5a32"/><circle cx="447.0" cy="1032.6" r="6.60" fill="#ff5a32"/><circle cx="447.0" cy="1032.6" r="4.95" fill="#68f5c8"/><circle cx="447.0" cy="1032.6" r="3.30" fill="#30dcdc"/><circle cx="447.0" cy="1032.6" r="1.48" fill="#1a9cf0"/><circle cx="482.7" cy="1035.9" r="2.50" fill="#1a9cf0"/><circle cx="630.2" cy="1037.2" r="3.50" fill="#ff0000"/><circle cx="575.6" cy="1036.8" r="2.50" fill="#fb9f5a"/><circle cx="735.7" cy="853.7" r="2.70" fill="#ff5a32"/><circle cx="711.4" cy="915.9" r="2.70" fill="#ff5a32"/><circle cx="741.7" cy="935.5" r="2.70" fill="#ff0000"/><circle cx="733.9" cy="967.4" r="3.50" fill="#ff0000"/><circle cx="704.3" cy="977.9" r="2.70" fill="#ff5a32"/><circle cx="749.6" cy="982.8" r="2.70" fill="#ff0000"/><circle cx="809.5" cy="961.4" r="2.70" fill="#ff0000"/><circle cx="830.3" cy="989.4" r="2.70" fill="#ff0000"/><circle cx="783.3" cy="1001.7" r="2.70" fill="#ff0000"/><circle cx="723.4" cy="1008.2" r="3.30" fill="#ff5a32"/><circle cx="723.4" cy="1008.2" r="2.20" fill="#1a9cf0"/><circle cx="723.4" cy="1008.2" r="1.00" fill="#8000ff"/><circle cx="700.0" cy="1011.4" r="3.50" fill="#ff0000"/><circle cx="700.0" cy="1011.4" r="1.57" fill="#ff5a32"/><circle cx="840.8" cy="1011.4" r="5.00" fill="#ff0000"/><circle cx="840.8" cy="1011.4" r="3.33" fill="#ff5a32"/><circle cx="840.8" cy="1011.4" r="1.50" fill="#d3d784"/><circle cx="866.0" cy="1010.7" r="3.50" fill="#ff0000"/><circle cx="794.7" cy="1020.5" r="2.50" fill="#fb9f5a"/><circle cx="713.1" cy="1025.3" r="2.70" fill="#ff5a32"/><circle cx="753.1" cy="1031.0" r="2.70" fill="#ff5a32"/><circle cx="728.8" cy="1032.7" r="2.50" fill="#1a9cf0"/><circle cx="859.9" cy="1035.2" r="3.30" fill="#ff0000"/><circle cx="811.2" cy="1038.0" r="3.00" fill="#d3d784"/><circle cx="811.2" cy="1038.0" r="2.00" fill="#68f5c8"/><circle cx="811.2" cy="1038.0" r="1.00" fill="#1a9cf0"/><circle cx="109.6" cy="1037.8" r="1.80" fill="#1a9cf0"/><circle cx="166.2" cy="1055.0" r="2.70" fill="#1a9cf0"/><circle cx="235.7" cy="1080.3" r="1.80" fill="#1a9cf0"/><circle cx="334.9" cy="1125.8" r="2.70" fill="#1a9cf0"/><circle cx="334.9" cy="1125.8" r="1.22" fill="#8000ff"/><circle cx="294.1" cy="1075.2" r="2.70" fill="#d3d784"/><circle cx="339.5" cy="1113.7" r="2.70" fill="#d3d784"/><circle cx="305.4" cy="999.3" r="2.70" fill="#8000ff"/><circle cx="379.3" cy="987.0" r="2.70" fill="#4b55f5"/><circle cx="351.5" cy="1043.2" r="2.70" fill="#8000ff"/><circle cx="378.4" cy="1040.9" r="2.70" fill="#8000ff"/><circle cx="386.2" cy="1064.6" r="2.70" fill="#8000ff"/><circle cx="376.5" cy="1090.7" r="4.20" fill="#30dcdc"/><circle cx="376.5" cy="1090.7" r="1.89" fill="#8000ff"/><circle cx="378.5" cy="1121.7" r="3.00" fill="#68f5c8"/><circle cx="284.5" cy="1147.1" r="2.70" fill="#1a9cf0"/><circle cx="359.8" cy="1144.8" r="3.30" fill="#8000ff"/><circle cx="368.0" cy="1142.8" r="2.50" fill="#8000ff"/><circle cx="233.2" cy="1172.5" r="2.70" fill="#8000ff"/><circle cx="286.8" cy="1171.0" r="2.50" fill="#fb9f5a"/><circle cx="286.8" cy="1171.0" r="1.12" fill="#8000ff"/><circle cx="339.2" cy="1176.7" r="2.50" fill="#a0f5a0"/><circle cx="268.9" cy="1184.7" r="2.70" fill="#8000ff"/><circle cx="312.3" cy="1188.0" r="2.70" fill="#8000ff"/><circle cx="326.2" cy="1192.1" r="2.70" fill="#8000ff"/><circle cx="354.9" cy="1197.5" r="4.50" fill="#68f5c8"/><circle cx="354.9" cy="1197.5" r="3.00" fill="#30dcdc"/><circle cx="354.9" cy="1197.5" r="1.35" fill="#1a9cf0"/><circle cx="414.8" cy="1046.8" r="3.30" fill="#4b55f5"/><circle cx="414.8" cy="1046.8" r="1.48" fill="#8000ff"/><circle cx="395.7" cy="1080.1" r="3.30" fill="#1a9cf0"/><circle cx="395.7" cy="1080.1" r="1.48" fill="#8000ff"/><circle cx="427.1" cy="1081.0" r="2.50" fill="#30dcdc"/><circle cx="410.6" cy="1088.1" r="3.30" fill="#ff5a32"/><circle cx="410.6" cy="1088.1" r="1.48" fill="#d3d784"/><circle cx="413.2" cy="1094.0" r="2.50" fill="#4b55f5"/><circle cx="465.3" cy="1084.2" r="5.00" fill="#ff5a32"/><circle cx="465.3" cy="1084.2" r="3.75" fill="#68f5c8"/><circle cx="465.3" cy="1084.2" r="2.50" fill="#30dcdc"/><circle cx="465.3" cy="1084.2" r="1.12" fill="#1a9cf0"/><circle cx="466.0" cy="1093.2" r="5.50" fill="#ff0000"/><circle cx="466.0" cy="1093.2" r="4.12" fill="#68f5c8"/><circle cx="466.0" cy="1093.2" r="2.75" fill="#30dcdc"/><circle cx="466.0" cy="1093.2" r="1.24" fill="#1a9cf0"/><circle cx="463.3" cy="1100.1" r="6.30" fill="#ff0000"/><circle cx="463.3" cy="1100.1" r="4.20" fill="#a0f5a0"/><circle cx="463.3" cy="1100.1" r="1.89" fill="#68f5c8"/><circle cx="472.4" cy="1062.4" r="8.00" fill="#ff5a32"/><circle cx="472.4" cy="1062.4" r="5.33" fill="#fb9f5a"/><circle cx="472.4" cy="1062.4" r="2.40" fill="#d3d784"/><circle cx="529.1" cy="1054.7" r="3.50" fill="#ff0000"/><circle cx="529.1" cy="1054.7" r="2.33" fill="#ff5a32"/><circle cx="529.1" cy="1054.7" r="1.05" fill="#fb9f5a"/><circle cx="542.8" cy="1060.8" r="10.00" fill="#ff0000"/><circle cx="542.8" cy="1060.8" r="6.67" fill="#ff5a32"/><circle cx="542.8" cy="1060.8" r="3.00" fill="#fb9f5a"/><circle cx="488.9" cy="1074.2" r="4.00" fill="#ff0000"/><circle cx="488.9" cy="1074.2" r="1.80" fill="#ff5a32"/><circle cx="550.5" cy="1040.8" r="2.50" fill="#a0f5a0"/><circle cx="575.6" cy="1036.6" r="2.50" fill="#fb9f5a"/><circle cx="630.6" cy="1037.4" r="3.30" fill="#ff0000"/><circle cx="644.6" cy="1049.0" r="3.30" fill="#ff5a32"/><circle cx="644.6" cy="1049.0" r="2.20" fill="#fb9f5a"/><circle cx="644.6" cy="1049.0" r="1.00" fill="#1a9cf0"/><circle cx="611.3" cy="1052.3" r="3.80" fill="#ff0000"/><circle cx="611.3" cy="1052.3" r="1.71" fill="#ff5a32"/><circle cx="572.2" cy="1060.5" r="3.80" fill="#ff5a32"/><circle cx="572.2" cy="1060.5" r="2.53" fill="#fb9f5a"/><circle cx="572.2" cy="1060.5" r="1.14" fill="#d3d784"/><circle cx="651.8" cy="1064.4" r="5.00" fill="#ff0000"/><circle cx="651.8" cy="1064.4" r="3.33" fill="#ff5a32"/><circle cx="651.8" cy="1064.4" r="1.50" fill="#fb9f5a"/><circle cx="537.1" cy="1070.4" r="2.50" fill="#d3d784"/><circle cx="613.8" cy="1073.9" r="8.50" fill="#ff0000"/><circle cx="613.8" cy="1073.9" r="6.80" fill="#ff5a32"/><circle cx="613.8" cy="1073.9" r="5.10" fill="#fb9f5a"/><circle cx="613.8" cy="1073.9" r="3.40" fill="#d3d784"/><circle cx="613.8" cy="1073.9" r="1.53" fill="#a0f5a0"/><circle cx="605.3" cy="1073.9" r="4.00" fill="#ff0000"/><circle cx="671.1" cy="1074.7" r="4.50" fill="#ff0000"/><circle cx="671.1" cy="1074.7" r="3.00" fill="#ff5a32"/><circle cx="671.1" cy="1074.7" r="1.35" fill="#d3d784"/><circle cx="676.5" cy="1083.1" r="8.00" fill="#ff0000"/><circle cx="676.5" cy="1083.1" r="6.00" fill="#ff5a32"/><circle cx="676.5" cy="1083.1" r="4.00" fill="#fb9f5a"/><circle cx="676.5" cy="1083.1" r="1.80" fill="#68f5c8"/><circle cx="572.2" cy="1082.4" r="2.00" fill="#ff0000"/><circle cx="572.2" cy="1082.4" r="1.00" fill="#a0f5a0"/><circle cx="584.4" cy="1083.1" r="2.50" fill="#ff0000"/><circle cx="559.9" cy="1091.2" r="7.00" fill="#ff0000"/><circle cx="559.9" cy="1091.2" r="4.67" fill="#ff5a32"/><circle cx="559.9" cy="1091.2" r="2.10" fill="#fb9f5a"/><circle cx="585.3" cy="1094.7" r="6.00" fill="#ff0000"/><circle cx="585.3" cy="1094.7" r="4.00" fill="#ff5a32"/><circle cx="585.3" cy="1094.7" r="1.80" fill="#fb9f5a"/><circle cx="595.6" cy="1100.1" r="3.00" fill="#4b55f5"/><circle cx="602.6" cy="1102.9" r="3.80" fill="#ff0000"/><circle cx="619.8" cy="1096.2" r="6.50" fill="#d3d784"/><circle cx="619.8" cy="1096.2" r="4.88" fill="#a0f5a0"/><circle cx="619.8" cy="1096.2" r="3.25" fill="#30dcdc"/><circle cx="619.8" cy="1096.2" r="1.46" fill="#1a9cf0"/><circle cx="639.2" cy="1090.5" r="5.00" fill="#ff0000"/><circle cx="639.2" cy="1090.5" r="3.33" fill="#ff5a32"/><circle cx="639.2" cy="1090.5" r="1.50" fill="#fb9f5a"/><circle cx="635.7" cy="1098.2" r="2.30" fill="#fb9f5a"/><circle cx="640.3" cy="1108.6" r="5.50" fill="#ff0000"/><circle cx="640.3" cy="1108.6" r="3.67" fill="#ff5a32"/><circle cx="640.3" cy="1108.6" r="1.65" fill="#fb9f5a"/><circle cx="652.9" cy="1110.4" r="3.50" fill="#ff0000"/><circle cx="652.9" cy="1110.4" r="1.57" fill="#ff5a32"/><circle cx="663.4" cy="1110.4" r="3.80" fill="#ff5a32"/><circle cx="663.4" cy="1110.4" r="2.53" fill="#fb9f5a"/><circle cx="663.4" cy="1110.4" r="1.14" fill="#d3d784"/><circle cx="677.2" cy="1112.4" r="6.00" fill="#ff0000"/><circle cx="677.2" cy="1112.4" r="2.70" fill="#ff5a32"/><circle cx="607.2" cy="1116.3" r="3.80" fill="#ff5a32"/><circle cx="607.2" cy="1116.3" r="2.53" fill="#fb9f5a"/><circle cx="607.2" cy="1116.3" r="1.14" fill="#a0f5a0"/><circle cx="617.6" cy="1115.2" r="3.00" fill="#ff0000"/><circle cx="617.6" cy="1115.2" r="1.35" fill="#fb9f5a"/><circle cx="590.2" cy="1128.3" r="8.00" fill="#ff0000"/><circle cx="590.2" cy="1128.3" r="6.40" fill="#ff5a32"/><circle cx="590.2" cy="1128.3" r="4.80" fill="#fb9f5a"/><circle cx="590.2" cy="1128.3" r="3.20" fill="#d3d784"/><circle cx="590.2" cy="1128.3" r="1.44" fill="#a0f5a0"/><circle cx="625.6" cy="1141.7" r="12.00" fill="#ff0000"/><circle cx="625.6" cy="1141.7" r="8.00" fill="#ff5a32"/><circle cx="625.6" cy="1141.7" r="3.60" fill="#fb9f5a"/><circle cx="646.0" cy="1144.7" r="5.50" fill="#ff0000"/><circle cx="646.0" cy="1144.7" r="3.67" fill="#ff5a32"/><circle cx="646.0" cy="1144.7" r="1.65" fill="#fb9f5a"/><circle cx="657.2" cy="1152.5" r="2.50" fill="#a0f5a0"/><circle cx="657.2" cy="1152.5" r="1.12" fill="#30dcdc"/><circle cx="674.5" cy="1154.5" r="3.00" fill="#ff0000"/><circle cx="674.5" cy="1154.5" r="1.35" fill="#fb9f5a"/><circle cx="663.1" cy="1165.5" r="2.50" fill="#ff0000"/><circle cx="622.3" cy="1164.8" r="7.00" fill="#ff0000"/><circle cx="622.3" cy="1164.8" r="4.67" fill="#ff5a32"/><circle cx="622.3" cy="1164.8" r="2.10" fill="#d3d784"/><circle cx="599.2" cy="1149.4" r="4.50" fill="#ff0000"/><circle cx="599.2" cy="1149.4" r="3.00" fill="#ff5a32"/><circle cx="599.2" cy="1149.4" r="1.35" fill="#fb9f5a"/><circle cx="589.5" cy="1143.7" r="1.50" fill="#1a9cf0"/><circle cx="566.0" cy="1146.8" r="6.50" fill="#ff0000"/><circle cx="566.0" cy="1146.8" r="5.20" fill="#ff5a32"/><circle cx="566.0" cy="1146.8" r="3.90" fill="#a0f5a0"/><circle cx="566.0" cy="1146.8" r="2.60" fill="#30dcdc"/><circle cx="566.0" cy="1146.8" r="1.17" fill="#1a9cf0"/><circle cx="554.0" cy="1157.1" r="5.00" fill="#fb9f5a"/><circle cx="554.0" cy="1157.1" r="3.33" fill="#1a9cf0"/><circle cx="554.0" cy="1157.1" r="1.50" fill="#4b55f5"/><circle cx="565.6" cy="1164.0" r="5.00" fill="#ff0000"/><circle cx="565.6" cy="1164.0" r="4.00" fill="#ff5a32"/><circle cx="565.6" cy="1164.0" r="3.00" fill="#68f5c8"/><circle cx="565.6" cy="1164.0" r="2.00" fill="#1a9cf0"/><circle cx="565.6" cy="1164.0" r="1.00" fill="#8000ff"/><circle cx="575.9" cy="1159.4" r="3.00" fill="#ff0000"/><circle cx="563.3" cy="1128.3" r="2.50" fill="#a0f5a0"/><circle cx="549.9" cy="1134.0" r="5.50" fill="#ff0000"/><circle cx="549.9" cy="1134.0" r="3.67" fill="#ff5a32"/><circle cx="549.9" cy="1134.0" r="1.65" fill="#fb9f5a"/><circle cx="520.9" cy="1095.5" r="7.00" fill="#ff0000"/><circle cx="520.9" cy="1095.5" r="5.25" fill="#ff5a32"/><circle cx="520.9" cy="1095.5" r="3.50" fill="#fb9f5a"/><circle cx="520.9" cy="1095.5" r="1.57" fill="#68f5c8"/><circle cx="541.0" cy="1098.1" r="4.50" fill="#ff5a32"/><circle cx="541.0" cy="1098.1" r="3.00" fill="#68f5c8"/><circle cx="541.0" cy="1098.1" r="1.35" fill="#30dcdc"/><circle cx="530.9" cy="1120.1" r="12.00" fill="#ff0000"/><circle cx="530.9" cy="1120.1" r="9.60" fill="#ff5a32"/><circle cx="530.9" cy="1120.1" r="7.20" fill="#fb9f5a"/><circle cx="530.9" cy="1120.1" r="4.80" fill="#d3d784"/><circle cx="530.9" cy="1120.1" r="2.16" fill="#a0f5a0"/><circle cx="520.2" cy="1152.5" r="14.00" fill="#ff0000"/><circle cx="520.2" cy="1152.5" r="10.50" fill="#ff5a32"/><circle cx="520.2" cy="1152.5" r="7.00" fill="#fb9f5a"/><circle cx="520.2" cy="1152.5" r="3.15" fill="#d3d784"/><circle cx="498.3" cy="1157.5" r="8.50" fill="#ff0000"/><circle cx="498.3" cy="1157.5" r="6.38" fill="#ff5a32"/><circle cx="498.3" cy="1157.5" r="4.25" fill="#fb9f5a"/><circle cx="498.3" cy="1157.5" r="1.91" fill="#d3d784"/><circle cx="474.3" cy="1156.8" r="5.00" fill="#ff0000"/><circle cx="474.3" cy="1156.8" r="2.25" fill="#ff5a32"/><circle cx="501.7" cy="1087.5" r="3.30" fill="#fb9f5a"/><circle cx="501.7" cy="1087.5" r="1.48" fill="#30dcdc"/><circle cx="485.5" cy="1095.0" r="2.50" fill="#a0f5a0"/><circle cx="465.5" cy="1083.9" r="4.50" fill="#ff5a32"/><circle cx="465.5" cy="1083.9" r="3.60" fill="#fb9f5a"/><circle cx="465.5" cy="1083.9" r="2.70" fill="#68f5c8"/><circle cx="465.5" cy="1083.9" r="1.80" fill="#30dcdc"/><circle cx="465.5" cy="1083.9" r="1.00" fill="#1a9cf0"/><circle cx="432.4" cy="1113.2" r="6.50" fill="#ff5a32"/><circle cx="432.4" cy="1113.2" r="4.33" fill="#fb9f5a"/><circle cx="432.4" cy="1113.2" r="1.95" fill="#a0f5a0"/><circle cx="457.0" cy="1137.0" r="7.00" fill="#ff0000"/><circle cx="457.0" cy="1137.0" r="3.15" fill="#ff5a32"/><circle cx="410.5" cy="1088.2" r="3.30" fill="#ff5a32"/><circle cx="410.5" cy="1088.2" r="2.20" fill="#fb9f5a"/><circle cx="410.5" cy="1088.2" r="1.00" fill="#d3d784"/><circle cx="395.9" cy="1080.1" r="3.00" fill="#1a9cf0"/><circle cx="395.9" cy="1080.1" r="1.35" fill="#4b55f5"/><circle cx="412.8" cy="1094.4" r="2.50" fill="#4b55f5"/><circle cx="427.0" cy="1080.8" r="2.50" fill="#30dcdc"/><circle cx="395.9" cy="1126.0" r="4.00" fill="#ff5a32"/><circle cx="395.9" cy="1126.0" r="2.67" fill="#fb9f5a"/><circle cx="395.9" cy="1126.0" r="1.20" fill="#d3d784"/><circle cx="409.7" cy="1132.4" r="2.50" fill="#1a9cf0"/><circle cx="446.7" cy="1137.8" r="4.00" fill="#30dcdc"/><circle cx="413.9" cy="1143.7" r="5.00" fill="#ff0000"/><circle cx="413.9" cy="1143.7" r="3.33" fill="#ff5a32"/><circle cx="413.9" cy="1143.7" r="1.50" fill="#fb9f5a"/><circle cx="427.7" cy="1149.4" r="5.50" fill="#ff5a32"/><circle cx="427.7" cy="1149.4" r="4.12" fill="#fb9f5a"/><circle cx="427.7" cy="1149.4" r="2.75" fill="#a0f5a0"/><circle cx="427.7" cy="1149.4" r="1.24" fill="#68f5c8"/><circle cx="436.2" cy="1153.7" r="6.50" fill="#ff0000"/><circle cx="436.2" cy="1153.7" r="5.20" fill="#ff5a32"/><circle cx="436.2" cy="1153.7" r="3.90" fill="#d3d784"/><circle cx="436.2" cy="1153.7" r="2.60" fill="#68f5c8"/><circle cx="436.2" cy="1153.7" r="1.17" fill="#30dcdc"/><circle cx="402.8" cy="1155.2" r="3.00" fill="#30dcdc"/><circle cx="402.8" cy="1155.2" r="2.00" fill="#4b55f5"/><circle cx="402.8" cy="1155.2" r="1.00" fill="#8000ff"/><circle cx="444.7" cy="1161.7" r="3.50" fill="#fb9f5a"/><circle cx="444.7" cy="1161.7" r="1.57" fill="#d3d784"/><circle cx="468.9" cy="1169.7" r="5.50" fill="#ff0000"/><circle cx="468.9" cy="1169.7" r="3.67" fill="#ff5a32"/><circle cx="468.9" cy="1169.7" r="1.65" fill="#fb9f5a"/><circle cx="447.8" cy="1177.1" r="6.50" fill="#ff5a32"/><circle cx="447.8" cy="1177.1" r="5.42" fill="#fb9f5a"/><circle cx="447.8" cy="1177.1" r="4.33" fill="#a0f5a0"/><circle cx="447.8" cy="1177.1" r="3.25" fill="#68f5c8"/><circle cx="447.8" cy="1177.1" r="2.17" fill="#1a9cf0"/><circle cx="447.8" cy="1177.1" r="1.00" fill="#4b55f5"/><circle cx="500.1" cy="1177.1" r="3.00" fill="#ff0000"/><circle cx="528.6" cy="1172.5" r="2.50" fill="#a0f5a0"/><circle cx="528.6" cy="1172.5" r="1.67" fill="#30dcdc"/><circle cx="528.6" cy="1172.5" r="1.00" fill="#8000ff"/><circle cx="471.3" cy="1179.1" r="5.50" fill="#d3d784"/><circle cx="471.3" cy="1179.1" r="4.12" fill="#68f5c8"/><circle cx="471.3" cy="1179.1" r="2.75" fill="#30dcdc"/><circle cx="471.3" cy="1179.1" r="1.24" fill="#4b55f5"/><circle cx="478.6" cy="1185.3" r="6.00" fill="#ff0000"/><circle cx="478.6" cy="1185.3" r="4.80" fill="#ff5a32"/><circle cx="478.6" cy="1185.3" r="3.60" fill="#fb9f5a"/><circle cx="478.6" cy="1185.3" r="2.40" fill="#68f5c8"/><circle cx="478.6" cy="1185.3" r="1.08" fill="#30dcdc"/><circle cx="423.6" cy="1185.6" r="4.50" fill="#ff5a32"/><circle cx="423.6" cy="1185.6" r="3.00" fill="#fb9f5a"/><circle cx="423.6" cy="1185.6" r="1.35" fill="#d3d784"/><circle cx="384.5" cy="1182.0" r="12.00" fill="#ff0000"/><circle cx="384.5" cy="1182.0" r="9.60" fill="#ff5a32"/><circle cx="384.5" cy="1182.0" r="7.20" fill="#fb9f5a"/><circle cx="384.5" cy="1182.0" r="4.80" fill="#d3d784"/><circle cx="384.5" cy="1182.0" r="2.16" fill="#a0f5a0"/><circle cx="391.4" cy="1195.9" r="5.50" fill="#ff5a32"/><circle cx="391.4" cy="1195.9" r="4.12" fill="#fb9f5a"/><circle cx="391.4" cy="1195.9" r="2.75" fill="#a0f5a0"/><circle cx="391.4" cy="1195.9" r="1.24" fill="#68f5c8"/><circle cx="413.9" cy="1203.3" r="6.00" fill="#ff0000"/><circle cx="413.9" cy="1203.3" r="4.80" fill="#ff5a32"/><circle cx="413.9" cy="1203.3" r="3.60" fill="#fb9f5a"/><circle cx="413.9" cy="1203.3" r="2.40" fill="#a0f5a0"/><circle cx="413.9" cy="1203.3" r="1.08" fill="#30dcdc"/><circle cx="406.2" cy="1202.8" r="2.50" fill="#4b55f5"/><circle cx="428.8" cy="1202.8" r="2.50" fill="#4b55f5"/><circle cx="437.5" cy="1210.0" r="5.50" fill="#68f5c8"/><circle cx="437.5" cy="1210.0" r="4.12" fill="#30dcdc"/><circle cx="437.5" cy="1210.0" r="2.75" fill="#1a9cf0"/><circle cx="437.5" cy="1210.0" r="1.24" fill="#4b55f5"/><circle cx="487.8" cy="1203.3" r="7.00" fill="#ff0000"/><circle cx="487.8" cy="1203.3" r="4.67" fill="#ff5a32"/><circle cx="487.8" cy="1203.3" r="2.10" fill="#fb9f5a"/><circle cx="487.0" cy="1213.0" r="4.50" fill="#30dcdc"/><circle cx="487.0" cy="1213.0" r="3.00" fill="#1a9cf0"/><circle cx="487.0" cy="1213.0" r="1.35" fill="#4b55f5"/><circle cx="389.7" cy="1213.0" r="2.50" fill="#a0f5a0"/><circle cx="557.9" cy="1212.5" r="20.00" fill="#ff0000"/><circle cx="557.9" cy="1212.5" r="17.14" fill="#ff5a32"/><circle cx="557.9" cy="1212.5" r="14.29" fill="#fb9f5a"/><circle cx="557.9" cy="1212.5" r="11.43" fill="#d3d784"/><circle cx="557.9" cy="1212.5" r="8.57" fill="#a0f5a0"/><circle cx="557.9" cy="1212.5" r="5.71" fill="#68f5c8"/><circle cx="557.9" cy="1212.5" r="2.57" fill="#30dcdc"/><circle cx="612.9" cy="1211.0" r="4.50" fill="#a0f5a0"/><circle cx="612.9" cy="1211.0" r="3.38" fill="#68f5c8"/><circle cx="612.9" cy="1211.0" r="2.25" fill="#30dcdc"/><circle cx="612.9" cy="1211.0" r="1.01" fill="#1a9cf0"/><circle cx="603.3" cy="1193.7" r="2.50" fill="#a0f5a0"/><circle cx="622.9" cy="1197.1" r="3.00" fill="#68f5c8"/><circle cx="645.2" cy="1204.0" r="7.00" fill="#ff0000"/><circle cx="645.2" cy="1204.0" r="5.25" fill="#ff5a32"/><circle cx="645.2" cy="1204.0" r="3.50" fill="#fb9f5a"/><circle cx="645.2" cy="1204.0" r="1.57" fill="#d3d784"/><circle cx="633.8" cy="1218.2" r="4.50" fill="#ff0000"/><circle cx="633.8" cy="1218.2" r="3.00" fill="#ff5a32"/><circle cx="633.8" cy="1218.2" r="1.35" fill="#fb9f5a"/><circle cx="646.0" cy="1220.2" r="6.00" fill="#ff0000"/><circle cx="646.0" cy="1220.2" r="4.00" fill="#ff5a32"/><circle cx="646.0" cy="1220.2" r="1.80" fill="#fb9f5a"/><circle cx="615.6" cy="1226.4" r="4.50" fill="#ff0000"/><circle cx="615.6" cy="1226.4" r="3.00" fill="#ff5a32"/><circle cx="615.6" cy="1226.4" r="1.35" fill="#68f5c8"/><circle cx="601.0" cy="1234.1" r="5.50" fill="#ff0000"/><circle cx="601.0" cy="1234.1" r="4.40" fill="#ff5a32"/><circle cx="601.0" cy="1234.1" r="3.30" fill="#fb9f5a"/><circle cx="601.0" cy="1234.1" r="2.20" fill="#d3d784"/><circle cx="601.0" cy="1234.1" r="1.00" fill="#30dcdc"/><circle cx="646.0" cy="1237.2" r="5.00" fill="#ff0000"/><circle cx="646.0" cy="1237.2" r="3.33" fill="#ff5a32"/><circle cx="646.0" cy="1237.2" r="1.50" fill="#fb9f5a"/><circle cx="527.8" cy="1238.0" r="6.00" fill="#fb9f5a"/><circle cx="527.8" cy="1238.0" r="4.00" fill="#68f5c8"/><circle cx="527.8" cy="1238.0" r="1.80" fill="#30dcdc"/><circle cx="472.9" cy="1227.1" r="4.50" fill="#ff0000"/><circle cx="472.9" cy="1227.1" r="3.00" fill="#ff5a32"/><circle cx="472.9" cy="1227.1" r="1.35" fill="#a0f5a0"/><circle cx="501.7" cy="1231.8" r="4.00" fill="#ff0000"/><circle cx="501.7" cy="1231.8" r="2.67" fill="#ff5a32"/><circle cx="501.7" cy="1231.8" r="1.20" fill="#fb9f5a"/><circle cx="446.7" cy="1224.1" r="2.50" fill="#ff5a32"/><circle cx="446.7" cy="1224.1" r="1.67" fill="#30dcdc"/><circle cx="446.7" cy="1224.1" r="1.00" fill="#1a9cf0"/><circle cx="437.0" cy="1232.2" r="5.50" fill="#ff5a32"/><circle cx="437.0" cy="1232.2" r="3.67" fill="#30dcdc"/><circle cx="437.0" cy="1232.2" r="1.65" fill="#1a9cf0"/><circle cx="459.8" cy="1233.8" r="2.50" fill="#8000ff"/><circle cx="408.2" cy="1226.4" r="2.50" fill="#a0f5a0"/><circle cx="408.2" cy="1226.4" r="1.12" fill="#1a9cf0"/><circle cx="603.3" cy="1180.2" r="6.00" fill="#ff0000"/><circle cx="603.3" cy="1180.2" r="2.70" fill="#ff5a32"/><circle cx="478.0" cy="1185.4" r="6.00" fill="#ff0000"/><circle cx="478.0" cy="1185.4" r="4.80" fill="#ff5a32"/><circle cx="478.0" cy="1185.4" r="3.60" fill="#fb9f5a"/><circle cx="478.0" cy="1185.4" r="2.40" fill="#68f5c8"/><circle cx="478.0" cy="1185.4" r="1.08" fill="#30dcdc"/><circle cx="677.4" cy="1023.1" r="3.30" fill="#ff0000"/><circle cx="713.1" cy="1025.4" r="2.50" fill="#ff5a32"/><circle cx="728.5" cy="1032.6" r="2.50" fill="#1a9cf0"/><circle cx="753.2" cy="1031.1" r="2.50" fill="#ff5a32"/><circle cx="794.8" cy="1020.8" r="2.50" fill="#fb9f5a"/><circle cx="682.0" cy="1042.6" r="3.00" fill="#d3d784"/><circle cx="682.0" cy="1042.6" r="1.35" fill="#30dcdc"/><circle cx="695.7" cy="1049.7" r="6.50" fill="#ff0000"/><circle cx="695.7" cy="1049.7" r="4.88" fill="#ff5a32"/><circle cx="695.7" cy="1049.7" r="3.25" fill="#fb9f5a"/><circle cx="695.7" cy="1049.7" r="1.46" fill="#d3d784"/><circle cx="740.8" cy="1049.0" r="3.30" fill="#ff0000"/><circle cx="761.9" cy="1042.6" r="4.00" fill="#ff0000"/><circle cx="761.9" cy="1042.6" r="2.67" fill="#ff5a32"/><circle cx="761.9" cy="1042.6" r="1.20" fill="#fb9f5a"/><circle cx="811.4" cy="1038.5" r="3.30" fill="#d3d784"/><circle cx="811.4" cy="1038.5" r="2.20" fill="#68f5c8"/><circle cx="811.4" cy="1038.5" r="1.00" fill="#4b55f5"/><circle cx="860.2" cy="1035.1" r="3.30" fill="#ff0000"/><circle cx="680.8" cy="1059.0" r="3.00" fill="#fb9f5a"/><circle cx="680.8" cy="1059.0" r="1.35" fill="#ff5a32"/><circle cx="706.2" cy="1063.9" r="3.30" fill="#ff0000"/><circle cx="782.9" cy="1067.0" r="2.50" fill="#ff0000"/><circle cx="839.1" cy="1076.2" r="2.70" fill="#ff0000"/><circle cx="795.5" cy="1079.3" r="3.30" fill="#ff5a32"/><circle cx="795.5" cy="1079.3" r="1.48" fill="#fb9f5a"/><circle cx="954.9" cy="1082.1" r="4.00" fill="#ff5a32"/><circle cx="954.9" cy="1082.1" r="1.80" fill="#fb9f5a"/><circle cx="678.5" cy="1083.9" r="8.00" fill="#ff0000"/><circle cx="678.5" cy="1083.9" r="6.40" fill="#ff5a32"/><circle cx="678.5" cy="1083.9" r="4.80" fill="#fb9f5a"/><circle cx="678.5" cy="1083.9" r="3.20" fill="#d3d784"/><circle cx="678.5" cy="1083.9" r="1.44" fill="#a0f5a0"/><circle cx="671.5" cy="1074.7" r="4.00" fill="#ff5a32"/><circle cx="671.5" cy="1074.7" r="2.67" fill="#fb9f5a"/><circle cx="671.5" cy="1074.7" r="1.20" fill="#d3d784"/><circle cx="716.7" cy="1080.8" r="4.00" fill="#fb9f5a"/><circle cx="716.7" cy="1080.8" r="1.80" fill="#d3d784"/><circle cx="707.0" cy="1082.7" r="2.50" fill="#ff5a32"/><circle cx="686.2" cy="1097.0" r="3.50" fill="#ff5a32"/><circle cx="686.2" cy="1097.0" r="2.33" fill="#fb9f5a"/><circle cx="686.2" cy="1097.0" r="1.05" fill="#d3d784"/><circle cx="702.3" cy="1098.5" r="6.00" fill="#ff0000"/><circle cx="702.3" cy="1098.5" r="2.70" fill="#ff5a32"/><circle cx="730.5" cy="1097.0" r="8.00" fill="#ff0000"/><circle cx="730.5" cy="1097.0" r="6.40" fill="#ff5a32"/><circle cx="730.5" cy="1097.0" r="4.80" fill="#fb9f5a"/><circle cx="730.5" cy="1097.0" r="3.20" fill="#d3d784"/><circle cx="730.5" cy="1097.0" r="1.44" fill="#a0f5a0"/><circle cx="736.7" cy="1101.2" r="3.30" fill="#ff0000"/><circle cx="736.7" cy="1101.2" r="1.48" fill="#ff5a32"/><circle cx="743.3" cy="1092.4" r="3.00" fill="#a0f5a0"/><circle cx="743.3" cy="1092.4" r="1.35" fill="#4b55f5"/><circle cx="785.2" cy="1095.5" r="5.00" fill="#ff0000"/><circle cx="785.2" cy="1095.5" r="3.75" fill="#ff5a32"/><circle cx="785.2" cy="1095.5" r="2.50" fill="#fb9f5a"/><circle cx="785.2" cy="1095.5" r="1.12" fill="#d3d784"/><circle cx="800.1" cy="1099.0" r="2.50" fill="#ff0000"/><circle cx="811.4" cy="1101.3" r="2.50" fill="#ff0000"/><circle cx="774.7" cy="1102.1" r="2.50" fill="#30dcdc"/><circle cx="827.1" cy="1110.6" r="4.00" fill="#ff0000"/><circle cx="827.1" cy="1110.6" r="1.80" fill="#fb9f5a"/><circle cx="893.0" cy="1112.9" r="2.50" fill="#ff5a32"/><circle cx="676.9" cy="1112.4" r="6.00" fill="#ff0000"/><circle cx="676.9" cy="1112.4" r="4.00" fill="#ff5a32"/><circle cx="676.9" cy="1112.4" r="1.80" fill="#fb9f5a"/><circle cx="683.6" cy="1106.2" r="3.00" fill="#ff0000"/><circle cx="683.6" cy="1106.2" r="1.35" fill="#ff5a32"/><circle cx="707.0" cy="1118.6" r="6.00" fill="#ff0000"/><circle cx="759.0" cy="1111.2" r="3.00" fill="#fb9f5a"/><circle cx="759.0" cy="1111.2" r="1.35" fill="#d3d784"/><circle cx="749.6" cy="1121.6" r="4.00" fill="#ff0000"/><circle cx="749.6" cy="1121.6" r="2.67" fill="#ff5a32"/><circle cx="749.6" cy="1121.6" r="1.20" fill="#fb9f5a"/><circle cx="798.3" cy="1119.3" r="2.50" fill="#ff5a32"/><circle cx="780.9" cy="1127.5" r="6.50" fill="#ff0000"/><circle cx="780.9" cy="1127.5" r="5.20" fill="#ff5a32"/><circle cx="780.9" cy="1127.5" r="3.90" fill="#fb9f5a"/><circle cx="780.9" cy="1127.5" r="2.60" fill="#d3d784"/><circle cx="780.9" cy="1127.5" r="1.17" fill="#a0f5a0"/><circle cx="690.5" cy="1122.4" r="3.00" fill="#d3d784"/><circle cx="690.5" cy="1122.4" r="1.35" fill="#fb9f5a"/><circle cx="702.7" cy="1130.6" r="5.00" fill="#ff5a32"/><circle cx="702.7" cy="1130.6" r="3.33" fill="#fb9f5a"/><circle cx="702.7" cy="1130.6" r="1.50" fill="#d3d784"/><circle cx="726.2" cy="1129.0" r="4.00" fill="#ff0000"/><circle cx="726.2" cy="1129.0" r="2.67" fill="#ff5a32"/><circle cx="726.2" cy="1129.0" r="1.20" fill="#fb9f5a"/><circle cx="727.8" cy="1136.6" r="2.70" fill="#ff5a32"/><circle cx="727.8" cy="1136.6" r="1.22" fill="#30dcdc"/><circle cx="751.6" cy="1136.6" r="2.50" fill="#ff5a32"/><circle cx="823.5" cy="1134.0" r="2.50" fill="#68f5c8"/><circle cx="858.2" cy="1142.1" r="2.50" fill="#30dcdc"/><circle cx="801.7" cy="1139.7" r="4.00" fill="#ff0000"/><circle cx="801.7" cy="1139.7" r="1.80" fill="#ff5a32"/><circle cx="803.5" cy="1149.7" r="3.30" fill="#ff0000"/><circle cx="803.5" cy="1149.7" r="1.48" fill="#a0f5a0"/><circle cx="680.0" cy="1145.5" r="4.50" fill="#ff0000"/><circle cx="680.0" cy="1145.5" r="3.00" fill="#ff5a32"/><circle cx="680.0" cy="1145.5" r="1.35" fill="#d3d784"/><circle cx="699.3" cy="1145.5" r="5.50" fill="#a0f5a0"/><circle cx="699.3" cy="1145.5" r="4.12" fill="#68f5c8"/><circle cx="699.3" cy="1145.5" r="2.75" fill="#30dcdc"/><circle cx="699.3" cy="1145.5" r="1.24" fill="#1a9cf0"/><circle cx="674.9" cy="1154.5" r="3.00" fill="#ff0000"/><circle cx="674.9" cy="1154.5" r="1.35" fill="#fb9f5a"/><circle cx="715.7" cy="1153.7" r="5.50" fill="#ff0000"/><circle cx="715.7" cy="1153.7" r="4.12" fill="#ff5a32"/><circle cx="715.7" cy="1153.7" r="2.75" fill="#fb9f5a"/><circle cx="715.7" cy="1153.7" r="1.24" fill="#d3d784"/><circle cx="729.8" cy="1152.8" r="6.50" fill="#ff0000"/><circle cx="729.8" cy="1152.8" r="4.88" fill="#ff5a32"/><circle cx="729.8" cy="1152.8" r="3.25" fill="#fb9f5a"/><circle cx="729.8" cy="1152.8" r="1.46" fill="#d3d784"/><circle cx="754.7" cy="1153.7" r="2.50" fill="#d3d784"/><circle cx="754.7" cy="1153.7" r="1.12" fill="#30dcdc"/><circle cx="778.3" cy="1157.5" r="5.00" fill="#ff0000"/><circle cx="778.3" cy="1157.5" r="2.25" fill="#ff5a32"/><circle cx="813.7" cy="1162.5" r="2.50" fill="#fb9f5a"/><circle cx="813.7" cy="1162.5" r="1.12" fill="#d3d784"/><circle cx="856.4" cy="1160.2" r="2.50" fill="#fb9f5a"/><circle cx="887.6" cy="1156.0" r="2.70" fill="#ff0000"/><circle cx="917.3" cy="1163.5" r="2.50" fill="#d3d784"/><circle cx="836.3" cy="1170.9" r="3.50" fill="#ff0000"/><circle cx="836.3" cy="1170.9" r="1.57" fill="#ff5a32"/><circle cx="856.4" cy="1178.9" r="2.50" fill="#68f5c8"/><circle cx="702.0" cy="1170.6" r="5.50" fill="#ff5a32"/><circle cx="702.0" cy="1170.6" r="4.12" fill="#fb9f5a"/><circle cx="702.0" cy="1170.6" r="2.75" fill="#d3d784"/><circle cx="702.0" cy="1170.6" r="1.24" fill="#a0f5a0"/><circle cx="744.4" cy="1172.2" r="6.50" fill="#ff0000"/><circle cx="744.4" cy="1172.2" r="2.93" fill="#ff5a32"/><circle cx="731.6" cy="1171.4" r="2.50" fill="#fb9f5a"/><circle cx="742.8" cy="1180.2" r="3.50" fill="#ff0000"/><circle cx="742.8" cy="1180.2" r="1.57" fill="#ff5a32"/><circle cx="680.0" cy="1180.2" r="7.00" fill="#ff0000"/><circle cx="680.0" cy="1180.2" r="5.25" fill="#ff5a32"/><circle cx="680.0" cy="1180.2" r="3.50" fill="#fb9f5a"/><circle cx="680.0" cy="1180.2" r="1.57" fill="#a0f5a0"/><circle cx="711.6" cy="1183.3" r="6.00" fill="#ff0000"/><circle cx="711.6" cy="1183.3" r="4.00" fill="#ff5a32"/><circle cx="711.6" cy="1183.3" r="1.80" fill="#fb9f5a"/><circle cx="697.3" cy="1181.4" r="2.50" fill="#fb9f5a"/><circle cx="775.8" cy="1182.0" r="4.50" fill="#ff0000"/><circle cx="775.8" cy="1182.0" r="3.00" fill="#ff5a32"/><circle cx="775.8" cy="1182.0" r="1.35" fill="#fb9f5a"/><circle cx="850.4" cy="1191.9" r="2.50" fill="#ff0000"/><circle cx="816.6" cy="1194.5" r="2.50" fill="#68f5c8"/><circle cx="745.9" cy="1200.2" r="10.00" fill="#ff0000"/><circle cx="745.9" cy="1200.2" r="4.50" fill="#ff5a32"/><circle cx="768.6" cy="1199.4" r="4.00" fill="#ff0000"/><circle cx="768.6" cy="1199.4" r="1.80" fill="#ff5a32"/><circle cx="780.1" cy="1205.9" r="2.50" fill="#ff0000"/><circle cx="789.7" cy="1205.3" r="3.50" fill="#ff0000"/><circle cx="789.7" cy="1205.3" r="2.33" fill="#ff5a32"/><circle cx="789.7" cy="1205.3" r="1.05" fill="#fb9f5a"/><circle cx="823.5" cy="1206.8" r="2.50" fill="#1a9cf0"/><circle cx="861.0" cy="1215.6" r="2.50" fill="#fb9f5a"/><circle cx="716.5" cy="1211.7" r="5.50" fill="#ff0000"/><circle cx="716.5" cy="1211.7" r="4.12" fill="#ff5a32"/><circle cx="716.5" cy="1211.7" r="2.75" fill="#fb9f5a"/><circle cx="716.5" cy="1211.7" r="1.24" fill="#d3d784"/><circle cx="739.3" cy="1214.8" r="6.00" fill="#ff0000"/><circle cx="739.3" cy="1214.8" r="4.50" fill="#ff5a32"/><circle cx="739.3" cy="1214.8" r="3.00" fill="#fb9f5a"/><circle cx="739.3" cy="1214.8" r="1.35" fill="#d3d784"/><circle cx="754.7" cy="1220.7" r="3.80" fill="#ff5a32"/><circle cx="754.7" cy="1220.7" r="2.53" fill="#fb9f5a"/><circle cx="754.7" cy="1220.7" r="1.14" fill="#d3d784"/><circle cx="775.8" cy="1218.2" r="3.80" fill="#ff0000"/><circle cx="775.8" cy="1218.2" r="2.53" fill="#ff5a32"/><circle cx="775.8" cy="1218.2" r="1.14" fill="#d3d784"/><circle cx="841.7" cy="1220.7" r="1.80" fill="#68f5c8"/><circle cx="823.5" cy="1227.1" r="5.50" fill="#ff0000"/><circle cx="823.5" cy="1227.1" r="4.12" fill="#ff5a32"/><circle cx="823.5" cy="1227.1" r="2.75" fill="#fb9f5a"/><circle cx="823.5" cy="1227.1" r="1.24" fill="#d3d784"/><circle cx="917.2" cy="1227.9" r="2.50" fill="#ff0000"/><circle cx="722.4" cy="1228.7" r="2.50" fill="#ff0000"/><circle cx="701.6" cy="1229.5" r="2.00" fill="#ff0000"/><circle cx="701.6" cy="1229.5" r="1.00" fill="#a0f5a0"/><circle cx="760.4" cy="1229.5" r="2.30" fill="#fb9f5a"/><circle cx="784.0" cy="1237.2" r="5.50" fill="#ff5a32"/><circle cx="784.0" cy="1237.2" r="4.40" fill="#fb9f5a"/><circle cx="784.0" cy="1237.2" r="3.30" fill="#a0f5a0"/><circle cx="784.0" cy="1237.2" r="2.20" fill="#30dcdc"/><circle cx="784.0" cy="1237.2" r="1.00" fill="#1a9cf0"/><circle cx="679.2" cy="1209.4" r="8.00" fill="#ff0000"/><circle cx="679.2" cy="1209.4" r="3.60" fill="#ff5a32"/><circle cx="790.7" cy="1200.8" r="2.50" fill="#fb9f5a"/><circle cx="747.8" cy="1241.0" r="3.00" fill="#fb9f5a"/><circle cx="755.7" cy="1246.9" r="4.50" fill="#ff5a32"/><circle cx="755.7" cy="1246.9" r="3.00" fill="#fb9f5a"/><circle cx="755.7" cy="1246.9" r="1.35" fill="#d3d784"/><circle cx="768.6" cy="1247.7" r="3.00" fill="#ff5a32"/><circle cx="768.6" cy="1247.7" r="2.00" fill="#fb9f5a"/><circle cx="768.6" cy="1247.7" r="1.00" fill="#d3d784"/><circle cx="842.7" cy="1245.9" r="3.30" fill="#30dcdc"/><circle cx="842.7" cy="1245.9" r="1.48" fill="#1a9cf0"/><circle cx="879.2" cy="1247.7" r="2.50" fill="#ff5a32"/><circle cx="809.2" cy="1255.9" r="5.50" fill="#ff0000"/><circle cx="809.2" cy="1255.9" r="4.12" fill="#ff5a32"/><circle cx="809.2" cy="1255.9" r="2.75" fill="#fb9f5a"/><circle cx="809.2" cy="1255.9" r="1.24" fill="#d3d784"/><circle cx="853.9" cy="1266.3" r="2.50" fill="#d3d784"/><circle cx="902.7" cy="1267.3" r="2.50" fill="#a0f5a0"/><circle cx="785.9" cy="1263.0" r="4.00" fill="#ff5a32"/><circle cx="785.9" cy="1263.0" r="1.80" fill="#fb9f5a"/><circle cx="792.1" cy="1263.3" r="3.30" fill="#1a9cf0"/><circle cx="792.1" cy="1263.3" r="1.48" fill="#4b55f5"/><circle cx="780.7" cy="1267.5" r="4.00" fill="#ff0000"/><circle cx="780.7" cy="1267.5" r="1.80" fill="#ff5a32"/><circle cx="722.7" cy="1270.4" r="3.50" fill="#d3d784"/><circle cx="722.7" cy="1270.4" r="2.33" fill="#a0f5a0"/><circle cx="722.7" cy="1270.4" r="1.05" fill="#8000ff"/><circle cx="740.8" cy="1277.7" r="3.00" fill="#68f5c8"/><circle cx="773.1" cy="1281.9" r="3.00" fill="#ff5a32"/><circle cx="773.1" cy="1281.9" r="2.00" fill="#fb9f5a"/><circle cx="773.1" cy="1281.9" r="1.00" fill="#d3d784"/><circle cx="758.4" cy="1289.3" r="3.00" fill="#ff0000"/><circle cx="758.4" cy="1289.3" r="1.35" fill="#a0f5a0"/><circle cx="834.8" cy="1288.3" r="2.50" fill="#fb9f5a"/><circle cx="901.8" cy="1288.6" r="2.50" fill="#ff5a32"/><circle cx="809.5" cy="1298.3" r="3.00" fill="#ff5a32"/><circle cx="809.5" cy="1298.3" r="1.35" fill="#d3d784"/><circle cx="727.4" cy="1300.2" r="4.00" fill="#ff0000"/><circle cx="727.4" cy="1300.2" r="1.80" fill="#fb9f5a"/><circle cx="846.1" cy="1310.5" r="2.50" fill="#ff5a32"/><circle cx="889.6" cy="1309.7" r="4.00" fill="#ff0000"/><circle cx="889.6" cy="1309.7" r="1.80" fill="#fb9f5a"/><circle cx="739.0" cy="1316.1" r="4.00" fill="#fb9f5a"/><circle cx="739.0" cy="1316.1" r="1.80" fill="#d3d784"/><circle cx="749.7" cy="1321.8" r="2.50" fill="#a0f5a0"/><circle cx="787.2" cy="1315.4" r="2.50" fill="#68f5c8"/><circle cx="807.8" cy="1319.5" r="2.50" fill="#8000ff"/><circle cx="768.6" cy="1324.3" r="2.50" fill="#8000ff"/><circle cx="840.9" cy="1322.8" r="2.50" fill="#ff0000"/><circle cx="790.7" cy="1336.6" r="3.30" fill="#fb9f5a"/><circle cx="790.7" cy="1336.6" r="1.48" fill="#68f5c8"/><circle cx="749.5" cy="1341.4" r="3.30" fill="#ff0000"/><circle cx="749.5" cy="1341.4" r="1.48" fill="#ff5a32"/><circle cx="829.6" cy="1345.6" r="2.50" fill="#d3d784"/><circle cx="803.6" cy="1354.5" r="3.30" fill="#4b55f5"/><circle cx="803.6" cy="1354.5" r="1.48" fill="#8000ff"/><circle cx="882.6" cy="1360.3" r="2.50" fill="#8000ff"/><circle cx="774.0" cy="1361.0" r="2.50" fill="#d3d784"/><circle cx="774.0" cy="1361.0" r="1.12" fill="#68f5c8"/><circle cx="806.0" cy="1376.8" r="2.50" fill="#ff0000"/><circle cx="734.9" cy="1372.3" r="8.00" fill="#ff0000"/><circle cx="734.9" cy="1372.3" r="6.00" fill="#ff5a32"/><circle cx="734.9" cy="1372.3" r="4.00" fill="#d3d784"/><circle cx="734.9" cy="1372.3" r="1.80" fill="#a0f5a0"/><circle cx="759.1" cy="1382.3" r="2.50" fill="#68f5c8"/><circle cx="783.5" cy="1393.7" r="3.50" fill="#1a9cf0"/><circle cx="783.5" cy="1393.7" r="1.57" fill="#8000ff"/><circle cx="740.1" cy="1395.2" r="2.50" fill="#ff5a32"/><circle cx="862.0" cy="1408.4" r="2.50" fill="#4b55f5"/><circle cx="882.6" cy="1361.0" r="2.50" fill="#8000ff"/><circle cx="234.2" cy="1210.8" r="2.70" fill="#8000ff"/><circle cx="269.0" cy="1184.6" r="2.70" fill="#8000ff"/><circle cx="312.4" cy="1187.7" r="2.70" fill="#8000ff"/><circle cx="326.3" cy="1192.0" r="2.70" fill="#8000ff"/><circle cx="346.3" cy="1204.6" r="2.70" fill="#8000ff"/><circle cx="288.7" cy="1216.5" r="2.70" fill="#8000ff"/><circle cx="287.8" cy="1241.1" r="2.70" fill="#8000ff"/><circle cx="323.5" cy="1274.4" r="2.70" fill="#8000ff"/><circle cx="314.7" cy="1211.9" r="4.00" fill="#ff5a32"/><circle cx="314.7" cy="1211.9" r="2.67" fill="#fb9f5a"/><circle cx="314.7" cy="1211.9" r="1.20" fill="#d3d784"/><circle cx="326.8" cy="1225.7" r="4.00" fill="#fb9f5a"/><circle cx="326.8" cy="1225.7" r="3.00" fill="#d3d784"/><circle cx="326.8" cy="1225.7" r="2.00" fill="#68f5c8"/><circle cx="326.8" cy="1225.7" r="1.00" fill="#30dcdc"/><circle cx="315.8" cy="1236.2" r="3.30" fill="#1a9cf0"/><circle cx="315.8" cy="1236.2" r="1.48" fill="#4b55f5"/><circle cx="362.8" cy="1201.1" r="2.50" fill="#30dcdc"/><circle cx="423.3" cy="1185.4" r="4.50" fill="#ff5a32"/><circle cx="423.3" cy="1185.4" r="3.00" fill="#fb9f5a"/><circle cx="423.3" cy="1185.4" r="1.35" fill="#d3d784"/><circle cx="414.1" cy="1203.1" r="6.00" fill="#ff0000"/><circle cx="414.1" cy="1203.1" r="4.80" fill="#ff5a32"/><circle cx="414.1" cy="1203.1" r="3.60" fill="#fb9f5a"/><circle cx="414.1" cy="1203.1" r="2.40" fill="#a0f5a0"/><circle cx="414.1" cy="1203.1" r="1.08" fill="#30dcdc"/><circle cx="486.8" cy="1213.1" r="4.50" fill="#30dcdc"/><circle cx="486.8" cy="1213.1" r="3.00" fill="#1a9cf0"/><circle cx="486.8" cy="1213.1" r="1.35" fill="#4b55f5"/><circle cx="375.9" cy="1221.3" r="5.00" fill="#1a9cf0"/><circle cx="375.9" cy="1221.3" r="3.33" fill="#4b55f5"/><circle cx="375.9" cy="1221.3" r="1.50" fill="#8000ff"/><circle cx="356.6" cy="1221.3" r="3.00" fill="#ff5a32"/><circle cx="356.6" cy="1221.3" r="1.35" fill="#d3d784"/><circle cx="389.7" cy="1213.1" r="2.50" fill="#a0f5a0"/><circle cx="407.9" cy="1226.2" r="2.70" fill="#d3d784"/><circle cx="407.9" cy="1226.2" r="1.22" fill="#1a9cf0"/><circle cx="447.2" cy="1223.9" r="3.00" fill="#ff5a32"/><circle cx="447.2" cy="1223.9" r="2.00" fill="#30dcdc"/><circle cx="447.2" cy="1223.9" r="1.00" fill="#4b55f5"/><circle cx="436.7" cy="1232.4" r="5.50" fill="#ff5a32"/><circle cx="436.7" cy="1232.4" r="4.12" fill="#30dcdc"/><circle cx="436.7" cy="1232.4" r="2.75" fill="#1a9cf0"/><circle cx="436.7" cy="1232.4" r="1.24" fill="#4b55f5"/><circle cx="473.1" cy="1227.0" r="5.00" fill="#ff0000"/><circle cx="473.1" cy="1227.0" r="3.33" fill="#ff5a32"/><circle cx="473.1" cy="1227.0" r="1.50" fill="#d3d784"/><circle cx="460.0" cy="1233.9" r="3.00" fill="#4b55f5"/><circle cx="460.0" cy="1233.9" r="1.35" fill="#8000ff"/><circle cx="367.1" cy="1235.4" r="2.30" fill="#fb9f5a"/><circle cx="479.2" cy="1239.3" r="2.30" fill="#fb9f5a"/><circle cx="471.4" cy="1243.1" r="3.50" fill="#4b55f5"/><circle cx="471.4" cy="1243.1" r="1.57" fill="#8000ff"/><circle cx="497.2" cy="1250.1" r="3.50" fill="#68f5c8"/><circle cx="497.2" cy="1250.1" r="1.57" fill="#30dcdc"/><circle cx="364.5" cy="1259.3" r="7.00" fill="#ff0000"/><circle cx="364.5" cy="1259.3" r="5.60" fill="#ff5a32"/><circle cx="364.5" cy="1259.3" r="4.20" fill="#fb9f5a"/><circle cx="364.5" cy="1259.3" r="2.80" fill="#d3d784"/><circle cx="364.5" cy="1259.3" r="1.26" fill="#a0f5a0"/><circle cx="347.9" cy="1264.7" r="5.00" fill="#68f5c8"/><circle cx="347.9" cy="1264.7" r="3.75" fill="#30dcdc"/><circle cx="347.9" cy="1264.7" r="2.50" fill="#1a9cf0"/><circle cx="347.9" cy="1264.7" r="1.12" fill="#4b55f5"/><circle cx="354.8" cy="1275.5" r="2.50" fill="#1a9cf0"/><circle cx="388.7" cy="1277.8" r="3.00" fill="#1a9cf0"/><circle cx="388.7" cy="1277.8" r="1.35" fill="#4b55f5"/><circle cx="395.9" cy="1281.6" r="2.50" fill="#a0f5a0"/><circle cx="438.0" cy="1263.9" r="7.00" fill="#ff0000"/><circle cx="438.0" cy="1263.9" r="4.67" fill="#ff5a32"/><circle cx="438.0" cy="1263.9" r="2.10" fill="#fb9f5a"/><circle cx="457.7" cy="1263.2" r="5.00" fill="#ff0000"/><circle cx="457.7" cy="1263.2" r="2.25" fill="#ff5a32"/><circle cx="491.4" cy="1269.8" r="4.50" fill="#ff0000"/><circle cx="491.4" cy="1269.8" r="3.38" fill="#ff5a32"/><circle cx="491.4" cy="1269.8" r="2.25" fill="#d3d784"/><circle cx="491.4" cy="1269.8" r="1.01" fill="#30dcdc"/><circle cx="374.0" cy="1298.3" r="8.50" fill="#ff0000"/><circle cx="374.0" cy="1298.3" r="6.80" fill="#68f5c8"/><circle cx="374.0" cy="1298.3" r="5.10" fill="#30dcdc"/><circle cx="374.0" cy="1298.3" r="3.40" fill="#1a9cf0"/><circle cx="374.0" cy="1298.3" r="1.53" fill="#4b55f5"/><circle cx="412.2" cy="1304.7" r="4.00" fill="#ff5a32"/><circle cx="412.2" cy="1304.7" r="2.67" fill="#a0f5a0"/><circle cx="412.2" cy="1304.7" r="1.20" fill="#30dcdc"/><circle cx="458.7" cy="1310.9" r="7.00" fill="#ff0000"/><circle cx="458.7" cy="1310.9" r="4.67" fill="#ff5a32"/><circle cx="458.7" cy="1310.9" r="2.10" fill="#fb9f5a"/><circle cx="471.4" cy="1318.6" r="4.00" fill="#30dcdc"/><circle cx="471.4" cy="1318.6" r="2.67" fill="#1a9cf0"/><circle cx="471.4" cy="1318.6" r="1.20" fill="#4b55f5"/><circle cx="399.4" cy="1326.0" r="2.50" fill="#d3d784"/><circle cx="455.7" cy="1332.9" r="2.50" fill="#d3d784"/><circle cx="421.0" cy="1331.7" r="3.00" fill="#ff0000"/><circle cx="404.8" cy="1350.2" r="6.00" fill="#ff0000"/><circle cx="404.8" cy="1350.2" r="4.00" fill="#ff5a32"/><circle cx="404.8" cy="1350.2" r="1.80" fill="#fb9f5a"/><circle cx="395.6" cy="1350.2" r="2.50" fill="#8000ff"/><circle cx="349.7" cy="1353.3" r="2.50" fill="#1a9cf0"/><circle cx="380.2" cy="1362.2" r="2.50" fill="#4b55f5"/><circle cx="399.4" cy="1380.2" r="2.50" fill="#4b55f5"/><circle cx="476.8" cy="1345.1" r="2.50" fill="#1a9cf0"/><circle cx="494.2" cy="1354.0" r="2.50" fill="#30dcdc"/><circle cx="456.4" cy="1380.2" r="3.30" fill="#ff0000"/><circle cx="456.4" cy="1380.2" r="1.48" fill="#fb9f5a"/><circle cx="468.0" cy="1384.8" r="3.30" fill="#fb9f5a"/><circle cx="468.0" cy="1384.8" r="1.48" fill="#d3d784"/><circle cx="460.0" cy="1400.0" r="2.50" fill="#8000ff"/><circle cx="498.8" cy="1317.0" r="2.50" fill="#d3d784"/><circle cx="529.0" cy="1241.1" r="8.00" fill="#ff5a32"/><circle cx="529.0" cy="1241.1" r="6.40" fill="#68f5c8"/><circle cx="529.0" cy="1241.1" r="4.80" fill="#30dcdc"/><circle cx="529.0" cy="1241.1" r="3.20" fill="#1a9cf0"/><circle cx="529.0" cy="1241.1" r="1.44" fill="#4b55f5"/><circle cx="529.6" cy="1258.2" r="8.00" fill="#ff5a32"/><circle cx="529.6" cy="1258.2" r="6.40" fill="#a0f5a0"/><circle cx="529.6" cy="1258.2" r="4.80" fill="#68f5c8"/><circle cx="529.6" cy="1258.2" r="3.20" fill="#30dcdc"/><circle cx="529.6" cy="1258.2" r="1.44" fill="#1a9cf0"/><circle cx="497.7" cy="1250.0" r="3.50" fill="#68f5c8"/><circle cx="497.7" cy="1250.0" r="2.33" fill="#30dcdc"/><circle cx="497.7" cy="1250.0" r="1.05" fill="#1a9cf0"/><circle cx="491.2" cy="1269.6" r="5.00" fill="#ff0000"/><circle cx="491.2" cy="1269.6" r="3.75" fill="#ff5a32"/><circle cx="491.2" cy="1269.6" r="2.50" fill="#d3d784"/><circle cx="491.2" cy="1269.6" r="1.12" fill="#68f5c8"/><circle cx="528.2" cy="1286.7" r="5.50" fill="#68f5c8"/><circle cx="528.2" cy="1286.7" r="4.12" fill="#30dcdc"/><circle cx="528.2" cy="1286.7" r="2.75" fill="#1a9cf0"/><circle cx="528.2" cy="1286.7" r="1.24" fill="#4b55f5"/><circle cx="600.9" cy="1234.6" r="6.50" fill="#ff0000"/><circle cx="600.9" cy="1234.6" r="5.20" fill="#ff5a32"/><circle cx="600.9" cy="1234.6" r="3.90" fill="#fb9f5a"/><circle cx="600.9" cy="1234.6" r="2.60" fill="#d3d784"/><circle cx="600.9" cy="1234.6" r="1.17" fill="#30dcdc"/><circle cx="614.8" cy="1241.9" r="3.00" fill="#68f5c8"/><circle cx="614.8" cy="1241.9" r="1.35" fill="#30dcdc"/><circle cx="572.4" cy="1248.5" r="7.00" fill="#ff0000"/><circle cx="572.4" cy="1248.5" r="3.15" fill="#ff5a32"/><circle cx="605.5" cy="1268.5" r="12.00" fill="#ff0000"/><circle cx="605.5" cy="1268.5" r="9.00" fill="#ff5a32"/><circle cx="605.5" cy="1268.5" r="6.00" fill="#fb9f5a"/><circle cx="605.5" cy="1268.5" r="2.70" fill="#d3d784"/><circle cx="646.0" cy="1239.2" r="6.00" fill="#ff0000"/><circle cx="646.0" cy="1239.2" r="4.50" fill="#ff5a32"/><circle cx="646.0" cy="1239.2" r="3.00" fill="#fb9f5a"/><circle cx="646.0" cy="1239.2" r="1.35" fill="#d3d784"/><circle cx="667.6" cy="1244.3" r="7.50" fill="#ff0000"/><circle cx="667.6" cy="1244.3" r="5.62" fill="#ff5a32"/><circle cx="667.6" cy="1244.3" r="3.75" fill="#fb9f5a"/><circle cx="667.6" cy="1244.3" r="1.69" fill="#d3d784"/><circle cx="674.8" cy="1233.1" r="10.00" fill="#ff0000"/><circle cx="674.8" cy="1233.1" r="4.50" fill="#ff5a32"/><circle cx="637.4" cy="1257.3" r="4.50" fill="#d3d784"/><circle cx="637.4" cy="1257.3" r="3.00" fill="#30dcdc"/><circle cx="637.4" cy="1257.3" r="1.35" fill="#1a9cf0"/><circle cx="636.3" cy="1269.0" r="7.00" fill="#ff0000"/><circle cx="636.3" cy="1269.0" r="5.60" fill="#ff5a32"/><circle cx="636.3" cy="1269.0" r="4.20" fill="#fb9f5a"/><circle cx="636.3" cy="1269.0" r="2.80" fill="#d3d784"/><circle cx="636.3" cy="1269.0" r="1.26" fill="#a0f5a0"/><circle cx="640.9" cy="1273.6" r="5.00" fill="#ff0000"/><circle cx="640.9" cy="1273.6" r="3.33" fill="#ff5a32"/><circle cx="640.9" cy="1273.6" r="1.50" fill="#fb9f5a"/><circle cx="648.9" cy="1277.0" r="5.00" fill="#ff0000"/><circle cx="648.9" cy="1277.0" r="3.75" fill="#ff5a32"/><circle cx="648.9" cy="1277.0" r="2.50" fill="#68f5c8"/><circle cx="648.9" cy="1277.0" r="1.12" fill="#30dcdc"/><circle cx="663.3" cy="1265.4" r="3.00" fill="#ff0000"/><circle cx="665.6" cy="1262.8" r="3.00" fill="#1a9cf0"/><circle cx="671.4" cy="1273.9" r="6.00" fill="#ff5a32"/><circle cx="671.4" cy="1273.9" r="4.50" fill="#fb9f5a"/><circle cx="671.4" cy="1273.9" r="3.00" fill="#d3d784"/><circle cx="671.4" cy="1273.9" r="1.35" fill="#a0f5a0"/><circle cx="670.5" cy="1285.4" r="8.00" fill="#ff0000"/><circle cx="670.5" cy="1285.4" r="6.40" fill="#ff5a32"/><circle cx="670.5" cy="1285.4" r="4.80" fill="#fb9f5a"/><circle cx="670.5" cy="1285.4" r="3.20" fill="#d3d784"/><circle cx="670.5" cy="1285.4" r="1.44" fill="#a0f5a0"/><circle cx="670.5" cy="1292.7" r="4.00" fill="#ff0000"/><circle cx="670.5" cy="1292.7" r="1.80" fill="#ff5a32"/><circle cx="669.4" cy="1300.8" r="3.50" fill="#ff0000"/><circle cx="669.4" cy="1300.8" r="2.33" fill="#ff5a32"/><circle cx="669.4" cy="1300.8" r="1.05" fill="#fb9f5a"/><circle cx="691.3" cy="1267.0" r="5.00" fill="#ff0000"/><circle cx="691.3" cy="1267.0" r="3.33" fill="#ff5a32"/><circle cx="691.3" cy="1267.0" r="1.50" fill="#fb9f5a"/><circle cx="720.3" cy="1249.3" r="8.00" fill="#ff0000"/><circle cx="720.3" cy="1249.3" r="3.60" fill="#ff5a32"/><circle cx="748.0" cy="1241.1" r="3.00" fill="#fb9f5a"/><circle cx="755.7" cy="1246.9" r="4.50" fill="#ff5a32"/><circle cx="755.7" cy="1246.9" r="3.00" fill="#fb9f5a"/><circle cx="755.7" cy="1246.9" r="1.35" fill="#d3d784"/><circle cx="722.9" cy="1270.8" r="4.00" fill="#d3d784"/><circle cx="722.9" cy="1270.8" r="2.67" fill="#a0f5a0"/><circle cx="722.9" cy="1270.8" r="1.20" fill="#8000ff"/><circle cx="726.9" cy="1272.4" r="2.50" fill="#30dcdc"/><circle cx="717.2" cy="1282.7" r="5.50" fill="#ff5a32"/><circle cx="717.2" cy="1282.7" r="4.12" fill="#fb9f5a"/><circle cx="717.2" cy="1282.7" r="2.75" fill="#d3d784"/><circle cx="717.2" cy="1282.7" r="1.24" fill="#a0f5a0"/><circle cx="698.7" cy="1285.8" r="3.50" fill="#fb9f5a"/><circle cx="698.7" cy="1285.8" r="2.33" fill="#30dcdc"/><circle cx="698.7" cy="1285.8" r="1.05" fill="#1a9cf0"/><circle cx="694.1" cy="1287.8" r="3.50" fill="#ff5a32"/><circle cx="694.1" cy="1287.8" r="2.33" fill="#fb9f5a"/><circle cx="694.1" cy="1287.8" r="1.05" fill="#d3d784"/><circle cx="740.7" cy="1278.0" r="3.00" fill="#a0f5a0"/><circle cx="773.1" cy="1281.9" r="3.00" fill="#ff5a32"/><circle cx="773.1" cy="1281.9" r="1.35" fill="#fb9f5a"/><circle cx="758.0" cy="1289.3" r="3.00" fill="#ff0000"/><circle cx="758.0" cy="1289.3" r="1.35" fill="#a0f5a0"/><circle cx="726.4" cy="1300.1" r="4.00" fill="#ff5a32"/><circle cx="726.4" cy="1300.1" r="2.67" fill="#fb9f5a"/><circle cx="726.4" cy="1300.1" r="1.20" fill="#d3d784"/><circle cx="700.2" cy="1308.5" r="6.00" fill="#ff0000"/><circle cx="700.2" cy="1308.5" r="2.70" fill="#ff5a32"/><circle cx="676.4" cy="1316.2" r="5.00" fill="#ff0000"/><circle cx="676.4" cy="1316.2" r="3.33" fill="#ff5a32"/><circle cx="676.4" cy="1316.2" r="1.50" fill="#fb9f5a"/><circle cx="687.9" cy="1315.5" r="5.00" fill="#ff0000"/><circle cx="687.9" cy="1315.5" r="3.33" fill="#ff5a32"/><circle cx="687.9" cy="1315.5" r="1.50" fill="#d3d784"/><circle cx="687.6" cy="1320.1" r="2.50" fill="#4b55f5"/><circle cx="687.2" cy="1329.3" r="2.50" fill="#a0f5a0"/><circle cx="687.2" cy="1329.3" r="1.12" fill="#8000ff"/><circle cx="739.2" cy="1316.2" r="4.00" fill="#fb9f5a"/><circle cx="739.2" cy="1316.2" r="1.80" fill="#d3d784"/><circle cx="749.5" cy="1321.9" r="2.50" fill="#a0f5a0"/><circle cx="768.8" cy="1324.3" r="2.50" fill="#8000ff"/><circle cx="719.2" cy="1335.0" r="2.50" fill="#ff5a32"/><circle cx="749.5" cy="1341.7" r="3.00" fill="#ff0000"/><circle cx="700.7" cy="1351.4" r="3.00" fill="#ff5a32"/><circle cx="700.7" cy="1351.4" r="1.35" fill="#a0f5a0"/><circle cx="773.9" cy="1361.2" r="2.50" fill="#d3d784"/><circle cx="773.9" cy="1361.2" r="1.12" fill="#30dcdc"/><circle cx="734.9" cy="1372.5" r="8.00" fill="#ff0000"/><circle cx="734.9" cy="1372.5" r="6.40" fill="#ff5a32"/><circle cx="734.9" cy="1372.5" r="4.80" fill="#fb9f5a"/><circle cx="734.9" cy="1372.5" r="3.20" fill="#d3d784"/><circle cx="734.9" cy="1372.5" r="1.44" fill="#a0f5a0"/><circle cx="701.0" cy="1376.8" r="3.50" fill="#a0f5a0"/><circle cx="701.0" cy="1376.8" r="2.62" fill="#68f5c8"/><circle cx="701.0" cy="1376.8" r="1.75" fill="#30dcdc"/><circle cx="701.0" cy="1376.8" r="1.00" fill="#4b55f5"/><circle cx="759.1" cy="1382.5" r="2.50" fill="#68f5c8"/><circle cx="740.0" cy="1395.6" r="2.50" fill="#ff5a32"/><circle cx="709.5" cy="1439.5" r="2.50" fill="#1a9cf0"/><circle cx="694.8" cy="1406.0" r="2.50" fill="#4b55f5"/><circle cx="673.0" cy="1396.3" r="2.50" fill="#fb9f5a"/><circle cx="659.1" cy="1391.4" r="3.00" fill="#30dcdc"/><circle cx="659.1" cy="1391.4" r="1.35" fill="#8000ff"/><circle cx="667.9" cy="1378.3" r="2.50" fill="#30dcdc"/><circle cx="647.9" cy="1366.0" r="2.50" fill="#1a9cf0"/><circle cx="668.7" cy="1352.9" r="2.50" fill="#d3d784"/><circle cx="670.2" cy="1334.4" r="4.50" fill="#1a9cf0"/><circle cx="670.2" cy="1334.4" r="3.00" fill="#4b55f5"/><circle cx="670.2" cy="1334.4" r="1.35" fill="#8000ff"/><circle cx="665.6" cy="1307.0" r="2.50" fill="#1a9cf0"/><circle cx="651.4" cy="1332.4" r="4.50" fill="#fb9f5a"/><circle cx="651.4" cy="1332.4" r="3.00" fill="#d3d784"/><circle cx="651.4" cy="1332.4" r="1.35" fill="#a0f5a0"/><circle cx="642.8" cy="1330.1" r="4.50" fill="#fb9f5a"/><circle cx="642.8" cy="1330.1" r="3.00" fill="#d3d784"/><circle cx="642.8" cy="1330.1" r="1.35" fill="#a0f5a0"/><circle cx="628.9" cy="1344.0" r="4.50" fill="#fb9f5a"/><circle cx="628.9" cy="1344.0" r="3.38" fill="#a0f5a0"/><circle cx="628.9" cy="1344.0" r="2.25" fill="#30dcdc"/><circle cx="628.9" cy="1344.0" r="1.01" fill="#1a9cf0"/><circle cx="619.1" cy="1309.3" r="5.50" fill="#ff5a32"/><circle cx="619.1" cy="1309.3" r="4.40" fill="#fb9f5a"/><circle cx="619.1" cy="1309.3" r="3.30" fill="#d3d784"/><circle cx="619.1" cy="1309.3" r="2.20" fill="#30dcdc"/><circle cx="619.1" cy="1309.3" r="1.00" fill="#1a9cf0"/><circle cx="611.4" cy="1315.5" r="3.00" fill="#ff5a32"/><circle cx="611.4" cy="1315.5" r="1.35" fill="#d3d784"/><circle cx="623.5" cy="1316.6" r="3.00" fill="#ff5a32"/><circle cx="623.5" cy="1316.6" r="2.00" fill="#a0f5a0"/><circle cx="623.5" cy="1316.6" r="1.00" fill="#30dcdc"/><circle cx="615.5" cy="1286.2" r="3.50" fill="#1a9cf0"/><circle cx="615.5" cy="1286.2" r="2.33" fill="#4b55f5"/><circle cx="615.5" cy="1286.2" r="1.05" fill="#8000ff"/><circle cx="626.3" cy="1286.2" r="1.50" fill="#1a9cf0"/><circle cx="586.3" cy="1293.1" r="6.00" fill="#ff0000"/><circle cx="586.3" cy="1293.1" r="2.70" fill="#ff5a32"/><circle cx="585.2" cy="1299.3" r="5.00" fill="#ff0000"/><circle cx="585.2" cy="1299.3" r="3.75" fill="#ff5a32"/><circle cx="585.2" cy="1299.3" r="2.50" fill="#fb9f5a"/><circle cx="585.2" cy="1299.3" r="1.12" fill="#d3d784"/><circle cx="596.3" cy="1298.5" r="2.50" fill="#a0f5a0"/><circle cx="563.2" cy="1293.1" r="5.50" fill="#ff0000"/><circle cx="563.2" cy="1293.1" r="2.48" fill="#ff5a32"/><circle cx="568.9" cy="1310.1" r="7.00" fill="#ff0000"/><circle cx="568.9" cy="1310.1" r="5.60" fill="#ff5a32"/><circle cx="568.9" cy="1310.1" r="4.20" fill="#fb9f5a"/><circle cx="568.9" cy="1310.1" r="2.80" fill="#d3d784"/><circle cx="568.9" cy="1310.1" r="1.26" fill="#a0f5a0"/><circle cx="558.5" cy="1305.0" r="3.00" fill="#d3d784"/><circle cx="558.5" cy="1305.0" r="1.35" fill="#a0f5a0"/><circle cx="543.6" cy="1317.8" r="7.00" fill="#ff0000"/><circle cx="543.6" cy="1317.8" r="4.67" fill="#ff5a32"/><circle cx="543.6" cy="1317.8" r="2.10" fill="#fb9f5a"/><circle cx="513.9" cy="1313.6" r="6.00" fill="#ff0000"/><circle cx="513.9" cy="1313.6" r="4.80" fill="#ff5a32"/><circle cx="513.9" cy="1313.6" r="3.60" fill="#fb9f5a"/><circle cx="513.9" cy="1313.6" r="2.40" fill="#d3d784"/><circle cx="513.9" cy="1313.6" r="1.08" fill="#a0f5a0"/><circle cx="500.0" cy="1318.1" r="3.00" fill="#d3d784"/><circle cx="562.4" cy="1335.5" r="8.00" fill="#ff0000"/><circle cx="562.4" cy="1335.5" r="5.33" fill="#ff5a32"/><circle cx="562.4" cy="1335.5" r="2.40" fill="#fb9f5a"/><circle cx="604.8" cy="1330.9" r="4.00" fill="#ff5a32"/><circle cx="604.8" cy="1330.9" r="1.80" fill="#fb9f5a"/><circle cx="618.3" cy="1334.4" r="1.50" fill="#1a9cf0"/><circle cx="522.8" cy="1338.6" r="1.50" fill="#4b55f5"/><circle cx="531.3" cy="1343.5" r="3.00" fill="#ff5a32"/><circle cx="531.3" cy="1343.5" r="1.35" fill="#fb9f5a"/><circle cx="542.4" cy="1344.0" r="2.50" fill="#fb9f5a"/><circle cx="553.9" cy="1344.7" r="4.00" fill="#ff0000"/><circle cx="553.9" cy="1344.7" r="2.67" fill="#68f5c8"/><circle cx="553.9" cy="1344.7" r="1.20" fill="#30dcdc"/><circle cx="575.5" cy="1344.0" r="3.80" fill="#ff0000"/><circle cx="575.5" cy="1344.0" r="1.71" fill="#ff5a32"/><circle cx="514.7" cy="1352.9" r="4.50" fill="#fb9f5a"/><circle cx="514.7" cy="1352.9" r="3.00" fill="#d3d784"/><circle cx="514.7" cy="1352.9" r="1.35" fill="#a0f5a0"/><circle cx="495.9" cy="1348.1" r="1.50" fill="#1a9cf0"/><circle cx="493.9" cy="1354.0" r="2.50" fill="#68f5c8"/><circle cx="523.1" cy="1377.1" r="7.00" fill="#ff0000"/><circle cx="523.1" cy="1377.1" r="3.15" fill="#ff5a32"/><circle cx="572.9" cy="1379.1" r="3.00" fill="#68f5c8"/><circle cx="572.9" cy="1379.1" r="1.35" fill="#30dcdc"/><circle cx="579.8" cy="1367.8" r="3.00" fill="#1a9cf0"/><circle cx="579.8" cy="1367.8" r="1.35" fill="#4b55f5"/><circle cx="591.4" cy="1364.5" r="2.50" fill="#fb9f5a"/><circle cx="604.4" cy="1377.5" r="3.00" fill="#d3d784"/><circle cx="604.4" cy="1377.5" r="1.35" fill="#1a9cf0"/><circle cx="626.3" cy="1376.0" r="2.50" fill="#4b55f5"/><circle cx="632.2" cy="1380.9" r="7.50" fill="#ff0000"/><circle cx="632.2" cy="1380.9" r="5.62" fill="#ff5a32"/><circle cx="632.2" cy="1380.9" r="3.75" fill="#fb9f5a"/><circle cx="632.2" cy="1380.9" r="1.69" fill="#d3d784"/><circle cx="607.8" cy="1397.6" r="2.50" fill="#d3d784"/><circle cx="631.4" cy="1402.5" r="3.00" fill="#d3d784"/><circle cx="631.4" cy="1402.5" r="1.35" fill="#a0f5a0"/><circle cx="562.7" cy="1392.9" r="2.50" fill="#8000ff"/><circle cx="530.5" cy="1400.2" r="2.50" fill="#d3d784"/><circle cx="506.2" cy="1405.6" r="3.30" fill="#30dcdc"/><circle cx="506.2" cy="1405.6" r="1.48" fill="#4b55f5"/><circle cx="483.5" cy="1400.2" r="1.50" fill="#4b55f5"/><circle cx="556.5" cy="1403.6" r="2.50" fill="#4b55f5"/><circle cx="580.1" cy="1404.5" r="3.30" fill="#4b55f5"/><circle cx="580.1" cy="1404.5" r="1.48" fill="#8000ff"/><circle cx="553.9" cy="1417.6" r="3.50" fill="#d3d784"/><circle cx="553.9" cy="1417.6" r="2.33" fill="#68f5c8"/><circle cx="553.9" cy="1417.6" r="1.05" fill="#1a9cf0"/><circle cx="597.4" cy="1415.3" r="2.50" fill="#4b55f5"/><circle cx="516.5" cy="1423.3" r="2.50" fill="#4b55f5"/><circle cx="580.9" cy="1421.0" r="2.50" fill="#4b55f5"/><circle cx="623.2" cy="1427.1" r="2.50" fill="#8000ff"/><circle cx="652.2" cy="1426.4" r="2.50" fill="#ff0000"/><circle cx="513.1" cy="1435.6" r="2.50" fill="#1a9cf0"/><circle cx="534.7" cy="1437.9" r="2.50" fill="#ff0000"/><circle cx="489.7" cy="1445.2" r="2.50" fill="#30dcdc"/><circle cx="580.9" cy="1447.2" r="2.50" fill="#68f5c8"/><circle cx="580.9" cy="1447.2" r="1.12" fill="#1a9cf0"/><circle cx="600.8" cy="1452.4" r="5.00" fill="#ff0000"/><circle cx="600.8" cy="1452.4" r="3.33" fill="#ff5a32"/><circle cx="600.8" cy="1452.4" r="1.50" fill="#d3d784"/><circle cx="399.1" cy="1380.0" r="2.50" fill="#4b55f5"/><circle cx="456.4" cy="1380.0" r="3.30" fill="#ff0000"/><circle cx="456.4" cy="1380.0" r="1.48" fill="#fb9f5a"/><circle cx="446.2" cy="1433.0" r="2.50" fill="#ff5a32"/><circle cx="459.2" cy="1457.3" r="2.50" fill="#ff5a32"/><circle cx="491.5" cy="1470.3" r="2.50" fill="#d3d784"/><circle cx="644.9" cy="1462.2" r="3.30" fill="#ff0000"/><circle cx="651.9" cy="1426.2" r="2.50" fill="#ff0000"/><circle cx="700.9" cy="1377.0" r="3.50" fill="#a0f5a0"/><circle cx="700.9" cy="1377.0" r="2.33" fill="#68f5c8"/><circle cx="700.9" cy="1377.0" r="1.05" fill="#1a9cf0"/><circle cx="758.8" cy="1382.2" r="2.50" fill="#68f5c8"/><circle cx="783.4" cy="1393.9" r="3.50" fill="#30dcdc"/><circle cx="783.4" cy="1393.9" r="2.33" fill="#1a9cf0"/><circle cx="783.4" cy="1393.9" r="1.05" fill="#4b55f5"/><circle cx="805.9" cy="1376.3" r="2.50" fill="#ff0000"/><circle cx="694.7" cy="1406.2" r="2.50" fill="#4b55f5"/><circle cx="673.2" cy="1396.3" r="2.50" fill="#fb9f5a"/><circle cx="668.0" cy="1378.5" r="2.50" fill="#30dcdc"/><circle cx="658.7" cy="1391.4" r="3.30" fill="#30dcdc"/><circle cx="658.7" cy="1391.4" r="1.48" fill="#8000ff"/><circle cx="626.4" cy="1375.4" r="2.50" fill="#4b55f5"/><circle cx="604.2" cy="1377.6" r="3.00" fill="#fb9f5a"/><circle cx="604.2" cy="1377.6" r="1.35" fill="#1a9cf0"/><circle cx="591.3" cy="1364.6" r="2.50" fill="#fb9f5a"/><circle cx="580.2" cy="1367.7" r="3.00" fill="#4b55f5"/><circle cx="850.4" cy="1191.9" r="2.50" fill="#ff0000"/><circle cx="860.6" cy="1215.7" r="2.50" fill="#fb9f5a"/><circle cx="842.0" cy="1220.6" r="1.80" fill="#68f5c8"/><circle cx="917.5" cy="1228.0" r="2.50" fill="#ff0000"/><circle cx="703.6" cy="1247.7" r="7.6" fill="#ff00ff"/><circle cx="703.6" cy="1247.7" r="5.6" fill="#ff0000"/><circle cx="703.6" cy="1247.7" r="3.5" fill="#ff5a32"/><rect x="439.1" y="1050.6" width="67.4" height="13.1" fill="#fff"/><text x="441.0" y="1060.0" font-family="Liberation Sans" font-size="9.3" font-weight="bold" fill="#000" textLength="63.1" lengthAdjust="spacingAndGlyphs">BOENGLER K</text><rect x="532.0" y="1049.9" width="21.8" height="14.1" fill="#fff"/><text x="533.9" y="1060.0" font-family="Liberation Sans" font-size="10.0" font-weight="bold" fill="#000" textLength="17.5" lengthAdjust="spacingAndGlyphs">LI J</text><rect x="496.5" y="1102.1" width="71.3" height="15.1" fill="#fff"/><text x="498.4" y="1112.9" font-family="Liberation Sans" font-size="10.7" font-weight="bold" fill="#000" textLength="67.1" lengthAdjust="spacingAndGlyphs">UNKNOWN -</text><rect x="692.1" y="1102.0" width="30.5" height="13.9" fill="#fff"/><text x="694.0" y="1112.0" font-family="Liberation Sans" font-size="9.9" font-weight="bold" fill="#000" textLength="26.2" lengthAdjust="spacingAndGlyphs">LIU Y</text><rect x="422.6" y="1121.2" width="70.3" height="12.5" fill="#fff"/><text x="424.6" y="1130.1" font-family="Liberation Sans" font-size="8.8" font-weight="bold" fill="#000" textLength="65.9" lengthAdjust="spacingAndGlyphs">DAVIDSON SM</text><rect x="598.5" y="1123.9" width="55.0" height="15.1" fill="#fff"/><text x="600.4" y="1134.7" font-family="Liberation Sans" font-size="10.7" font-weight="bold" fill="#000" textLength="50.8" lengthAdjust="spacingAndGlyphs">ZHANG Y</text><rect x="489.5" y="1136.1" width="64.0" height="14.7" fill="#fff"/><text x="491.4" y="1146.6" font-family="Liberation Sans" font-size="10.4" font-weight="bold" fill="#000" textLength="59.8" lengthAdjust="spacingAndGlyphs">HEUSCH G</text><rect x="348.6" y="1164.8" width="70.6" height="15.1" fill="#fff"/><text x="350.5" y="1175.6" font-family="Liberation Sans" font-size="10.7" font-weight="bold" fill="#000" textLength="66.4" lengthAdjust="spacingAndGlyphs">YELLON DM</text><rect x="553.1" y="1171.4" width="100.4" height="11.6" fill="#fff"/><text x="555.1" y="1179.7" font-family="Liberation Sans" font-size="8.3" font-weight="bold" fill="#000" textLength="96.0" lengthAdjust="spacingAndGlyphs">FRANGOGIANNIS NG</text><rect x="670.5" y="1185.3" width="44.0" height="16.6" fill="#fff"/><text x="672.3" y="1197.2" font-family="Liberation Sans" font-size="11.7" font-weight="bold" fill="#000" textLength="39.8" lengthAdjust="spacingAndGlyphs">ZHOU H</text><rect x="721.1" y="1185.9" width="50.0" height="14.1" fill="#fff"/><text x="723.0" y="1196.0" font-family="Liberation Sans" font-size="10.0" font-weight="bold" fill="#000" textLength="45.7" lengthAdjust="spacingAndGlyphs">ZHANG J</text><rect x="454.5" y="1193.2" width="68.9" height="11.9" fill="#fff"/><text x="456.5" y="1201.7" font-family="Liberation Sans" font-size="8.4" font-weight="bold" fill="#000" textLength="64.5" lengthAdjust="spacingAndGlyphs">KALOGERIS T</text><rect x="655.9" y="1195.6" width="47.4" height="15.0" fill="#fff"/><text x="657.8" y="1207.6" font-family="Liberation Sans" font-size="9.6" font-weight="bold" fill="#000" textLength="43.1" lengthAdjust="spacingAndGlyphs">WANG Y</text><rect x="510.3" y="1203.3" width="97.5" height="14.9" fill="#fff"/><text x="512.2" y="1214.0" font-family="Liberation Sans" font-size="10.6" font-weight="bold" fill="#000" textLength="93.3" lengthAdjust="spacingAndGlyphs">HAUSENLOY DJ</text><rect x="651.3" y="1219.8" width="46.6" height="13.9" fill="#fff"/><text x="653.2" y="1229.8" font-family="Liberation Sans" font-size="9.9" font-weight="bold" fill="#000" textLength="42.3" lengthAdjust="spacingAndGlyphs">WANG J</text><rect x="699.3" y="1234.5" width="43.5" height="14.1" fill="#fff"/><text x="701.2" y="1244.6" font-family="Liberation Sans" font-size="10.0" font-weight="bold" fill="#000" textLength="39.2" lengthAdjust="spacingAndGlyphs">CHEN Y</text><rect x="553.0" y="1235.9" width="39.6" height="13.3" fill="#fff"/><text x="554.9" y="1245.4" font-family="Liberation Sans" font-size="9.4" font-weight="bold" fill="#000" textLength="35.3" lengthAdjust="spacingAndGlyphs">YANG Y</text><rect x="322.6" y="1242.8" width="84.7" height="15.1" fill="#fff"/><text x="324.5" y="1253.6" font-family="Liberation Sans" font-size="10.7" font-weight="bold" fill="#000" textLength="80.5" lengthAdjust="spacingAndGlyphs">HALESTRAP AP</text><rect x="411.3" y="1249.8" width="55.0" height="13.3" fill="#fff"/><text x="413.2" y="1259.3" font-family="Liberation Sans" font-size="9.4" font-weight="bold" fill="#000" textLength="50.7" lengthAdjust="spacingAndGlyphs">BAINES CP</text><rect x="581.8" y="1252.7" width="48.1" height="14.1" fill="#fff"/><text x="583.7" y="1262.8" font-family="Liberation Sans" font-size="10.0" font-weight="bold" fill="#000" textLength="43.8" lengthAdjust="spacingAndGlyphs">ONG SB</text><rect x="542.5" y="1280.1" width="40.9" height="13.3" fill="#fff"/><text x="544.4" y="1289.6" font-family="Liberation Sans" font-size="9.4" font-weight="bold" fill="#000" textLength="36.6" lengthAdjust="spacingAndGlyphs">CHEN Q</text><rect x="417.0" y="1294.5" width="83.5" height="14.7" fill="#fff"/><text x="418.9" y="1305.0" font-family="Liberation Sans" font-size="10.4" font-weight="bold" fill="#000" textLength="79.3" lengthAdjust="spacingAndGlyphs">LESNEFSKY EJ</text><rect x="674.9" y="1294.8" width="51.2" height="13.1" fill="#fff"/><text x="676.8" y="1304.2" font-family="Liberation Sans" font-size="9.3" font-weight="bold" fill="#000" textLength="46.9" lengthAdjust="spacingAndGlyphs">DORN GW</text><rect x="521.1" y="1321.1" width="83.8" height="14.1" fill="#fff"/><text x="523.0" y="1331.2" font-family="Liberation Sans" font-size="10.0" font-weight="bold" fill="#000" textLength="79.5" lengthAdjust="spacingAndGlyphs">CHOUCHANI ET</text><rect x="374.6" y="1334.6" width="59.7" height="14.7" fill="#fff"/><text x="376.5" y="1345.1" font-family="Liberation Sans" font-size="10.4" font-weight="bold" fill="#000" textLength="55.5" lengthAdjust="spacingAndGlyphs">MURPHY E</text><rect x="482.9" y="1364.0" width="80.5" height="13.5" fill="#fff"/><text x="484.8" y="1373.7" font-family="Liberation Sans" font-size="9.6" font-weight="bold" fill="#000" textLength="76.2" lengthAdjust="spacingAndGlyphs">LOPASCHUK GD</text><text x="11.0" y="96.8" font-family="'Liberation Sans','Noto Sans CJK SC',sans-serif" font-size="9.6" font-weight="bold" fill="#1a1a1a" textLength="188.1" lengthAdjust="spacingAndGlyphs">CiteSpace, v. 6.4.R2 (64-bit) Advanced ✓</text><text x="11.0" y="105.9" font-family="'Liberation Sans','Noto Sans CJK SC',sans-serif" font-size="9.6" font-weight="bold" fill="#1a1a1a" textLength="142.6" lengthAdjust="spacingAndGlyphs">April 17, 2025, 9:14:49 PM CST</text><text x="11.0" y="115.0" font-family="'Liberation Sans','Noto Sans CJK SC',sans-serif" font-size="9.6" font-weight="bold" fill="#1a1a1a" textLength="224.7" lengthAdjust="spacingAndGlyphs">WoS: E:\<tspan font-weight="normal" fill="#444">文献计量学</tspan>\Citespace\examplewos\data</text><text x="11.0" y="124.1" font-family="'Liberation Sans','Noto Sans CJK SC',sans-serif" font-size="9.6" font-weight="bold" fill="#1a1a1a" textLength="178.2" lengthAdjust="spacingAndGlyphs">Timespan: 2015-2024 (Slice Length=1)</text><text x="11.0" y="133.2" font-family="'Liberation Sans','Noto Sans CJK SC',sans-serif" font-size="9.6" font-weight="bold" fill="#1a1a1a" textLength="301.9" lengthAdjust="spacingAndGlyphs">Selection Criteria: g-index (k=25), LRF=3.0, L/N=10, LBY=5, e=1.0</text><text x="11.0" y="142.3" font-family="'Liberation Sans','Noto Sans CJK SC',sans-serif" font-size="9.6" font-weight="bold" fill="#1a1a1a" textLength="189.1" lengthAdjust="spacingAndGlyphs">Network: N=536, E=891 (Density=0.0062)</text><text x="11.0" y="151.4" font-family="'Liberation Sans','Noto Sans CJK SC',sans-serif" font-size="9.6" font-weight="bold" fill="#1a1a1a" textLength="117.6" lengthAdjust="spacingAndGlyphs">Largest 1 CCs: 101 (18%)</text><text x="11.0" y="160.5" font-family="'Liberation Sans','Noto Sans CJK SC',sans-serif" font-size="9.6" font-weight="bold" fill="#1a1a1a" textLength="98.7" lengthAdjust="spacingAndGlyphs">Nodes Labeled: 1.0%</text><text x="11.0" y="169.6" font-family="'Liberation Sans','Noto Sans CJK SC',sans-serif" font-size="9.6" font-weight="bold" fill="#1a1a1a" textLength="91.7" lengthAdjust="spacingAndGlyphs">Pruning: Pathfinder</text><text x="11.0" y="839.0" font-family="'Liberation Sans','Noto Sans CJK SC',sans-serif" font-size="9.6" font-weight="bold" fill="#1a1a1a" textLength="188.0" lengthAdjust="spacingAndGlyphs">CiteSpace, v. 6.4.R2 (64-bit) Advanced ✓</text><text x="11.0" y="848.1" font-family="'Liberation Sans','Noto Sans CJK SC',sans-serif" font-size="9.6" font-weight="bold" fill="#1a1a1a" textLength="142.6" lengthAdjust="spacingAndGlyphs">April 17, 2025, 9:59:49 PM CST</text><text x="11.0" y="857.2" font-family="'Liberation Sans','Noto Sans CJK SC',sans-serif" font-size="9.6" font-weight="bold" fill="#1a1a1a" textLength="224.7" lengthAdjust="spacingAndGlyphs">WoS: E:\<tspan font-weight="normal" fill="#444">文献计量学</tspan>\Citespace\examplewos\data</text><text x="11.0" y="866.3" font-family="'Liberation Sans','Noto Sans CJK SC',sans-serif" font-size="9.6" font-weight="bold" fill="#1a1a1a" textLength="178.2" lengthAdjust="spacingAndGlyphs">Timespan: 2015-2024 (Slice Length=1)</text><text x="11.0" y="875.4" font-family="'Liberation Sans','Noto Sans CJK SC',sans-serif" font-size="9.6" font-weight="bold" fill="#1a1a1a" textLength="301.1" lengthAdjust="spacingAndGlyphs">Selection Criteria: g-index (k=10), LRF=3.0, L/N=10, LBY=5, e=1.0</text><text x="11.0" y="884.5" font-family="'Liberation Sans','Noto Sans CJK SC',sans-serif" font-size="9.6" font-weight="bold" fill="#1a1a1a" textLength="194.3" lengthAdjust="spacingAndGlyphs">Network: N=522, E=1286 (Density=0.0095)</text><text x="11.0" y="893.6" font-family="'Liberation Sans','Noto Sans CJK SC',sans-serif" font-size="9.6" font-weight="bold" fill="#1a1a1a" textLength="117.6" lengthAdjust="spacingAndGlyphs">Largest 1 CCs: 487 (93%)</text><text x="11.0" y="902.7" font-family="'Liberation Sans','Noto Sans CJK SC',sans-serif" font-size="9.6" font-weight="bold" fill="#1a1a1a" textLength="98.7" lengthAdjust="spacingAndGlyphs">Nodes Labeled: 1.0%</text><text x="11.0" y="911.8" font-family="'Liberation Sans','Noto Sans CJK SC',sans-serif" font-size="9.6" font-weight="bold" fill="#1a1a1a" textLength="91.7" lengthAdjust="spacingAndGlyphs">Pruning: Pathfinder</text><rect x="28" y="543.90" width="47.3" height="11.11" fill="#ff0000"/><text x="51.6" y="552.36" font-family="Liberation Sans" font-size="6.8" font-weight="bold" fill="#000" text-anchor="middle">2024</text><rect x="28" y="554.81" width="47.3" height="11.11" fill="#ff5a32"/><text x="51.6" y="563.26" font-family="Liberation Sans" font-size="6.8" font-weight="bold" fill="#000" text-anchor="middle">2023</text><rect x="28" y="565.72" width="47.3" height="11.11" fill="#fb9f5a"/><text x="51.6" y="574.18" font-family="Liberation Sans" font-size="6.8" font-weight="bold" fill="#000" text-anchor="middle">2022</text><rect x="28" y="576.63" width="47.3" height="11.11" fill="#d3d784"/><text x="51.6" y="585.09" font-family="Liberation Sans" font-size="6.8" font-weight="bold" fill="#000" text-anchor="middle">2021</text><rect x="28" y="587.54" width="47.3" height="11.11" fill="#a0f5a0"/><text x="51.6" y="596.00" font-family="Liberation Sans" font-size="6.8" font-weight="bold" fill="#000" text-anchor="middle">2020</text><rect x="28" y="598.45" width="47.3" height="11.11" fill="#68f5c8"/><text x="51.6" y="606.91" font-family="Liberation Sans" font-size="6.8" font-weight="bold" fill="#000" text-anchor="middle">2019</text><rect x="28" y="609.36" width="47.3" height="11.11" fill="#30dcdc"/><text x="51.6" y="617.82" font-family="Liberation Sans" font-size="6.8" font-weight="bold" fill="#000" text-anchor="middle">2018</text><rect x="28" y="620.27" width="47.3" height="11.11" fill="#1a9cf0"/><text x="51.6" y="628.73" font-family="Liberation Sans" font-size="6.8" font-weight="bold" fill="#000" text-anchor="middle">2017</text><rect x="28" y="631.18" width="47.3" height="11.11" fill="#4b55f5"/><text x="51.6" y="639.63" font-family="Liberation Sans" font-size="6.8" font-weight="bold" fill="#000" text-anchor="middle">2016</text><rect x="28" y="642.09" width="47.3" height="11.11" fill="#8000ff"/><text x="51.6" y="650.55" font-family="Liberation Sans" font-size="6.8" font-weight="bold" fill="#000" text-anchor="middle">2015</text><rect x="28" y="1285.80" width="47.3" height="11.11" fill="#ff0000"/><text x="51.6" y="1294.25" font-family="Liberation Sans" font-size="6.8" font-weight="bold" fill="#000" text-anchor="middle">2024</text><rect x="28" y="1296.71" width="47.3" height="11.11" fill="#ff5a32"/><text x="51.6" y="1305.16" font-family="Liberation Sans" font-size="6.8" font-weight="bold" fill="#000" text-anchor="middle">2023</text><rect x="28" y="1307.62" width="47.3" height="11.11" fill="#fb9f5a"/><text x="51.6" y="1316.07" font-family="Liberation Sans" font-size="6.8" font-weight="bold" fill="#000" text-anchor="middle">2022</text><rect x="28" y="1318.53" width="47.3" height="11.11" fill="#d3d784"/><text x="51.6" y="1326.98" font-family="Liberation Sans" font-size="6.8" font-weight="bold" fill="#000" text-anchor="middle">2021</text><rect x="28" y="1329.44" width="47.3" height="11.11" fill="#a0f5a0"/><text x="51.6" y="1337.89" font-family="Liberation Sans" font-size="6.8" font-weight="bold" fill="#000" text-anchor="middle">2020</text><rect x="28" y="1340.35" width="47.3" height="11.11" fill="#68f5c8"/><text x="51.6" y="1348.80" font-family="Liberation Sans" font-size="6.8" font-weight="bold" fill="#000" text-anchor="middle">2019</text><rect x="28" y="1351.26" width="47.3" height="11.11" fill="#30dcdc"/><text x="51.6" y="1359.71" font-family="Liberation Sans" font-size="6.8" font-weight="bold" fill="#000" text-anchor="middle">2018</text><rect x="28" y="1362.17" width="47.3" height="11.11" fill="#1a9cf0"/><text x="51.6" y="1370.62" font-family="Liberation Sans" font-size="6.8" font-weight="bold" fill="#000" text-anchor="middle">2017</text><rect x="28" y="1373.08" width="47.3" height="11.11" fill="#4b55f5"/><text x="51.6" y="1381.53" font-family="Liberation Sans" font-size="6.8" font-weight="bold" fill="#000" text-anchor="middle">2016</text><rect x="28" y="1383.99" width="47.3" height="11.11" fill="#8000ff"/><text x="51.6" y="1392.44" font-family="Liberation Sans" font-size="6.8" font-weight="bold" fill="#000" text-anchor="middle">2015</text><defs><linearGradient id="lga" x1="0" y1="0" x2="0" y2="1"><stop offset="0" stop-color="#8c8c8c"/><stop offset="1" stop-color="#e2e2e2"/></linearGradient><path id="arca" d="M 15.5 707.2 Q 53 702.2 91 707.8"/></defs><text font-family="Liberation Sans" font-size="14.2" font-weight="bold" fill="#9a9a9a"><textPath href="#arca" textLength="73" lengthAdjust="spacingAndGlyphs">CiteSpace</textPath></text><rect x="24.9" y="715.8" width="10.3" height="7.4" fill="url(#lga)"/><rect x="36.2" y="713.0" width="10.7" height="10.2" fill="url(#lga)"/><rect x="47.6" y="709.3" width="10.6" height="13.9" fill="url(#lga)"/><rect x="58.9" y="713.0" width="10.7" height="10.2" fill="url(#lga)"/><rect x="70.3" y="715.8" width="10.7" height="7.4" fill="url(#lga)"/><path d="M 10 723.9 Q 35 725.3 52.6 729.6 Q 70 725.3 94.5 723.9" stroke="#8a8a8a" stroke-width="1.3" fill="none"/><path d="M 8 728.6 Q 35 729.0 52.6 730.8 Q 70 729.0 96.5 728.6" stroke="#8a8a8a" stroke-width="1.6" fill="none"/><defs><linearGradient id="lgc" x1="0" y1="0" x2="0" y2="1"><stop offset="0" stop-color="#8c8c8c"/><stop offset="1" stop-color="#e2e2e2"/></linearGradient><path id="arcc" d="M 15.5 1449.2 Q 53 1444.2 91 1449.8"/></defs><text font-family="Liberation Sans" font-size="14.2" font-weight="bold" fill="#9a9a9a"><textPath href="#arcc" textLength="73" lengthAdjust="spacingAndGlyphs">CiteSpace</textPath></text><rect x="24.9" y="1457.8" width="10.3" height="7.4" fill="url(#lgc)"/><rect x="36.2" y="1455.0" width="10.7" height="10.2" fill="url(#lgc)"/><rect x="47.6" y="1451.3" width="10.6" height="13.9" fill="url(#lgc)"/><rect x="58.9" y="1455.0" width="10.7" height="10.2" fill="url(#lgc)"/><rect x="70.3" y="1457.8" width="10.7" height="7.4" fill="url(#lgc)"/><path d="M 10 1465.9 Q 35 1467.3 52.6 1471.6 Q 70 1467.3 94.5 1465.9" stroke="#8a8a8a" stroke-width="1.3" fill="none"/><path d="M 8 1470.6 Q 35 1471.0 52.6 1472.8 Q 70 1471.0 96.5 1470.6" stroke="#8a8a8a" stroke-width="1.6" fill="none"/><rect x="1134.60" y="112.50" width="705.92" height="39.05" fill="#997300"/><rect x="1134.60" y="151.25" width="694.89" height="39.05" fill="#636363"/><rect x="1134.60" y="190.00" width="441.20" height="39.05" fill="#9e480e"/><rect x="1134.60" y="228.75" width="375.02" height="39.05" fill="#255e91"/><rect x="1134.60" y="267.50" width="231.63" height="39.05" fill="#70ad47"/><rect x="1134.60" y="306.25" width="231.63" height="39.05" fill="#4472c4"/><rect x="1134.60" y="345.00" width="231.63" height="39.05" fill="#ffc000"/><rect x="1134.60" y="383.75" width="231.63" height="39.05" fill="#a5a5a5"/><rect x="1134.60" y="422.50" width="231.63" height="39.05" fill="#ed7d31"/><rect x="1134.60" y="461.25" width="220.60" height="39.05" fill="#5b9bd5"/><text x="1858.9" y="138.9" font-family="Liberation Sans" font-size="21.7" fill="#404040" textLength="22.9" lengthAdjust="spacingAndGlyphs">64</text><text x="1847.9" y="177.6" font-family="Liberation Sans" font-size="21.7" fill="#404040" textLength="22.9" lengthAdjust="spacingAndGlyphs">63</text><text x="1594.2" y="216.4" font-family="Liberation Sans" font-size="21.7" fill="#404040" textLength="22.9" lengthAdjust="spacingAndGlyphs">40</text><text x="1528.0" y="255.1" font-family="Liberation Sans" font-size="21.7" fill="#404040" textLength="22.9" lengthAdjust="spacingAndGlyphs">34</text><text x="1384.6" y="293.9" font-family="Liberation Sans" font-size="21.7" fill="#404040" textLength="22.9" lengthAdjust="spacingAndGlyphs">21</text><text x="1384.6" y="332.6" font-family="Liberation Sans" font-size="21.7" fill="#404040" textLength="22.9" lengthAdjust="spacingAndGlyphs">21</text><text x="1384.6" y="371.4" font-family="Liberation Sans" font-size="21.7" fill="#404040" textLength="22.9" lengthAdjust="spacingAndGlyphs">21</text><text x="1384.6" y="410.1" font-family="Liberation Sans" font-size="21.7" fill="#404040" textLength="22.9" lengthAdjust="spacingAndGlyphs">21</text><text x="1384.6" y="448.9" font-family="Liberation Sans" font-size="21.7" fill="#404040" textLength="22.9" lengthAdjust="spacingAndGlyphs">21</text><text x="1373.6" y="487.6" font-family="Liberation Sans" font-size="21.7" fill="#404040" textLength="22.9" lengthAdjust="spacingAndGlyphs">20</text><text x="1134.6" y="537.0" font-family="Liberation Sans" font-size="23" fill="#000" text-anchor="middle">0</text><text x="1244.9" y="537.0" font-family="Liberation Sans" font-size="23" fill="#000" text-anchor="middle">10</text><text x="1355.2" y="537.0" font-family="Liberation Sans" font-size="23" fill="#000" text-anchor="middle">20</text><text x="1465.5" y="537.0" font-family="Liberation Sans" font-size="23" fill="#000" text-anchor="middle">30</text><text x="1575.8" y="537.0" font-family="Liberation Sans" font-size="23" fill="#000" text-anchor="middle">40</text><text x="1686.1" y="537.0" font-family="Liberation Sans" font-size="23" fill="#000" text-anchor="middle">50</text><text x="1796.4" y="537.0" font-family="Liberation Sans" font-size="23" fill="#000" text-anchor="middle">60</text><text x="1906.7" y="537.0" font-family="Liberation Sans" font-size="23" fill="#000" text-anchor="middle">70</text><rect x="1242.0" y="556.4" width="15.5" height="15.5" fill="#997300"/><text x="1264.5" y="572.4" font-family="Liberation Sans" font-size="23.3" fill="#000">Chattipakorn, Nipon</text><rect x="1525.4" y="556.4" width="15.5" height="15.5" fill="#636363"/><text x="1546.5" y="572.4" font-family="Liberation Sans" font-size="23.3" fill="#000">Chattipakorn, Siriporn C</text><rect x="1242.0" y="592.0" width="15.5" height="15.5" fill="#9e480e"/><text x="1264.5" y="608.0" font-family="Liberation Sans" font-size="23.3" fill="#000">Zhou, Hao</text><rect x="1525.4" y="592.0" width="15.5" height="15.5" fill="#255e91"/><text x="1546.5" y="608.0" font-family="Liberation Sans" font-size="23.3" fill="#000">Kurian, Gino A</text><rect x="1242.0" y="627.6" width="15.5" height="15.5" fill="#70ad47"/><text x="1264.5" y="643.6" font-family="Liberation Sans" font-size="23.3" fill="#000">Yang, Yang</text><rect x="1525.4" y="627.6" width="15.5" height="15.5" fill="#4472c4"/><text x="1546.5" y="643.6" font-family="Liberation Sans" font-size="23.3" fill="#000">Schulz, Rainer</text><rect x="1242.0" y="663.2" width="15.5" height="15.5" fill="#ffc000"/><text x="1264.5" y="679.2" font-family="Liberation Sans" font-size="23.3" fill="#000">Heusch, Gerd</text><rect x="1525.4" y="663.2" width="15.5" height="15.5" fill="#a5a5a5"/><text x="1546.5" y="679.2" font-family="Liberation Sans" font-size="23.3" fill="#000">Apaijai, Nattayaporn</text><rect x="1242.0" y="698.8" width="15.5" height="15.5" fill="#ed7d31"/><text x="1264.5" y="714.8" font-family="Liberation Sans" font-size="23.3" fill="#000">Ren, Jun</text><rect x="1525.4" y="698.8" width="15.5" height="15.5" fill="#5b9bd5"/><text x="1546.5" y="714.8" font-family="Liberation Sans" font-size="23.3" fill="#000">Hausenloy, Derek J</text><rect x="1136.80" y="869.30" width="661.80" height="42.10" fill="#997300"/><rect x="1136.80" y="911.10" width="437.29" height="42.10" fill="#636363"/><rect x="1136.80" y="952.90" width="362.19" height="42.10" fill="#9e480e"/><rect x="1136.80" y="994.70" width="346.55" height="42.10" fill="#255e91"/><rect x="1136.80" y="1036.50" width="334.81" height="42.10" fill="#70ad47"/><rect x="1136.80" y="1078.30" width="281.62" height="42.10" fill="#4472c4"/><rect x="1136.80" y="1120.10" width="261.28" height="42.10" fill="#ffc000"/><rect x="1136.80" y="1161.90" width="251.11" height="42.10" fill="#a5a5a5"/><rect x="1136.80" y="1203.70" width="242.50" height="42.10" fill="#ed7d31"/><rect x="1136.80" y="1245.50" width="239.37" height="42.10" fill="#5b9bd5"/><text x="1817.5" y="897.6" font-family="Liberation Sans" font-size="22.3" fill="#404040" textLength="35.8" lengthAdjust="spacingAndGlyphs">846</text><text x="1593.0" y="939.4" font-family="Liberation Sans" font-size="22.3" fill="#404040" textLength="35.8" lengthAdjust="spacingAndGlyphs">559</text><text x="1517.9" y="981.2" font-family="Liberation Sans" font-size="22.3" fill="#404040" textLength="35.8" lengthAdjust="spacingAndGlyphs">463</text><text x="1502.2" y="1023.0" font-family="Liberation Sans" font-size="22.3" fill="#404040" textLength="35.8" lengthAdjust="spacingAndGlyphs">443</text><text x="1490.5" y="1064.8" font-family="Liberation Sans" font-size="22.3" fill="#404040" textLength="35.8" lengthAdjust="spacingAndGlyphs">428</text><text x="1437.3" y="1106.6" font-family="Liberation Sans" font-size="22.3" fill="#404040" textLength="35.8" lengthAdjust="spacingAndGlyphs">360</text><text x="1417.0" y="1148.4" font-family="Liberation Sans" font-size="22.3" fill="#404040" textLength="35.8" lengthAdjust="spacingAndGlyphs">334</text><text x="1406.8" y="1190.2" font-family="Liberation Sans" font-size="22.3" fill="#404040" textLength="35.8" lengthAdjust="spacingAndGlyphs">321</text><text x="1398.2" y="1232.0" font-family="Liberation Sans" font-size="22.3" fill="#404040" textLength="35.8" lengthAdjust="spacingAndGlyphs">310</text><text x="1395.1" y="1273.8" font-family="Liberation Sans" font-size="22.3" fill="#404040" textLength="35.8" lengthAdjust="spacingAndGlyphs">306</text><text x="1136.8" y="1325.2" font-family="Liberation Sans" font-size="23" fill="#000" text-anchor="middle">0</text><text x="1293.3" y="1325.2" font-family="Liberation Sans" font-size="23" fill="#000" text-anchor="middle">200</text><text x="1449.7" y="1325.2" font-family="Liberation Sans" font-size="23" fill="#000" text-anchor="middle">400</text><text x="1606.2" y="1325.2" font-family="Liberation Sans" font-size="23" fill="#000" text-anchor="middle">600</text><text x="1762.6" y="1325.2" font-family="Liberation Sans" font-size="23" fill="#000" text-anchor="middle">800</text><text x="1919.1" y="1325.2" font-family="Liberation Sans" font-size="23" fill="#000" text-anchor="middle">1000</text><rect x="1207.9" y="1336.8" width="15.5" height="15.5" fill="#997300"/><text x="1230.5" y="1352.8" font-family="Liberation Sans" font-size="23.8" fill="#000">HAUSENLOY DJ</text><rect x="1423.1" y="1336.8" width="15.5" height="15.5" fill="#636363"/><text x="1444.8" y="1352.8" font-family="Liberation Sans" font-size="23.8" fill="#000">HEUSCH G</text><rect x="1637.2" y="1336.8" width="15.5" height="15.5" fill="#9e480e"/><text x="1658.0" y="1352.8" font-family="Liberation Sans" font-size="23.8" fill="#000">ZHANG Y</text><rect x="1207.9" y="1372.4" width="15.5" height="15.5" fill="#255e91"/><text x="1230.5" y="1388.4" font-family="Liberation Sans" font-size="23.8" fill="#000">YELLON DM</text><rect x="1423.1" y="1372.4" width="15.5" height="15.5" fill="#70ad47"/><text x="1444.8" y="1388.4" font-family="Liberation Sans" font-size="23.8" fill="#000">ONG SB</text><rect x="1637.2" y="1372.4" width="15.5" height="15.5" fill="#4472c4"/><text x="1658.0" y="1388.4" font-family="Liberation Sans" font-size="23.8" fill="#000">ZHOU H</text><rect x="1207.9" y="1408.0" width="15.5" height="15.5" fill="#ffc000"/><text x="1230.5" y="1424.0" font-family="Liberation Sans" font-size="23.8" fill="#000">HALESTRAP AP</text><rect x="1423.1" y="1408.0" width="15.5" height="15.5" fill="#a5a5a5"/><text x="1444.8" y="1424.0" font-family="Liberation Sans" font-size="23.8" fill="#000">WANG Y</text><rect x="1637.2" y="1408.0" width="15.5" height="15.5" fill="#ed7d31"/><text x="1658.0" y="1424.0" font-family="Liberation Sans" font-size="23.8" fill="#000">ZHANG J</text><rect x="1207.9" y="1443.8" width="15.5" height="15.5" fill="#5b9bd5"/><text x="1230.5" y="1459.8" font-family="Liberation Sans" font-size="23.8" fill="#000">MURPHY E</text><text transform="translate(3.95,63.80) scale(0.812,1)" x="0" y="0" font-family="Liberation Sans" font-size="86.8" fill="#000" stroke="#000" stroke-width="2.0">A</text><text transform="translate(1091.70,63.10) scale(0.781,1)" x="0" y="0" font-family="Liberation Sans" font-size="86.3" fill="#000" stroke="#000" stroke-width="2.2">B</text><text transform="translate(0.30,811.90) scale(0.764,1)" x="0" y="0" font-family="Liberation Sans" font-size="83.7" fill="#000" stroke="#000" stroke-width="2.2">C</text><text transform="translate(1095.50,813.50) scale(0.867,1)" x="0" y="0" font-family="Liberation Sans" font-size="86.1" fill="#000" stroke="#000" stroke-width="2.2">D</text></svg></body></html>
